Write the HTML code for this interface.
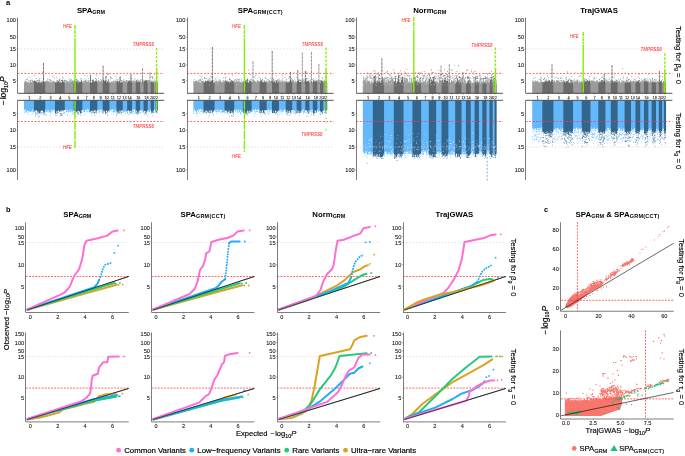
<!DOCTYPE html>
<html><head><meta charset="utf-8"><style>
html,body{margin:0;padding:0;background:#fff;}
svg{display:block;font-family:"Liberation Sans", sans-serif;will-change:transform;}
</style></head><body>
<svg width="685" height="456" viewBox="0 0 685 456">
<rect width="685" height="456" fill="#fff"/>
<text x="90.9" y="12.7" font-size="7.8" font-weight="bold" text-anchor="middle">SPA<tspan font-size="5.4" dy="1.1">GRM</tspan></text>
<line x1="17.6" y1="49" x2="164.2" y2="49" stroke="#c8c8c8" stroke-width="0.5" stroke-dasharray="1.6,1.6" />
<path fill="#9b9b9b" d="M24 83h10.35v10.3h-10.35zM24 81.68h0.5v1.37h-0.5zM24.5 82.16h0.5v0.89h-0.5zM25 80.99h0.5v2.06h-0.5zM25.5 82.46h0.5v0.59h-0.5zM26 81.21h0.5v1.84h-0.5zM26.5 81.58h0.5v1.47h-0.5zM27 82.53h0.5v0.52h-0.5zM27.5 81.27h0.5v1.78h-0.5zM28 82.64h0.5v0.41h-0.5zM28.5 81.43h0.5v1.62h-0.5zM29 82.47h0.5v0.58h-0.5zM29.5 82.38h0.5v0.67h-0.5zM30 81.45h0.5v1.6h-0.5zM30.5 80.68h0.5v2.37h-0.5zM31 82.26h0.5v0.79h-0.5zM31.5 81.94h0.5v1.11h-0.5zM32 81.03h0.5v2.02h-0.5zM32.5 80.48h0.5v2.57h-0.5zM33 81.13h0.5v1.92h-0.5zM33.5 81.51h0.5v1.54h-0.5zM33.27 80.82h0.8v0.8h-0.8zM32.16 80.24h0.8v0.8h-0.8zM25.37 80.67h0.8v0.8h-0.8zM26.93 77.53h0.8v0.8h-0.8zM25.72 79.18h0.8v0.8h-0.8zM30.07 79.99h0.8v0.8h-0.8zM29.2 80.79h0.8v0.8h-0.8zM24.57 80.46h0.8v0.8h-0.8zM30.46 79.8h0.8v0.8h-0.8zM26.98 79.16h0.8v0.8h-0.8zM28.31 80.21h0.8v0.8h-0.8zM31.55 78.52h0.8v0.8h-0.8zM26.32 79.21h0.8v0.8h-0.8zM28.99 76.76h0.8v0.8h-0.8zM30.93 80.24h0.8v0.8h-0.8zM33.31 80.67h0.8v0.8h-0.8zM44.9 83h10.45v10.3h-10.45zM44.9 81.61h0.5v1.44h-0.5zM45.4 81.37h0.5v1.68h-0.5zM45.9 81.12h0.5v1.93h-0.5zM46.4 80.55h0.5v2.5h-0.5zM46.9 81.45h0.5v1.6h-0.5zM47.4 80.53h0.5v2.52h-0.5zM47.9 81.28h0.5v1.77h-0.5zM48.4 81.22h0.5v1.83h-0.5zM48.9 81.24h0.5v1.81h-0.5zM49.4 82.76h0.5v0.29h-0.5zM49.9 81.41h0.5v1.64h-0.5zM50.4 82.06h0.5v0.99h-0.5zM50.9 82.91h0.5v0.14h-0.5zM51.4 80.73h0.5v2.32h-0.5zM51.9 82.09h0.5v0.96h-0.5zM52.4 81.34h0.5v1.71h-0.5zM52.9 80.86h0.5v2.19h-0.5zM53.4 81.17h0.5v1.88h-0.5zM53.9 81.67h0.5v1.38h-0.5zM54.4 81.25h0.5v1.8h-0.5zM54.9 81.17h0.1v1.88h-0.1zM52.43 80.7h0.8v0.8h-0.8zM50.28 80.35h0.8v0.8h-0.8zM47.56 77.96h0.8v0.8h-0.8zM49.77 79.27h0.8v0.8h-0.8zM52.2 76.05h0.8v0.8h-0.8zM49.16 79.02h0.8v0.8h-0.8zM49.75 79.48h0.8v0.8h-0.8zM51.55 79.72h0.8v0.8h-0.8zM50.02 79.62h0.8v0.8h-0.8zM53.94 78.52h0.8v0.8h-0.8zM53.31 75.22h0.8v0.8h-0.8zM47.39 79.28h0.8v0.8h-0.8zM53.96 77.25h0.8v0.8h-0.8zM46.22 80.66h0.8v0.8h-0.8zM49.14 80.77h0.8v0.8h-0.8zM47.21 80.77h0.8v0.8h-0.8zM64.5 83h9.35v10.3h-9.35zM64.5 81.31h0.5v1.74h-0.5zM65 82.92h0.5v0.13h-0.5zM65.5 80.73h0.5v2.32h-0.5zM66 80.82h0.5v2.23h-0.5zM66.5 81.28h0.5v1.77h-0.5zM67 81.21h0.5v1.84h-0.5zM67.5 80.98h0.5v2.07h-0.5zM68 82.49h0.5v0.56h-0.5zM68.5 80.84h0.5v2.21h-0.5zM69 81.86h0.5v1.19h-0.5zM69.5 82.45h0.5v0.6h-0.5zM70 81.83h0.5v1.22h-0.5zM70.5 80.85h0.5v2.2h-0.5zM71 81.99h0.5v1.06h-0.5zM71.5 80.83h0.5v2.22h-0.5zM72 80.44h0.5v2.61h-0.5zM72.5 81.3h0.5v1.75h-0.5zM73 81.54h0.5v1.51h-0.5zM68.57 78.62h0.8v0.8h-0.8zM71.02 79h0.8v0.8h-0.8zM69.96 80.76h0.8v0.8h-0.8zM65.75 80.33h0.8v0.8h-0.8zM70.82 80.19h0.8v0.8h-0.8zM69.33 80.89h0.8v0.8h-0.8zM65.02 80.29h0.8v0.8h-0.8zM70.21 78.56h0.8v0.8h-0.8zM70.24 80.23h0.8v0.8h-0.8zM68.89 79.67h0.8v0.8h-0.8zM68.46 80.67h0.8v0.8h-0.8zM72.1 80.48h0.8v0.8h-0.8zM72.81 75.41h0.8v0.8h-0.8zM64.65 79.69h0.8v0.8h-0.8zM82 83h8.35v10.3h-8.35zM82 81.53h0.5v1.52h-0.5zM82.5 81.94h0.5v1.11h-0.5zM83 81.08h0.5v1.97h-0.5zM83.5 82.83h0.5v0.22h-0.5zM84 81.73h0.5v1.32h-0.5zM84.5 81.37h0.5v1.68h-0.5zM85 80.46h0.5v2.59h-0.5zM85.5 81h0.5v2.05h-0.5zM86 80.59h0.5v2.46h-0.5zM86.5 81.34h0.5v1.71h-0.5zM87 81.91h0.5v1.14h-0.5zM87.5 81.88h0.5v1.17h-0.5zM88 80.46h0.5v2.59h-0.5zM88.5 80.89h0.5v2.16h-0.5zM89 81.72h0.5v1.33h-0.5zM89.5 82.74h0.5v0.31h-0.5zM85.74 78.68h0.8v0.8h-0.8zM85.15 80.33h0.8v0.8h-0.8zM87.01 75.74h0.8v0.8h-0.8zM83.7 80.85h0.8v0.8h-0.8zM84.54 79.83h0.8v0.8h-0.8zM87.12 80.48h0.8v0.8h-0.8zM87.98 78.23h0.8v0.8h-0.8zM85.79 80.46h0.8v0.8h-0.8zM89.27 80.17h0.8v0.8h-0.8zM88.15 80.4h0.8v0.8h-0.8zM83.66 78.06h0.8v0.8h-0.8zM84.21 74.85h0.8v0.8h-0.8zM97 83h5.95v10.3h-5.95zM97 81.27h0.5v1.78h-0.5zM97.5 81.92h0.5v1.13h-0.5zM98 80.71h0.5v2.34h-0.5zM98.5 80.99h0.5v2.06h-0.5zM99 80.41h0.5v2.64h-0.5zM99.5 82.34h0.5v0.71h-0.5zM100 81.34h0.5v1.71h-0.5zM100.5 80.69h0.5v2.36h-0.5zM101 80.66h0.5v2.39h-0.5zM101.5 80.54h0.5v2.51h-0.5zM102 82.62h0.5v0.43h-0.5zM102.5 81.75h0.1v1.3h-0.1zM97.61 80.5h0.8v0.8h-0.8zM101.96 79.17h0.8v0.8h-0.8zM101.74 79.99h0.8v0.8h-0.8zM101.42 79.73h0.8v0.8h-0.8zM98.33 77.91h0.8v0.8h-0.8zM101.82 80.7h0.8v0.8h-0.8zM100.04 78.99h0.8v0.8h-0.8zM98.11 80h0.8v0.8h-0.8zM109.2 83h7.45v10.3h-7.45zM109.2 82.24h0.5v0.81h-0.5zM109.7 81.43h0.5v1.62h-0.5zM110.2 82.38h0.5v0.67h-0.5zM110.7 81.41h0.5v1.64h-0.5zM111.2 81.26h0.5v1.79h-0.5zM111.7 82.62h0.5v0.43h-0.5zM112.2 81.02h0.5v2.03h-0.5zM112.7 82.42h0.5v0.63h-0.5zM113.2 80.84h0.5v2.21h-0.5zM113.7 80.76h0.5v2.29h-0.5zM114.2 81.26h0.5v1.79h-0.5zM114.7 82.55h0.5v0.5h-0.5zM115.2 81.28h0.5v1.77h-0.5zM115.7 81.55h0.5v1.5h-0.5zM116.2 80.48h0.1v2.57h-0.1zM110.1 77.03h0.8v0.8h-0.8zM115.77 78.29h0.8v0.8h-0.8zM114.58 80.49h0.8v0.8h-0.8zM115.68 79.57h0.8v0.8h-0.8zM115.51 75.97h0.8v0.8h-0.8zM110.29 77.81h0.8v0.8h-0.8zM115.34 80.78h0.8v0.8h-0.8zM111.52 78.1h0.8v0.8h-0.8zM110.25 76.38h0.8v0.8h-0.8zM111.01 77.54h0.8v0.8h-0.8zM110.15 79.52h0.8v0.8h-0.8zM122.5 83h4.95v10.3h-4.95zM122.5 81.65h0.5v1.4h-0.5zM123 80.81h0.5v2.24h-0.5zM123.5 80.91h0.5v2.14h-0.5zM124 80.65h0.5v2.4h-0.5zM124.5 80.88h0.5v2.17h-0.5zM125 81.83h0.5v1.22h-0.5zM125.5 81.18h0.5v1.87h-0.5zM126 81.42h0.5v1.63h-0.5zM126.5 80.75h0.5v2.3h-0.5zM127 81.24h0.1v1.81h-0.1zM123.59 78.87h0.8v0.8h-0.8zM126.46 80.43h0.8v0.8h-0.8zM126.11 80.89h0.8v0.8h-0.8zM123.57 80.38h0.8v0.8h-0.8zM125.55 75.13h0.8v0.8h-0.8zM125.56 80.13h0.8v0.8h-0.8zM126.11 80.12h0.8v0.8h-0.8zM131.7 83h4.4v10.3h-4.4zM131.7 81.3h0.5v1.75h-0.5zM132.2 80.73h0.5v2.32h-0.5zM132.7 82.06h0.5v0.99h-0.5zM133.2 81.3h0.5v1.75h-0.5zM133.7 81.62h0.5v1.43h-0.5zM134.2 80.67h0.5v2.38h-0.5zM134.7 81.84h0.5v1.21h-0.5zM135.2 80.49h0.5v2.56h-0.5zM135.7 81.78h0.05v1.27h-0.05zM132.46 78.52h0.8v0.8h-0.8zM133.47 80.69h0.8v0.8h-0.8zM133.96 80.75h0.8v0.8h-0.8zM134.5 78.53h0.8v0.8h-0.8zM134.49 78.94h0.8v0.8h-0.8zM132.96 79.89h0.8v0.8h-0.8zM139.8 83h3.95v10.3h-3.95zM139.8 81.14h0.5v1.91h-0.5zM140.3 80.81h0.5v2.24h-0.5zM140.8 81.45h0.5v1.6h-0.5zM141.3 81.93h0.5v1.12h-0.5zM141.8 80.86h0.5v2.19h-0.5zM142.3 80.59h0.5v2.46h-0.5zM142.8 80.77h0.5v2.28h-0.5zM143.3 80.9h0.1v2.15h-0.1zM142.44 78.64h0.8v0.8h-0.8zM141.79 79.71h0.8v0.8h-0.8zM140.77 78.94h0.8v0.8h-0.8zM140.1 79.83h0.8v0.8h-0.8zM142.23 78.42h0.8v0.8h-0.8zM147.5 83h3.45v10.3h-3.45zM147.5 80.67h0.5v2.38h-0.5zM148 81.6h0.5v1.45h-0.5zM148.5 80.64h0.5v2.41h-0.5zM149 81.82h0.5v1.23h-0.5zM149.5 81.55h0.5v1.5h-0.5zM150 81.86h0.5v1.19h-0.5zM150.5 81.44h0.1v1.61h-0.1zM147.98 80.91h0.8v0.8h-0.8zM149.38 80.26h0.8v0.8h-0.8zM148.14 80.2h0.8v0.8h-0.8zM148.75 79.8h0.8v0.8h-0.8zM153.6 83h2.45v10.3h-2.45zM153.6 82.87h0.5v0.18h-0.5zM154.1 80.66h0.5v2.39h-0.5zM154.6 81.35h0.5v1.7h-0.5zM155.1 81.16h0.5v1.89h-0.5zM155.6 80.96h0.1v2.09h-0.1zM154.94 79.98h0.8v0.8h-0.8zM154.27 74.45h0.8v0.8h-0.8zM153.72 78.89h0.8v0.8h-0.8z"/>
<path fill="#63b8fc" d="M24 100.6h10.35v8.4h-10.35zM24 108.95h0.5v0.55h-0.5zM24.5 108.95h0.5v1.76h-0.5zM25 108.95h0.5v0.14h-0.5zM25.5 108.95h0.5v2.41h-0.5zM26 108.95h0.5v2.75h-0.5zM26.5 108.95h0.5v2.06h-0.5zM27 108.95h0.5v3.15h-0.5zM27.5 108.95h0.5v1.13h-0.5zM28 108.95h0.5v2.5h-0.5zM28.5 108.95h0.5v2.14h-0.5zM29 108.95h0.5v2.09h-0.5zM29.5 108.95h0.5v1.64h-0.5zM30 108.95h0.5v3.02h-0.5zM30.5 108.95h0.5v3.4h-0.5zM31 108.95h0.5v1.71h-0.5zM31.5 108.95h0.5v2.39h-0.5zM32 108.95h0.5v0.22h-0.5zM32.5 108.95h0.5v2.53h-0.5zM33 108.95h0.5v2.33h-0.5zM33.5 108.95h0.5v3.58h-0.5zM31.73 111.36h0.6v0.6h-0.6zM27.63 112.64h0.6v0.6h-0.6zM24.21 111.83h0.6v0.6h-0.6zM25.58 111.01h0.6v0.6h-0.6zM24.55 113.24h0.6v0.6h-0.6zM25.22 111.27h0.6v0.6h-0.6zM27.67 114.22h0.6v0.6h-0.6zM24.76 111.79h0.6v0.6h-0.6zM29.16 114.38h0.6v0.6h-0.6zM31.7 114.12h0.6v0.6h-0.6zM26.62 111.69h0.6v0.6h-0.6zM27.37 114.39h0.6v0.6h-0.6zM33 111.07h0.6v0.6h-0.6zM25.66 111.24h0.6v0.6h-0.6zM26.19 111.91h0.6v0.6h-0.6zM29.54 111.31h0.6v0.6h-0.6zM24.04 111.7h0.6v0.6h-0.6zM27.47 112.19h0.6v0.6h-0.6zM32.96 112.75h0.6v0.6h-0.6zM28.85 112.4h0.6v0.6h-0.6zM30.36 110.89h0.6v0.6h-0.6zM32.46 113.32h0.6v0.6h-0.6zM44.9 100.6h10.45v8.4h-10.45zM44.9 108.95h0.5v3.23h-0.5zM45.4 108.95h0.5v0.56h-0.5zM45.9 108.95h0.5v2.58h-0.5zM46.4 108.95h0.5v2.38h-0.5zM46.9 108.95h0.5v0.51h-0.5zM47.4 108.95h0.5v3.18h-0.5zM47.9 108.95h0.5v3.48h-0.5zM48.4 108.95h0.5v0.79h-0.5zM48.9 108.95h0.5v3.43h-0.5zM49.4 108.95h0.5v1.43h-0.5zM49.9 108.95h0.5v1.75h-0.5zM50.4 108.95h0.5v3.56h-0.5zM50.9 108.95h0.5v3h-0.5zM51.4 108.95h0.5v0.58h-0.5zM51.9 108.95h0.5v1.55h-0.5zM52.4 108.95h0.5v1.86h-0.5zM52.9 108.95h0.5v1.22h-0.5zM53.4 108.95h0.5v0.7h-0.5zM53.9 108.95h0.5v1.15h-0.5zM54.4 108.95h0.5v2.6h-0.5zM54.9 108.95h0.1v0.07h-0.1zM50.16 111.77h0.6v0.6h-0.6zM45.07 111.47h0.6v0.6h-0.6zM50.83 112h0.6v0.6h-0.6zM52.39 116.74h0.6v0.6h-0.6zM45.9 111.31h0.6v0.6h-0.6zM45.28 113.32h0.6v0.6h-0.6zM47.47 111.03h0.6v0.6h-0.6zM48.91 114.84h0.6v0.6h-0.6zM52.68 111.3h0.6v0.6h-0.6zM46.32 114.99h0.6v0.6h-0.6zM50.32 112.81h0.6v0.6h-0.6zM45.75 110.9h0.6v0.6h-0.6zM51.44 111.72h0.6v0.6h-0.6zM45.59 115.44h0.6v0.6h-0.6zM50.93 113.5h0.6v0.6h-0.6zM45.7 114.03h0.6v0.6h-0.6zM45.53 114.11h0.6v0.6h-0.6zM49.21 111.49h0.6v0.6h-0.6zM50.15 115.15h0.6v0.6h-0.6zM47.44 111.03h0.6v0.6h-0.6zM49.91 111.25h0.6v0.6h-0.6zM64.5 100.6h9.35v8.4h-9.35zM64.5 108.95h0.5v1.62h-0.5zM65 108.95h0.5v0.97h-0.5zM65.5 108.95h0.5v0.76h-0.5zM66 108.95h0.5v3.4h-0.5zM66.5 108.95h0.5v0.76h-0.5zM67 108.95h0.5v2.09h-0.5zM67.5 108.95h0.5v0.51h-0.5zM68 108.95h0.5v1.89h-0.5zM68.5 108.95h0.5v3.43h-0.5zM69 108.95h0.5v0.48h-0.5zM69.5 108.95h0.5v2.95h-0.5zM70 108.95h0.5v1.83h-0.5zM70.5 108.95h0.5v3.19h-0.5zM71 108.95h0.5v2.53h-0.5zM71.5 108.95h0.5v0.83h-0.5zM72 108.95h0.5v3.23h-0.5zM72.5 108.95h0.5v1.75h-0.5zM73 108.95h0.5v0.09h-0.5zM64.53 111.93h0.6v0.6h-0.6zM68.29 111.4h0.6v0.6h-0.6zM65.68 111.5h0.6v0.6h-0.6zM67.16 113.86h0.6v0.6h-0.6zM64.51 113.12h0.6v0.6h-0.6zM71.55 111.01h0.6v0.6h-0.6zM72.28 112.88h0.6v0.6h-0.6zM72.07 111.37h0.6v0.6h-0.6zM67.63 111.63h0.6v0.6h-0.6zM72.89 112.28h0.6v0.6h-0.6zM67.53 111.73h0.6v0.6h-0.6zM66.81 110.88h0.6v0.6h-0.6zM65.35 113.8h0.6v0.6h-0.6zM66.9 115.37h0.6v0.6h-0.6zM66.59 111.31h0.6v0.6h-0.6zM68.79 111.15h0.6v0.6h-0.6zM67.64 116.01h0.6v0.6h-0.6zM71.93 113.59h0.6v0.6h-0.6zM69.8 114.88h0.6v0.6h-0.6zM82 100.6h8.35v8.4h-8.35zM82 108.95h0.5v1.78h-0.5zM82.5 108.95h0.5v0.67h-0.5zM83 108.95h0.5v0.8h-0.5zM83.5 108.95h0.5v1.5h-0.5zM84 108.95h0.5v2.4h-0.5zM84.5 108.95h0.5v3.42h-0.5zM85 108.95h0.5v0.53h-0.5zM85.5 108.95h0.5v1.42h-0.5zM86 108.95h0.5v0.77h-0.5zM86.5 108.95h0.5v3.51h-0.5zM87 108.95h0.5v0.51h-0.5zM87.5 108.95h0.5v0.19h-0.5zM88 108.95h0.5v0.22h-0.5zM88.5 108.95h0.5v1.42h-0.5zM89 108.95h0.5v3.23h-0.5zM89.5 108.95h0.5v3.18h-0.5zM88.89 111.47h0.6v0.6h-0.6zM83.37 115.38h0.6v0.6h-0.6zM87.52 110.85h0.6v0.6h-0.6zM86.92 111.59h0.6v0.6h-0.6zM84.77 111.47h0.6v0.6h-0.6zM83.25 110.8h0.6v0.6h-0.6zM84.07 111.52h0.6v0.6h-0.6zM89.07 111.02h0.6v0.6h-0.6zM89.14 111.19h0.6v0.6h-0.6zM84.64 113.67h0.6v0.6h-0.6zM88.08 111.74h0.6v0.6h-0.6zM82.36 111.87h0.6v0.6h-0.6zM84.76 115h0.6v0.6h-0.6zM83.43 111.55h0.6v0.6h-0.6zM88.64 110.85h0.6v0.6h-0.6zM85.04 113.58h0.6v0.6h-0.6zM97 100.6h5.95v8.4h-5.95zM97 108.95h0.5v0.51h-0.5zM97.5 108.95h0.5v0.73h-0.5zM98 108.95h0.5v0.92h-0.5zM98.5 108.95h0.5v2.16h-0.5zM99 108.95h0.5v2.35h-0.5zM99.5 108.95h0.5v0.73h-0.5zM100 108.95h0.5v0.04h-0.5zM100.5 108.95h0.5v1.18h-0.5zM101 108.95h0.5v2.44h-0.5zM101.5 108.95h0.5v0.67h-0.5zM102 108.95h0.5v1.12h-0.5zM102.5 108.95h0.1v0.73h-0.1zM100.98 112.12h0.6v0.6h-0.6zM97.32 110.98h0.6v0.6h-0.6zM98.98 112.13h0.6v0.6h-0.6zM100.2 110.96h0.6v0.6h-0.6zM97.82 112.78h0.6v0.6h-0.6zM99.05 111.36h0.6v0.6h-0.6zM98.54 115.9h0.6v0.6h-0.6zM98.56 112.19h0.6v0.6h-0.6zM98.79 111.7h0.6v0.6h-0.6zM98.82 111.17h0.6v0.6h-0.6zM100.64 111.18h0.6v0.6h-0.6zM109.2 100.6h7.45v8.4h-7.45zM109.2 108.95h0.5v3.31h-0.5zM109.7 108.95h0.5v0.75h-0.5zM110.2 108.95h0.5v0.95h-0.5zM110.7 108.95h0.5v1.82h-0.5zM111.2 108.95h0.5v1.15h-0.5zM111.7 108.95h0.5v0.13h-0.5zM112.2 108.95h0.5v0.66h-0.5zM112.7 108.95h0.5v0.58h-0.5zM113.2 108.95h0.5v3.37h-0.5zM113.7 108.95h0.5v2.45h-0.5zM114.2 108.95h0.5v3.22h-0.5zM114.7 108.95h0.5v0.61h-0.5zM115.2 108.95h0.5v2.83h-0.5zM115.7 108.95h0.5v0.41h-0.5zM116.2 108.95h0.1v1.91h-0.1zM113.34 111.54h0.6v0.6h-0.6zM114.87 112.15h0.6v0.6h-0.6zM112.97 114.37h0.6v0.6h-0.6zM113.29 111.64h0.6v0.6h-0.6zM114.38 111.31h0.6v0.6h-0.6zM115.64 112.24h0.6v0.6h-0.6zM111.54 113.21h0.6v0.6h-0.6zM112.07 111.12h0.6v0.6h-0.6zM114.03 110.88h0.6v0.6h-0.6zM114.53 111.29h0.6v0.6h-0.6zM113.01 112.62h0.6v0.6h-0.6zM111.23 110.8h0.6v0.6h-0.6zM109.42 111.07h0.6v0.6h-0.6zM122.5 100.6h4.95v8.4h-4.95zM122.5 108.95h0.5v0.86h-0.5zM123 108.95h0.5v3.27h-0.5zM123.5 108.95h0.5v2.27h-0.5zM124 108.95h0.5v2.49h-0.5zM124.5 108.95h0.5v2.39h-0.5zM125 108.95h0.5v3.52h-0.5zM125.5 108.95h0.5v1.69h-0.5zM126 108.95h0.5v3.02h-0.5zM126.5 108.95h0.5v2.51h-0.5zM127 108.95h0.1v3.09h-0.1zM124.25 112.95h0.6v0.6h-0.6zM124.78 111.41h0.6v0.6h-0.6zM123.35 112.42h0.6v0.6h-0.6zM122.81 114.83h0.6v0.6h-0.6zM123.08 110.85h0.6v0.6h-0.6zM122.93 115.21h0.6v0.6h-0.6zM123.88 111.05h0.6v0.6h-0.6zM122.61 110.87h0.6v0.6h-0.6zM125.27 112.47h0.6v0.6h-0.6zM125.29 113.02h0.6v0.6h-0.6zM131.7 100.6h4.4v8.4h-4.4zM131.7 108.95h0.5v1.42h-0.5zM132.2 108.95h0.5v3.21h-0.5zM132.7 108.95h0.5v0.31h-0.5zM133.2 108.95h0.5v3.2h-0.5zM133.7 108.95h0.5v0.09h-0.5zM134.2 108.95h0.5v0.74h-0.5zM134.7 108.95h0.5v0.95h-0.5zM135.2 108.95h0.5v3.24h-0.5zM135.7 108.95h0.05v1.8h-0.05zM133.01 114.39h0.6v0.6h-0.6zM132.51 111.83h0.6v0.6h-0.6zM133.53 113.14h0.6v0.6h-0.6zM134.3 112.53h0.6v0.6h-0.6zM132.9 111.46h0.6v0.6h-0.6zM132.24 113.89h0.6v0.6h-0.6zM133.98 113.06h0.6v0.6h-0.6zM132.28 111.76h0.6v0.6h-0.6zM139.8 100.6h3.95v8.4h-3.95zM139.8 108.95h0.5v2.27h-0.5zM140.3 108.95h0.5v0.9h-0.5zM140.8 108.95h0.5v1.52h-0.5zM141.3 108.95h0.5v1.64h-0.5zM141.8 108.95h0.5v2.24h-0.5zM142.3 108.95h0.5v1.47h-0.5zM142.8 108.95h0.5v2.43h-0.5zM143.3 108.95h0.1v3.35h-0.1zM140.35 112.57h0.6v0.6h-0.6zM142.13 111.62h0.6v0.6h-0.6zM141.27 116.92h0.6v0.6h-0.6zM139.91 112.11h0.6v0.6h-0.6zM140.28 113.34h0.6v0.6h-0.6zM142.62 112.02h0.6v0.6h-0.6zM140.1 112.22h0.6v0.6h-0.6zM147.5 100.6h3.45v8.4h-3.45zM147.5 108.95h0.5v2.29h-0.5zM148 108.95h0.5v2.37h-0.5zM148.5 108.95h0.5v1.3h-0.5zM149 108.95h0.5v3.34h-0.5zM149.5 108.95h0.5v3.08h-0.5zM150 108.95h0.5v0.21h-0.5zM150.5 108.95h0.1v2.98h-0.1zM149.76 113.35h0.6v0.6h-0.6zM147.85 113.77h0.6v0.6h-0.6zM149.08 110.83h0.6v0.6h-0.6zM147.53 115.85h0.6v0.6h-0.6zM149.14 111.28h0.6v0.6h-0.6zM147.75 111.06h0.6v0.6h-0.6zM153.6 100.6h2.45v8.4h-2.45zM153.6 108.95h0.5v2.29h-0.5zM154.1 108.95h0.5v0.1h-0.5zM154.6 108.95h0.5v2.19h-0.5zM155.1 108.95h0.5v2.46h-0.5zM155.6 108.95h0.1v3.35h-0.1zM154.37 111.9h0.6v0.6h-0.6zM154.95 110.86h0.6v0.6h-0.6zM154.68 112.44h0.6v0.6h-0.6z"/>
<path fill="#6b6b6b" d="M34 83h11.25v10.3h-11.25zM34 80.6h0.5v2.45h-0.5zM34.5 80.73h0.5v2.32h-0.5zM35 81.52h0.5v1.53h-0.5zM35.5 81.5h0.5v1.55h-0.5zM36 82.33h0.5v0.72h-0.5zM36.5 81.02h0.5v2.03h-0.5zM37 82.51h0.5v0.54h-0.5zM37.5 82.48h0.5v0.57h-0.5zM38 81.98h0.5v1.07h-0.5zM38.5 82.13h0.5v0.92h-0.5zM39 81.64h0.5v1.41h-0.5zM39.5 82.56h0.5v0.49h-0.5zM40 82.98h0.5v0.07h-0.5zM40.5 82.16h0.5v0.89h-0.5zM41 82.34h0.5v0.71h-0.5zM41.5 81.58h0.5v1.47h-0.5zM42 82.71h0.5v0.34h-0.5zM42.5 80.6h0.5v2.45h-0.5zM43 81.06h0.5v1.99h-0.5zM43.5 82.17h0.5v0.88h-0.5zM44 81.86h0.5v1.19h-0.5zM44.5 81.62h0.4v1.43h-0.4zM37.79 80.66h0.8v0.8h-0.8zM42.83 70.97h0.8v0.8h-0.8zM38.85 79.6h0.8v0.8h-0.8zM34.89 80.7h0.8v0.8h-0.8zM37.56 80.3h0.8v0.8h-0.8zM42.62 80.57h0.8v0.8h-0.8zM34.24 74.89h0.8v0.8h-0.8zM39.49 80.6h0.8v0.8h-0.8zM39.65 80.87h0.8v0.8h-0.8zM39.49 73.24h0.8v0.8h-0.8zM42.98 78.54h0.8v0.8h-0.8zM36.72 80.01h0.8v0.8h-0.8zM35.74 77.96h0.8v0.8h-0.8zM39.54 77.9h0.8v0.8h-0.8zM37.43 80.42h0.8v0.8h-0.8zM42.44 72.53h0.8v0.8h-0.8zM42.87 77.64h0.8v0.8h-0.8zM55 83h9.85v10.3h-9.85zM55 82.31h0.5v0.74h-0.5zM55.5 82.13h0.5v0.92h-0.5zM56 82.57h0.5v0.48h-0.5zM56.5 82h0.5v1.05h-0.5zM57 81.71h0.5v1.34h-0.5zM57.5 81.72h0.5v1.33h-0.5zM58 80.8h0.5v2.25h-0.5zM58.5 81.76h0.5v1.29h-0.5zM59 81.28h0.5v1.77h-0.5zM59.5 82.08h0.5v0.97h-0.5zM60 81.62h0.5v1.43h-0.5zM60.5 82.77h0.5v0.28h-0.5zM61 81.87h0.5v1.18h-0.5zM61.5 82.79h0.5v0.26h-0.5zM62 80.84h0.5v2.21h-0.5zM62.5 81.18h0.5v1.87h-0.5zM63 82.04h0.5v1.01h-0.5zM63.5 81.34h0.5v1.71h-0.5zM64 80.5h0.5v2.55h-0.5zM55.96 77.5h0.8v0.8h-0.8zM58.89 79.55h0.8v0.8h-0.8zM62.51 79.92h0.8v0.8h-0.8zM59.56 78.59h0.8v0.8h-0.8zM63.84 80.08h0.8v0.8h-0.8zM62.49 78.47h0.8v0.8h-0.8zM60.72 79.88h0.8v0.8h-0.8zM58.13 80.81h0.8v0.8h-0.8zM56.17 80.77h0.8v0.8h-0.8zM61.67 80.33h0.8v0.8h-0.8zM56.47 80.74h0.8v0.8h-0.8zM62.57 76.83h0.8v0.8h-0.8zM61.03 80.26h0.8v0.8h-0.8zM57.18 80.23h0.8v0.8h-0.8zM59.14 80.58h0.8v0.8h-0.8zM73.5 83h8.85v10.3h-8.85zM73.5 80.49h0.5v2.56h-0.5zM74 81.19h0.5v1.86h-0.5zM74.5 80.87h0.5v2.18h-0.5zM75 82.57h0.5v0.48h-0.5zM75.5 80.84h0.5v2.21h-0.5zM76 81.39h0.5v1.66h-0.5zM76.5 80.81h0.5v2.24h-0.5zM77 81h0.5v2.05h-0.5zM77.5 81.77h0.5v1.28h-0.5zM78 82.57h0.5v0.48h-0.5zM78.5 80.52h0.5v2.53h-0.5zM79 82.25h0.5v0.8h-0.5zM79.5 81.34h0.5v1.71h-0.5zM80 81.63h0.5v1.42h-0.5zM80.5 81.74h0.5v1.31h-0.5zM81 80.83h0.5v2.22h-0.5zM81.5 80.44h0.5v2.61h-0.5zM75.58 78.79h0.8v0.8h-0.8zM75.91 79.29h0.8v0.8h-0.8zM76.65 80.55h0.8v0.8h-0.8zM74.79 80.45h0.8v0.8h-0.8zM80.75 79.55h0.8v0.8h-0.8zM75.26 76.19h0.8v0.8h-0.8zM81.47 79.72h0.8v0.8h-0.8zM74.62 80.49h0.8v0.8h-0.8zM74.23 80.08h0.8v0.8h-0.8zM74.23 80.37h0.8v0.8h-0.8zM75.57 79.23h0.8v0.8h-0.8zM80.6 78.15h0.8v0.8h-0.8zM76.8 79.85h0.8v0.8h-0.8zM90 83h7.35v10.3h-7.35zM90 80.78h0.5v2.27h-0.5zM90.5 82.62h0.5v0.43h-0.5zM91 82.65h0.5v0.4h-0.5zM91.5 82.51h0.5v0.54h-0.5zM92 80.53h0.5v2.52h-0.5zM92.5 81.85h0.5v1.2h-0.5zM93 80.82h0.5v2.23h-0.5zM93.5 80.56h0.5v2.49h-0.5zM94 81.64h0.5v1.41h-0.5zM94.5 81.81h0.5v1.24h-0.5zM95 80.47h0.5v2.58h-0.5zM95.5 81.05h0.5v2h-0.5zM96 81.84h0.5v1.21h-0.5zM96.5 80.87h0.5v2.18h-0.5zM92.06 80.28h0.8v0.8h-0.8zM90.02 78.1h0.8v0.8h-0.8zM95.96 78.91h0.8v0.8h-0.8zM96.13 80.87h0.8v0.8h-0.8zM91.52 79.63h0.8v0.8h-0.8zM96.22 74.77h0.8v0.8h-0.8zM92.51 80.34h0.8v0.8h-0.8zM92.79 79.56h0.8v0.8h-0.8zM96.03 80.52h0.8v0.8h-0.8zM95.22 78.24h0.8v0.8h-0.8zM95.35 77.96h0.8v0.8h-0.8zM102.6 83h6.95v10.3h-6.95zM102.6 82.88h0.5v0.17h-0.5zM103.1 80.56h0.5v2.49h-0.5zM103.6 81.45h0.5v1.6h-0.5zM104.1 80.69h0.5v2.36h-0.5zM104.6 81.49h0.5v1.56h-0.5zM105.1 80.59h0.5v2.46h-0.5zM105.6 81.37h0.5v1.68h-0.5zM106.1 82.13h0.5v0.92h-0.5zM106.6 82.79h0.5v0.26h-0.5zM107.1 81.18h0.5v1.87h-0.5zM107.6 81.01h0.5v2.04h-0.5zM108.1 80.54h0.5v2.51h-0.5zM108.6 82.39h0.5v0.66h-0.5zM109.1 81.04h0.1v2.01h-0.1zM104.86 79.52h0.8v0.8h-0.8zM103.49 80.25h0.8v0.8h-0.8zM105.78 75.73h0.8v0.8h-0.8zM103.26 79.57h0.8v0.8h-0.8zM107.51 74.11h0.8v0.8h-0.8zM103.8 80.65h0.8v0.8h-0.8zM108.35 73.5h0.8v0.8h-0.8zM105.54 80.81h0.8v0.8h-0.8zM108.25 79.94h0.8v0.8h-0.8zM108.12 78.98h0.8v0.8h-0.8zM116.3 83h6.55v10.3h-6.55zM116.3 81.06h0.5v1.99h-0.5zM116.8 81.43h0.5v1.62h-0.5zM117.3 81.26h0.5v1.79h-0.5zM117.8 80.57h0.5v2.48h-0.5zM118.3 82.23h0.5v0.82h-0.5zM118.8 81.93h0.5v1.12h-0.5zM119.3 80.99h0.5v2.06h-0.5zM119.8 82.73h0.5v0.32h-0.5zM120.3 82.93h0.5v0.12h-0.5zM120.8 81.6h0.5v1.45h-0.5zM121.3 82.32h0.5v0.73h-0.5zM121.8 81.6h0.5v1.45h-0.5zM122.3 81.94h0.2v1.11h-0.2zM119.63 79.14h0.8v0.8h-0.8zM117.46 78.96h0.8v0.8h-0.8zM119.01 80.63h0.8v0.8h-0.8zM121.64 80.36h0.8v0.8h-0.8zM117.15 80.72h0.8v0.8h-0.8zM119.94 76.82h0.8v0.8h-0.8zM120.76 79.89h0.8v0.8h-0.8zM117.81 80.9h0.8v0.8h-0.8zM119.98 79.27h0.8v0.8h-0.8zM127.1 83h4.95v10.3h-4.95zM127.1 82.49h0.5v0.56h-0.5zM127.6 81.1h0.5v1.95h-0.5zM128.1 81.58h0.5v1.47h-0.5zM128.6 80.7h0.5v2.35h-0.5zM129.1 80.69h0.5v2.36h-0.5zM129.6 80.57h0.5v2.48h-0.5zM130.1 82.49h0.5v0.56h-0.5zM130.6 80.61h0.5v2.44h-0.5zM131.1 80.54h0.5v2.51h-0.5zM131.6 80.49h0.1v2.56h-0.1zM127.54 80.46h0.8v0.8h-0.8zM127.56 80.85h0.8v0.8h-0.8zM130.58 77.58h0.8v0.8h-0.8zM129.7 77.43h0.8v0.8h-0.8zM129.69 80.24h0.8v0.8h-0.8zM127.51 80.71h0.8v0.8h-0.8zM130.21 80.46h0.8v0.8h-0.8zM135.75 83h4.4v10.3h-4.4zM135.75 80.77h0.5v2.28h-0.5zM136.25 81.13h0.5v1.92h-0.5zM136.75 82.25h0.5v0.8h-0.5zM137.25 81.36h0.5v1.69h-0.5zM137.75 80.58h0.5v2.47h-0.5zM138.25 81.9h0.5v1.15h-0.5zM138.75 82.04h0.5v1.01h-0.5zM139.25 81.73h0.5v1.32h-0.5zM139.75 80.9h0.05v2.15h-0.05zM138.75 80.58h0.8v0.8h-0.8zM136.3 80.35h0.8v0.8h-0.8zM136.91 79.44h0.8v0.8h-0.8zM136.32 80.12h0.8v0.8h-0.8zM136.42 73.53h0.8v0.8h-0.8zM138.34 80.71h0.8v0.8h-0.8zM143.4 83h4.45v10.3h-4.45zM143.4 81.2h0.5v1.85h-0.5zM143.9 80.87h0.5v2.18h-0.5zM144.4 81.26h0.5v1.79h-0.5zM144.9 81.01h0.5v2.04h-0.5zM145.4 80.68h0.5v2.37h-0.5zM145.9 81.24h0.5v1.81h-0.5zM146.4 81.48h0.5v1.57h-0.5zM146.9 80.48h0.5v2.57h-0.5zM147.4 81.98h0.1v1.07h-0.1zM145.86 79.92h0.8v0.8h-0.8zM146.15 80.66h0.8v0.8h-0.8zM146.94 80.04h0.8v0.8h-0.8zM143.6 80.28h0.8v0.8h-0.8zM144.84 80.89h0.8v0.8h-0.8zM144.91 79.83h0.8v0.8h-0.8zM150.6 83h3.35v10.3h-3.35zM150.6 81.91h0.5v1.14h-0.5zM151.1 80.77h0.5v2.28h-0.5zM151.6 81.62h0.5v1.43h-0.5zM152.1 82.16h0.5v0.89h-0.5zM152.6 80.55h0.5v2.5h-0.5zM153.1 80.74h0.5v2.31h-0.5zM151.02 76.48h0.8v0.8h-0.8zM152.12 77.88h0.8v0.8h-0.8zM152.27 76.43h0.8v0.8h-0.8zM152.57 77.27h0.8v0.8h-0.8zM155.7 83h2.15v10.3h-2.15zM155.7 81.64h0.5v1.41h-0.5zM156.2 80.62h0.5v2.43h-0.5zM156.7 81.58h0.5v1.47h-0.5zM157.2 81.34h0.3v1.71h-0.3zM156.38 77.98h0.8v0.8h-0.8zM155.97 79.78h0.8v0.8h-0.8z"/>
<path fill="#33668f" d="M34 100.6h11.25v9.4h-11.25zM34 109.95h0.5v0.82h-0.5zM34.5 109.95h0.5v1.86h-0.5zM35 109.95h0.5v1.28h-0.5zM35.5 109.95h0.5v0.1h-0.5zM36 109.95h0.5v0.1h-0.5zM36.5 109.95h0.5v1.01h-0.5zM37 109.95h0.5v0.93h-0.5zM37.5 109.95h0.5v2.49h-0.5zM38 109.95h0.5v3.44h-0.5zM38.5 109.95h0.5v1.61h-0.5zM39 109.95h0.5v3.37h-0.5zM39.5 109.95h0.5v3.56h-0.5zM40 109.95h0.5v3.44h-0.5zM40.5 109.95h0.5v1.31h-0.5zM41 109.95h0.5v0.79h-0.5zM41.5 109.95h0.5v0.82h-0.5zM42 109.95h0.5v0.71h-0.5zM42.5 109.95h0.5v0.74h-0.5zM43 109.95h0.5v2.25h-0.5zM43.5 109.95h0.5v3.24h-0.5zM44 109.95h0.5v3.03h-0.5zM44.5 109.95h0.4v1.73h-0.4zM40.73 114.48h0.6v0.6h-0.6zM34.87 113.6h0.6v0.6h-0.6zM43.37 114.34h0.6v0.6h-0.6zM41.73 112.88h0.6v0.6h-0.6zM35.84 114.39h0.6v0.6h-0.6zM37.42 114.49h0.6v0.6h-0.6zM44.01 112.64h0.6v0.6h-0.6zM38.13 116.69h0.6v0.6h-0.6zM41.47 112.11h0.6v0.6h-0.6zM35.31 112.07h0.6v0.6h-0.6zM43.32 114.54h0.6v0.6h-0.6zM35.51 114.72h0.6v0.6h-0.6zM44.1 113.58h0.6v0.6h-0.6zM37.61 113.13h0.6v0.6h-0.6zM35.35 111.82h0.6v0.6h-0.6zM44 113.55h0.6v0.6h-0.6zM39.42 116.32h0.6v0.6h-0.6zM38.47 115.22h0.6v0.6h-0.6zM42.51 112.2h0.6v0.6h-0.6zM36.59 112.38h0.6v0.6h-0.6zM36.48 113.27h0.6v0.6h-0.6zM36.67 112.71h0.6v0.6h-0.6zM35.35 115.81h0.6v0.6h-0.6zM55 100.6h9.85v9.4h-9.85zM55 109.95h0.5v3.46h-0.5zM55.5 109.95h0.5v3.5h-0.5zM56 109.95h0.5v1.97h-0.5zM56.5 109.95h0.5v0.88h-0.5zM57 109.95h0.5v3.48h-0.5zM57.5 109.95h0.5v1.11h-0.5zM58 109.95h0.5v1.28h-0.5zM58.5 109.95h0.5v0h-0.5zM59 109.95h0.5v1.37h-0.5zM59.5 109.95h0.5v1.71h-0.5zM60 109.95h0.5v1.81h-0.5zM60.5 109.95h0.5v0.72h-0.5zM61 109.95h0.5v1.82h-0.5zM61.5 109.95h0.5v0.02h-0.5zM62 109.95h0.5v0.95h-0.5zM62.5 109.95h0.5v0.32h-0.5zM63 109.95h0.5v1.44h-0.5zM63.5 109.95h0.5v0.15h-0.5zM64 109.95h0.5v0.08h-0.5zM57.71 112.24h0.6v0.6h-0.6zM60.21 113.06h0.6v0.6h-0.6zM61.68 113.59h0.6v0.6h-0.6zM61.37 115.32h0.6v0.6h-0.6zM58.47 112.46h0.6v0.6h-0.6zM63.76 112.07h0.6v0.6h-0.6zM61.44 113.52h0.6v0.6h-0.6zM55.39 114.81h0.6v0.6h-0.6zM62.94 113.45h0.6v0.6h-0.6zM61.53 114.59h0.6v0.6h-0.6zM56.24 113.04h0.6v0.6h-0.6zM59.49 114.8h0.6v0.6h-0.6zM62.16 114.72h0.6v0.6h-0.6zM60.2 115.52h0.6v0.6h-0.6zM61.08 113.77h0.6v0.6h-0.6zM57.05 111.85h0.6v0.6h-0.6zM56.18 112.55h0.6v0.6h-0.6zM55.93 114.81h0.6v0.6h-0.6zM59.97 113.45h0.6v0.6h-0.6zM60.57 113.7h0.6v0.6h-0.6zM73.5 100.6h8.85v9.4h-8.85zM73.5 109.95h0.5v1.22h-0.5zM74 109.95h0.5v0.22h-0.5zM74.5 109.95h0.5v1h-0.5zM75 109.95h0.5v3.48h-0.5zM75.5 109.95h0.5v0.45h-0.5zM76 109.95h0.5v1.81h-0.5zM76.5 109.95h0.5v2.27h-0.5zM77 109.95h0.5v3.11h-0.5zM77.5 109.95h0.5v0.78h-0.5zM78 109.95h0.5v0.98h-0.5zM78.5 109.95h0.5v0.89h-0.5zM79 109.95h0.5v1.44h-0.5zM79.5 109.95h0.5v1.61h-0.5zM80 109.95h0.5v3.43h-0.5zM80.5 109.95h0.5v3.06h-0.5zM81 109.95h0.5v3.14h-0.5zM81.5 109.95h0.5v0.08h-0.5zM73.75 113.86h0.6v0.6h-0.6zM80.58 112.87h0.6v0.6h-0.6zM78.14 111.8h0.6v0.6h-0.6zM76.59 116.16h0.6v0.6h-0.6zM80.02 115.02h0.6v0.6h-0.6zM81.18 112.28h0.6v0.6h-0.6zM74.36 112.08h0.6v0.6h-0.6zM77.63 113.71h0.6v0.6h-0.6zM80.94 113.93h0.6v0.6h-0.6zM78.61 114.21h0.6v0.6h-0.6zM77.11 113.14h0.6v0.6h-0.6zM73.81 114.34h0.6v0.6h-0.6zM75.34 116.01h0.6v0.6h-0.6zM78.6 112.4h0.6v0.6h-0.6zM74.51 112.28h0.6v0.6h-0.6zM78.53 113.8h0.6v0.6h-0.6zM74.39 111.92h0.6v0.6h-0.6zM77.64 113.26h0.6v0.6h-0.6zM90 100.6h7.35v9.4h-7.35zM90 109.95h0.5v2.19h-0.5zM90.5 109.95h0.5v1.18h-0.5zM91 109.95h0.5v1.15h-0.5zM91.5 109.95h0.5v1.3h-0.5zM92 109.95h0.5v2.82h-0.5zM92.5 109.95h0.5v0.28h-0.5zM93 109.95h0.5v0.71h-0.5zM93.5 109.95h0.5v2.71h-0.5zM94 109.95h0.5v0.89h-0.5zM94.5 109.95h0.5v0.23h-0.5zM95 109.95h0.5v0.12h-0.5zM95.5 109.95h0.5v1.99h-0.5zM96 109.95h0.5v1.17h-0.5zM96.5 109.95h0.5v3.53h-0.5zM91.7 111.95h0.6v0.6h-0.6zM90.62 112.95h0.6v0.6h-0.6zM94.54 112.79h0.6v0.6h-0.6zM91.5 112.7h0.6v0.6h-0.6zM93.97 113.67h0.6v0.6h-0.6zM94.79 114.93h0.6v0.6h-0.6zM94.25 112.02h0.6v0.6h-0.6zM95.38 112.38h0.6v0.6h-0.6zM93.63 112.58h0.6v0.6h-0.6zM94.72 112.17h0.6v0.6h-0.6zM91.58 112.27h0.6v0.6h-0.6zM90.98 115.39h0.6v0.6h-0.6zM93.7 112.46h0.6v0.6h-0.6zM102.6 100.6h6.95v9.4h-6.95zM102.6 109.95h0.5v2.97h-0.5zM103.1 109.95h0.5v0.58h-0.5zM103.6 109.95h0.5v2.83h-0.5zM104.1 109.95h0.5v0.8h-0.5zM104.6 109.95h0.5v1.46h-0.5zM105.1 109.95h0.5v3.05h-0.5zM105.6 109.95h0.5v2.99h-0.5zM106.1 109.95h0.5v0.66h-0.5zM106.6 109.95h0.5v0.79h-0.5zM107.1 109.95h0.5v1.44h-0.5zM107.6 109.95h0.5v1.86h-0.5zM108.1 109.95h0.5v1.38h-0.5zM108.6 109.95h0.5v0.44h-0.5zM109.1 109.95h0.1v0.89h-0.1zM106.95 115.59h0.6v0.6h-0.6zM102.85 113.18h0.6v0.6h-0.6zM107.14 111.86h0.6v0.6h-0.6zM107.63 112.01h0.6v0.6h-0.6zM106.2 113.13h0.6v0.6h-0.6zM106.36 112.41h0.6v0.6h-0.6zM105.12 113.26h0.6v0.6h-0.6zM105.15 113.59h0.6v0.6h-0.6zM105.28 112.76h0.6v0.6h-0.6zM102.74 113.41h0.6v0.6h-0.6zM105.54 112.25h0.6v0.6h-0.6zM107.18 114.32h0.6v0.6h-0.6zM105.35 112.13h0.6v0.6h-0.6zM105.44 111.99h0.6v0.6h-0.6zM116.3 100.6h6.55v9.4h-6.55zM116.3 109.95h0.5v1.26h-0.5zM116.8 109.95h0.5v2.32h-0.5zM117.3 109.95h0.5v1.6h-0.5zM117.8 109.95h0.5v3.37h-0.5zM118.3 109.95h0.5v2.64h-0.5zM118.8 109.95h0.5v0.89h-0.5zM119.3 109.95h0.5v3.25h-0.5zM119.8 109.95h0.5v0.16h-0.5zM120.3 109.95h0.5v1.91h-0.5zM120.8 109.95h0.5v1.46h-0.5zM121.3 109.95h0.5v0.86h-0.5zM121.8 109.95h0.5v0.21h-0.5zM122.3 109.95h0.2v2.8h-0.2zM116.37 113.13h0.6v0.6h-0.6zM121.57 112.06h0.6v0.6h-0.6zM117.42 113.36h0.6v0.6h-0.6zM119.14 113.51h0.6v0.6h-0.6zM120.85 112.12h0.6v0.6h-0.6zM118.03 112.4h0.6v0.6h-0.6zM116.57 115.47h0.6v0.6h-0.6zM120.68 113.89h0.6v0.6h-0.6zM116.34 114.9h0.6v0.6h-0.6zM120.47 112.84h0.6v0.6h-0.6zM120.45 112.8h0.6v0.6h-0.6zM117.57 111.99h0.6v0.6h-0.6zM117.6 111.87h0.6v0.6h-0.6zM127.1 100.6h4.95v9.4h-4.95zM127.1 109.95h0.5v1.15h-0.5zM127.6 109.95h0.5v1.53h-0.5zM128.1 109.95h0.5v0.08h-0.5zM128.6 109.95h0.5v0.92h-0.5zM129.1 109.95h0.5v1.02h-0.5zM129.6 109.95h0.5v2.58h-0.5zM130.1 109.95h0.5v1.32h-0.5zM130.6 109.95h0.5v1.15h-0.5zM131.1 109.95h0.5v3.47h-0.5zM131.6 109.95h0.1v1.81h-0.1zM130.51 113.41h0.6v0.6h-0.6zM127.22 112.69h0.6v0.6h-0.6zM128.85 114.27h0.6v0.6h-0.6zM128.49 113.83h0.6v0.6h-0.6zM129.25 112.21h0.6v0.6h-0.6zM130.55 111.96h0.6v0.6h-0.6zM130.38 112.11h0.6v0.6h-0.6zM127.11 112.18h0.6v0.6h-0.6zM127.12 112.92h0.6v0.6h-0.6zM135.75 100.6h4.4v9.4h-4.4zM135.75 109.95h0.5v3.46h-0.5zM136.25 109.95h0.5v0.37h-0.5zM136.75 109.95h0.5v1.38h-0.5zM137.25 109.95h0.5v3.54h-0.5zM137.75 109.95h0.5v2.86h-0.5zM138.25 109.95h0.5v2.64h-0.5zM138.75 109.95h0.5v1.57h-0.5zM139.25 109.95h0.5v0.71h-0.5zM139.75 109.95h0.05v2.3h-0.05zM136.12 112.19h0.6v0.6h-0.6zM137.09 111.86h0.6v0.6h-0.6zM137.13 114.41h0.6v0.6h-0.6zM138.14 112.96h0.6v0.6h-0.6zM137.93 112.84h0.6v0.6h-0.6zM136.24 113.34h0.6v0.6h-0.6zM137.15 114.05h0.6v0.6h-0.6zM138.88 112.74h0.6v0.6h-0.6zM143.4 100.6h4.45v9.4h-4.45zM143.4 109.95h0.5v2.51h-0.5zM143.9 109.95h0.5v1.27h-0.5zM144.4 109.95h0.5v0.95h-0.5zM144.9 109.95h0.5v0.81h-0.5zM145.4 109.95h0.5v2.67h-0.5zM145.9 109.95h0.5v3.38h-0.5zM146.4 109.95h0.5v1.9h-0.5zM146.9 109.95h0.5v0.79h-0.5zM147.4 109.95h0.1v2.89h-0.1zM144.77 112.2h0.6v0.6h-0.6zM143.85 114.3h0.6v0.6h-0.6zM146.23 113.48h0.6v0.6h-0.6zM145.04 113.18h0.6v0.6h-0.6zM144.64 113.5h0.6v0.6h-0.6zM146.27 114.62h0.6v0.6h-0.6zM145.04 112.38h0.6v0.6h-0.6zM145.32 112.02h0.6v0.6h-0.6zM150.6 100.6h3.35v9.4h-3.35zM150.6 109.95h0.5v0.71h-0.5zM151.1 109.95h0.5v2.49h-0.5zM151.6 109.95h0.5v1.91h-0.5zM152.1 109.95h0.5v2.67h-0.5zM152.6 109.95h0.5v1.58h-0.5zM153.1 109.95h0.5v3.18h-0.5zM151.93 112.31h0.6v0.6h-0.6zM151.16 112.05h0.6v0.6h-0.6zM151.78 111.9h0.6v0.6h-0.6zM151.72 112.06h0.6v0.6h-0.6zM151.78 112.95h0.6v0.6h-0.6zM151.89 115.11h0.6v0.6h-0.6zM155.7 100.6h2.15v9.4h-2.15zM155.7 109.95h0.5v1.52h-0.5zM156.2 109.95h0.5v1.99h-0.5zM156.7 109.95h0.5v2.98h-0.5zM157.2 109.95h0.3v1.05h-0.3zM156.69 112.66h0.6v0.6h-0.6zM156.3 112.33h0.6v0.6h-0.6z"/>
<path fill="#ffffff" d="M27.97 84.14h0.5v0.5h-0.5zM42.51 84.07h0.5v0.5h-0.5zM51.33 84.23h0.5v0.5h-0.5zM59.01 82.38h0.5v0.5h-0.5zM71.47 84.89h0.5v0.5h-0.5zM77.69 82.78h0.5v0.5h-0.5z"/>
<line x1="17.6" y1="147" x2="164.2" y2="147" stroke="#d0d0d0" stroke-width="0.6" stroke-dasharray="1.6,1.6" />
<line x1="43.5" y1="63" x2="43.5" y2="84" stroke="#555555" stroke-width="0.8" stroke-dasharray="3,0.6" />
<line x1="103.1" y1="65.6" x2="103.1" y2="84" stroke="#555555" stroke-width="0.8" stroke-dasharray="3,0.6" />
<line x1="142.5" y1="68" x2="142.5" y2="84" stroke="#7a7a7a" stroke-width="0.8" stroke-dasharray="3,0.6" />
<line x1="150" y1="72.5" x2="150" y2="84" stroke="#7a7a7a" stroke-width="0.8" stroke-dasharray="3,0.6" />
<line x1="90.5" y1="75" x2="90.5" y2="84" stroke="#555555" stroke-width="0.8" stroke-dasharray="3,0.6" />
<line x1="106" y1="76" x2="106" y2="84" stroke="#555555" stroke-width="0.8" stroke-dasharray="3,0.6" />
<line x1="131" y1="74" x2="131" y2="84" stroke="#555555" stroke-width="0.8" stroke-dasharray="3,0.6" />
<line x1="120" y1="76.5" x2="120" y2="84" stroke="#555555" stroke-width="0.8" stroke-dasharray="3,0.6" />
<line x1="17.6" y1="73.4" x2="164.2" y2="73.4" stroke="#ff3b3b" stroke-width="0.8" stroke-dasharray="1.8,1.6" />
<line x1="17.6" y1="121.5" x2="164.2" y2="121.5" stroke="#ff3b3b" stroke-width="0.8" stroke-dasharray="1.8,1.6" />
<line x1="75" y1="25" x2="75" y2="29.5" stroke="#80f000" stroke-width="1.4" />
<line x1="75" y1="30.3" x2="75" y2="34" stroke="#80f000" stroke-width="1.4" />
<line x1="75" y1="34.8" x2="75" y2="37.5" stroke="#80f000" stroke-width="1.4" />
<line x1="75" y1="38.2" x2="75" y2="93.2" stroke="#80f000" stroke-width="1.4" />
<text x="67.5" y="28.4" font-size="4.5" font-style="italic" text-anchor="middle" fill="#ff3b3b" stroke="#ff3b3b" stroke-width="0.06">HFE</text>
<line x1="156.6" y1="48" x2="156.6" y2="93.2" stroke="#80f000" stroke-width="1.35" stroke-dasharray="2.5,1.5" />
<line x1="156.6" y1="70" x2="156.6" y2="93.2" stroke="#80f000" stroke-width="1.35" />
<text x="143.5" y="46.1" font-size="4.5" font-style="italic" text-anchor="middle" fill="#ff3b3b" stroke="#ff3b3b" stroke-width="0.06">TMPRSS6</text>
<line x1="75" y1="100.6" x2="75" y2="148" stroke="#80f000" stroke-width="1.4" stroke-dasharray="9,1" />
<text x="67.5" y="149" font-size="4.5" font-style="italic" text-anchor="middle" fill="#ff3b3b" stroke="#ff3b3b" stroke-width="0.06">HFE</text>
<line x1="156.6" y1="100.6" x2="156.6" y2="111" stroke="#80f000" stroke-width="1.1" />
<text x="143.5" y="127.5" font-size="4.5" font-style="italic" text-anchor="middle" fill="#ff3b3b" stroke="#ff3b3b" stroke-width="0.06">TMPRSS6</text>
<line x1="17.5" y1="17.5" x2="17.5" y2="93.3" stroke="#6e6e6e" stroke-width="0.9" />
<line x1="17.6" y1="93.3" x2="164.2" y2="93.3" stroke="#333333" stroke-width="0.85" />
<line x1="17.5" y1="100.3" x2="17.5" y2="180" stroke="#6e6e6e" stroke-width="0.9" />
<line x1="17.6" y1="100.3" x2="164.2" y2="100.3" stroke="#333333" stroke-width="0.85" />
<line x1="29.4" y1="93.3" x2="29.4" y2="94.6" stroke="#333333" stroke-width="0.4" />
<line x1="29.4" y1="99" x2="29.4" y2="100.3" stroke="#333333" stroke-width="0.4" />
<text x="29.4" y="98.6" font-size="3.9" text-anchor="middle" font-weight="normal" fill="#111"   stroke="#111" stroke-width="0.06">1</text>
<line x1="40.25" y1="93.3" x2="40.25" y2="94.6" stroke="#333333" stroke-width="0.4" />
<line x1="40.25" y1="99" x2="40.25" y2="100.3" stroke="#333333" stroke-width="0.4" />
<text x="40.25" y="98.6" font-size="3.9" text-anchor="middle" font-weight="normal" fill="#111"   stroke="#111" stroke-width="0.06">2</text>
<line x1="50.6" y1="93.3" x2="50.6" y2="94.6" stroke="#333333" stroke-width="0.4" />
<line x1="50.6" y1="99" x2="50.6" y2="100.3" stroke="#333333" stroke-width="0.4" />
<text x="50.6" y="98.6" font-size="3.9" text-anchor="middle" font-weight="normal" fill="#111"   stroke="#111" stroke-width="0.06">3</text>
<line x1="60.4" y1="93.3" x2="60.4" y2="94.6" stroke="#333333" stroke-width="0.4" />
<line x1="60.4" y1="99" x2="60.4" y2="100.3" stroke="#333333" stroke-width="0.4" />
<text x="60.4" y="98.6" font-size="3.9" text-anchor="middle" font-weight="normal" fill="#111"   stroke="#111" stroke-width="0.06">4</text>
<line x1="69.4" y1="93.3" x2="69.4" y2="94.6" stroke="#333333" stroke-width="0.4" />
<line x1="69.4" y1="99" x2="69.4" y2="100.3" stroke="#333333" stroke-width="0.4" />
<text x="69.4" y="98.6" font-size="3.9" text-anchor="middle" font-weight="normal" fill="#111"   stroke="#111" stroke-width="0.06">5</text>
<line x1="78.1" y1="93.3" x2="78.1" y2="94.6" stroke="#333333" stroke-width="0.4" />
<line x1="78.1" y1="99" x2="78.1" y2="100.3" stroke="#333333" stroke-width="0.4" />
<text x="78.1" y="98.6" font-size="3.9" text-anchor="middle" font-weight="normal" fill="#111"   stroke="#111" stroke-width="0.06">6</text>
<line x1="86.5" y1="93.3" x2="86.5" y2="94.6" stroke="#333333" stroke-width="0.4" />
<line x1="86.5" y1="99" x2="86.5" y2="100.3" stroke="#333333" stroke-width="0.4" />
<text x="86.5" y="98.6" font-size="3.9" text-anchor="middle" font-weight="normal" fill="#111"   stroke="#111" stroke-width="0.06">7</text>
<line x1="93.75" y1="93.3" x2="93.75" y2="94.6" stroke="#333333" stroke-width="0.4" />
<line x1="93.75" y1="99" x2="93.75" y2="100.3" stroke="#333333" stroke-width="0.4" />
<text x="93.75" y="98.6" font-size="3.9" text-anchor="middle" font-weight="normal" fill="#111"   stroke="#111" stroke-width="0.06">8</text>
<line x1="100.6" y1="93.3" x2="100.6" y2="94.6" stroke="#333333" stroke-width="0.4" />
<line x1="100.6" y1="99" x2="100.6" y2="100.3" stroke="#333333" stroke-width="0.4" />
<text x="100.6" y="98.6" font-size="3.9" text-anchor="middle" font-weight="normal" fill="#111"   stroke="#111" stroke-width="0.06">9</text>
<line x1="106.6" y1="93.3" x2="106.6" y2="94.6" stroke="#333333" stroke-width="0.4" />
<line x1="106.6" y1="99" x2="106.6" y2="100.3" stroke="#333333" stroke-width="0.4" />
<text x="106.6" y="98.6" font-size="3.9" text-anchor="middle" font-weight="normal" fill="#111"   stroke="#111" stroke-width="0.06">10</text>
<line x1="112.8" y1="93.3" x2="112.8" y2="94.6" stroke="#333333" stroke-width="0.4" />
<line x1="112.8" y1="99" x2="112.8" y2="100.3" stroke="#333333" stroke-width="0.4" />
<text x="112.8" y="98.6" font-size="3.9" text-anchor="middle" font-weight="normal" fill="#111"   stroke="#111" stroke-width="0.06">11</text>
<line x1="118.9" y1="93.3" x2="118.9" y2="94.6" stroke="#333333" stroke-width="0.4" />
<line x1="118.9" y1="99" x2="118.9" y2="100.3" stroke="#333333" stroke-width="0.4" />
<text x="118.9" y="98.6" font-size="3.9" text-anchor="middle" font-weight="normal" fill="#111"   stroke="#111" stroke-width="0.06">12</text>
<line x1="124.5" y1="93.3" x2="124.5" y2="94.6" stroke="#333333" stroke-width="0.4" />
<line x1="124.5" y1="99" x2="124.5" y2="100.3" stroke="#333333" stroke-width="0.4" />
<text x="124.5" y="98.6" font-size="3.9" text-anchor="middle" font-weight="normal" fill="#111"   stroke="#111" stroke-width="0.06">13</text>
<line x1="129.6" y1="93.3" x2="129.6" y2="94.6" stroke="#333333" stroke-width="0.4" />
<line x1="129.6" y1="99" x2="129.6" y2="100.3" stroke="#333333" stroke-width="0.4" />
<text x="129.6" y="98.6" font-size="3.9" text-anchor="middle" font-weight="normal" fill="#111"   stroke="#111" stroke-width="0.06">14</text>
<line x1="138.3" y1="93.3" x2="138.3" y2="94.6" stroke="#333333" stroke-width="0.4" />
<line x1="138.3" y1="99" x2="138.3" y2="100.3" stroke="#333333" stroke-width="0.4" />
<text x="138.3" y="98.6" font-size="3.9" text-anchor="middle" font-weight="normal" fill="#111"   stroke="#111" stroke-width="0.06">16</text>
<line x1="146.5" y1="93.3" x2="146.5" y2="94.6" stroke="#333333" stroke-width="0.4" />
<line x1="146.5" y1="99" x2="146.5" y2="100.3" stroke="#333333" stroke-width="0.4" />
<text x="146.5" y="98.6" font-size="3.9" text-anchor="middle" font-weight="normal" fill="#111"   stroke="#111" stroke-width="0.06">18</text>
<line x1="152.1" y1="93.3" x2="152.1" y2="94.6" stroke="#333333" stroke-width="0.4" />
<line x1="152.1" y1="99" x2="152.1" y2="100.3" stroke="#333333" stroke-width="0.4" />
<text x="152.1" y="98.6" font-size="3.9" text-anchor="middle" font-weight="normal" fill="#111"   stroke="#111" stroke-width="0.06">20</text>
<line x1="155.9" y1="93.3" x2="155.9" y2="94.6" stroke="#333333" stroke-width="0.4" />
<line x1="155.9" y1="99" x2="155.9" y2="100.3" stroke="#333333" stroke-width="0.4" />
<text x="155.9" y="98.6" font-size="3.9" text-anchor="middle" font-weight="normal" fill="#111"   stroke="#111" stroke-width="0.06">22</text>
<line x1="16.4" y1="20" x2="17.6" y2="20" stroke="#6e6e6e" stroke-width="0.5" />
<text x="15.9" y="22" font-size="5.6" text-anchor="end" font-weight="normal" fill="#222"   stroke="#222" stroke-width="0.1">100</text>
<line x1="16.4" y1="37" x2="17.6" y2="37" stroke="#6e6e6e" stroke-width="0.5" />
<text x="15.9" y="39" font-size="5.6" text-anchor="end" font-weight="normal" fill="#222"   stroke="#222" stroke-width="0.1">50</text>
<line x1="16.4" y1="49" x2="17.6" y2="49" stroke="#6e6e6e" stroke-width="0.5" />
<text x="15.9" y="51" font-size="5.6" text-anchor="end" font-weight="normal" fill="#222"   stroke="#222" stroke-width="0.1">15</text>
<line x1="16.4" y1="65" x2="17.6" y2="65" stroke="#6e6e6e" stroke-width="0.5" />
<text x="15.9" y="67" font-size="5.6" text-anchor="end" font-weight="normal" fill="#222"   stroke="#222" stroke-width="0.1">10</text>
<line x1="16.4" y1="80.6" x2="17.6" y2="80.6" stroke="#6e6e6e" stroke-width="0.5" />
<text x="15.9" y="82.6" font-size="5.6" text-anchor="end" font-weight="normal" fill="#222"   stroke="#222" stroke-width="0.1">5</text>
<line x1="16.4" y1="113.5" x2="17.6" y2="113.5" stroke="#6e6e6e" stroke-width="0.5" />
<text x="15.9" y="115.5" font-size="5.6" text-anchor="end" font-weight="normal" fill="#222"   stroke="#222" stroke-width="0.1">5</text>
<line x1="16.4" y1="130.4" x2="17.6" y2="130.4" stroke="#6e6e6e" stroke-width="0.5" />
<text x="15.9" y="132.4" font-size="5.6" text-anchor="end" font-weight="normal" fill="#222"   stroke="#222" stroke-width="0.1">10</text>
<line x1="16.4" y1="147" x2="17.6" y2="147" stroke="#6e6e6e" stroke-width="0.5" />
<text x="15.9" y="149" font-size="5.6" text-anchor="end" font-weight="normal" fill="#222"   stroke="#222" stroke-width="0.1">15</text>
<line x1="16.4" y1="169.75" x2="17.6" y2="169.75" stroke="#6e6e6e" stroke-width="0.5" />
<text x="15.9" y="171.75" font-size="5.6" text-anchor="end" font-weight="normal" fill="#222"   stroke="#222" stroke-width="0.1">100</text>
<text x="260.3" y="12.7" font-size="7.8" font-weight="bold" text-anchor="middle">SPA<tspan font-size="5.4" dy="1.1" letter-spacing="0.3">GRM(CCT)</tspan></text>
<line x1="187" y1="49" x2="333.6" y2="49" stroke="#c8c8c8" stroke-width="0.5" stroke-dasharray="1.6,1.6" />
<path fill="#9b9b9b" d="M193.4 83h10.35v10.3h-10.35zM193.4 80.98h0.5v2.07h-0.5zM193.9 80.74h0.5v2.31h-0.5zM194.4 81.66h0.5v1.39h-0.5zM194.9 81.69h0.5v1.36h-0.5zM195.4 81.74h0.5v1.31h-0.5zM195.9 81.11h0.5v1.94h-0.5zM196.4 81.02h0.5v2.03h-0.5zM196.9 80.75h0.5v2.3h-0.5zM197.4 82.62h0.5v0.43h-0.5zM197.9 80.86h0.5v2.19h-0.5zM198.4 80.58h0.5v2.47h-0.5zM198.9 81.19h0.5v1.86h-0.5zM199.4 82.57h0.5v0.48h-0.5zM199.9 81.74h0.5v1.31h-0.5zM200.4 82.88h0.5v0.17h-0.5zM200.9 82.04h0.5v1.01h-0.5zM201.4 80.52h0.5v2.53h-0.5zM201.9 81.07h0.5v1.98h-0.5zM202.4 80.98h0.5v2.07h-0.5zM202.9 80.74h0.5v2.31h-0.5zM202.04 79.03h0.8v0.8h-0.8zM199.26 78.95h0.8v0.8h-0.8zM200.02 79.11h0.8v0.8h-0.8zM199.87 80.44h0.8v0.8h-0.8zM199.74 79.7h0.8v0.8h-0.8zM200.65 80.71h0.8v0.8h-0.8zM195.12 80.84h0.8v0.8h-0.8zM200.76 76.01h0.8v0.8h-0.8zM199.63 80h0.8v0.8h-0.8zM201.21 77.83h0.8v0.8h-0.8zM198.74 80.32h0.8v0.8h-0.8zM196.27 79.82h0.8v0.8h-0.8zM196.43 79.79h0.8v0.8h-0.8zM199.5 75.49h0.8v0.8h-0.8zM193.92 79.24h0.8v0.8h-0.8zM193.77 80.67h0.8v0.8h-0.8zM214.3 83h10.45v10.3h-10.45zM214.3 80.66h0.5v2.39h-0.5zM214.8 82.58h0.5v0.47h-0.5zM215.3 80.75h0.5v2.3h-0.5zM215.8 80.88h0.5v2.17h-0.5zM216.3 81h0.5v2.05h-0.5zM216.8 80.42h0.5v2.63h-0.5zM217.3 82.54h0.5v0.51h-0.5zM217.8 82.18h0.5v0.87h-0.5zM218.3 80.8h0.5v2.25h-0.5zM218.8 80.5h0.5v2.55h-0.5zM219.3 80.94h0.5v2.11h-0.5zM219.8 81.74h0.5v1.31h-0.5zM220.3 81.1h0.5v1.95h-0.5zM220.8 80.8h0.5v2.25h-0.5zM221.3 82.33h0.5v0.72h-0.5zM221.8 81.68h0.5v1.37h-0.5zM222.3 81.85h0.5v1.2h-0.5zM222.8 82.26h0.5v0.79h-0.5zM223.3 81.32h0.5v1.73h-0.5zM223.8 82.11h0.5v0.94h-0.5zM224.3 81.9h0.1v1.15h-0.1zM215.67 78.66h0.8v0.8h-0.8zM214.42 78.39h0.8v0.8h-0.8zM216.17 80.85h0.8v0.8h-0.8zM223.21 80.42h0.8v0.8h-0.8zM223.27 76.89h0.8v0.8h-0.8zM222.83 80.62h0.8v0.8h-0.8zM218.59 80.72h0.8v0.8h-0.8zM223.22 77.23h0.8v0.8h-0.8zM220.33 79.72h0.8v0.8h-0.8zM217.56 77.46h0.8v0.8h-0.8zM218.88 78.94h0.8v0.8h-0.8zM215.67 80.42h0.8v0.8h-0.8zM214.84 78.42h0.8v0.8h-0.8zM219.61 80.61h0.8v0.8h-0.8zM222.66 80.3h0.8v0.8h-0.8zM218.25 80.58h0.8v0.8h-0.8zM233.9 83h9.35v10.3h-9.35zM233.9 81.24h0.5v1.81h-0.5zM234.4 81.42h0.5v1.63h-0.5zM234.9 80.48h0.5v2.57h-0.5zM235.4 81.77h0.5v1.28h-0.5zM235.9 81.72h0.5v1.33h-0.5zM236.4 81h0.5v2.05h-0.5zM236.9 82.27h0.5v0.78h-0.5zM237.4 81.1h0.5v1.95h-0.5zM237.9 80.47h0.5v2.58h-0.5zM238.4 81.26h0.5v1.79h-0.5zM238.9 81.82h0.5v1.23h-0.5zM239.4 81.35h0.5v1.7h-0.5zM239.9 81.22h0.5v1.83h-0.5zM240.4 82.17h0.5v0.88h-0.5zM240.9 82.26h0.5v0.79h-0.5zM241.4 82.23h0.5v0.82h-0.5zM241.9 81.75h0.5v1.3h-0.5zM242.4 81.48h0.5v1.57h-0.5zM236.35 80.36h0.8v0.8h-0.8zM234.65 79.34h0.8v0.8h-0.8zM241.04 79.04h0.8v0.8h-0.8zM238.75 78.82h0.8v0.8h-0.8zM235.61 78.44h0.8v0.8h-0.8zM237.82 79.33h0.8v0.8h-0.8zM239.11 79.65h0.8v0.8h-0.8zM236.54 80.37h0.8v0.8h-0.8zM235.78 79.48h0.8v0.8h-0.8zM237.16 79.16h0.8v0.8h-0.8zM234 80.05h0.8v0.8h-0.8zM241.23 80.37h0.8v0.8h-0.8zM238.63 79.57h0.8v0.8h-0.8zM236.32 72.15h0.8v0.8h-0.8zM251.4 83h8.35v10.3h-8.35zM251.4 80.87h0.5v2.18h-0.5zM251.9 81.61h0.5v1.44h-0.5zM252.4 82.1h0.5v0.95h-0.5zM252.9 81.82h0.5v1.23h-0.5zM253.4 82.35h0.5v0.7h-0.5zM253.9 80.55h0.5v2.5h-0.5zM254.4 81.12h0.5v1.93h-0.5zM254.9 81.62h0.5v1.43h-0.5zM255.4 81.39h0.5v1.66h-0.5zM255.9 81.53h0.5v1.52h-0.5zM256.4 82.55h0.5v0.5h-0.5zM256.9 80.57h0.5v2.48h-0.5zM257.4 81.12h0.5v1.93h-0.5zM257.9 80.46h0.5v2.59h-0.5zM258.4 81.41h0.5v1.64h-0.5zM258.9 81.05h0.5v2h-0.5zM253.27 80.83h0.8v0.8h-0.8zM258.38 77.06h0.8v0.8h-0.8zM253.76 76.34h0.8v0.8h-0.8zM257.52 80.2h0.8v0.8h-0.8zM255.92 74.48h0.8v0.8h-0.8zM255.12 74.94h0.8v0.8h-0.8zM253.22 79.93h0.8v0.8h-0.8zM256.79 80.42h0.8v0.8h-0.8zM253.72 76.76h0.8v0.8h-0.8zM255.03 77.77h0.8v0.8h-0.8zM253.23 80.54h0.8v0.8h-0.8zM254.09 80.51h0.8v0.8h-0.8zM266.4 83h5.95v10.3h-5.95zM266.4 80.82h0.5v2.23h-0.5zM266.9 80.68h0.5v2.37h-0.5zM267.4 81.79h0.5v1.26h-0.5zM267.9 82.39h0.5v0.66h-0.5zM268.4 80.48h0.5v2.57h-0.5zM268.9 81.45h0.5v1.6h-0.5zM269.4 80.51h0.5v2.54h-0.5zM269.9 80.92h0.5v2.13h-0.5zM270.4 80.83h0.5v2.22h-0.5zM270.9 80.68h0.5v2.37h-0.5zM271.4 81.03h0.5v2.02h-0.5zM271.9 81.38h0.1v1.67h-0.1zM266.68 78.52h0.8v0.8h-0.8zM268.58 79.49h0.8v0.8h-0.8zM271.13 80.65h0.8v0.8h-0.8zM270.29 80.83h0.8v0.8h-0.8zM269.98 77.64h0.8v0.8h-0.8zM267.73 79.34h0.8v0.8h-0.8zM271.34 78.89h0.8v0.8h-0.8zM269.17 80.35h0.8v0.8h-0.8zM278.6 83h7.45v10.3h-7.45zM278.6 81.78h0.5v1.27h-0.5zM279.1 80.97h0.5v2.08h-0.5zM279.6 81.25h0.5v1.8h-0.5zM280.1 81.45h0.5v1.6h-0.5zM280.6 81.64h0.5v1.41h-0.5zM281.1 81.41h0.5v1.64h-0.5zM281.6 80.96h0.5v2.09h-0.5zM282.1 80.68h0.5v2.37h-0.5zM282.6 80.55h0.5v2.5h-0.5zM283.1 82.12h0.5v0.93h-0.5zM283.6 81.75h0.5v1.3h-0.5zM284.1 81.4h0.5v1.65h-0.5zM284.6 81.16h0.5v1.89h-0.5zM285.1 81.62h0.5v1.43h-0.5zM285.6 82.02h0.1v1.03h-0.1zM279.16 80.14h0.8v0.8h-0.8zM281.64 73.82h0.8v0.8h-0.8zM284.6 76.91h0.8v0.8h-0.8zM285.03 74.39h0.8v0.8h-0.8zM282.69 77.59h0.8v0.8h-0.8zM279 78.66h0.8v0.8h-0.8zM282.62 80.22h0.8v0.8h-0.8zM282.37 74.81h0.8v0.8h-0.8zM281.77 78.84h0.8v0.8h-0.8zM280.58 80.08h0.8v0.8h-0.8zM284.44 80.86h0.8v0.8h-0.8zM291.9 83h4.95v10.3h-4.95zM291.9 80.65h0.5v2.4h-0.5zM292.4 81.51h0.5v1.54h-0.5zM292.9 80.6h0.5v2.45h-0.5zM293.4 81.07h0.5v1.98h-0.5zM293.9 82.45h0.5v0.6h-0.5zM294.4 81.66h0.5v1.39h-0.5zM294.9 81.96h0.5v1.09h-0.5zM295.4 80.57h0.5v2.48h-0.5zM295.9 81.11h0.5v1.94h-0.5zM296.4 82.6h0.1v0.45h-0.1zM292.6 80.02h0.8v0.8h-0.8zM293.82 79.2h0.8v0.8h-0.8zM293.49 80.05h0.8v0.8h-0.8zM291.92 79.19h0.8v0.8h-0.8zM293.27 80.88h0.8v0.8h-0.8zM293.78 72.32h0.8v0.8h-0.8zM292.09 80.6h0.8v0.8h-0.8zM301.1 83h4.4v10.3h-4.4zM301.1 80.71h0.5v2.34h-0.5zM301.6 80.6h0.5v2.45h-0.5zM302.1 81.64h0.5v1.41h-0.5zM302.6 82.21h0.5v0.84h-0.5zM303.1 82.05h0.5v1h-0.5zM303.6 81.21h0.5v1.84h-0.5zM304.1 80.6h0.5v2.45h-0.5zM304.6 81.01h0.5v2.04h-0.5zM305.1 80.52h0.05v2.53h-0.05zM301.85 80.13h0.8v0.8h-0.8zM303.76 78.83h0.8v0.8h-0.8zM302.54 78.65h0.8v0.8h-0.8zM302.3 80.8h0.8v0.8h-0.8zM302.57 80.83h0.8v0.8h-0.8zM303.32 80.11h0.8v0.8h-0.8zM309.2 83h3.95v10.3h-3.95zM309.2 82.32h0.5v0.73h-0.5zM309.7 80.84h0.5v2.21h-0.5zM310.2 82.49h0.5v0.56h-0.5zM310.7 81h0.5v2.05h-0.5zM311.2 81.5h0.5v1.55h-0.5zM311.7 80.62h0.5v2.43h-0.5zM312.2 82.52h0.5v0.53h-0.5zM312.7 81.16h0.1v1.89h-0.1zM310.47 75.89h0.8v0.8h-0.8zM312.13 78.95h0.8v0.8h-0.8zM309.89 80.34h0.8v0.8h-0.8zM310.01 79.78h0.8v0.8h-0.8zM309.92 80.47h0.8v0.8h-0.8zM316.9 83h3.45v10.3h-3.45zM316.9 81.61h0.5v1.44h-0.5zM317.4 81.29h0.5v1.76h-0.5zM317.9 80.53h0.5v2.52h-0.5zM318.4 81.62h0.5v1.43h-0.5zM318.9 81.97h0.5v1.08h-0.5zM319.4 80.45h0.5v2.6h-0.5zM319.9 80.59h0.1v2.46h-0.1zM318.8 80.28h0.8v0.8h-0.8zM317.36 80.31h0.8v0.8h-0.8zM317.08 80.83h0.8v0.8h-0.8zM318.22 79.87h0.8v0.8h-0.8zM323 83h2.45v10.3h-2.45zM323 81.23h0.5v1.82h-0.5zM323.5 81.06h0.5v1.99h-0.5zM324 80.94h0.5v2.11h-0.5zM324.5 81.68h0.5v1.37h-0.5zM325 81.03h0.1v2.02h-0.1zM323.87 80.41h0.8v0.8h-0.8zM323.98 80.3h0.8v0.8h-0.8zM324.45 79.64h0.8v0.8h-0.8z"/>
<path fill="#63b8fc" d="M193.4 100.6h10.35v8.4h-10.35zM193.4 108.95h0.5v3.31h-0.5zM193.9 108.95h0.5v1.61h-0.5zM194.4 108.95h0.5v0.05h-0.5zM194.9 108.95h0.5v1.39h-0.5zM195.4 108.95h0.5v2.13h-0.5zM195.9 108.95h0.5v3.38h-0.5zM196.4 108.95h0.5v3.53h-0.5zM196.9 108.95h0.5v1.71h-0.5zM197.4 108.95h0.5v1.48h-0.5zM197.9 108.95h0.5v0.37h-0.5zM198.4 108.95h0.5v2.32h-0.5zM198.9 108.95h0.5v0.76h-0.5zM199.4 108.95h0.5v0.55h-0.5zM199.9 108.95h0.5v0.06h-0.5zM200.4 108.95h0.5v0.02h-0.5zM200.9 108.95h0.5v2.46h-0.5zM201.4 108.95h0.5v0.44h-0.5zM201.9 108.95h0.5v3.48h-0.5zM202.4 108.95h0.5v0.32h-0.5zM202.9 108.95h0.5v3.13h-0.5zM194.61 110.83h0.6v0.6h-0.6zM200.16 111.26h0.6v0.6h-0.6zM200.3 111.15h0.6v0.6h-0.6zM193.87 113.28h0.6v0.6h-0.6zM200.11 114.02h0.6v0.6h-0.6zM200.26 110.95h0.6v0.6h-0.6zM199.31 112.86h0.6v0.6h-0.6zM197.73 115.29h0.6v0.6h-0.6zM195.79 116.36h0.6v0.6h-0.6zM200.14 110.82h0.6v0.6h-0.6zM193.54 112.55h0.6v0.6h-0.6zM201.08 110.94h0.6v0.6h-0.6zM196.32 112.98h0.6v0.6h-0.6zM194.96 114.09h0.6v0.6h-0.6zM197.97 110.9h0.6v0.6h-0.6zM196.86 112.23h0.6v0.6h-0.6zM197.52 112.68h0.6v0.6h-0.6zM194.76 113.46h0.6v0.6h-0.6zM196.81 112.53h0.6v0.6h-0.6zM199.32 111.7h0.6v0.6h-0.6zM197.03 113.37h0.6v0.6h-0.6zM202.28 113.36h0.6v0.6h-0.6zM214.3 100.6h10.45v8.4h-10.45zM214.3 108.95h0.5v1.2h-0.5zM214.8 108.95h0.5v0.6h-0.5zM215.3 108.95h0.5v1.77h-0.5zM215.8 108.95h0.5v1.15h-0.5zM216.3 108.95h0.5v3.25h-0.5zM216.8 108.95h0.5v0.41h-0.5zM217.3 108.95h0.5v3.52h-0.5zM217.8 108.95h0.5v0.2h-0.5zM218.3 108.95h0.5v3.22h-0.5zM218.8 108.95h0.5v2.41h-0.5zM219.3 108.95h0.5v0.76h-0.5zM219.8 108.95h0.5v1.72h-0.5zM220.3 108.95h0.5v1.03h-0.5zM220.8 108.95h0.5v0.93h-0.5zM221.3 108.95h0.5v0.73h-0.5zM221.8 108.95h0.5v1.31h-0.5zM222.3 108.95h0.5v3.57h-0.5zM222.8 108.95h0.5v3.59h-0.5zM223.3 108.95h0.5v3.33h-0.5zM223.8 108.95h0.5v0.35h-0.5zM224.3 108.95h0.1v1.04h-0.1zM222.81 110.9h0.6v0.6h-0.6zM221.2 111.38h0.6v0.6h-0.6zM223.6 110.83h0.6v0.6h-0.6zM221.97 111.49h0.6v0.6h-0.6zM215.63 110.8h0.6v0.6h-0.6zM222.21 112.05h0.6v0.6h-0.6zM216.07 111.75h0.6v0.6h-0.6zM222.96 111.21h0.6v0.6h-0.6zM219.73 111.05h0.6v0.6h-0.6zM216.01 113.25h0.6v0.6h-0.6zM221.06 111.17h0.6v0.6h-0.6zM215.05 110.95h0.6v0.6h-0.6zM220.08 111.94h0.6v0.6h-0.6zM216.9 111.18h0.6v0.6h-0.6zM220.12 112.85h0.6v0.6h-0.6zM222.01 112.26h0.6v0.6h-0.6zM216.22 110.91h0.6v0.6h-0.6zM221.26 111.67h0.6v0.6h-0.6zM221.16 110.89h0.6v0.6h-0.6zM222 111.48h0.6v0.6h-0.6zM222.3 114.13h0.6v0.6h-0.6zM218.98 110.83h0.6v0.6h-0.6zM233.9 100.6h9.35v8.4h-9.35zM233.9 108.95h0.5v0.57h-0.5zM234.4 108.95h0.5v0.24h-0.5zM234.9 108.95h0.5v3.14h-0.5zM235.4 108.95h0.5v1.58h-0.5zM235.9 108.95h0.5v0.22h-0.5zM236.4 108.95h0.5v1.4h-0.5zM236.9 108.95h0.5v1.58h-0.5zM237.4 108.95h0.5v2.65h-0.5zM237.9 108.95h0.5v0.39h-0.5zM238.4 108.95h0.5v0.81h-0.5zM238.9 108.95h0.5v3.45h-0.5zM239.4 108.95h0.5v2.66h-0.5zM239.9 108.95h0.5v0.56h-0.5zM240.4 108.95h0.5v1.21h-0.5zM240.9 108.95h0.5v1.27h-0.5zM241.4 108.95h0.5v2.43h-0.5zM241.9 108.95h0.5v2.22h-0.5zM242.4 108.95h0.5v3.06h-0.5zM240.8 112.02h0.6v0.6h-0.6zM240.11 113.07h0.6v0.6h-0.6zM240.28 111.87h0.6v0.6h-0.6zM240.49 112.85h0.6v0.6h-0.6zM241.58 111.03h0.6v0.6h-0.6zM241.21 110.81h0.6v0.6h-0.6zM240.33 112.27h0.6v0.6h-0.6zM238.08 116.28h0.6v0.6h-0.6zM238.7 111.7h0.6v0.6h-0.6zM240.48 114.24h0.6v0.6h-0.6zM239 111.6h0.6v0.6h-0.6zM237.7 111.82h0.6v0.6h-0.6zM239.97 111.38h0.6v0.6h-0.6zM237.18 112.15h0.6v0.6h-0.6zM237.13 111.45h0.6v0.6h-0.6zM240.51 113.96h0.6v0.6h-0.6zM238.1 111.78h0.6v0.6h-0.6zM235.45 111.4h0.6v0.6h-0.6zM235.12 112.23h0.6v0.6h-0.6zM251.4 100.6h8.35v8.4h-8.35zM251.4 108.95h0.5v3.5h-0.5zM251.9 108.95h0.5v1.05h-0.5zM252.4 108.95h0.5v2.02h-0.5zM252.9 108.95h0.5v0.41h-0.5zM253.4 108.95h0.5v1.92h-0.5zM253.9 108.95h0.5v1.39h-0.5zM254.4 108.95h0.5v1.45h-0.5zM254.9 108.95h0.5v0.24h-0.5zM255.4 108.95h0.5v0.44h-0.5zM255.9 108.95h0.5v2.97h-0.5zM256.4 108.95h0.5v1.26h-0.5zM256.9 108.95h0.5v0.88h-0.5zM257.4 108.95h0.5v0.69h-0.5zM257.9 108.95h0.5v1.02h-0.5zM258.4 108.95h0.5v0.85h-0.5zM258.9 108.95h0.5v0.13h-0.5zM256.32 111.5h0.6v0.6h-0.6zM252.55 112.84h0.6v0.6h-0.6zM252.09 111.32h0.6v0.6h-0.6zM257.58 111.03h0.6v0.6h-0.6zM254.68 113.82h0.6v0.6h-0.6zM257.36 111.09h0.6v0.6h-0.6zM254.01 112.94h0.6v0.6h-0.6zM254.19 116.1h0.6v0.6h-0.6zM252.94 115.82h0.6v0.6h-0.6zM255.14 111.23h0.6v0.6h-0.6zM254.75 111.03h0.6v0.6h-0.6zM256.63 111.3h0.6v0.6h-0.6zM258.06 112.28h0.6v0.6h-0.6zM254.12 111.27h0.6v0.6h-0.6zM255.9 111.2h0.6v0.6h-0.6zM257.86 111.02h0.6v0.6h-0.6zM255.2 112.1h0.6v0.6h-0.6zM266.4 100.6h5.95v8.4h-5.95zM266.4 108.95h0.5v0.21h-0.5zM266.9 108.95h0.5v1.29h-0.5zM267.4 108.95h0.5v1.48h-0.5zM267.9 108.95h0.5v0.73h-0.5zM268.4 108.95h0.5v1.12h-0.5zM268.9 108.95h0.5v0.49h-0.5zM269.4 108.95h0.5v2.55h-0.5zM269.9 108.95h0.5v2.41h-0.5zM270.4 108.95h0.5v0.86h-0.5zM270.9 108.95h0.5v0.87h-0.5zM271.4 108.95h0.5v1.86h-0.5zM271.9 108.95h0.1v1.6h-0.1zM271.08 111.52h0.6v0.6h-0.6zM267.9 114.4h0.6v0.6h-0.6zM267.11 112.18h0.6v0.6h-0.6zM268.07 113.62h0.6v0.6h-0.6zM269.14 113.18h0.6v0.6h-0.6zM267.25 112.63h0.6v0.6h-0.6zM269.39 111.83h0.6v0.6h-0.6zM270.23 113.76h0.6v0.6h-0.6zM266.97 111.37h0.6v0.6h-0.6zM268.2 111.19h0.6v0.6h-0.6zM266.7 111.35h0.6v0.6h-0.6zM267.39 112.82h0.6v0.6h-0.6zM278.6 100.6h7.45v8.4h-7.45zM278.6 108.95h0.5v0.68h-0.5zM279.1 108.95h0.5v2.44h-0.5zM279.6 108.95h0.5v1.61h-0.5zM280.1 108.95h0.5v0.31h-0.5zM280.6 108.95h0.5v2.38h-0.5zM281.1 108.95h0.5v1.34h-0.5zM281.6 108.95h0.5v2.09h-0.5zM282.1 108.95h0.5v1.5h-0.5zM282.6 108.95h0.5v1.91h-0.5zM283.1 108.95h0.5v2.03h-0.5zM283.6 108.95h0.5v1.43h-0.5zM284.1 108.95h0.5v0.41h-0.5zM284.6 108.95h0.5v0.65h-0.5zM285.1 108.95h0.5v3.2h-0.5zM285.6 108.95h0.1v1.97h-0.1zM279.33 114.1h0.6v0.6h-0.6zM280.25 110.97h0.6v0.6h-0.6zM282.05 111.28h0.6v0.6h-0.6zM281.78 112.15h0.6v0.6h-0.6zM280.07 112.22h0.6v0.6h-0.6zM279.33 112h0.6v0.6h-0.6zM282.42 110.94h0.6v0.6h-0.6zM281.25 110.93h0.6v0.6h-0.6zM281.46 114.12h0.6v0.6h-0.6zM282.18 112.89h0.6v0.6h-0.6zM283.52 111h0.6v0.6h-0.6zM285.04 112.93h0.6v0.6h-0.6zM279.26 113.76h0.6v0.6h-0.6zM281.15 111.11h0.6v0.6h-0.6zM284.84 112.18h0.6v0.6h-0.6zM291.9 100.6h4.95v8.4h-4.95zM291.9 108.95h0.5v2.42h-0.5zM292.4 108.95h0.5v0.98h-0.5zM292.9 108.95h0.5v0.98h-0.5zM293.4 108.95h0.5v1.8h-0.5zM293.9 108.95h0.5v0.94h-0.5zM294.4 108.95h0.5v2.05h-0.5zM294.9 108.95h0.5v1.9h-0.5zM295.4 108.95h0.5v3.45h-0.5zM295.9 108.95h0.5v3.57h-0.5zM296.4 108.95h0.1v0.12h-0.1zM294.14 113.26h0.6v0.6h-0.6zM295.39 113.28h0.6v0.6h-0.6zM294.43 112.48h0.6v0.6h-0.6zM293.35 111.35h0.6v0.6h-0.6zM295.08 114.24h0.6v0.6h-0.6zM295.65 112.71h0.6v0.6h-0.6zM293.12 113.2h0.6v0.6h-0.6zM294.86 111.99h0.6v0.6h-0.6zM294.44 111.52h0.6v0.6h-0.6zM294.1 111.67h0.6v0.6h-0.6zM301.1 100.6h4.4v8.4h-4.4zM301.1 108.95h0.5v1.78h-0.5zM301.6 108.95h0.5v2.15h-0.5zM302.1 108.95h0.5v0.93h-0.5zM302.6 108.95h0.5v1.67h-0.5zM303.1 108.95h0.5v0.05h-0.5zM303.6 108.95h0.5v3.33h-0.5zM304.1 108.95h0.5v2.03h-0.5zM304.6 108.95h0.5v3.56h-0.5zM305.1 108.95h0.05v0.2h-0.05zM303.22 112.95h0.6v0.6h-0.6zM302.24 110.96h0.6v0.6h-0.6zM301.64 111.06h0.6v0.6h-0.6zM303.75 110.96h0.6v0.6h-0.6zM303.91 111.72h0.6v0.6h-0.6zM302.96 112.28h0.6v0.6h-0.6zM303.01 112.59h0.6v0.6h-0.6zM303.18 111.47h0.6v0.6h-0.6zM309.2 100.6h3.95v8.4h-3.95zM309.2 108.95h0.5v2.73h-0.5zM309.7 108.95h0.5v2.31h-0.5zM310.2 108.95h0.5v1.07h-0.5zM310.7 108.95h0.5v3.58h-0.5zM311.2 108.95h0.5v0.78h-0.5zM311.7 108.95h0.5v2.05h-0.5zM312.2 108.95h0.5v0.56h-0.5zM312.7 108.95h0.1v3.11h-0.1zM311.81 111.32h0.6v0.6h-0.6zM311.45 113.68h0.6v0.6h-0.6zM310.05 111.47h0.6v0.6h-0.6zM310.66 114.49h0.6v0.6h-0.6zM309.68 112.71h0.6v0.6h-0.6zM310.99 111.81h0.6v0.6h-0.6zM310.94 114.37h0.6v0.6h-0.6zM316.9 100.6h3.45v8.4h-3.45zM316.9 108.95h0.5v2h-0.5zM317.4 108.95h0.5v1.31h-0.5zM317.9 108.95h0.5v0.04h-0.5zM318.4 108.95h0.5v2.48h-0.5zM318.9 108.95h0.5v2.35h-0.5zM319.4 108.95h0.5v1.96h-0.5zM319.9 108.95h0.1v1.98h-0.1zM319.09 112.91h0.6v0.6h-0.6zM317.9 111.44h0.6v0.6h-0.6zM317.95 116.82h0.6v0.6h-0.6zM317.87 111.61h0.6v0.6h-0.6zM317.92 111.06h0.6v0.6h-0.6zM323 100.6h2.45v8.4h-2.45zM323 108.95h0.5v2.6h-0.5zM323.5 108.95h0.5v1.88h-0.5zM324 108.95h0.5v1.72h-0.5zM324.5 108.95h0.5v0.8h-0.5zM325 108.95h0.1v0.51h-0.1zM324.39 112.05h0.6v0.6h-0.6zM323.79 112.05h0.6v0.6h-0.6zM324.22 111.25h0.6v0.6h-0.6zM323.26 113.68h0.6v0.6h-0.6z"/>
<path fill="#6b6b6b" d="M203.4 83h11.25v10.3h-11.25zM203.4 81.15h0.5v1.9h-0.5zM203.9 81.76h0.5v1.29h-0.5zM204.4 82.52h0.5v0.53h-0.5zM204.9 80.44h0.5v2.61h-0.5zM205.4 80.9h0.5v2.15h-0.5zM205.9 80.68h0.5v2.37h-0.5zM206.4 81.66h0.5v1.39h-0.5zM206.9 81.08h0.5v1.97h-0.5zM207.4 80.44h0.5v2.61h-0.5zM207.9 80.67h0.5v2.38h-0.5zM208.4 81.08h0.5v1.97h-0.5zM208.9 81.72h0.5v1.33h-0.5zM209.4 81.44h0.5v1.61h-0.5zM209.9 80.58h0.5v2.47h-0.5zM210.4 81.55h0.5v1.5h-0.5zM210.9 80.93h0.5v2.12h-0.5zM211.4 81.08h0.5v1.97h-0.5zM211.9 80.57h0.5v2.48h-0.5zM212.4 80.71h0.5v2.34h-0.5zM212.9 81.78h0.5v1.27h-0.5zM213.4 82.94h0.5v0.11h-0.5zM213.9 81.83h0.4v1.22h-0.4zM207.79 79.15h0.8v0.8h-0.8zM211.89 76.55h0.8v0.8h-0.8zM203.84 77.34h0.8v0.8h-0.8zM211.84 76.88h0.8v0.8h-0.8zM209.35 80.28h0.8v0.8h-0.8zM212.25 77.63h0.8v0.8h-0.8zM210.52 76.02h0.8v0.8h-0.8zM207.01 80.74h0.8v0.8h-0.8zM209.16 77.73h0.8v0.8h-0.8zM205.48 78.15h0.8v0.8h-0.8zM213.09 80.39h0.8v0.8h-0.8zM209.71 78.66h0.8v0.8h-0.8zM208.24 80.46h0.8v0.8h-0.8zM206.05 78.14h0.8v0.8h-0.8zM211.63 79.69h0.8v0.8h-0.8zM204.31 77.63h0.8v0.8h-0.8zM211.43 80.39h0.8v0.8h-0.8zM224.4 83h9.85v10.3h-9.85zM224.4 80.54h0.5v2.51h-0.5zM224.9 81.33h0.5v1.72h-0.5zM225.4 80.61h0.5v2.44h-0.5zM225.9 81.82h0.5v1.23h-0.5zM226.4 82.05h0.5v1h-0.5zM226.9 80.67h0.5v2.38h-0.5zM227.4 81.57h0.5v1.48h-0.5zM227.9 82.12h0.5v0.93h-0.5zM228.4 81.57h0.5v1.48h-0.5zM228.9 81.1h0.5v1.95h-0.5zM229.4 82.9h0.5v0.15h-0.5zM229.9 81.24h0.5v1.81h-0.5zM230.4 81.4h0.5v1.65h-0.5zM230.9 81.25h0.5v1.8h-0.5zM231.4 82.27h0.5v0.78h-0.5zM231.9 80.87h0.5v2.18h-0.5zM232.4 80.7h0.5v2.35h-0.5zM232.9 80.62h0.5v2.43h-0.5zM233.4 81.69h0.5v1.36h-0.5zM230.8 79.96h0.8v0.8h-0.8zM231.16 80.79h0.8v0.8h-0.8zM232.26 74.76h0.8v0.8h-0.8zM228.85 79.48h0.8v0.8h-0.8zM229.17 79.38h0.8v0.8h-0.8zM224.59 74.07h0.8v0.8h-0.8zM226.41 80.52h0.8v0.8h-0.8zM225.32 80.34h0.8v0.8h-0.8zM231.75 80.86h0.8v0.8h-0.8zM225.27 78.52h0.8v0.8h-0.8zM226.16 80.88h0.8v0.8h-0.8zM229.79 79.2h0.8v0.8h-0.8zM229.11 78.49h0.8v0.8h-0.8zM225.33 76.85h0.8v0.8h-0.8zM230.85 80.83h0.8v0.8h-0.8zM242.9 83h8.85v10.3h-8.85zM242.9 81.12h0.5v1.93h-0.5zM243.4 82.4h0.5v0.65h-0.5zM243.9 80.53h0.5v2.52h-0.5zM244.4 81.68h0.5v1.37h-0.5zM244.9 80.65h0.5v2.4h-0.5zM245.4 80.66h0.5v2.39h-0.5zM245.9 80.46h0.5v2.59h-0.5zM246.4 82h0.5v1.05h-0.5zM246.9 81.44h0.5v1.61h-0.5zM247.4 80.54h0.5v2.51h-0.5zM247.9 82.83h0.5v0.22h-0.5zM248.4 82.58h0.5v0.47h-0.5zM248.9 81.15h0.5v1.9h-0.5zM249.4 81.29h0.5v1.76h-0.5zM249.9 80.53h0.5v2.52h-0.5zM250.4 80.77h0.5v2.28h-0.5zM250.9 81.21h0.5v1.84h-0.5zM250.89 79.46h0.8v0.8h-0.8zM247.04 78.61h0.8v0.8h-0.8zM246.02 80.03h0.8v0.8h-0.8zM247.66 80.06h0.8v0.8h-0.8zM250.48 78.66h0.8v0.8h-0.8zM247.1 80.71h0.8v0.8h-0.8zM245.9 79.9h0.8v0.8h-0.8zM247.39 79.21h0.8v0.8h-0.8zM249.94 74.25h0.8v0.8h-0.8zM246.79 79.76h0.8v0.8h-0.8zM247.9 69.81h0.8v0.8h-0.8zM245.65 79.41h0.8v0.8h-0.8zM249.43 80.55h0.8v0.8h-0.8zM259.4 83h7.35v10.3h-7.35zM259.4 81.81h0.5v1.24h-0.5zM259.9 80.77h0.5v2.28h-0.5zM260.4 81.53h0.5v1.52h-0.5zM260.9 80.98h0.5v2.07h-0.5zM261.4 81.15h0.5v1.9h-0.5zM261.9 81.71h0.5v1.34h-0.5zM262.4 81.52h0.5v1.53h-0.5zM262.9 82.4h0.5v0.65h-0.5zM263.4 82.08h0.5v0.97h-0.5zM263.9 80.64h0.5v2.41h-0.5zM264.4 81.69h0.5v1.36h-0.5zM264.9 80.97h0.5v2.08h-0.5zM265.4 82.31h0.5v0.74h-0.5zM265.9 81.16h0.5v1.89h-0.5zM261.75 79.53h0.8v0.8h-0.8zM261.33 80.78h0.8v0.8h-0.8zM261.42 80.41h0.8v0.8h-0.8zM260.22 78.4h0.8v0.8h-0.8zM261.24 79.89h0.8v0.8h-0.8zM265.31 77.94h0.8v0.8h-0.8zM265.14 76.97h0.8v0.8h-0.8zM260.26 80.27h0.8v0.8h-0.8zM259.59 78.64h0.8v0.8h-0.8zM263.71 80.05h0.8v0.8h-0.8zM262.08 78.77h0.8v0.8h-0.8zM272 83h6.95v10.3h-6.95zM272 81.39h0.5v1.66h-0.5zM272.5 82.3h0.5v0.75h-0.5zM273 81.68h0.5v1.37h-0.5zM273.5 81.35h0.5v1.7h-0.5zM274 81.58h0.5v1.47h-0.5zM274.5 82.11h0.5v0.94h-0.5zM275 82.46h0.5v0.59h-0.5zM275.5 82.83h0.5v0.22h-0.5zM276 80.41h0.5v2.64h-0.5zM276.5 80.81h0.5v2.24h-0.5zM277 82.41h0.5v0.64h-0.5zM277.5 80.87h0.5v2.18h-0.5zM278 80.43h0.5v2.62h-0.5zM278.5 81.16h0.1v1.89h-0.1zM272.66 79.58h0.8v0.8h-0.8zM274.65 80.5h0.8v0.8h-0.8zM275.31 80.9h0.8v0.8h-0.8zM277.61 78.85h0.8v0.8h-0.8zM275.83 75.45h0.8v0.8h-0.8zM275.98 80.34h0.8v0.8h-0.8zM273.5 80.62h0.8v0.8h-0.8zM272.17 77.94h0.8v0.8h-0.8zM277.12 80.22h0.8v0.8h-0.8zM273.13 78.89h0.8v0.8h-0.8zM285.7 83h6.55v10.3h-6.55zM285.7 80.77h0.5v2.28h-0.5zM286.2 82.21h0.5v0.84h-0.5zM286.7 80.77h0.5v2.28h-0.5zM287.2 82.53h0.5v0.52h-0.5zM287.7 81.9h0.5v1.15h-0.5zM288.2 81.56h0.5v1.49h-0.5zM288.7 82.79h0.5v0.26h-0.5zM289.2 81.1h0.5v1.95h-0.5zM289.7 81.97h0.5v1.08h-0.5zM290.2 81.74h0.5v1.31h-0.5zM290.7 80.89h0.5v2.16h-0.5zM291.2 81.44h0.5v1.61h-0.5zM291.7 80.58h0.2v2.47h-0.2zM289.24 76.81h0.8v0.8h-0.8zM288.91 75.93h0.8v0.8h-0.8zM290.66 80.55h0.8v0.8h-0.8zM289.95 80.08h0.8v0.8h-0.8zM290.05 78.64h0.8v0.8h-0.8zM290.41 80.66h0.8v0.8h-0.8zM287.83 78.25h0.8v0.8h-0.8zM291.1 78.36h0.8v0.8h-0.8zM285.95 79.07h0.8v0.8h-0.8zM296.5 83h4.95v10.3h-4.95zM296.5 82.52h0.5v0.53h-0.5zM297 81.65h0.5v1.4h-0.5zM297.5 81.68h0.5v1.37h-0.5zM298 80.42h0.5v2.63h-0.5zM298.5 81.32h0.5v1.73h-0.5zM299 81.57h0.5v1.48h-0.5zM299.5 81.89h0.5v1.16h-0.5zM300 81.91h0.5v1.14h-0.5zM300.5 81.62h0.5v1.43h-0.5zM301 82.22h0.1v0.83h-0.1zM296.53 76.82h0.8v0.8h-0.8zM298.36 79.74h0.8v0.8h-0.8zM298.83 80.2h0.8v0.8h-0.8zM297.19 80.78h0.8v0.8h-0.8zM297.74 80.18h0.8v0.8h-0.8zM299.48 79.32h0.8v0.8h-0.8zM300.34 80.09h0.8v0.8h-0.8zM305.15 83h4.4v10.3h-4.4zM305.15 80.83h0.5v2.22h-0.5zM305.65 81.85h0.5v1.2h-0.5zM306.15 80.88h0.5v2.17h-0.5zM306.65 80.79h0.5v2.26h-0.5zM307.15 80.77h0.5v2.28h-0.5zM307.65 81.71h0.5v1.34h-0.5zM308.15 80.77h0.5v2.28h-0.5zM308.65 80.44h0.5v2.61h-0.5zM309.15 81.38h0.05v1.67h-0.05zM306.14 79.44h0.8v0.8h-0.8zM308.49 80.64h0.8v0.8h-0.8zM305.18 79.63h0.8v0.8h-0.8zM307.48 77.94h0.8v0.8h-0.8zM306.44 71.8h0.8v0.8h-0.8zM305.96 78.09h0.8v0.8h-0.8zM312.8 83h4.45v10.3h-4.45zM312.8 81.98h0.5v1.07h-0.5zM313.3 80.59h0.5v2.46h-0.5zM313.8 81.59h0.5v1.46h-0.5zM314.3 80.76h0.5v2.29h-0.5zM314.8 80.62h0.5v2.43h-0.5zM315.3 82.06h0.5v0.99h-0.5zM315.8 80.62h0.5v2.43h-0.5zM316.3 80.41h0.5v2.64h-0.5zM316.8 81.74h0.1v1.31h-0.1zM312.89 80.68h0.8v0.8h-0.8zM316.31 80.9h0.8v0.8h-0.8zM316.08 80.59h0.8v0.8h-0.8zM315.45 80.71h0.8v0.8h-0.8zM313.41 78.62h0.8v0.8h-0.8zM313.12 80.09h0.8v0.8h-0.8zM320 83h3.35v10.3h-3.35zM320 80.4h0.5v2.65h-0.5zM320.5 82.89h0.5v0.16h-0.5zM321 81.07h0.5v1.98h-0.5zM321.5 80.52h0.5v2.53h-0.5zM322 81.86h0.5v1.19h-0.5zM322.5 81.07h0.5v1.98h-0.5zM320.94 80.37h0.8v0.8h-0.8zM320.5 80.67h0.8v0.8h-0.8zM322.11 77.86h0.8v0.8h-0.8zM322.27 80.82h0.8v0.8h-0.8zM325.1 83h2.15v10.3h-2.15zM325.1 81.37h0.5v1.68h-0.5zM325.6 81.01h0.5v2.04h-0.5zM326.1 80.68h0.5v2.37h-0.5zM326.6 80.57h0.3v2.48h-0.3zM326.23 80.83h0.8v0.8h-0.8zM325.6 77.35h0.8v0.8h-0.8z"/>
<path fill="#33668f" d="M203.4 100.6h11.25v9.4h-11.25zM203.4 109.95h0.5v3.19h-0.5zM203.9 109.95h0.5v1.88h-0.5zM204.4 109.95h0.5v1.72h-0.5zM204.9 109.95h0.5v2.12h-0.5zM205.4 109.95h0.5v0.68h-0.5zM205.9 109.95h0.5v0.69h-0.5zM206.4 109.95h0.5v0.65h-0.5zM206.9 109.95h0.5v2.52h-0.5zM207.4 109.95h0.5v1.31h-0.5zM207.9 109.95h0.5v2.03h-0.5zM208.4 109.95h0.5v1.45h-0.5zM208.9 109.95h0.5v1.86h-0.5zM209.4 109.95h0.5v0.54h-0.5zM209.9 109.95h0.5v0.16h-0.5zM210.4 109.95h0.5v3.59h-0.5zM210.9 109.95h0.5v1.35h-0.5zM211.4 109.95h0.5v0.38h-0.5zM211.9 109.95h0.5v2.28h-0.5zM212.4 109.95h0.5v2.83h-0.5zM212.9 109.95h0.5v0.56h-0.5zM213.4 109.95h0.5v2.15h-0.5zM213.9 109.95h0.4v1.24h-0.4zM208.75 111.83h0.6v0.6h-0.6zM212.32 112.91h0.6v0.6h-0.6zM209.24 112.31h0.6v0.6h-0.6zM211.43 112.73h0.6v0.6h-0.6zM213.15 114.23h0.6v0.6h-0.6zM206.02 111.86h0.6v0.6h-0.6zM205.47 112.13h0.6v0.6h-0.6zM204.26 111.89h0.6v0.6h-0.6zM209.14 115.21h0.6v0.6h-0.6zM208.12 116.7h0.6v0.6h-0.6zM212.77 111.91h0.6v0.6h-0.6zM209.56 112.64h0.6v0.6h-0.6zM206.05 113.19h0.6v0.6h-0.6zM210.3 112.63h0.6v0.6h-0.6zM208.02 112.09h0.6v0.6h-0.6zM205.68 111.87h0.6v0.6h-0.6zM206.04 112.52h0.6v0.6h-0.6zM212.7 115.72h0.6v0.6h-0.6zM224.4 100.6h9.85v9.4h-9.85zM224.4 109.95h0.5v1.8h-0.5zM224.9 109.95h0.5v1.01h-0.5zM225.4 109.95h0.5v0.44h-0.5zM225.9 109.95h0.5v1.46h-0.5zM226.4 109.95h0.5v0.49h-0.5zM226.9 109.95h0.5v2.13h-0.5zM227.4 109.95h0.5v3.1h-0.5zM227.9 109.95h0.5v0.53h-0.5zM228.4 109.95h0.5v2.06h-0.5zM228.9 109.95h0.5v2.69h-0.5zM229.4 109.95h0.5v0.59h-0.5zM229.9 109.95h0.5v2.97h-0.5zM230.4 109.95h0.5v3.38h-0.5zM230.9 109.95h0.5v1.4h-0.5zM231.4 109.95h0.5v1.51h-0.5zM231.9 109.95h0.5v3.02h-0.5zM232.4 109.95h0.5v1.89h-0.5zM232.9 109.95h0.5v1.42h-0.5zM233.4 109.95h0.5v3.39h-0.5zM231.31 112.49h0.6v0.6h-0.6zM226.54 112.48h0.6v0.6h-0.6zM231.56 115.87h0.6v0.6h-0.6zM231.65 114.94h0.6v0.6h-0.6zM224.88 113.01h0.6v0.6h-0.6zM232.92 116.34h0.6v0.6h-0.6zM226.62 112.71h0.6v0.6h-0.6zM230.03 112.56h0.6v0.6h-0.6zM229.12 111.92h0.6v0.6h-0.6zM228.25 112.97h0.6v0.6h-0.6zM224.59 112.05h0.6v0.6h-0.6zM233.03 114.3h0.6v0.6h-0.6zM232.74 113.47h0.6v0.6h-0.6zM231.6 115.4h0.6v0.6h-0.6zM232.27 111.86h0.6v0.6h-0.6zM230.11 112.31h0.6v0.6h-0.6zM230.44 112.33h0.6v0.6h-0.6zM229.23 116.1h0.6v0.6h-0.6zM229.93 112.28h0.6v0.6h-0.6zM242.9 100.6h8.85v9.4h-8.85zM242.9 109.95h0.5v2.97h-0.5zM243.4 109.95h0.5v1.85h-0.5zM243.9 109.95h0.5v0.4h-0.5zM244.4 109.95h0.5v3.22h-0.5zM244.9 109.95h0.5v2.48h-0.5zM245.4 109.95h0.5v2.95h-0.5zM245.9 109.95h0.5v3.56h-0.5zM246.4 109.95h0.5v3.2h-0.5zM246.9 109.95h0.5v1.52h-0.5zM247.4 109.95h0.5v0.56h-0.5zM247.9 109.95h0.5v1.04h-0.5zM248.4 109.95h0.5v1.84h-0.5zM248.9 109.95h0.5v1.82h-0.5zM249.4 109.95h0.5v0.68h-0.5zM249.9 109.95h0.5v0.66h-0.5zM250.4 109.95h0.5v2.27h-0.5zM250.9 109.95h0.5v2.17h-0.5zM247.93 111.87h0.6v0.6h-0.6zM246.15 114.38h0.6v0.6h-0.6zM245.32 113.76h0.6v0.6h-0.6zM242.93 112.41h0.6v0.6h-0.6zM249.55 113.27h0.6v0.6h-0.6zM248.18 112.16h0.6v0.6h-0.6zM246.83 113.14h0.6v0.6h-0.6zM245 113.53h0.6v0.6h-0.6zM247.44 112.68h0.6v0.6h-0.6zM243.86 112.08h0.6v0.6h-0.6zM248.9 111.99h0.6v0.6h-0.6zM243.69 112.11h0.6v0.6h-0.6zM247.03 114.69h0.6v0.6h-0.6zM247.74 114.54h0.6v0.6h-0.6zM243.39 111.82h0.6v0.6h-0.6zM248.99 112.45h0.6v0.6h-0.6zM259.4 100.6h7.35v9.4h-7.35zM259.4 109.95h0.5v2.52h-0.5zM259.9 109.95h0.5v0.89h-0.5zM260.4 109.95h0.5v3.05h-0.5zM260.9 109.95h0.5v1.27h-0.5zM261.4 109.95h0.5v2.26h-0.5zM261.9 109.95h0.5v0.65h-0.5zM262.4 109.95h0.5v0.41h-0.5zM262.9 109.95h0.5v3.29h-0.5zM263.4 109.95h0.5v2.64h-0.5zM263.9 109.95h0.5v2.57h-0.5zM264.4 109.95h0.5v0.15h-0.5zM264.9 109.95h0.5v0.14h-0.5zM265.4 109.95h0.5v0.58h-0.5zM265.9 109.95h0.5v0.71h-0.5zM261.34 112.6h0.6v0.6h-0.6zM259.65 112.42h0.6v0.6h-0.6zM263.49 112.13h0.6v0.6h-0.6zM264.77 113.21h0.6v0.6h-0.6zM263.99 112.29h0.6v0.6h-0.6zM262.18 113.72h0.6v0.6h-0.6zM261.63 111.8h0.6v0.6h-0.6zM264.74 114.3h0.6v0.6h-0.6zM261.23 111.87h0.6v0.6h-0.6zM264.87 113.36h0.6v0.6h-0.6zM259.7 112.27h0.6v0.6h-0.6zM260.11 114.41h0.6v0.6h-0.6zM260.74 115.9h0.6v0.6h-0.6zM264.2 111.95h0.6v0.6h-0.6zM263.85 112.63h0.6v0.6h-0.6zM272 100.6h6.95v9.4h-6.95zM272 109.95h0.5v3.04h-0.5zM272.5 109.95h0.5v3.34h-0.5zM273 109.95h0.5v0.61h-0.5zM273.5 109.95h0.5v2.82h-0.5zM274 109.95h0.5v2.99h-0.5zM274.5 109.95h0.5v2.67h-0.5zM275 109.95h0.5v1.18h-0.5zM275.5 109.95h0.5v0.66h-0.5zM276 109.95h0.5v2.97h-0.5zM276.5 109.95h0.5v1.15h-0.5zM277 109.95h0.5v1.33h-0.5zM277.5 109.95h0.5v1.98h-0.5zM278 109.95h0.5v1.33h-0.5zM278.5 109.95h0.1v2.99h-0.1zM273.44 111.87h0.6v0.6h-0.6zM275.4 113.45h0.6v0.6h-0.6zM276.92 113.84h0.6v0.6h-0.6zM277.43 116.63h0.6v0.6h-0.6zM274.97 112.95h0.6v0.6h-0.6zM272.94 112.39h0.6v0.6h-0.6zM275.49 111.94h0.6v0.6h-0.6zM276.13 112.1h0.6v0.6h-0.6zM272.54 111.87h0.6v0.6h-0.6zM274.64 112.15h0.6v0.6h-0.6zM276.34 111.8h0.6v0.6h-0.6zM277.04 115.02h0.6v0.6h-0.6zM276.72 112.72h0.6v0.6h-0.6zM285.7 100.6h6.55v9.4h-6.55zM285.7 109.95h0.5v0.36h-0.5zM286.2 109.95h0.5v1.98h-0.5zM286.7 109.95h0.5v2.89h-0.5zM287.2 109.95h0.5v0.41h-0.5zM287.7 109.95h0.5v3.33h-0.5zM288.2 109.95h0.5v2.43h-0.5zM288.7 109.95h0.5v0.92h-0.5zM289.2 109.95h0.5v0.7h-0.5zM289.7 109.95h0.5v1.61h-0.5zM290.2 109.95h0.5v3.02h-0.5zM290.7 109.95h0.5v2.09h-0.5zM291.2 109.95h0.5v0.41h-0.5zM291.7 109.95h0.2v0.08h-0.2zM286.32 114.49h0.6v0.6h-0.6zM286.74 113.15h0.6v0.6h-0.6zM287.32 113.74h0.6v0.6h-0.6zM287.83 112.06h0.6v0.6h-0.6zM290.6 113.09h0.6v0.6h-0.6zM289.56 114.55h0.6v0.6h-0.6zM291.01 111.82h0.6v0.6h-0.6zM287.62 112.07h0.6v0.6h-0.6zM288.51 115.24h0.6v0.6h-0.6zM290.18 111.86h0.6v0.6h-0.6zM286.72 114.64h0.6v0.6h-0.6zM289.51 112.63h0.6v0.6h-0.6zM288.36 112.09h0.6v0.6h-0.6zM296.5 100.6h4.95v9.4h-4.95zM296.5 109.95h0.5v3.32h-0.5zM297 109.95h0.5v2.1h-0.5zM297.5 109.95h0.5v0.29h-0.5zM298 109.95h0.5v0.64h-0.5zM298.5 109.95h0.5v2.09h-0.5zM299 109.95h0.5v3.55h-0.5zM299.5 109.95h0.5v1.29h-0.5zM300 109.95h0.5v2.79h-0.5zM300.5 109.95h0.5v1.54h-0.5zM301 109.95h0.1v3.13h-0.1zM296.77 112.9h0.6v0.6h-0.6zM300.1 112.34h0.6v0.6h-0.6zM297.53 111.84h0.6v0.6h-0.6zM297.16 112.32h0.6v0.6h-0.6zM299.32 112.21h0.6v0.6h-0.6zM298.1 112.17h0.6v0.6h-0.6zM298.91 115.13h0.6v0.6h-0.6zM299.09 112.17h0.6v0.6h-0.6zM298.9 111.94h0.6v0.6h-0.6zM305.15 100.6h4.4v9.4h-4.4zM305.15 109.95h0.5v0.32h-0.5zM305.65 109.95h0.5v0.1h-0.5zM306.15 109.95h0.5v0.48h-0.5zM306.65 109.95h0.5v0.22h-0.5zM307.15 109.95h0.5v1.81h-0.5zM307.65 109.95h0.5v2h-0.5zM308.15 109.95h0.5v0.65h-0.5zM308.65 109.95h0.5v3.38h-0.5zM309.15 109.95h0.05v1.32h-0.05zM305.67 112.13h0.6v0.6h-0.6zM307.7 116.04h0.6v0.6h-0.6zM305.71 111.85h0.6v0.6h-0.6zM307.83 112.26h0.6v0.6h-0.6zM308.54 112.95h0.6v0.6h-0.6zM307.34 112.5h0.6v0.6h-0.6zM307.91 112.83h0.6v0.6h-0.6zM306.27 115.7h0.6v0.6h-0.6zM312.8 100.6h4.45v9.4h-4.45zM312.8 109.95h0.5v3.31h-0.5zM313.3 109.95h0.5v2.58h-0.5zM313.8 109.95h0.5v3.18h-0.5zM314.3 109.95h0.5v3.53h-0.5zM314.8 109.95h0.5v0.12h-0.5zM315.3 109.95h0.5v0.84h-0.5zM315.8 109.95h0.5v2.85h-0.5zM316.3 109.95h0.5v2.48h-0.5zM316.8 109.95h0.1v0.14h-0.1zM314.57 112.24h0.6v0.6h-0.6zM314.31 111.98h0.6v0.6h-0.6zM313.91 115.31h0.6v0.6h-0.6zM313.22 112.91h0.6v0.6h-0.6zM313.28 112.73h0.6v0.6h-0.6zM313.43 113.73h0.6v0.6h-0.6zM313.32 114.03h0.6v0.6h-0.6zM314.55 112h0.6v0.6h-0.6zM320 100.6h3.35v9.4h-3.35zM320 109.95h0.5v2.5h-0.5zM320.5 109.95h0.5v1.17h-0.5zM321 109.95h0.5v2.33h-0.5zM321.5 109.95h0.5v1.98h-0.5zM322 109.95h0.5v1.14h-0.5zM322.5 109.95h0.5v3.5h-0.5zM320 114.09h0.6v0.6h-0.6zM322.05 112.99h0.6v0.6h-0.6zM320.56 113.45h0.6v0.6h-0.6zM321.78 112.59h0.6v0.6h-0.6zM321.71 112.63h0.6v0.6h-0.6zM325.1 100.6h2.15v9.4h-2.15zM325.1 109.95h0.5v2.94h-0.5zM325.6 109.95h0.5v0.44h-0.5zM326.1 109.95h0.5v0.55h-0.5zM326.6 109.95h0.3v0.91h-0.3zM325.22 112.54h0.6v0.6h-0.6zM326.06 113.03h0.6v0.6h-0.6zM325.64 111.95h0.6v0.6h-0.6z"/>
<path fill="#ffffff" d="M201.1 83.49h0.5v0.5h-0.5zM209.43 84.63h0.5v0.5h-0.5zM216.9 84.43h0.5v0.5h-0.5zM225.51 83.2h0.5v0.5h-0.5zM236.41 84.19h0.5v0.5h-0.5zM245.44 84.92h0.5v0.5h-0.5z"/>
<line x1="187" y1="147" x2="333.6" y2="147" stroke="#d0d0d0" stroke-width="0.6" stroke-dasharray="1.6,1.6" />
<line x1="212.4" y1="47" x2="212.4" y2="84" stroke="#555555" stroke-width="0.8" stroke-dasharray="3,0.6" />
<line x1="253" y1="61" x2="253" y2="84" stroke="#7a7a7a" stroke-width="0.8" stroke-dasharray="3,0.6" />
<line x1="272.2" y1="51" x2="272.2" y2="84" stroke="#555555" stroke-width="0.8" stroke-dasharray="3,0.6" />
<line x1="297.8" y1="70" x2="297.8" y2="84" stroke="#555555" stroke-width="0.8" stroke-dasharray="3,0.6" />
<line x1="302.3" y1="52.5" x2="302.3" y2="84" stroke="#7a7a7a" stroke-width="0.8" stroke-dasharray="3,0.6" />
<line x1="311.4" y1="52" x2="311.4" y2="84" stroke="#7a7a7a" stroke-width="0.8" stroke-dasharray="3,0.6" />
<line x1="318.9" y1="64" x2="318.9" y2="84" stroke="#7a7a7a" stroke-width="0.8" stroke-dasharray="3,0.6" />
<line x1="305.4" y1="71" x2="305.4" y2="84" stroke="#555555" stroke-width="0.8" stroke-dasharray="3,0.6" />
<line x1="290.4" y1="72" x2="290.4" y2="84" stroke="#555555" stroke-width="0.8" stroke-dasharray="3,0.6" />
<line x1="187" y1="73.4" x2="333.6" y2="73.4" stroke="#ff3b3b" stroke-width="0.8" stroke-dasharray="1.8,1.6" />
<line x1="187" y1="121.5" x2="333.6" y2="121.5" stroke="#ff3b3b" stroke-width="0.8" stroke-dasharray="1.8,1.6" />
<line x1="244.4" y1="25" x2="244.4" y2="29.5" stroke="#80f000" stroke-width="1.4" />
<line x1="244.4" y1="30.3" x2="244.4" y2="34" stroke="#80f000" stroke-width="1.4" />
<line x1="244.4" y1="34.8" x2="244.4" y2="37.5" stroke="#80f000" stroke-width="1.4" />
<line x1="244.4" y1="38.2" x2="244.4" y2="93.2" stroke="#80f000" stroke-width="1.4" />
<text x="236.4" y="28.1" font-size="4.5" font-style="italic" text-anchor="middle" fill="#ff3b3b" stroke="#ff3b3b" stroke-width="0.06">HFE</text>
<line x1="326" y1="47.4" x2="326" y2="93.2" stroke="#80f000" stroke-width="1.35" stroke-dasharray="2.5,1.5" />
<line x1="326" y1="70" x2="326" y2="93.2" stroke="#80f000" stroke-width="1.35" />
<text x="312.4" y="46.1" font-size="4.5" font-style="italic" text-anchor="middle" fill="#ff3b3b" stroke="#ff3b3b" stroke-width="0.06">TMPRSS6</text>
<line x1="244.4" y1="100.6" x2="244.4" y2="152" stroke="#80f000" stroke-width="1.4" stroke-dasharray="9,1" />
<text x="236.4" y="157.5" font-size="4.5" font-style="italic" text-anchor="middle" fill="#ff3b3b" stroke="#ff3b3b" stroke-width="0.06">HFE</text>
<line x1="326" y1="100.6" x2="326" y2="113" stroke="#80f000" stroke-width="1.1" />
<line x1="326" y1="117.5" x2="326" y2="119" stroke="#80f000" stroke-width="1.1" />
<line x1="326" y1="121" x2="326" y2="122.5" stroke="#80f000" stroke-width="1.1" />
<line x1="326" y1="129" x2="326" y2="130.5" stroke="#80f000" stroke-width="1.1" />
<text x="312" y="135.5" font-size="4.5" font-style="italic" text-anchor="middle" fill="#ff3b3b" stroke="#ff3b3b" stroke-width="0.06">TMPRSS6</text>
<line x1="187.5" y1="17.5" x2="187.5" y2="93.3" stroke="#6e6e6e" stroke-width="0.9" />
<line x1="187" y1="93.3" x2="333.6" y2="93.3" stroke="#333333" stroke-width="0.85" />
<line x1="187.5" y1="100.3" x2="187.5" y2="180" stroke="#6e6e6e" stroke-width="0.9" />
<line x1="187" y1="100.3" x2="333.6" y2="100.3" stroke="#333333" stroke-width="0.85" />
<line x1="198.8" y1="93.3" x2="198.8" y2="94.6" stroke="#333333" stroke-width="0.4" />
<line x1="198.8" y1="99" x2="198.8" y2="100.3" stroke="#333333" stroke-width="0.4" />
<text x="198.8" y="98.6" font-size="3.9" text-anchor="middle" font-weight="normal" fill="#111"   stroke="#111" stroke-width="0.06">1</text>
<line x1="209.65" y1="93.3" x2="209.65" y2="94.6" stroke="#333333" stroke-width="0.4" />
<line x1="209.65" y1="99" x2="209.65" y2="100.3" stroke="#333333" stroke-width="0.4" />
<text x="209.65" y="98.6" font-size="3.9" text-anchor="middle" font-weight="normal" fill="#111"   stroke="#111" stroke-width="0.06">2</text>
<line x1="220" y1="93.3" x2="220" y2="94.6" stroke="#333333" stroke-width="0.4" />
<line x1="220" y1="99" x2="220" y2="100.3" stroke="#333333" stroke-width="0.4" />
<text x="220" y="98.6" font-size="3.9" text-anchor="middle" font-weight="normal" fill="#111"   stroke="#111" stroke-width="0.06">3</text>
<line x1="229.8" y1="93.3" x2="229.8" y2="94.6" stroke="#333333" stroke-width="0.4" />
<line x1="229.8" y1="99" x2="229.8" y2="100.3" stroke="#333333" stroke-width="0.4" />
<text x="229.8" y="98.6" font-size="3.9" text-anchor="middle" font-weight="normal" fill="#111"   stroke="#111" stroke-width="0.06">4</text>
<line x1="238.8" y1="93.3" x2="238.8" y2="94.6" stroke="#333333" stroke-width="0.4" />
<line x1="238.8" y1="99" x2="238.8" y2="100.3" stroke="#333333" stroke-width="0.4" />
<text x="238.8" y="98.6" font-size="3.9" text-anchor="middle" font-weight="normal" fill="#111"   stroke="#111" stroke-width="0.06">5</text>
<line x1="247.5" y1="93.3" x2="247.5" y2="94.6" stroke="#333333" stroke-width="0.4" />
<line x1="247.5" y1="99" x2="247.5" y2="100.3" stroke="#333333" stroke-width="0.4" />
<text x="247.5" y="98.6" font-size="3.9" text-anchor="middle" font-weight="normal" fill="#111"   stroke="#111" stroke-width="0.06">6</text>
<line x1="255.9" y1="93.3" x2="255.9" y2="94.6" stroke="#333333" stroke-width="0.4" />
<line x1="255.9" y1="99" x2="255.9" y2="100.3" stroke="#333333" stroke-width="0.4" />
<text x="255.9" y="98.6" font-size="3.9" text-anchor="middle" font-weight="normal" fill="#111"   stroke="#111" stroke-width="0.06">7</text>
<line x1="263.15" y1="93.3" x2="263.15" y2="94.6" stroke="#333333" stroke-width="0.4" />
<line x1="263.15" y1="99" x2="263.15" y2="100.3" stroke="#333333" stroke-width="0.4" />
<text x="263.15" y="98.6" font-size="3.9" text-anchor="middle" font-weight="normal" fill="#111"   stroke="#111" stroke-width="0.06">8</text>
<line x1="270" y1="93.3" x2="270" y2="94.6" stroke="#333333" stroke-width="0.4" />
<line x1="270" y1="99" x2="270" y2="100.3" stroke="#333333" stroke-width="0.4" />
<text x="270" y="98.6" font-size="3.9" text-anchor="middle" font-weight="normal" fill="#111"   stroke="#111" stroke-width="0.06">9</text>
<line x1="276" y1="93.3" x2="276" y2="94.6" stroke="#333333" stroke-width="0.4" />
<line x1="276" y1="99" x2="276" y2="100.3" stroke="#333333" stroke-width="0.4" />
<text x="276" y="98.6" font-size="3.9" text-anchor="middle" font-weight="normal" fill="#111"   stroke="#111" stroke-width="0.06">10</text>
<line x1="282.2" y1="93.3" x2="282.2" y2="94.6" stroke="#333333" stroke-width="0.4" />
<line x1="282.2" y1="99" x2="282.2" y2="100.3" stroke="#333333" stroke-width="0.4" />
<text x="282.2" y="98.6" font-size="3.9" text-anchor="middle" font-weight="normal" fill="#111"   stroke="#111" stroke-width="0.06">11</text>
<line x1="288.3" y1="93.3" x2="288.3" y2="94.6" stroke="#333333" stroke-width="0.4" />
<line x1="288.3" y1="99" x2="288.3" y2="100.3" stroke="#333333" stroke-width="0.4" />
<text x="288.3" y="98.6" font-size="3.9" text-anchor="middle" font-weight="normal" fill="#111"   stroke="#111" stroke-width="0.06">12</text>
<line x1="293.9" y1="93.3" x2="293.9" y2="94.6" stroke="#333333" stroke-width="0.4" />
<line x1="293.9" y1="99" x2="293.9" y2="100.3" stroke="#333333" stroke-width="0.4" />
<text x="293.9" y="98.6" font-size="3.9" text-anchor="middle" font-weight="normal" fill="#111"   stroke="#111" stroke-width="0.06">13</text>
<line x1="299" y1="93.3" x2="299" y2="94.6" stroke="#333333" stroke-width="0.4" />
<line x1="299" y1="99" x2="299" y2="100.3" stroke="#333333" stroke-width="0.4" />
<text x="299" y="98.6" font-size="3.9" text-anchor="middle" font-weight="normal" fill="#111"   stroke="#111" stroke-width="0.06">14</text>
<line x1="307.7" y1="93.3" x2="307.7" y2="94.6" stroke="#333333" stroke-width="0.4" />
<line x1="307.7" y1="99" x2="307.7" y2="100.3" stroke="#333333" stroke-width="0.4" />
<text x="307.7" y="98.6" font-size="3.9" text-anchor="middle" font-weight="normal" fill="#111"   stroke="#111" stroke-width="0.06">16</text>
<line x1="315.9" y1="93.3" x2="315.9" y2="94.6" stroke="#333333" stroke-width="0.4" />
<line x1="315.9" y1="99" x2="315.9" y2="100.3" stroke="#333333" stroke-width="0.4" />
<text x="315.9" y="98.6" font-size="3.9" text-anchor="middle" font-weight="normal" fill="#111"   stroke="#111" stroke-width="0.06">18</text>
<line x1="321.5" y1="93.3" x2="321.5" y2="94.6" stroke="#333333" stroke-width="0.4" />
<line x1="321.5" y1="99" x2="321.5" y2="100.3" stroke="#333333" stroke-width="0.4" />
<text x="321.5" y="98.6" font-size="3.9" text-anchor="middle" font-weight="normal" fill="#111"   stroke="#111" stroke-width="0.06">20</text>
<line x1="325.3" y1="93.3" x2="325.3" y2="94.6" stroke="#333333" stroke-width="0.4" />
<line x1="325.3" y1="99" x2="325.3" y2="100.3" stroke="#333333" stroke-width="0.4" />
<text x="325.3" y="98.6" font-size="3.9" text-anchor="middle" font-weight="normal" fill="#111"   stroke="#111" stroke-width="0.06">22</text>
<line x1="185.8" y1="20" x2="187" y2="20" stroke="#6e6e6e" stroke-width="0.5" />
<text x="185.3" y="22" font-size="5.6" text-anchor="end" font-weight="normal" fill="#222"   stroke="#222" stroke-width="0.1">100</text>
<line x1="185.8" y1="37" x2="187" y2="37" stroke="#6e6e6e" stroke-width="0.5" />
<text x="185.3" y="39" font-size="5.6" text-anchor="end" font-weight="normal" fill="#222"   stroke="#222" stroke-width="0.1">50</text>
<line x1="185.8" y1="49" x2="187" y2="49" stroke="#6e6e6e" stroke-width="0.5" />
<text x="185.3" y="51" font-size="5.6" text-anchor="end" font-weight="normal" fill="#222"   stroke="#222" stroke-width="0.1">15</text>
<line x1="185.8" y1="65" x2="187" y2="65" stroke="#6e6e6e" stroke-width="0.5" />
<text x="185.3" y="67" font-size="5.6" text-anchor="end" font-weight="normal" fill="#222"   stroke="#222" stroke-width="0.1">10</text>
<line x1="185.8" y1="80.6" x2="187" y2="80.6" stroke="#6e6e6e" stroke-width="0.5" />
<text x="185.3" y="82.6" font-size="5.6" text-anchor="end" font-weight="normal" fill="#222"   stroke="#222" stroke-width="0.1">5</text>
<line x1="185.8" y1="113.5" x2="187" y2="113.5" stroke="#6e6e6e" stroke-width="0.5" />
<text x="185.3" y="115.5" font-size="5.6" text-anchor="end" font-weight="normal" fill="#222"   stroke="#222" stroke-width="0.1">5</text>
<line x1="185.8" y1="130.4" x2="187" y2="130.4" stroke="#6e6e6e" stroke-width="0.5" />
<text x="185.3" y="132.4" font-size="5.6" text-anchor="end" font-weight="normal" fill="#222"   stroke="#222" stroke-width="0.1">10</text>
<line x1="185.8" y1="147" x2="187" y2="147" stroke="#6e6e6e" stroke-width="0.5" />
<text x="185.3" y="149" font-size="5.6" text-anchor="end" font-weight="normal" fill="#222"   stroke="#222" stroke-width="0.1">15</text>
<line x1="185.8" y1="169.75" x2="187" y2="169.75" stroke="#6e6e6e" stroke-width="0.5" />
<text x="185.3" y="171.75" font-size="5.6" text-anchor="end" font-weight="normal" fill="#222"   stroke="#222" stroke-width="0.1">100</text>
<text x="429.7" y="12.7" font-size="7.8" font-weight="bold" text-anchor="middle">Norm<tspan font-size="5.4" dy="1.1">GRM</tspan></text>
<line x1="356.4" y1="49" x2="503" y2="49" stroke="#c8c8c8" stroke-width="0.5" stroke-dasharray="1.6,1.6" />
<path fill="#9b9b9b" d="M362.8 83.5h10.35v9.8h-10.35zM362.8 80.64h0.5v2.91h-0.5zM363.3 77.51h0.5v6.04h-0.5zM363.8 79.02h0.5v4.53h-0.5zM364.3 80.34h0.5v3.21h-0.5zM364.8 80.17h0.5v3.38h-0.5zM365.3 78.49h0.5v5.06h-0.5zM365.8 78.69h0.5v4.86h-0.5zM366.3 82.19h0.5v1.36h-0.5zM366.8 79.09h0.5v4.46h-0.5zM367.3 80.81h0.5v2.74h-0.5zM367.8 79.94h0.5v3.61h-0.5zM368.3 81.6h0.5v1.95h-0.5zM368.8 80.79h0.5v2.76h-0.5zM369.3 80.97h0.5v2.58h-0.5zM369.8 80.73h0.5v2.82h-0.5zM370.3 83.26h0.5v0.29h-0.5zM370.8 81.84h0.5v1.71h-0.5zM371.3 79.67h0.5v3.88h-0.5zM371.8 82.89h0.5v0.66h-0.5zM372.3 81.99h0.5v1.56h-0.5zM369.62 77.78h0.8v0.8h-0.8zM365.88 77.91h0.8v0.8h-0.8zM370.72 78.43h0.8v0.8h-0.8zM368.84 73.11h0.8v0.8h-0.8zM364.72 77.13h0.8v0.8h-0.8zM370.33 75.95h0.8v0.8h-0.8zM366.33 78.57h0.8v0.8h-0.8zM367 77.39h0.8v0.8h-0.8zM369.57 77.7h0.8v0.8h-0.8zM366.68 75.72h0.8v0.8h-0.8zM370.5 77.46h0.8v0.8h-0.8zM366.46 76.23h0.8v0.8h-0.8zM371.59 78.09h0.8v0.8h-0.8zM372.03 75.14h0.8v0.8h-0.8zM366.34 75.57h0.8v0.8h-0.8zM365.93 78.49h0.8v0.8h-0.8zM369.98 77.34h0.8v0.8h-0.8zM367.8 76.74h0.8v0.8h-0.8zM371.36 74.66h0.8v0.8h-0.8zM363.04 76.13h0.8v0.8h-0.8zM367.19 76.93h0.8v0.8h-0.8zM370.78 77.17h0.8v0.8h-0.8zM367.3 72.38h0.8v0.8h-0.8zM366.98 76.77h0.8v0.8h-0.8zM367.66 73.73h0.8v0.8h-0.8zM369.17 74.85h0.8v0.8h-0.8zM366.62 78.58h0.8v0.8h-0.8zM369.26 76.39h0.8v0.8h-0.8zM370.11 74.5h0.8v0.8h-0.8zM363.92 77.99h0.8v0.8h-0.8zM383.7 83.5h10.45v9.8h-10.45zM383.7 82.28h0.5v1.27h-0.5zM384.2 77.73h0.5v5.82h-0.5zM384.7 78.03h0.5v5.52h-0.5zM385.2 82.22h0.5v1.33h-0.5zM385.7 79.58h0.5v3.97h-0.5zM386.2 79.64h0.5v3.91h-0.5zM386.7 82.98h0.5v0.57h-0.5zM387.2 80.66h0.5v2.89h-0.5zM387.7 78.75h0.5v4.8h-0.5zM388.2 79.29h0.5v4.26h-0.5zM388.7 81.33h0.5v2.22h-0.5zM389.2 78.67h0.5v4.88h-0.5zM389.7 81.26h0.5v2.29h-0.5zM390.2 79.81h0.5v3.74h-0.5zM390.7 80.5h0.5v3.05h-0.5zM391.2 77.61h0.5v5.94h-0.5zM391.7 79.26h0.5v4.29h-0.5zM392.2 78.46h0.5v5.09h-0.5zM392.7 79.11h0.5v4.44h-0.5zM393.2 80.73h0.5v2.82h-0.5zM393.7 77.68h0.1v5.87h-0.1zM390.51 75.35h0.8v0.8h-0.8zM386.36 78.2h0.8v0.8h-0.8zM389.22 73.71h0.8v0.8h-0.8zM391.32 77.48h0.8v0.8h-0.8zM385.04 76.63h0.8v0.8h-0.8zM392.12 78.19h0.8v0.8h-0.8zM390.79 78.17h0.8v0.8h-0.8zM386.69 78.54h0.8v0.8h-0.8zM386.56 77.32h0.8v0.8h-0.8zM392.98 69.35h0.8v0.8h-0.8zM385.5 77.64h0.8v0.8h-0.8zM392.76 78.07h0.8v0.8h-0.8zM386.78 77.05h0.8v0.8h-0.8zM384.74 77.84h0.8v0.8h-0.8zM387.48 77.31h0.8v0.8h-0.8zM392.95 77.81h0.8v0.8h-0.8zM385.66 71.86h0.8v0.8h-0.8zM388.02 73.52h0.8v0.8h-0.8zM389.82 74.39h0.8v0.8h-0.8zM386.72 78.23h0.8v0.8h-0.8zM390.97 76.88h0.8v0.8h-0.8zM389.06 75.53h0.8v0.8h-0.8zM390.93 77.78h0.8v0.8h-0.8zM387.18 71.57h0.8v0.8h-0.8zM388.78 77.73h0.8v0.8h-0.8zM389.75 77.84h0.8v0.8h-0.8zM391.11 78.58h0.8v0.8h-0.8zM391.64 76.31h0.8v0.8h-0.8zM387.1 70.67h0.8v0.8h-0.8zM386.25 77.9h0.8v0.8h-0.8zM403.3 83.5h9.35v9.8h-9.35zM403.3 82.11h0.5v1.44h-0.5zM403.8 79.88h0.5v3.67h-0.5zM404.3 79.25h0.5v4.3h-0.5zM404.8 79.84h0.5v3.71h-0.5zM405.3 77.8h0.5v5.75h-0.5zM405.8 80.57h0.5v2.98h-0.5zM406.3 77.92h0.5v5.63h-0.5zM406.8 79.04h0.5v4.51h-0.5zM407.3 77.66h0.5v5.89h-0.5zM407.8 82.63h0.5v0.92h-0.5zM408.3 81.76h0.5v1.79h-0.5zM408.8 81.29h0.5v2.26h-0.5zM409.3 77.95h0.5v5.6h-0.5zM409.8 83.31h0.5v0.24h-0.5zM410.3 81.46h0.5v2.09h-0.5zM410.8 78.91h0.5v4.64h-0.5zM411.3 77.55h0.5v6h-0.5zM411.8 82h0.5v1.55h-0.5zM407.02 75.38h0.8v0.8h-0.8zM409.17 74.78h0.8v0.8h-0.8zM409.7 77.88h0.8v0.8h-0.8zM405.49 78.62h0.8v0.8h-0.8zM409.17 78.03h0.8v0.8h-0.8zM405.51 69.18h0.8v0.8h-0.8zM408.77 76.14h0.8v0.8h-0.8zM408.88 76.1h0.8v0.8h-0.8zM409.21 77.66h0.8v0.8h-0.8zM403.84 78.5h0.8v0.8h-0.8zM403.42 77.42h0.8v0.8h-0.8zM404.51 78.36h0.8v0.8h-0.8zM407.5 68.72h0.8v0.8h-0.8zM409.14 77.79h0.8v0.8h-0.8zM409.84 78.14h0.8v0.8h-0.8zM404.15 77.67h0.8v0.8h-0.8zM406.78 75.36h0.8v0.8h-0.8zM407.08 74.98h0.8v0.8h-0.8zM404.11 71.01h0.8v0.8h-0.8zM406.21 73.6h0.8v0.8h-0.8zM403.56 73.66h0.8v0.8h-0.8zM405.22 73.18h0.8v0.8h-0.8zM410.12 75.53h0.8v0.8h-0.8zM405.66 78.67h0.8v0.8h-0.8zM404.91 71.98h0.8v0.8h-0.8zM404.64 75.62h0.8v0.8h-0.8zM408.29 75.61h0.8v0.8h-0.8zM420.8 83.5h8.35v9.8h-8.35zM420.8 79.7h0.5v3.85h-0.5zM421.3 82.27h0.5v1.28h-0.5zM421.8 81.89h0.5v1.66h-0.5zM422.3 79.61h0.5v3.94h-0.5zM422.8 82.49h0.5v1.06h-0.5zM423.3 79.33h0.5v4.22h-0.5zM423.8 81.58h0.5v1.97h-0.5zM424.3 81.47h0.5v2.08h-0.5zM424.8 80.48h0.5v3.07h-0.5zM425.3 79.87h0.5v3.68h-0.5zM425.8 78.86h0.5v4.69h-0.5zM426.3 83.13h0.5v0.42h-0.5zM426.8 78.86h0.5v4.69h-0.5zM427.3 81.71h0.5v1.84h-0.5zM427.8 81.27h0.5v2.28h-0.5zM428.3 79.3h0.5v4.25h-0.5zM425.98 75.97h0.8v0.8h-0.8zM427.56 78.05h0.8v0.8h-0.8zM423.13 75.6h0.8v0.8h-0.8zM422.76 78.21h0.8v0.8h-0.8zM422.5 74.48h0.8v0.8h-0.8zM427 75.1h0.8v0.8h-0.8zM427.99 74.18h0.8v0.8h-0.8zM423.12 77.62h0.8v0.8h-0.8zM426.21 78.54h0.8v0.8h-0.8zM425.37 78.43h0.8v0.8h-0.8zM421.17 76.64h0.8v0.8h-0.8zM421.93 71.03h0.8v0.8h-0.8zM427.38 76.93h0.8v0.8h-0.8zM422.28 78.34h0.8v0.8h-0.8zM424.6 76.6h0.8v0.8h-0.8zM423.52 75.1h0.8v0.8h-0.8zM424.77 74.43h0.8v0.8h-0.8zM421.6 78.49h0.8v0.8h-0.8zM423.7 76.81h0.8v0.8h-0.8zM422.69 75.55h0.8v0.8h-0.8zM422.46 77.61h0.8v0.8h-0.8zM424.38 75.14h0.8v0.8h-0.8zM426.58 77.37h0.8v0.8h-0.8zM424.15 71.2h0.8v0.8h-0.8zM435.8 83.5h5.95v9.8h-5.95zM435.8 80.21h0.5v3.34h-0.5zM436.3 81.86h0.5v1.69h-0.5zM436.8 79.56h0.5v3.99h-0.5zM437.3 82.22h0.5v1.33h-0.5zM437.8 82.05h0.5v1.5h-0.5zM438.3 82.76h0.5v0.79h-0.5zM438.8 78.98h0.5v4.57h-0.5zM439.3 77.66h0.5v5.89h-0.5zM439.8 80.6h0.5v2.95h-0.5zM440.3 80.89h0.5v2.66h-0.5zM440.8 80.47h0.5v3.08h-0.5zM441.3 80.9h0.1v2.65h-0.1zM439.32 77.28h0.8v0.8h-0.8zM436.58 72.99h0.8v0.8h-0.8zM438.72 78.68h0.8v0.8h-0.8zM440.13 74.98h0.8v0.8h-0.8zM437.61 75.86h0.8v0.8h-0.8zM440.49 77.23h0.8v0.8h-0.8zM438.01 77.69h0.8v0.8h-0.8zM438.63 75.59h0.8v0.8h-0.8zM439.55 70.18h0.8v0.8h-0.8zM436.54 77.4h0.8v0.8h-0.8zM440.14 74.23h0.8v0.8h-0.8zM438.81 75.47h0.8v0.8h-0.8zM437.53 70.42h0.8v0.8h-0.8zM438.6 77.23h0.8v0.8h-0.8zM436.73 78.35h0.8v0.8h-0.8zM440.38 74.09h0.8v0.8h-0.8zM448 83.5h7.45v9.8h-7.45zM448 82.11h0.5v1.44h-0.5zM448.5 79.07h0.5v4.48h-0.5zM449 79.76h0.5v3.79h-0.5zM449.5 80.59h0.5v2.96h-0.5zM450 82.06h0.5v1.49h-0.5zM450.5 82.28h0.5v1.27h-0.5zM451 80.22h0.5v3.33h-0.5zM451.5 80.09h0.5v3.46h-0.5zM452 81.41h0.5v2.14h-0.5zM452.5 80.81h0.5v2.74h-0.5zM453 79.76h0.5v3.79h-0.5zM453.5 78.67h0.5v4.88h-0.5zM454 79.57h0.5v3.98h-0.5zM454.5 82.1h0.5v1.45h-0.5zM455 78.05h0.1v5.5h-0.1zM450.43 69.52h0.8v0.8h-0.8zM454.48 78.27h0.8v0.8h-0.8zM451.84 68.97h0.8v0.8h-0.8zM450.54 76.43h0.8v0.8h-0.8zM450.07 78.62h0.8v0.8h-0.8zM449.35 78.32h0.8v0.8h-0.8zM449.88 75.86h0.8v0.8h-0.8zM451.72 70.24h0.8v0.8h-0.8zM452.52 77.41h0.8v0.8h-0.8zM454.27 75.83h0.8v0.8h-0.8zM451.59 73.03h0.8v0.8h-0.8zM452.42 77.42h0.8v0.8h-0.8zM451.99 77.68h0.8v0.8h-0.8zM454.4 77.9h0.8v0.8h-0.8zM454.42 78.51h0.8v0.8h-0.8zM448.06 76.4h0.8v0.8h-0.8zM449.36 76.68h0.8v0.8h-0.8zM448.78 73.52h0.8v0.8h-0.8zM452.42 75.41h0.8v0.8h-0.8zM454.12 64.86h0.8v0.8h-0.8zM452.48 75.13h0.8v0.8h-0.8zM461.3 83.5h4.95v9.8h-4.95zM461.3 77.66h0.5v5.89h-0.5zM461.8 78.46h0.5v5.09h-0.5zM462.3 81.65h0.5v1.9h-0.5zM462.8 80.99h0.5v2.56h-0.5zM463.3 82.48h0.5v1.07h-0.5zM463.8 78.5h0.5v5.05h-0.5zM464.3 78.8h0.5v4.75h-0.5zM464.8 80.12h0.5v3.43h-0.5zM465.3 80.8h0.5v2.75h-0.5zM465.8 81.4h0.1v2.15h-0.1zM463.3 75.14h0.8v0.8h-0.8zM464.97 73.3h0.8v0.8h-0.8zM464.86 77.05h0.8v0.8h-0.8zM463.03 77.62h0.8v0.8h-0.8zM465.29 78.12h0.8v0.8h-0.8zM461.95 77.76h0.8v0.8h-0.8zM465.08 73.23h0.8v0.8h-0.8zM462.66 73.25h0.8v0.8h-0.8zM464.95 77.11h0.8v0.8h-0.8zM462.09 74.47h0.8v0.8h-0.8zM462.84 78.34h0.8v0.8h-0.8zM465 77.05h0.8v0.8h-0.8zM462.93 76.12h0.8v0.8h-0.8zM470.5 83.5h4.4v9.8h-4.4zM470.5 80.98h0.5v2.57h-0.5zM471 83.18h0.5v0.37h-0.5zM471.5 80.99h0.5v2.56h-0.5zM472 82.82h0.5v0.73h-0.5zM472.5 82.77h0.5v0.78h-0.5zM473 79.38h0.5v4.17h-0.5zM473.5 82.39h0.5v1.16h-0.5zM474 82.12h0.5v1.43h-0.5zM474.5 81.26h0.05v2.29h-0.05zM471.49 71.48h0.8v0.8h-0.8zM473.71 72.87h0.8v0.8h-0.8zM474.01 77.04h0.8v0.8h-0.8zM473.33 77.76h0.8v0.8h-0.8zM473.79 73.94h0.8v0.8h-0.8zM473.1 77.96h0.8v0.8h-0.8zM470.82 71.3h0.8v0.8h-0.8zM472.46 75.99h0.8v0.8h-0.8zM473.56 78.26h0.8v0.8h-0.8zM472.98 76.92h0.8v0.8h-0.8zM473.29 76.96h0.8v0.8h-0.8zM471.2 69.75h0.8v0.8h-0.8zM478.6 83.5h3.95v9.8h-3.95zM478.6 82.71h0.5v0.84h-0.5zM479.1 80.8h0.5v2.75h-0.5zM479.6 78.08h0.5v5.47h-0.5zM480.1 77.6h0.5v5.95h-0.5zM480.6 83.31h0.5v0.24h-0.5zM481.1 79.37h0.5v4.18h-0.5zM481.6 79.34h0.5v4.21h-0.5zM482.1 78.27h0.1v5.28h-0.1zM480.06 78.3h0.8v0.8h-0.8zM479.53 75.14h0.8v0.8h-0.8zM480.86 78.05h0.8v0.8h-0.8zM480.59 75.64h0.8v0.8h-0.8zM480.64 78.64h0.8v0.8h-0.8zM479.97 77.58h0.8v0.8h-0.8zM480.45 77.53h0.8v0.8h-0.8zM479 75.53h0.8v0.8h-0.8zM479.49 74.23h0.8v0.8h-0.8zM479.55 76.44h0.8v0.8h-0.8zM486.3 83.5h3.45v9.8h-3.45zM486.3 77.54h0.5v6.01h-0.5zM486.8 80.25h0.5v3.3h-0.5zM487.3 78.29h0.5v5.26h-0.5zM487.8 81.58h0.5v1.97h-0.5zM488.3 78.77h0.5v4.78h-0.5zM488.8 78.91h0.5v4.64h-0.5zM489.3 77.8h0.1v5.75h-0.1zM488.47 72.66h0.8v0.8h-0.8zM487 74.28h0.8v0.8h-0.8zM487.54 77.63h0.8v0.8h-0.8zM487.26 74.12h0.8v0.8h-0.8zM488.49 73.38h0.8v0.8h-0.8zM488.04 78.17h0.8v0.8h-0.8zM486.7 76.3h0.8v0.8h-0.8zM486.85 77.53h0.8v0.8h-0.8zM486.57 78.22h0.8v0.8h-0.8zM492.4 83.5h2.45v9.8h-2.45zM492.4 80.49h0.5v3.06h-0.5zM492.9 78.3h0.5v5.25h-0.5zM493.4 79h0.5v4.55h-0.5zM493.9 77.66h0.5v5.89h-0.5zM494.4 78.3h0.1v5.25h-0.1zM493.34 76.22h0.8v0.8h-0.8zM492.42 77.32h0.8v0.8h-0.8zM492.82 75.93h0.8v0.8h-0.8zM492.5 76.47h0.8v0.8h-0.8zM493 76.77h0.8v0.8h-0.8zM493.05 78.39h0.8v0.8h-0.8z"/>
<path fill="#63b8fc" d="M362.8 100.6h10.35v50.4h-10.35zM362.8 150.95h0.5v1.25h-0.5zM363.3 150.95h0.5v1.02h-0.5zM363.8 150.95h0.5v3.44h-0.5zM364.3 150.95h0.5v2.22h-0.5zM364.8 150.95h0.5v2.04h-0.5zM365.3 150.95h0.5v1.68h-0.5zM365.8 150.95h0.5v0.2h-0.5zM366.3 150.95h0.5v1.22h-0.5zM366.8 150.95h0.5v3.47h-0.5zM367.3 150.95h0.5v3.21h-0.5zM367.8 150.95h0.5v3.43h-0.5zM368.3 150.95h0.5v1.03h-0.5zM368.8 150.95h0.5v0.81h-0.5zM369.3 150.95h0.5v0.21h-0.5zM369.8 150.95h0.5v2.15h-0.5zM370.3 150.95h0.5v1.5h-0.5zM370.8 150.95h0.5v1.86h-0.5zM371.3 150.95h0.5v1.96h-0.5zM371.8 150.95h0.5v2.34h-0.5zM372.3 150.95h0.5v1.46h-0.5zM370.33 153.37h0.6v0.6h-0.6zM371.44 154.35h0.6v0.6h-0.6zM363.28 153.63h0.6v0.6h-0.6zM367.81 153.88h0.6v0.6h-0.6zM368.11 153.65h0.6v0.6h-0.6zM365.37 155.65h0.6v0.6h-0.6zM365.54 155.07h0.6v0.6h-0.6zM370.34 154.49h0.6v0.6h-0.6zM367.07 157.55h0.6v0.6h-0.6zM366.98 156.51h0.6v0.6h-0.6zM363.34 153.95h0.6v0.6h-0.6zM368.81 153.08h0.6v0.6h-0.6zM370.91 153.12h0.6v0.6h-0.6zM368.41 153.33h0.6v0.6h-0.6zM371.47 154.37h0.6v0.6h-0.6zM370.33 154.15h0.6v0.6h-0.6zM369.13 154.87h0.6v0.6h-0.6zM365.57 153.4h0.6v0.6h-0.6zM370.68 153.26h0.6v0.6h-0.6zM371.43 153.39h0.6v0.6h-0.6zM363.75 153.17h0.6v0.6h-0.6zM370.17 158.02h0.6v0.6h-0.6zM383.7 100.6h10.45v50.4h-10.45zM383.7 150.95h0.5v2.68h-0.5zM384.2 150.95h0.5v3.61h-0.5zM384.7 150.95h0.5v0.53h-0.5zM385.2 150.95h0.5v1.35h-0.5zM385.7 150.95h0.5v0.26h-0.5zM386.2 150.95h0.5v1.65h-0.5zM386.7 150.95h0.5v2.01h-0.5zM387.2 150.95h0.5v3.41h-0.5zM387.7 150.95h0.5v2.67h-0.5zM388.2 150.95h0.5v2.31h-0.5zM388.7 150.95h0.5v1.61h-0.5zM389.2 150.95h0.5v2.29h-0.5zM389.7 150.95h0.5v1.1h-0.5zM390.2 150.95h0.5v3.38h-0.5zM390.7 150.95h0.5v3.15h-0.5zM391.2 150.95h0.5v3.35h-0.5zM391.7 150.95h0.5v0.6h-0.5zM392.2 150.95h0.5v2.69h-0.5zM392.7 150.95h0.5v3.02h-0.5zM393.2 150.95h0.5v2h-0.5zM393.7 150.95h0.1v3.59h-0.1zM392.24 155.26h0.6v0.6h-0.6zM391.5 154.74h0.6v0.6h-0.6zM392.05 153.23h0.6v0.6h-0.6zM390.39 155.03h0.6v0.6h-0.6zM389.52 153.54h0.6v0.6h-0.6zM384.34 154.54h0.6v0.6h-0.6zM391.53 153.53h0.6v0.6h-0.6zM385.72 153.42h0.6v0.6h-0.6zM384.59 154.88h0.6v0.6h-0.6zM392.96 155.7h0.6v0.6h-0.6zM387.12 155h0.6v0.6h-0.6zM384.39 156.04h0.6v0.6h-0.6zM386.79 153.01h0.6v0.6h-0.6zM389.68 153.25h0.6v0.6h-0.6zM386.31 153.1h0.6v0.6h-0.6zM387.93 154.35h0.6v0.6h-0.6zM391.37 153.07h0.6v0.6h-0.6zM391.56 153.2h0.6v0.6h-0.6zM385.83 154.65h0.6v0.6h-0.6zM386.93 153.67h0.6v0.6h-0.6zM389.1 153.41h0.6v0.6h-0.6zM391.24 153.39h0.6v0.6h-0.6zM403.3 100.6h9.35v50.4h-9.35zM403.3 150.95h0.5v0.45h-0.5zM403.8 150.95h0.5v0.99h-0.5zM404.3 150.95h0.5v3.18h-0.5zM404.8 150.95h0.5v1.14h-0.5zM405.3 150.95h0.5v1.52h-0.5zM405.8 150.95h0.5v3.06h-0.5zM406.3 150.95h0.5v0.9h-0.5zM406.8 150.95h0.5v0.78h-0.5zM407.3 150.95h0.5v0.88h-0.5zM407.8 150.95h0.5v1.54h-0.5zM408.3 150.95h0.5v1.46h-0.5zM408.8 150.95h0.5v2.57h-0.5zM409.3 150.95h0.5v1.89h-0.5zM409.8 150.95h0.5v3.48h-0.5zM410.3 150.95h0.5v0.2h-0.5zM410.8 150.95h0.5v2.65h-0.5zM411.3 150.95h0.5v3.35h-0.5zM411.8 150.95h0.5v0.94h-0.5zM403.55 153.96h0.6v0.6h-0.6zM404.27 154.03h0.6v0.6h-0.6zM409.28 153.16h0.6v0.6h-0.6zM404.29 154.09h0.6v0.6h-0.6zM404.76 153.44h0.6v0.6h-0.6zM407 153.21h0.6v0.6h-0.6zM403.87 153.75h0.6v0.6h-0.6zM407.24 157.6h0.6v0.6h-0.6zM407.96 153.12h0.6v0.6h-0.6zM405.17 155.27h0.6v0.6h-0.6zM408.03 156.4h0.6v0.6h-0.6zM411.38 156.25h0.6v0.6h-0.6zM404.22 157.79h0.6v0.6h-0.6zM407.71 153.46h0.6v0.6h-0.6zM404.73 156.33h0.6v0.6h-0.6zM405.08 153.14h0.6v0.6h-0.6zM405.53 157.3h0.6v0.6h-0.6zM407.17 155.19h0.6v0.6h-0.6zM403.93 154.01h0.6v0.6h-0.6zM420.8 100.6h8.35v50.4h-8.35zM420.8 150.95h0.5v1.58h-0.5zM421.3 150.95h0.5v0.38h-0.5zM421.8 150.95h0.5v3.85h-0.5zM422.3 150.95h0.5v0.2h-0.5zM422.8 150.95h0.5v1.15h-0.5zM423.3 150.95h0.5v3.07h-0.5zM423.8 150.95h0.5v0.54h-0.5zM424.3 150.95h0.5v0.43h-0.5zM424.8 150.95h0.5v0.28h-0.5zM425.3 150.95h0.5v0.66h-0.5zM425.8 150.95h0.5v2.13h-0.5zM426.3 150.95h0.5v3.33h-0.5zM426.8 150.95h0.5v0.68h-0.5zM427.3 150.95h0.5v0.69h-0.5zM427.8 150.95h0.5v3.06h-0.5zM428.3 150.95h0.5v1.7h-0.5zM423.3 153.22h0.6v0.6h-0.6zM421.67 153.5h0.6v0.6h-0.6zM426.28 156.71h0.6v0.6h-0.6zM427.49 154.07h0.6v0.6h-0.6zM427.88 154.54h0.6v0.6h-0.6zM422.94 154.04h0.6v0.6h-0.6zM426.1 155.21h0.6v0.6h-0.6zM421.76 153.36h0.6v0.6h-0.6zM427.89 153.19h0.6v0.6h-0.6zM426.82 153.69h0.6v0.6h-0.6zM422.63 153.49h0.6v0.6h-0.6zM421.9 156.21h0.6v0.6h-0.6zM423.18 153.32h0.6v0.6h-0.6zM426.31 153.7h0.6v0.6h-0.6zM422.19 153.9h0.6v0.6h-0.6zM435.8 100.6h5.95v50.4h-5.95zM435.8 150.95h0.5v1.55h-0.5zM436.3 150.95h0.5v2.44h-0.5zM436.8 150.95h0.5v3.14h-0.5zM437.3 150.95h0.5v1.04h-0.5zM437.8 150.95h0.5v1.48h-0.5zM438.3 150.95h0.5v1.55h-0.5zM438.8 150.95h0.5v1.45h-0.5zM439.3 150.95h0.5v3.65h-0.5zM439.8 150.95h0.5v2.16h-0.5zM440.3 150.95h0.5v1.1h-0.5zM440.8 150.95h0.5v1.33h-0.5zM441.3 150.95h0.1v3.29h-0.1zM436.6 154.95h0.6v0.6h-0.6zM435.91 153.36h0.6v0.6h-0.6zM436.1 155.73h0.6v0.6h-0.6zM436.53 153.43h0.6v0.6h-0.6zM436.09 153.51h0.6v0.6h-0.6zM439.47 155.12h0.6v0.6h-0.6zM440.35 157.89h0.6v0.6h-0.6zM438.55 157.25h0.6v0.6h-0.6zM436.25 157.32h0.6v0.6h-0.6zM437.97 153.36h0.6v0.6h-0.6zM439.54 156.26h0.6v0.6h-0.6zM437.73 153.16h0.6v0.6h-0.6zM448 100.6h7.45v50.4h-7.45zM448 150.95h0.5v3.73h-0.5zM448.5 150.95h0.5v1.07h-0.5zM449 150.95h0.5v3.52h-0.5zM449.5 150.95h0.5v2.06h-0.5zM450 150.95h0.5v1.29h-0.5zM450.5 150.95h0.5v3.87h-0.5zM451 150.95h0.5v1.62h-0.5zM451.5 150.95h0.5v2.79h-0.5zM452 150.95h0.5v0.27h-0.5zM452.5 150.95h0.5v3.32h-0.5zM453 150.95h0.5v3.92h-0.5zM453.5 150.95h0.5v0.44h-0.5zM454 150.95h0.5v2.98h-0.5zM454.5 150.95h0.5v1.08h-0.5zM455 150.95h0.1v0.59h-0.1zM450.37 154.81h0.6v0.6h-0.6zM454.46 154.63h0.6v0.6h-0.6zM452.25 153.29h0.6v0.6h-0.6zM452.72 154.34h0.6v0.6h-0.6zM450.33 156.84h0.6v0.6h-0.6zM449.66 153.25h0.6v0.6h-0.6zM449.03 153.27h0.6v0.6h-0.6zM451.83 155.69h0.6v0.6h-0.6zM449.04 154.16h0.6v0.6h-0.6zM451.73 154.37h0.6v0.6h-0.6zM450.68 154.31h0.6v0.6h-0.6zM448.1 153.1h0.6v0.6h-0.6zM450.75 153.45h0.6v0.6h-0.6zM452.92 153.46h0.6v0.6h-0.6zM461.3 100.6h4.95v50.4h-4.95zM461.3 150.95h0.5v0.75h-0.5zM461.8 150.95h0.5v0.08h-0.5zM462.3 150.95h0.5v2.7h-0.5zM462.8 150.95h0.5v2.44h-0.5zM463.3 150.95h0.5v1.18h-0.5zM463.8 150.95h0.5v0.8h-0.5zM464.3 150.95h0.5v3.42h-0.5zM464.8 150.95h0.5v3.64h-0.5zM465.3 150.95h0.5v0.93h-0.5zM465.8 150.95h0.1v2.34h-0.1zM463.6 153.65h0.6v0.6h-0.6zM461.45 153.66h0.6v0.6h-0.6zM463.88 154.54h0.6v0.6h-0.6zM463.34 153.22h0.6v0.6h-0.6zM462.15 153.62h0.6v0.6h-0.6zM462.97 153.75h0.6v0.6h-0.6zM464.91 153.21h0.6v0.6h-0.6zM465.25 153.46h0.6v0.6h-0.6zM464.73 153.47h0.6v0.6h-0.6zM463.65 153.79h0.6v0.6h-0.6zM470.5 100.6h4.4v50.4h-4.4zM470.5 150.95h0.5v3.82h-0.5zM471 150.95h0.5v1.47h-0.5zM471.5 150.95h0.5v2.04h-0.5zM472 150.95h0.5v2.01h-0.5zM472.5 150.95h0.5v0.11h-0.5zM473 150.95h0.5v3.01h-0.5zM473.5 150.95h0.5v2.98h-0.5zM474 150.95h0.5v3.5h-0.5zM474.5 150.95h0.05v1.43h-0.05zM471.22 153.71h0.6v0.6h-0.6zM473.03 154.79h0.6v0.6h-0.6zM471.9 154.24h0.6v0.6h-0.6zM471.03 157.18h0.6v0.6h-0.6zM472.13 154.18h0.6v0.6h-0.6zM473.22 153.37h0.6v0.6h-0.6zM472.99 153.73h0.6v0.6h-0.6zM473.3 153.17h0.6v0.6h-0.6zM478.6 100.6h3.95v50.4h-3.95zM478.6 150.95h0.5v0.72h-0.5zM479.1 150.95h0.5v1.58h-0.5zM479.6 150.95h0.5v2.01h-0.5zM480.1 150.95h0.5v1.66h-0.5zM480.6 150.95h0.5v0.49h-0.5zM481.1 150.95h0.5v2.09h-0.5zM481.6 150.95h0.5v1.2h-0.5zM482.1 150.95h0.1v3.87h-0.1zM479.75 153.95h0.6v0.6h-0.6zM479.57 154.73h0.6v0.6h-0.6zM481.1 153.83h0.6v0.6h-0.6zM480.87 153.54h0.6v0.6h-0.6zM478.93 153.07h0.6v0.6h-0.6zM479.95 156.45h0.6v0.6h-0.6zM486.3 100.6h3.45v50.4h-3.45zM486.3 150.95h0.5v1.07h-0.5zM486.8 150.95h0.5v1.58h-0.5zM487.3 150.95h0.5v0.05h-0.5zM487.8 150.95h0.5v1.74h-0.5zM488.3 150.95h0.5v1.52h-0.5zM488.8 150.95h0.5v0.05h-0.5zM489.3 150.95h0.1v3.45h-0.1zM487.24 153h0.6v0.6h-0.6zM488.7 153.43h0.6v0.6h-0.6zM486.93 153.04h0.6v0.6h-0.6zM486.55 155.06h0.6v0.6h-0.6zM487.76 154.17h0.6v0.6h-0.6zM486.92 153.56h0.6v0.6h-0.6zM492.4 100.6h2.45v50.4h-2.45zM492.4 150.95h0.5v2.4h-0.5zM492.9 150.95h0.5v3.48h-0.5zM493.4 150.95h0.5v3.95h-0.5zM493.9 150.95h0.5v3.03h-0.5zM494.4 150.95h0.1v0.18h-0.1zM493.72 154.82h0.6v0.6h-0.6zM492.81 157.21h0.6v0.6h-0.6zM493.64 156.76h0.6v0.6h-0.6zM492.77 154.43h0.6v0.6h-0.6z"/>
<path fill="#6b6b6b" d="M372.8 83.5h11.25v9.8h-11.25zM372.8 77.86h0.5v5.69h-0.5zM373.3 83.11h0.5v0.44h-0.5zM373.8 79.52h0.5v4.03h-0.5zM374.3 77.66h0.5v5.89h-0.5zM374.8 80.94h0.5v2.61h-0.5zM375.3 77.77h0.5v5.78h-0.5zM375.8 79.21h0.5v4.34h-0.5zM376.3 82.95h0.5v0.6h-0.5zM376.8 81.01h0.5v2.54h-0.5zM377.3 80.33h0.5v3.22h-0.5zM377.8 81.54h0.5v2.01h-0.5zM378.3 78.77h0.5v4.78h-0.5zM378.8 81.99h0.5v1.56h-0.5zM379.3 78.54h0.5v5.01h-0.5zM379.8 81.22h0.5v2.33h-0.5zM380.3 82.79h0.5v0.76h-0.5zM380.8 79.73h0.5v3.82h-0.5zM381.3 82.58h0.5v0.97h-0.5zM381.8 79.77h0.5v3.78h-0.5zM382.3 78.54h0.5v5.01h-0.5zM382.8 79.54h0.5v4.01h-0.5zM383.3 80.27h0.4v3.28h-0.4zM373.15 76.64h0.8v0.8h-0.8zM373.81 75.73h0.8v0.8h-0.8zM374.17 76.24h0.8v0.8h-0.8zM376.47 77.36h0.8v0.8h-0.8zM379.7 78.19h0.8v0.8h-0.8zM374.56 70.59h0.8v0.8h-0.8zM376.25 73.42h0.8v0.8h-0.8zM381.88 76.83h0.8v0.8h-0.8zM374.35 78.42h0.8v0.8h-0.8zM381.94 78.34h0.8v0.8h-0.8zM377.96 76.51h0.8v0.8h-0.8zM374.02 76.9h0.8v0.8h-0.8zM374.51 76.51h0.8v0.8h-0.8zM378.07 77.39h0.8v0.8h-0.8zM374.86 77.22h0.8v0.8h-0.8zM374.92 78.31h0.8v0.8h-0.8zM375.29 72.84h0.8v0.8h-0.8zM378.02 72.38h0.8v0.8h-0.8zM372.96 70.5h0.8v0.8h-0.8zM377.88 74.23h0.8v0.8h-0.8zM378.73 75.36h0.8v0.8h-0.8zM375.18 74.74h0.8v0.8h-0.8zM374.4 77.82h0.8v0.8h-0.8zM373.12 77.27h0.8v0.8h-0.8zM378.19 77.71h0.8v0.8h-0.8zM382.06 78.45h0.8v0.8h-0.8zM378.82 77.94h0.8v0.8h-0.8zM378.99 74.32h0.8v0.8h-0.8zM380.19 78.52h0.8v0.8h-0.8zM375.36 76.09h0.8v0.8h-0.8zM383.02 78.58h0.8v0.8h-0.8zM379.23 75.34h0.8v0.8h-0.8zM393.8 83.5h9.85v9.8h-9.85zM393.8 80.88h0.5v2.67h-0.5zM394.3 82.09h0.5v1.46h-0.5zM394.8 79.34h0.5v4.21h-0.5zM395.3 77.54h0.5v6.01h-0.5zM395.8 81.17h0.5v2.38h-0.5zM396.3 83h0.5v0.55h-0.5zM396.8 82.01h0.5v1.54h-0.5zM397.3 80.88h0.5v2.67h-0.5zM397.8 77.99h0.5v5.56h-0.5zM398.3 78.46h0.5v5.09h-0.5zM398.8 80.3h0.5v3.25h-0.5zM399.3 82.53h0.5v1.02h-0.5zM399.8 82.5h0.5v1.05h-0.5zM400.3 82.16h0.5v1.39h-0.5zM400.8 78.59h0.5v4.96h-0.5zM401.3 80.21h0.5v3.34h-0.5zM401.8 77.55h0.5v6h-0.5zM402.3 77.93h0.5v5.62h-0.5zM402.8 78.51h0.5v5.04h-0.5zM398.09 73.77h0.8v0.8h-0.8zM394.95 78.37h0.8v0.8h-0.8zM398.87 76.67h0.8v0.8h-0.8zM395.68 77.87h0.8v0.8h-0.8zM393.99 71.86h0.8v0.8h-0.8zM400.19 70.4h0.8v0.8h-0.8zM402.62 77.06h0.8v0.8h-0.8zM400.39 77.31h0.8v0.8h-0.8zM401.11 73.44h0.8v0.8h-0.8zM395 78.66h0.8v0.8h-0.8zM395.73 76.18h0.8v0.8h-0.8zM397.21 78.67h0.8v0.8h-0.8zM401.27 74.29h0.8v0.8h-0.8zM397.97 78.57h0.8v0.8h-0.8zM401.8 76.52h0.8v0.8h-0.8zM394.44 77.58h0.8v0.8h-0.8zM399.42 72.51h0.8v0.8h-0.8zM398.16 75.79h0.8v0.8h-0.8zM395.65 77.9h0.8v0.8h-0.8zM401.95 77.32h0.8v0.8h-0.8zM394.74 76.14h0.8v0.8h-0.8zM394.94 78.06h0.8v0.8h-0.8zM397.91 76.18h0.8v0.8h-0.8zM399.53 75.19h0.8v0.8h-0.8zM397.76 78.5h0.8v0.8h-0.8zM400.32 78.54h0.8v0.8h-0.8zM398.04 77.24h0.8v0.8h-0.8zM399.86 75.13h0.8v0.8h-0.8zM412.3 83.5h8.85v9.8h-8.85zM412.3 81.74h0.5v1.81h-0.5zM412.8 78.31h0.5v5.24h-0.5zM413.3 81.83h0.5v1.72h-0.5zM413.8 77.5h0.5v6.05h-0.5zM414.3 80.3h0.5v3.25h-0.5zM414.8 81.67h0.5v1.88h-0.5zM415.3 77.69h0.5v5.86h-0.5zM415.8 81.08h0.5v2.47h-0.5zM416.3 80.58h0.5v2.97h-0.5zM416.8 80.95h0.5v2.6h-0.5zM417.3 79.15h0.5v4.4h-0.5zM417.8 83.21h0.5v0.34h-0.5zM418.3 80.77h0.5v2.78h-0.5zM418.8 82.1h0.5v1.45h-0.5zM419.3 78.34h0.5v5.21h-0.5zM419.8 83.49h0.5v0.06h-0.5zM420.3 79.47h0.5v4.08h-0.5zM414.36 76.97h0.8v0.8h-0.8zM416.79 75.15h0.8v0.8h-0.8zM413.4 77.91h0.8v0.8h-0.8zM413.26 69.49h0.8v0.8h-0.8zM413.49 78.28h0.8v0.8h-0.8zM416.48 76.21h0.8v0.8h-0.8zM419.39 78.53h0.8v0.8h-0.8zM414.17 78.18h0.8v0.8h-0.8zM416.98 76.98h0.8v0.8h-0.8zM415.57 72.44h0.8v0.8h-0.8zM417.59 73.08h0.8v0.8h-0.8zM419.96 77.8h0.8v0.8h-0.8zM419.84 77.2h0.8v0.8h-0.8zM412.71 71.66h0.8v0.8h-0.8zM413.13 78.65h0.8v0.8h-0.8zM414.62 77.73h0.8v0.8h-0.8zM420.04 72.86h0.8v0.8h-0.8zM415.66 76.55h0.8v0.8h-0.8zM419.09 74h0.8v0.8h-0.8zM417.53 76.65h0.8v0.8h-0.8zM413.23 77.9h0.8v0.8h-0.8zM417.56 76.18h0.8v0.8h-0.8zM418.71 72.16h0.8v0.8h-0.8zM420 78.09h0.8v0.8h-0.8zM412.91 72.19h0.8v0.8h-0.8zM428.8 83.5h7.35v9.8h-7.35zM428.8 78.76h0.5v4.79h-0.5zM429.3 79.11h0.5v4.44h-0.5zM429.8 79.24h0.5v4.31h-0.5zM430.3 82.97h0.5v0.58h-0.5zM430.8 78.13h0.5v5.42h-0.5zM431.3 79.79h0.5v3.76h-0.5zM431.8 80.3h0.5v3.25h-0.5zM432.3 80.97h0.5v2.58h-0.5zM432.8 78.57h0.5v4.98h-0.5zM433.3 78.57h0.5v4.98h-0.5zM433.8 78.13h0.5v5.42h-0.5zM434.3 81.75h0.5v1.8h-0.5zM434.8 80.97h0.5v2.58h-0.5zM435.3 81.52h0.5v2.03h-0.5zM429.45 77.57h0.8v0.8h-0.8zM428.97 74.15h0.8v0.8h-0.8zM430.28 78.49h0.8v0.8h-0.8zM429.24 74.84h0.8v0.8h-0.8zM430.09 76.93h0.8v0.8h-0.8zM431.41 74.07h0.8v0.8h-0.8zM435 77.64h0.8v0.8h-0.8zM432.91 72.27h0.8v0.8h-0.8zM431.86 72.13h0.8v0.8h-0.8zM433.57 77.63h0.8v0.8h-0.8zM434.48 76.27h0.8v0.8h-0.8zM429.49 76.17h0.8v0.8h-0.8zM434.19 76.61h0.8v0.8h-0.8zM431.95 77.16h0.8v0.8h-0.8zM434.52 75.57h0.8v0.8h-0.8zM430.15 77.41h0.8v0.8h-0.8zM431.16 69.6h0.8v0.8h-0.8zM433.32 78.32h0.8v0.8h-0.8zM434.74 78.6h0.8v0.8h-0.8zM432.64 77.08h0.8v0.8h-0.8zM433.46 77.1h0.8v0.8h-0.8zM441.4 83.5h6.95v9.8h-6.95zM441.4 82.88h0.5v0.67h-0.5zM441.9 79.89h0.5v3.66h-0.5zM442.4 79.09h0.5v4.46h-0.5zM442.9 83.1h0.5v0.45h-0.5zM443.4 80.39h0.5v3.16h-0.5zM443.9 78.53h0.5v5.02h-0.5zM444.4 79.64h0.5v3.91h-0.5zM444.9 80.32h0.5v3.23h-0.5zM445.4 78.08h0.5v5.47h-0.5zM445.9 79.51h0.5v4.04h-0.5zM446.4 80.99h0.5v2.56h-0.5zM446.9 80.64h0.5v2.91h-0.5zM447.4 77.77h0.5v5.78h-0.5zM447.9 78.18h0.1v5.37h-0.1zM446.98 76.35h0.8v0.8h-0.8zM442.27 78.15h0.8v0.8h-0.8zM443.74 75.35h0.8v0.8h-0.8zM441.43 74.07h0.8v0.8h-0.8zM446.19 76.63h0.8v0.8h-0.8zM441.43 74.13h0.8v0.8h-0.8zM443.93 75.54h0.8v0.8h-0.8zM444.88 74.98h0.8v0.8h-0.8zM443.89 69.51h0.8v0.8h-0.8zM447.23 71.15h0.8v0.8h-0.8zM445.15 77.61h0.8v0.8h-0.8zM443.7 77.8h0.8v0.8h-0.8zM446.91 74.21h0.8v0.8h-0.8zM446.21 73.78h0.8v0.8h-0.8zM447.44 75.37h0.8v0.8h-0.8zM443.34 74.65h0.8v0.8h-0.8zM443 76h0.8v0.8h-0.8zM442.37 73.13h0.8v0.8h-0.8zM444.38 77.78h0.8v0.8h-0.8zM455.1 83.5h6.55v9.8h-6.55zM455.1 82.88h0.5v0.67h-0.5zM455.6 80.02h0.5v3.53h-0.5zM456.1 81h0.5v2.55h-0.5zM456.6 82.53h0.5v1.02h-0.5zM457.1 78.77h0.5v4.78h-0.5zM457.6 78.9h0.5v4.65h-0.5zM458.1 80h0.5v3.55h-0.5zM458.6 82.06h0.5v1.49h-0.5zM459.1 79.15h0.5v4.4h-0.5zM459.6 80.43h0.5v3.12h-0.5zM460.1 79.19h0.5v4.36h-0.5zM460.6 82.61h0.5v0.94h-0.5zM461.1 77.97h0.2v5.58h-0.2zM455.12 77.98h0.8v0.8h-0.8zM457.37 78.07h0.8v0.8h-0.8zM455.6 75.38h0.8v0.8h-0.8zM460.76 77.53h0.8v0.8h-0.8zM456.62 75.53h0.8v0.8h-0.8zM456.37 77.24h0.8v0.8h-0.8zM459.02 77.09h0.8v0.8h-0.8zM455.99 78.49h0.8v0.8h-0.8zM458.2 65.36h0.8v0.8h-0.8zM460.34 78.4h0.8v0.8h-0.8zM457.96 76.78h0.8v0.8h-0.8zM456.21 75.53h0.8v0.8h-0.8zM457.92 73.97h0.8v0.8h-0.8zM456.76 70.94h0.8v0.8h-0.8zM459.74 76.87h0.8v0.8h-0.8zM455.91 76.81h0.8v0.8h-0.8zM455.82 75.39h0.8v0.8h-0.8zM459.08 76.23h0.8v0.8h-0.8zM465.9 83.5h4.95v9.8h-4.95zM465.9 83.46h0.5v0.09h-0.5zM466.4 82.6h0.5v0.95h-0.5zM466.9 82.62h0.5v0.93h-0.5zM467.4 80.8h0.5v2.75h-0.5zM467.9 80.43h0.5v3.12h-0.5zM468.4 80.01h0.5v3.54h-0.5zM468.9 81.28h0.5v2.27h-0.5zM469.4 78.98h0.5v4.57h-0.5zM469.9 79.97h0.5v3.58h-0.5zM470.4 77.59h0.1v5.96h-0.1zM466.59 76.66h0.8v0.8h-0.8zM467.92 77.37h0.8v0.8h-0.8zM469.43 78.03h0.8v0.8h-0.8zM469.5 77.43h0.8v0.8h-0.8zM467.28 75.97h0.8v0.8h-0.8zM468.21 77.75h0.8v0.8h-0.8zM466.25 69.83h0.8v0.8h-0.8zM467.41 78.35h0.8v0.8h-0.8zM468.59 76.53h0.8v0.8h-0.8zM467.24 77.56h0.8v0.8h-0.8zM469.36 77.52h0.8v0.8h-0.8zM467.61 69.72h0.8v0.8h-0.8zM467.38 77.23h0.8v0.8h-0.8zM474.55 83.5h4.4v9.8h-4.4zM474.55 79.13h0.5v4.42h-0.5zM475.05 77.73h0.5v5.82h-0.5zM475.55 81.92h0.5v1.63h-0.5zM476.05 82.54h0.5v1.01h-0.5zM476.55 80.55h0.5v3h-0.5zM477.05 80h0.5v3.55h-0.5zM477.55 82.19h0.5v1.36h-0.5zM478.05 81.71h0.5v1.84h-0.5zM478.55 78.15h0.05v5.4h-0.05zM475.93 78.24h0.8v0.8h-0.8zM475.2 76.24h0.8v0.8h-0.8zM475.22 76.86h0.8v0.8h-0.8zM476.46 77.05h0.8v0.8h-0.8zM476.34 73.52h0.8v0.8h-0.8zM474.61 71.1h0.8v0.8h-0.8zM475.26 78.59h0.8v0.8h-0.8zM477.27 76.29h0.8v0.8h-0.8zM476.46 78h0.8v0.8h-0.8zM477.32 77.65h0.8v0.8h-0.8zM477.13 77.96h0.8v0.8h-0.8zM476.58 75.71h0.8v0.8h-0.8zM482.2 83.5h4.45v9.8h-4.45zM482.2 82.48h0.5v1.07h-0.5zM482.7 81.2h0.5v2.35h-0.5zM483.2 78.91h0.5v4.64h-0.5zM483.7 83.24h0.5v0.31h-0.5zM484.2 80.76h0.5v2.79h-0.5zM484.7 82.35h0.5v1.2h-0.5zM485.2 80.2h0.5v3.35h-0.5zM485.7 83.28h0.5v0.27h-0.5zM486.2 82.18h0.1v1.37h-0.1zM483 78.46h0.8v0.8h-0.8zM482.53 78.08h0.8v0.8h-0.8zM484.06 78.28h0.8v0.8h-0.8zM485.16 77.16h0.8v0.8h-0.8zM483.11 77.91h0.8v0.8h-0.8zM485.22 78.56h0.8v0.8h-0.8zM484.87 78.41h0.8v0.8h-0.8zM485.6 77.2h0.8v0.8h-0.8zM484.35 73.01h0.8v0.8h-0.8zM482.56 78.51h0.8v0.8h-0.8zM484.7 76.17h0.8v0.8h-0.8zM484.8 77.77h0.8v0.8h-0.8zM489.4 83.5h3.35v9.8h-3.35zM489.4 81.9h0.5v1.65h-0.5zM489.9 78.95h0.5v4.6h-0.5zM490.4 79.66h0.5v3.89h-0.5zM490.9 78.59h0.5v4.96h-0.5zM491.4 79.36h0.5v4.19h-0.5zM491.9 79.52h0.5v4.03h-0.5zM491.7 73.92h0.8v0.8h-0.8zM490.82 77.57h0.8v0.8h-0.8zM491.72 77.37h0.8v0.8h-0.8zM489.66 77.54h0.8v0.8h-0.8zM491.17 71.05h0.8v0.8h-0.8zM491.01 75.6h0.8v0.8h-0.8zM491.74 74.4h0.8v0.8h-0.8zM490.51 76.93h0.8v0.8h-0.8zM491.3 77.61h0.8v0.8h-0.8zM494.5 83.5h2.15v9.8h-2.15zM494.5 77.54h0.5v6.01h-0.5zM495 83.15h0.5v0.4h-0.5zM495.5 80.28h0.5v3.27h-0.5zM496 79.77h0.3v3.78h-0.3zM495.44 68.8h0.8v0.8h-0.8zM495.31 76.84h0.8v0.8h-0.8zM495.32 76.52h0.8v0.8h-0.8zM495.42 70.31h0.8v0.8h-0.8zM494.52 77.6h0.8v0.8h-0.8z"/>
<path fill="#33668f" d="M372.8 100.6h11.25v52.9h-11.25zM372.8 153.45h0.5v3.01h-0.5zM373.3 153.45h0.5v2.55h-0.5zM373.8 153.45h0.5v0.8h-0.5zM374.3 153.45h0.5v2.5h-0.5zM374.8 153.45h0.5v3.38h-0.5zM375.3 153.45h0.5v3.15h-0.5zM375.8 153.45h0.5v0.37h-0.5zM376.3 153.45h0.5v2.87h-0.5zM376.8 153.45h0.5v1.4h-0.5zM377.3 153.45h0.5v0.65h-0.5zM377.8 153.45h0.5v3.86h-0.5zM378.3 153.45h0.5v2.69h-0.5zM378.8 153.45h0.5v2.98h-0.5zM379.3 153.45h0.5v0.54h-0.5zM379.8 153.45h0.5v3.31h-0.5zM380.3 153.45h0.5v3.75h-0.5zM380.8 153.45h0.5v3.62h-0.5zM381.3 153.45h0.5v2.98h-0.5zM381.8 153.45h0.5v3.33h-0.5zM382.3 153.45h0.5v3.21h-0.5zM382.8 153.45h0.5v2.36h-0.5zM383.3 153.45h0.4v1.74h-0.4zM381.3 158.06h0.6v0.6h-0.6zM381.77 156.09h0.6v0.6h-0.6zM382.7 156.76h0.6v0.6h-0.6zM382.54 155.71h0.6v0.6h-0.6zM382.78 158.08h0.6v0.6h-0.6zM375.19 155.87h0.6v0.6h-0.6zM377.52 155.95h0.6v0.6h-0.6zM379.86 157.57h0.6v0.6h-0.6zM376.84 158.05h0.6v0.6h-0.6zM380.97 157.41h0.6v0.6h-0.6zM382.5 158.41h0.6v0.6h-0.6zM376.98 155.65h0.6v0.6h-0.6zM376.3 157.01h0.6v0.6h-0.6zM381.41 158.12h0.6v0.6h-0.6zM372.85 156.62h0.6v0.6h-0.6zM372.97 155.7h0.6v0.6h-0.6zM381.17 156.4h0.6v0.6h-0.6zM379.03 156.52h0.6v0.6h-0.6zM376.25 155.9h0.6v0.6h-0.6zM393.8 100.6h9.85v52.9h-9.85zM393.8 153.45h0.5v0.96h-0.5zM394.3 153.45h0.5v3.72h-0.5zM394.8 153.45h0.5v0.88h-0.5zM395.3 153.45h0.5v2.69h-0.5zM395.8 153.45h0.5v3.72h-0.5zM396.3 153.45h0.5v2.55h-0.5zM396.8 153.45h0.5v3.68h-0.5zM397.3 153.45h0.5v1.05h-0.5zM397.8 153.45h0.5v0.61h-0.5zM398.3 153.45h0.5v0.07h-0.5zM398.8 153.45h0.5v3.03h-0.5zM399.3 153.45h0.5v0.42h-0.5zM399.8 153.45h0.5v3.89h-0.5zM400.3 153.45h0.5v2.84h-0.5zM400.8 153.45h0.5v0.75h-0.5zM401.3 153.45h0.5v3.23h-0.5zM401.8 153.45h0.5v0.65h-0.5zM402.3 153.45h0.5v2.05h-0.5zM402.8 153.45h0.5v0.42h-0.5zM401.96 155.5h0.6v0.6h-0.6zM401.38 156.85h0.6v0.6h-0.6zM401.11 156.66h0.6v0.6h-0.6zM399.32 157h0.6v0.6h-0.6zM400.92 155.63h0.6v0.6h-0.6zM394.28 156.81h0.6v0.6h-0.6zM396.39 156.34h0.6v0.6h-0.6zM393.87 157.78h0.6v0.6h-0.6zM394.01 158.45h0.6v0.6h-0.6zM401.02 156.52h0.6v0.6h-0.6zM394.89 157.25h0.6v0.6h-0.6zM395.64 156.43h0.6v0.6h-0.6zM398.66 156.22h0.6v0.6h-0.6zM394.64 157.68h0.6v0.6h-0.6zM394.7 156.26h0.6v0.6h-0.6zM396.49 157.9h0.6v0.6h-0.6zM395.12 157.05h0.6v0.6h-0.6zM412.3 100.6h8.85v52.9h-8.85zM412.3 153.45h0.5v3.83h-0.5zM412.8 153.45h0.5v3.14h-0.5zM413.3 153.45h0.5v0.93h-0.5zM413.8 153.45h0.5v1.72h-0.5zM414.3 153.45h0.5v3.83h-0.5zM414.8 153.45h0.5v0.83h-0.5zM415.3 153.45h0.5v1.64h-0.5zM415.8 153.45h0.5v3.85h-0.5zM416.3 153.45h0.5v3.6h-0.5zM416.8 153.45h0.5v0.93h-0.5zM417.3 153.45h0.5v2.94h-0.5zM417.8 153.45h0.5v1.44h-0.5zM418.3 153.45h0.5v2.65h-0.5zM418.8 153.45h0.5v3.07h-0.5zM419.3 153.45h0.5v0.51h-0.5zM419.8 153.45h0.5v0.89h-0.5zM420.3 153.45h0.5v0.86h-0.5zM414.4 155.56h0.6v0.6h-0.6zM413.37 156.37h0.6v0.6h-0.6zM415.62 155.63h0.6v0.6h-0.6zM416.86 156.23h0.6v0.6h-0.6zM417.87 156.46h0.6v0.6h-0.6zM413.69 156.6h0.6v0.6h-0.6zM412.44 157.38h0.6v0.6h-0.6zM413.57 156.27h0.6v0.6h-0.6zM419.9 157.93h0.6v0.6h-0.6zM418.9 157.21h0.6v0.6h-0.6zM417.31 157.53h0.6v0.6h-0.6zM419.93 155.86h0.6v0.6h-0.6zM418.35 156.1h0.6v0.6h-0.6zM414.32 158.37h0.6v0.6h-0.6zM419.21 156.98h0.6v0.6h-0.6zM413.87 155.53h0.6v0.6h-0.6zM428.8 100.6h7.35v52.9h-7.35zM428.8 153.45h0.5v1.21h-0.5zM429.3 153.45h0.5v1.32h-0.5zM429.8 153.45h0.5v2.93h-0.5zM430.3 153.45h0.5v0.75h-0.5zM430.8 153.45h0.5v2.19h-0.5zM431.3 153.45h0.5v2h-0.5zM431.8 153.45h0.5v2.67h-0.5zM432.3 153.45h0.5v0.57h-0.5zM432.8 153.45h0.5v3.83h-0.5zM433.3 153.45h0.5v4h-0.5zM433.8 153.45h0.5v2.24h-0.5zM434.3 153.45h0.5v3.18h-0.5zM434.8 153.45h0.5v0.73h-0.5zM435.3 153.45h0.5v3.64h-0.5zM432.33 157.88h0.6v0.6h-0.6zM434.36 156.25h0.6v0.6h-0.6zM434.71 155.89h0.6v0.6h-0.6zM428.95 156.66h0.6v0.6h-0.6zM434.91 156.69h0.6v0.6h-0.6zM434.77 156.87h0.6v0.6h-0.6zM429.72 157.16h0.6v0.6h-0.6zM433.94 156.42h0.6v0.6h-0.6zM432.65 156h0.6v0.6h-0.6zM430.57 156.41h0.6v0.6h-0.6zM432.08 156.55h0.6v0.6h-0.6zM429.39 155.51h0.6v0.6h-0.6zM430.98 157.6h0.6v0.6h-0.6zM433.59 155.95h0.6v0.6h-0.6zM441.4 100.6h6.95v52.9h-6.95zM441.4 153.45h0.5v1.11h-0.5zM441.9 153.45h0.5v0.45h-0.5zM442.4 153.45h0.5v3.49h-0.5zM442.9 153.45h0.5v1.77h-0.5zM443.4 153.45h0.5v2.91h-0.5zM443.9 153.45h0.5v1.03h-0.5zM444.4 153.45h0.5v2.92h-0.5zM444.9 153.45h0.5v2.59h-0.5zM445.4 153.45h0.5v0.39h-0.5zM445.9 153.45h0.5v1.98h-0.5zM446.4 153.45h0.5v2.89h-0.5zM446.9 153.45h0.5v0.86h-0.5zM447.4 153.45h0.5v2.62h-0.5zM447.9 153.45h0.1v1.11h-0.1zM443.96 156.91h0.6v0.6h-0.6zM446.25 157.87h0.6v0.6h-0.6zM444.24 155.71h0.6v0.6h-0.6zM445.89 155.76h0.6v0.6h-0.6zM445.48 155.59h0.6v0.6h-0.6zM447.33 156.8h0.6v0.6h-0.6zM445.84 155.73h0.6v0.6h-0.6zM445.22 156.29h0.6v0.6h-0.6zM442.89 158.31h0.6v0.6h-0.6zM441.6 156.58h0.6v0.6h-0.6zM455.1 100.6h6.55v52.9h-6.55zM455.1 153.45h0.5v3.91h-0.5zM455.6 153.45h0.5v1.75h-0.5zM456.1 153.45h0.5v0.01h-0.5zM456.6 153.45h0.5v0.37h-0.5zM457.1 153.45h0.5v2.9h-0.5zM457.6 153.45h0.5v3.46h-0.5zM458.1 153.45h0.5v2.55h-0.5zM458.6 153.45h0.5v0.62h-0.5zM459.1 153.45h0.5v3.49h-0.5zM459.6 153.45h0.5v2.87h-0.5zM460.1 153.45h0.5v0.46h-0.5zM460.6 153.45h0.5v1.52h-0.5zM461.1 153.45h0.2v2.69h-0.2zM455.12 155.57h0.6v0.6h-0.6zM460.68 156.14h0.6v0.6h-0.6zM460.19 158.07h0.6v0.6h-0.6zM459.94 156.98h0.6v0.6h-0.6zM460.53 157.22h0.6v0.6h-0.6zM460.41 156.89h0.6v0.6h-0.6zM456.2 156.72h0.6v0.6h-0.6zM457.8 156.19h0.6v0.6h-0.6zM457.19 156.69h0.6v0.6h-0.6zM458.39 155.92h0.6v0.6h-0.6zM456.65 156.66h0.6v0.6h-0.6zM457.92 156.4h0.6v0.6h-0.6zM465.9 100.6h4.95v52.9h-4.95zM465.9 153.45h0.5v2.93h-0.5zM466.4 153.45h0.5v0.12h-0.5zM466.9 153.45h0.5v0.88h-0.5zM467.4 153.45h0.5v3.84h-0.5zM467.9 153.45h0.5v2.73h-0.5zM468.4 153.45h0.5v2.7h-0.5zM468.9 153.45h0.5v1.99h-0.5zM469.4 153.45h0.5v1.89h-0.5zM469.9 153.45h0.5v0.79h-0.5zM470.4 153.45h0.1v0.69h-0.1zM468.48 157.47h0.6v0.6h-0.6zM466.93 157.22h0.6v0.6h-0.6zM466.44 157.08h0.6v0.6h-0.6zM466.59 156.69h0.6v0.6h-0.6zM467.16 156.83h0.6v0.6h-0.6zM466.44 156.6h0.6v0.6h-0.6zM468.37 155.74h0.6v0.6h-0.6zM467.13 157.39h0.6v0.6h-0.6zM468.08 157.1h0.6v0.6h-0.6zM469.02 156.91h0.6v0.6h-0.6zM474.55 100.6h4.4v52.9h-4.4zM474.55 153.45h0.5v0.4h-0.5zM475.05 153.45h0.5v3.36h-0.5zM475.55 153.45h0.5v3.48h-0.5zM476.05 153.45h0.5v0.2h-0.5zM476.55 153.45h0.5v0.99h-0.5zM477.05 153.45h0.5v0.34h-0.5zM477.55 153.45h0.5v1.01h-0.5zM478.05 153.45h0.5v0.35h-0.5zM478.55 153.45h0.05v1.96h-0.05zM475.41 156.09h0.6v0.6h-0.6zM476.14 156.27h0.6v0.6h-0.6zM477.27 157.64h0.6v0.6h-0.6zM474.94 155.92h0.6v0.6h-0.6zM474.58 156.17h0.6v0.6h-0.6zM474.92 157.49h0.6v0.6h-0.6zM475.27 155.56h0.6v0.6h-0.6zM482.2 100.6h4.45v52.9h-4.45zM482.2 153.45h0.5v0.34h-0.5zM482.7 153.45h0.5v3.2h-0.5zM483.2 153.45h0.5v1.98h-0.5zM483.7 153.45h0.5v0.92h-0.5zM484.2 153.45h0.5v0.46h-0.5zM484.7 153.45h0.5v2.04h-0.5zM485.2 153.45h0.5v2.02h-0.5zM485.7 153.45h0.5v2.88h-0.5zM486.2 153.45h0.1v1.5h-0.1zM485.5 156h0.6v0.6h-0.6zM485.05 157.08h0.6v0.6h-0.6zM484.47 158.27h0.6v0.6h-0.6zM484.15 155.64h0.6v0.6h-0.6zM485.22 155.82h0.6v0.6h-0.6zM489.4 100.6h3.35v52.9h-3.35zM489.4 153.45h0.5v0.51h-0.5zM489.9 153.45h0.5v0.54h-0.5zM490.4 153.45h0.5v1.97h-0.5zM490.9 153.45h0.5v1.34h-0.5zM491.4 153.45h0.5v3.8h-0.5zM491.9 153.45h0.5v3.99h-0.5zM490.47 158.13h0.6v0.6h-0.6zM490.92 155.82h0.6v0.6h-0.6zM491.73 155.82h0.6v0.6h-0.6zM489.58 156.5h0.6v0.6h-0.6zM489.44 156.59h0.6v0.6h-0.6zM494.5 100.6h2.15v52.9h-2.15zM494.5 153.45h0.5v2.59h-0.5zM495 153.45h0.5v3.2h-0.5zM495.5 153.45h0.5v0.95h-0.5zM496 153.45h0.3v1.52h-0.3zM494.77 157.53h0.6v0.6h-0.6zM495.13 157.05h0.6v0.6h-0.6zM494.89 156.97h0.6v0.6h-0.6z"/>
<path fill="#ffffff" d="M363.53 84.48h0.5v0.5h-0.5zM363.77 80.39h0.5v0.5h-0.5zM369.96 83.06h0.5v0.5h-0.5zM363.32 83.71h0.5v0.5h-0.5zM369.56 82.6h0.5v0.5h-0.5zM363.32 83.77h0.5v0.5h-0.5zM366.77 83.17h0.5v0.5h-0.5zM372.28 84.47h0.5v0.5h-0.5zM371.08 80.71h0.5v0.5h-0.5zM365.98 82.8h0.5v0.5h-0.5zM362.86 85.44h0.5v0.5h-0.5zM365.41 81.37h0.5v0.5h-0.5zM366.74 148.23h0.6v0.6h-0.6zM365.25 151.04h0.6v0.6h-0.6zM369.32 139.87h0.6v0.6h-0.6zM363.34 148.68h0.6v0.6h-0.6zM363.2 150.29h0.6v0.6h-0.6zM365.59 141.65h0.6v0.6h-0.6zM368.33 143.29h0.6v0.6h-0.6zM368.13 139.85h0.6v0.6h-0.6zM371.46 143.39h0.6v0.6h-0.6zM370.79 139.79h0.6v0.6h-0.6zM370.39 151.8h0.6v0.6h-0.6zM366.52 135.63h0.6v0.6h-0.6zM366.41 148.01h0.6v0.6h-0.6zM364.92 146.77h0.6v0.6h-0.6zM363.69 145.63h0.6v0.6h-0.6zM369.72 145.11h0.6v0.6h-0.6zM369.25 138.76h0.6v0.6h-0.6zM370.67 138.99h0.6v0.6h-0.6zM371.57 151.96h0.6v0.6h-0.6zM371.72 146.51h0.6v0.6h-0.6zM365.56 143.8h0.6v0.6h-0.6zM369.93 146.09h0.6v0.6h-0.6zM371.63 138.1h0.6v0.6h-0.6zM367.41 150.59h0.6v0.6h-0.6zM368.48 146.71h0.6v0.6h-0.6zM363.64 139.48h0.6v0.6h-0.6zM365.38 150.9h0.6v0.6h-0.6zM370.83 141.53h0.6v0.6h-0.6zM381.27 81.82h0.5v0.5h-0.5zM381.23 82.49h0.5v0.5h-0.5zM382.38 79.96h0.5v0.5h-0.5zM382.58 82.21h0.5v0.5h-0.5zM377.03 80.39h0.5v0.5h-0.5zM375.35 84.01h0.5v0.5h-0.5zM379.86 80.75h0.5v0.5h-0.5zM376.38 80.69h0.5v0.5h-0.5zM374.86 81.13h0.5v0.5h-0.5zM376.24 85.37h0.5v0.5h-0.5zM383.17 84.33h0.5v0.5h-0.5zM377.79 82.69h0.5v0.5h-0.5zM380.9 84.99h0.5v0.5h-0.5zM379.24 142.81h0.6v0.6h-0.6zM375.62 148.75h0.6v0.6h-0.6zM379.67 149.97h0.6v0.6h-0.6zM379.15 150.91h0.6v0.6h-0.6zM374.49 146.52h0.6v0.6h-0.6zM374.62 151.44h0.6v0.6h-0.6zM381.22 142.02h0.6v0.6h-0.6zM382.1 148.33h0.6v0.6h-0.6zM382.23 146.12h0.6v0.6h-0.6zM379.91 146.93h0.6v0.6h-0.6zM380.6 135.75h0.6v0.6h-0.6zM384.37 82.97h0.5v0.5h-0.5zM390.94 83.7h0.5v0.5h-0.5zM387.66 84.42h0.5v0.5h-0.5zM384.77 81.62h0.5v0.5h-0.5zM389.89 85.32h0.5v0.5h-0.5zM389.79 83.78h0.5v0.5h-0.5zM391.14 82.11h0.5v0.5h-0.5zM392.73 84.06h0.5v0.5h-0.5zM386.98 82.1h0.5v0.5h-0.5zM391.44 81.86h0.5v0.5h-0.5zM385.48 84.78h0.5v0.5h-0.5zM388.81 82.82h0.5v0.5h-0.5zM391.76 149.99h0.6v0.6h-0.6zM388.86 135.49h0.6v0.6h-0.6zM391.17 135.37h0.6v0.6h-0.6zM388.54 145.02h0.6v0.6h-0.6zM384.31 147.87h0.6v0.6h-0.6zM390.66 147.3h0.6v0.6h-0.6zM387.54 146.31h0.6v0.6h-0.6zM389.35 141.51h0.6v0.6h-0.6zM392.03 151.96h0.6v0.6h-0.6zM391.42 151.61h0.6v0.6h-0.6zM386.86 151.86h0.6v0.6h-0.6zM384.39 145.83h0.6v0.6h-0.6zM384.98 145.48h0.6v0.6h-0.6zM390.25 148.83h0.6v0.6h-0.6zM388.06 143.69h0.6v0.6h-0.6zM385.52 144.69h0.6v0.6h-0.6zM386.41 140.81h0.6v0.6h-0.6zM390.77 146.37h0.6v0.6h-0.6zM387.91 140.89h0.6v0.6h-0.6zM390.46 140.87h0.6v0.6h-0.6zM386.25 146.97h0.6v0.6h-0.6zM390.43 151.73h0.6v0.6h-0.6zM390.88 151.48h0.6v0.6h-0.6zM392.53 149h0.6v0.6h-0.6zM390.61 137.01h0.6v0.6h-0.6zM385.67 134.28h0.6v0.6h-0.6zM391.99 148.99h0.6v0.6h-0.6zM389.75 142.27h0.6v0.6h-0.6zM395.96 83.54h0.5v0.5h-0.5zM400.03 82.54h0.5v0.5h-0.5zM395.08 84.99h0.5v0.5h-0.5zM399.19 80.25h0.5v0.5h-0.5zM395.95 85.43h0.5v0.5h-0.5zM395.86 82.1h0.5v0.5h-0.5zM400.89 84.51h0.5v0.5h-0.5zM399.51 84.05h0.5v0.5h-0.5zM394.14 80.43h0.5v0.5h-0.5zM402.59 84.4h0.5v0.5h-0.5zM394.14 80.17h0.5v0.5h-0.5zM402.61 149.54h0.6v0.6h-0.6zM399.19 146.42h0.6v0.6h-0.6zM397.68 150.74h0.6v0.6h-0.6zM396.07 142.96h0.6v0.6h-0.6zM396.72 138.16h0.6v0.6h-0.6zM400.57 142.47h0.6v0.6h-0.6zM397.51 134.89h0.6v0.6h-0.6zM401.78 151.19h0.6v0.6h-0.6zM400.95 146.59h0.6v0.6h-0.6zM404.84 80.7h0.5v0.5h-0.5zM404.13 85.4h0.5v0.5h-0.5zM406.56 83.55h0.5v0.5h-0.5zM408.14 81.15h0.5v0.5h-0.5zM403.85 79.98h0.5v0.5h-0.5zM410.55 80.63h0.5v0.5h-0.5zM411.49 81.94h0.5v0.5h-0.5zM409.44 80.67h0.5v0.5h-0.5zM410 81.31h0.5v0.5h-0.5zM406.41 82.83h0.5v0.5h-0.5zM406 141.06h0.6v0.6h-0.6zM408.93 144.02h0.6v0.6h-0.6zM404.32 151.84h0.6v0.6h-0.6zM407.39 140.48h0.6v0.6h-0.6zM403.39 148.16h0.6v0.6h-0.6zM407.67 135.13h0.6v0.6h-0.6zM407.3 149.21h0.6v0.6h-0.6zM407.87 141.68h0.6v0.6h-0.6zM407.54 147.56h0.6v0.6h-0.6zM408.83 139.62h0.6v0.6h-0.6zM410.13 151.45h0.6v0.6h-0.6zM409.59 150.52h0.6v0.6h-0.6zM406.43 151h0.6v0.6h-0.6zM404.84 141.53h0.6v0.6h-0.6zM408.38 150.99h0.6v0.6h-0.6zM404 141.32h0.6v0.6h-0.6zM403.61 145.25h0.6v0.6h-0.6zM404.49 140.75h0.6v0.6h-0.6zM409.67 147.27h0.6v0.6h-0.6zM411.29 144.68h0.6v0.6h-0.6zM409.07 134.25h0.6v0.6h-0.6zM411.36 141.66h0.6v0.6h-0.6zM407.35 146.31h0.6v0.6h-0.6zM411.36 146.03h0.6v0.6h-0.6zM411.73 147.76h0.6v0.6h-0.6zM416.86 80.92h0.5v0.5h-0.5zM417.84 81.33h0.5v0.5h-0.5zM414.19 81.95h0.5v0.5h-0.5zM416.49 83.69h0.5v0.5h-0.5zM412.89 84.05h0.5v0.5h-0.5zM417.29 82.54h0.5v0.5h-0.5zM417.68 84.38h0.5v0.5h-0.5zM412.38 82.56h0.5v0.5h-0.5zM417.72 83.87h0.5v0.5h-0.5zM417.48 80.91h0.5v0.5h-0.5zM416.58 149.04h0.6v0.6h-0.6zM412.86 133.38h0.6v0.6h-0.6zM417.87 133.25h0.6v0.6h-0.6zM420.06 139.71h0.6v0.6h-0.6zM416.48 143.32h0.6v0.6h-0.6zM416.13 142.17h0.6v0.6h-0.6zM412.97 140.06h0.6v0.6h-0.6zM417.29 148.69h0.6v0.6h-0.6zM418.63 149.07h0.6v0.6h-0.6zM416.78 136.53h0.6v0.6h-0.6zM413.05 147.31h0.6v0.6h-0.6zM427.8 83.36h0.5v0.5h-0.5zM421.59 82.45h0.5v0.5h-0.5zM425.58 81.46h0.5v0.5h-0.5zM421.08 85.39h0.5v0.5h-0.5zM427.62 80.62h0.5v0.5h-0.5zM424.29 83.37h0.5v0.5h-0.5zM423.05 80.28h0.5v0.5h-0.5zM426.43 84.22h0.5v0.5h-0.5zM424.08 80.38h0.5v0.5h-0.5zM426.96 150.58h0.6v0.6h-0.6zM425.11 134.04h0.6v0.6h-0.6zM426.53 147.58h0.6v0.6h-0.6zM427.55 151.51h0.6v0.6h-0.6zM423.25 150.42h0.6v0.6h-0.6zM426.94 142.31h0.6v0.6h-0.6zM423.54 144.24h0.6v0.6h-0.6zM423.45 144.3h0.6v0.6h-0.6zM421.63 141.53h0.6v0.6h-0.6zM427.62 144.82h0.6v0.6h-0.6zM425.57 150.84h0.6v0.6h-0.6zM426.47 141.89h0.6v0.6h-0.6zM427.7 149.94h0.6v0.6h-0.6zM428.23 149.07h0.6v0.6h-0.6zM426.46 150.03h0.6v0.6h-0.6zM422.7 148.2h0.6v0.6h-0.6zM423.66 150.33h0.6v0.6h-0.6zM421.8 146.69h0.6v0.6h-0.6zM423.32 150.12h0.6v0.6h-0.6zM423.39 150.37h0.6v0.6h-0.6zM427.16 150.75h0.6v0.6h-0.6zM421.84 151.37h0.6v0.6h-0.6zM429.4 82.83h0.5v0.5h-0.5zM434.13 84.32h0.5v0.5h-0.5zM431.12 81.15h0.5v0.5h-0.5zM433.64 84.39h0.5v0.5h-0.5zM430.22 84.85h0.5v0.5h-0.5zM435.25 82.33h0.5v0.5h-0.5zM431.27 83.88h0.5v0.5h-0.5zM434.84 81.03h0.5v0.5h-0.5zM430.46 146.38h0.6v0.6h-0.6zM432.72 151.02h0.6v0.6h-0.6zM433.43 148.86h0.6v0.6h-0.6zM434.25 151.24h0.6v0.6h-0.6zM434.94 145.31h0.6v0.6h-0.6zM430.39 140.92h0.6v0.6h-0.6zM431.47 147.73h0.6v0.6h-0.6zM429.85 141.35h0.6v0.6h-0.6zM429.99 145.85h0.6v0.6h-0.6zM435.94 81.71h0.5v0.5h-0.5zM438.25 82.68h0.5v0.5h-0.5zM437.65 84.91h0.5v0.5h-0.5zM437.58 82.88h0.5v0.5h-0.5zM440.54 83.48h0.5v0.5h-0.5zM438.23 81.76h0.5v0.5h-0.5zM440.25 149.36h0.6v0.6h-0.6zM438.84 151.77h0.6v0.6h-0.6zM435.99 136.73h0.6v0.6h-0.6zM436.43 134.95h0.6v0.6h-0.6zM439.41 147.88h0.6v0.6h-0.6zM436.37 140.05h0.6v0.6h-0.6zM436.72 147.61h0.6v0.6h-0.6zM439.23 151.69h0.6v0.6h-0.6zM437.64 151.79h0.6v0.6h-0.6zM438.02 144.5h0.6v0.6h-0.6zM437.09 141.65h0.6v0.6h-0.6zM440.77 151.95h0.6v0.6h-0.6zM439.4 140.37h0.6v0.6h-0.6zM436.72 139.8h0.6v0.6h-0.6zM437.59 149.17h0.6v0.6h-0.6zM447.03 80.36h0.5v0.5h-0.5zM447.07 84.14h0.5v0.5h-0.5zM442.31 84.16h0.5v0.5h-0.5zM444.9 84.98h0.5v0.5h-0.5zM444.98 82.29h0.5v0.5h-0.5zM447.09 80.39h0.5v0.5h-0.5zM446.14 80.48h0.5v0.5h-0.5zM441.61 145.63h0.6v0.6h-0.6zM445.78 149.08h0.6v0.6h-0.6zM447.09 140.61h0.6v0.6h-0.6zM446.37 138.93h0.6v0.6h-0.6zM444.45 143.6h0.6v0.6h-0.6zM442.93 151.11h0.6v0.6h-0.6zM446.61 145.32h0.6v0.6h-0.6zM445.94 141.63h0.6v0.6h-0.6zM448.01 80.18h0.5v0.5h-0.5zM450.82 85.33h0.5v0.5h-0.5zM450.07 83.08h0.5v0.5h-0.5zM448.06 82.23h0.5v0.5h-0.5zM453.96 83.2h0.5v0.5h-0.5zM453.44 79.97h0.5v0.5h-0.5zM449.34 80.9h0.5v0.5h-0.5zM453.49 80.47h0.5v0.5h-0.5zM453.44 141.83h0.6v0.6h-0.6zM448.61 145.82h0.6v0.6h-0.6zM450.56 143.58h0.6v0.6h-0.6zM453.05 141.43h0.6v0.6h-0.6zM452.42 150.27h0.6v0.6h-0.6zM450.99 146.19h0.6v0.6h-0.6zM454.1 147.54h0.6v0.6h-0.6zM449.19 137.27h0.6v0.6h-0.6zM448.54 143.52h0.6v0.6h-0.6zM448.59 148.11h0.6v0.6h-0.6zM450.8 143.11h0.6v0.6h-0.6zM451.38 151.36h0.6v0.6h-0.6zM449.61 139.87h0.6v0.6h-0.6zM450.02 143.39h0.6v0.6h-0.6zM454.01 148.81h0.6v0.6h-0.6zM450.83 140.15h0.6v0.6h-0.6zM448.3 139h0.6v0.6h-0.6zM453.59 148.1h0.6v0.6h-0.6zM449.03 147.81h0.6v0.6h-0.6zM460.66 80.15h0.5v0.5h-0.5zM459.18 84.38h0.5v0.5h-0.5zM455.74 81.7h0.5v0.5h-0.5zM455.41 83.16h0.5v0.5h-0.5zM459.22 81.85h0.5v0.5h-0.5zM459.06 81.95h0.5v0.5h-0.5zM459.16 81.45h0.5v0.5h-0.5zM459.55 146.39h0.6v0.6h-0.6zM460.38 146.29h0.6v0.6h-0.6zM456.31 145.45h0.6v0.6h-0.6zM459.28 141.11h0.6v0.6h-0.6zM458.72 148.66h0.6v0.6h-0.6zM455.45 144.01h0.6v0.6h-0.6zM462.35 80.01h0.5v0.5h-0.5zM462.9 82.02h0.5v0.5h-0.5zM461.35 81.98h0.5v0.5h-0.5zM464.42 81.76h0.5v0.5h-0.5zM464.09 83.4h0.5v0.5h-0.5zM461.46 149.85h0.6v0.6h-0.6zM464.62 142.38h0.6v0.6h-0.6zM464.48 145.84h0.6v0.6h-0.6zM465.35 136.66h0.6v0.6h-0.6zM462.86 141.55h0.6v0.6h-0.6zM463.86 149.64h0.6v0.6h-0.6zM464.75 146.81h0.6v0.6h-0.6zM462.89 149.88h0.6v0.6h-0.6zM461.73 142.2h0.6v0.6h-0.6zM464.39 145.27h0.6v0.6h-0.6zM465.37 138.03h0.6v0.6h-0.6zM463.19 141.22h0.6v0.6h-0.6zM466.56 83.61h0.5v0.5h-0.5zM468.63 82.4h0.5v0.5h-0.5zM467.56 81.2h0.5v0.5h-0.5zM469.14 82.46h0.5v0.5h-0.5zM469.31 82h0.5v0.5h-0.5zM468.22 149.36h0.6v0.6h-0.6zM465.96 150.87h0.6v0.6h-0.6zM471.5 84.07h0.5v0.5h-0.5zM473.45 81.29h0.5v0.5h-0.5zM472.97 82.12h0.5v0.5h-0.5zM471.3 81.12h0.5v0.5h-0.5zM471.48 147.95h0.6v0.6h-0.6zM472.21 144.28h0.6v0.6h-0.6zM472.55 141.33h0.6v0.6h-0.6zM472.05 132.87h0.6v0.6h-0.6zM473.34 142.08h0.6v0.6h-0.6zM473.45 146.86h0.6v0.6h-0.6zM472.64 147.82h0.6v0.6h-0.6zM470.95 149.63h0.6v0.6h-0.6zM471.54 150.58h0.6v0.6h-0.6zM473.29 148.47h0.6v0.6h-0.6zM473.39 145.22h0.6v0.6h-0.6zM475.87 82.59h0.5v0.5h-0.5zM474.78 83.5h0.5v0.5h-0.5zM477 80.76h0.5v0.5h-0.5zM476.5 84.01h0.5v0.5h-0.5zM475.94 143.18h0.6v0.6h-0.6zM477.92 146.31h0.6v0.6h-0.6zM476.24 140.44h0.6v0.6h-0.6zM481.11 80.55h0.5v0.5h-0.5zM480.87 80.28h0.5v0.5h-0.5zM481.5 80.04h0.5v0.5h-0.5zM480.84 81.96h0.5v0.5h-0.5zM479.23 145.27h0.6v0.6h-0.6zM480.96 142.51h0.6v0.6h-0.6zM479.07 146.41h0.6v0.6h-0.6zM479.92 151.38h0.6v0.6h-0.6zM481.38 141.76h0.6v0.6h-0.6zM480.34 144.9h0.6v0.6h-0.6zM478.7 145.33h0.6v0.6h-0.6zM481.44 143.01h0.6v0.6h-0.6zM480.42 148.86h0.6v0.6h-0.6zM478.8 151.23h0.6v0.6h-0.6zM483.99 80.95h0.5v0.5h-0.5zM483.77 81.48h0.5v0.5h-0.5zM484.31 81.57h0.5v0.5h-0.5zM483.19 83.5h0.5v0.5h-0.5zM483.13 147.7h0.6v0.6h-0.6zM483.87 148.89h0.6v0.6h-0.6zM484.58 138.46h0.6v0.6h-0.6zM484.54 148.58h0.6v0.6h-0.6zM482.89 151.6h0.6v0.6h-0.6zM484.87 148.13h0.6v0.6h-0.6zM484.25 146.36h0.6v0.6h-0.6zM488.16 81.15h0.5v0.5h-0.5zM488.5 81.74h0.5v0.5h-0.5zM488.51 81.59h0.5v0.5h-0.5zM488.82 144.2h0.6v0.6h-0.6zM488.87 150.83h0.6v0.6h-0.6zM486.62 150.42h0.6v0.6h-0.6zM486.35 148.86h0.6v0.6h-0.6zM488.4 148.68h0.6v0.6h-0.6zM487.73 150.03h0.6v0.6h-0.6zM486.7 146.69h0.6v0.6h-0.6zM486.99 144.64h0.6v0.6h-0.6zM489.67 83.37h0.5v0.5h-0.5zM491.42 81.29h0.5v0.5h-0.5zM491.11 84.9h0.5v0.5h-0.5zM490.87 141.75h0.6v0.6h-0.6zM491.89 141h0.6v0.6h-0.6zM489.43 138.12h0.6v0.6h-0.6zM493.57 84.38h0.5v0.5h-0.5zM493.36 80.55h0.5v0.5h-0.5zM493.01 142.88h0.6v0.6h-0.6zM493.62 147.7h0.6v0.6h-0.6zM492.93 146.74h0.6v0.6h-0.6zM493.89 147.06h0.6v0.6h-0.6zM493.86 147.05h0.6v0.6h-0.6zM495.64 80.23h0.5v0.5h-0.5zM495.53 80.07h0.5v0.5h-0.5zM494.82 146.37h0.6v0.6h-0.6zM494.95 149.93h0.6v0.6h-0.6z"/>
<path fill="#7fb3e0" d="M379.9 136.08h0.6v0.6h-0.6zM374.71 142.42h0.6v0.6h-0.6zM376.57 141.47h0.6v0.6h-0.6zM378 151.55h0.6v0.6h-0.6zM383.08 140.71h0.6v0.6h-0.6zM373.85 146.87h0.6v0.6h-0.6zM378.14 144.27h0.6v0.6h-0.6zM379.29 145.33h0.6v0.6h-0.6zM376.56 148.26h0.6v0.6h-0.6zM376.71 146.45h0.6v0.6h-0.6zM382.95 136.77h0.6v0.6h-0.6zM380.61 150.88h0.6v0.6h-0.6zM394.47 138.74h0.6v0.6h-0.6zM397.47 147.63h0.6v0.6h-0.6zM402.05 149.12h0.6v0.6h-0.6zM402.02 150.3h0.6v0.6h-0.6zM394.08 148.5h0.6v0.6h-0.6zM402.28 145.29h0.6v0.6h-0.6zM402.63 148.17h0.6v0.6h-0.6zM400.66 150.3h0.6v0.6h-0.6zM400.73 149.61h0.6v0.6h-0.6zM401.23 143.2h0.6v0.6h-0.6zM397.1 146.66h0.6v0.6h-0.6zM414.42 148.87h0.6v0.6h-0.6zM412.45 138.76h0.6v0.6h-0.6zM416.23 140.68h0.6v0.6h-0.6zM417.84 144.41h0.6v0.6h-0.6zM414.14 149.86h0.6v0.6h-0.6zM417.96 149.93h0.6v0.6h-0.6zM414.15 138.11h0.6v0.6h-0.6zM432.61 148.98h0.6v0.6h-0.6zM429.25 149.85h0.6v0.6h-0.6zM429.72 145.56h0.6v0.6h-0.6zM435.28 143.59h0.6v0.6h-0.6zM430.06 143.24h0.6v0.6h-0.6zM435.12 145.95h0.6v0.6h-0.6zM441.93 150.45h0.6v0.6h-0.6zM447.07 145.77h0.6v0.6h-0.6zM446.93 147.66h0.6v0.6h-0.6zM446.1 147.88h0.6v0.6h-0.6zM446.97 149.95h0.6v0.6h-0.6zM446.42 151.62h0.6v0.6h-0.6zM458.89 140.61h0.6v0.6h-0.6zM456.67 149.55h0.6v0.6h-0.6zM456.76 144.68h0.6v0.6h-0.6zM459.77 145.89h0.6v0.6h-0.6zM456.85 143.99h0.6v0.6h-0.6zM459.57 148.18h0.6v0.6h-0.6zM460.58 146.49h0.6v0.6h-0.6zM466.81 145.3h0.6v0.6h-0.6zM467.74 151.7h0.6v0.6h-0.6zM468.58 138.53h0.6v0.6h-0.6zM466.04 151.33h0.6v0.6h-0.6zM468.89 142.35h0.6v0.6h-0.6zM466.63 150.2h0.6v0.6h-0.6zM469.3 148.59h0.6v0.6h-0.6zM469.44 141.01h0.6v0.6h-0.6zM477.24 144.83h0.6v0.6h-0.6zM476.1 149.53h0.6v0.6h-0.6zM477.71 144.77h0.6v0.6h-0.6zM476.54 145.58h0.6v0.6h-0.6zM475.42 146.93h0.6v0.6h-0.6zM483.73 144.24h0.6v0.6h-0.6zM485.62 151.65h0.6v0.6h-0.6zM490.43 150.44h0.6v0.6h-0.6zM490.63 144.57h0.6v0.6h-0.6zM490.66 143.37h0.6v0.6h-0.6zM495.74 149.65h0.6v0.6h-0.6z"/>
<line x1="356.4" y1="147" x2="503" y2="147" stroke="#d0d0d0" stroke-width="0.6" stroke-dasharray="1.6,1.6" />
<line x1="487.2" y1="157" x2="487.2" y2="181" stroke="#63b8fc" stroke-width="0.9" stroke-dasharray="2.2,1.4" />
<line x1="381.9" y1="58.4" x2="381.9" y2="84" stroke="#555555" stroke-width="0.8" stroke-dasharray="3,0.6" />
<line x1="441" y1="65.6" x2="441" y2="84" stroke="#7a7a7a" stroke-width="0.8" stroke-dasharray="3,0.6" />
<line x1="449.3" y1="64.2" x2="449.3" y2="84" stroke="#7a7a7a" stroke-width="0.8" stroke-dasharray="3,0.6" />
<line x1="398.8" y1="75" x2="398.8" y2="84" stroke="#555555" stroke-width="0.8" stroke-dasharray="3,0.6" />
<line x1="462.8" y1="72" x2="462.8" y2="84" stroke="#7a7a7a" stroke-width="0.8" stroke-dasharray="3,0.6" />
<line x1="356.4" y1="73.4" x2="503" y2="73.4" stroke="#ff3b3b" stroke-width="0.8" stroke-dasharray="1.8,1.6" />
<line x1="356.4" y1="121.5" x2="503" y2="121.5" stroke="#ff3b3b" stroke-width="0.8" stroke-dasharray="1.8,1.6" />
<line x1="413.8" y1="16.9" x2="413.8" y2="21.4" stroke="#80f000" stroke-width="1.4" />
<line x1="413.8" y1="22.2" x2="413.8" y2="25.9" stroke="#80f000" stroke-width="1.4" />
<line x1="413.8" y1="26.7" x2="413.8" y2="29.4" stroke="#80f000" stroke-width="1.4" />
<line x1="413.8" y1="30.1" x2="413.8" y2="93.2" stroke="#80f000" stroke-width="1.4" />
<text x="406.1" y="21.9" font-size="4.5" font-style="italic" text-anchor="middle" fill="#ff3b3b" stroke="#ff3b3b" stroke-width="0.06">HFE</text>
<line x1="495.4" y1="47.4" x2="495.4" y2="93.2" stroke="#80f000" stroke-width="1.35" stroke-dasharray="2.5,1.5" />
<line x1="495.4" y1="70" x2="495.4" y2="93.2" stroke="#80f000" stroke-width="1.35" />
<text x="481.8" y="47.1" font-size="4.5" font-style="italic" text-anchor="middle" fill="#ff3b3b" stroke="#ff3b3b" stroke-width="0.06">TMPRSS6</text>
<line x1="356.5" y1="17.5" x2="356.5" y2="93.3" stroke="#6e6e6e" stroke-width="0.9" />
<line x1="356.4" y1="93.3" x2="503" y2="93.3" stroke="#333333" stroke-width="0.85" />
<line x1="356.5" y1="100.3" x2="356.5" y2="180" stroke="#6e6e6e" stroke-width="0.9" />
<line x1="356.4" y1="100.3" x2="503" y2="100.3" stroke="#333333" stroke-width="0.85" />
<line x1="368.2" y1="93.3" x2="368.2" y2="94.6" stroke="#333333" stroke-width="0.4" />
<line x1="368.2" y1="99" x2="368.2" y2="100.3" stroke="#333333" stroke-width="0.4" />
<text x="368.2" y="98.6" font-size="3.9" text-anchor="middle" font-weight="normal" fill="#111"   stroke="#111" stroke-width="0.06">1</text>
<line x1="379.05" y1="93.3" x2="379.05" y2="94.6" stroke="#333333" stroke-width="0.4" />
<line x1="379.05" y1="99" x2="379.05" y2="100.3" stroke="#333333" stroke-width="0.4" />
<text x="379.05" y="98.6" font-size="3.9" text-anchor="middle" font-weight="normal" fill="#111"   stroke="#111" stroke-width="0.06">2</text>
<line x1="389.4" y1="93.3" x2="389.4" y2="94.6" stroke="#333333" stroke-width="0.4" />
<line x1="389.4" y1="99" x2="389.4" y2="100.3" stroke="#333333" stroke-width="0.4" />
<text x="389.4" y="98.6" font-size="3.9" text-anchor="middle" font-weight="normal" fill="#111"   stroke="#111" stroke-width="0.06">3</text>
<line x1="399.2" y1="93.3" x2="399.2" y2="94.6" stroke="#333333" stroke-width="0.4" />
<line x1="399.2" y1="99" x2="399.2" y2="100.3" stroke="#333333" stroke-width="0.4" />
<text x="399.2" y="98.6" font-size="3.9" text-anchor="middle" font-weight="normal" fill="#111"   stroke="#111" stroke-width="0.06">4</text>
<line x1="408.2" y1="93.3" x2="408.2" y2="94.6" stroke="#333333" stroke-width="0.4" />
<line x1="408.2" y1="99" x2="408.2" y2="100.3" stroke="#333333" stroke-width="0.4" />
<text x="408.2" y="98.6" font-size="3.9" text-anchor="middle" font-weight="normal" fill="#111"   stroke="#111" stroke-width="0.06">5</text>
<line x1="416.9" y1="93.3" x2="416.9" y2="94.6" stroke="#333333" stroke-width="0.4" />
<line x1="416.9" y1="99" x2="416.9" y2="100.3" stroke="#333333" stroke-width="0.4" />
<text x="416.9" y="98.6" font-size="3.9" text-anchor="middle" font-weight="normal" fill="#111"   stroke="#111" stroke-width="0.06">6</text>
<line x1="425.3" y1="93.3" x2="425.3" y2="94.6" stroke="#333333" stroke-width="0.4" />
<line x1="425.3" y1="99" x2="425.3" y2="100.3" stroke="#333333" stroke-width="0.4" />
<text x="425.3" y="98.6" font-size="3.9" text-anchor="middle" font-weight="normal" fill="#111"   stroke="#111" stroke-width="0.06">7</text>
<line x1="432.55" y1="93.3" x2="432.55" y2="94.6" stroke="#333333" stroke-width="0.4" />
<line x1="432.55" y1="99" x2="432.55" y2="100.3" stroke="#333333" stroke-width="0.4" />
<text x="432.55" y="98.6" font-size="3.9" text-anchor="middle" font-weight="normal" fill="#111"   stroke="#111" stroke-width="0.06">8</text>
<line x1="439.4" y1="93.3" x2="439.4" y2="94.6" stroke="#333333" stroke-width="0.4" />
<line x1="439.4" y1="99" x2="439.4" y2="100.3" stroke="#333333" stroke-width="0.4" />
<text x="439.4" y="98.6" font-size="3.9" text-anchor="middle" font-weight="normal" fill="#111"   stroke="#111" stroke-width="0.06">9</text>
<line x1="445.4" y1="93.3" x2="445.4" y2="94.6" stroke="#333333" stroke-width="0.4" />
<line x1="445.4" y1="99" x2="445.4" y2="100.3" stroke="#333333" stroke-width="0.4" />
<text x="445.4" y="98.6" font-size="3.9" text-anchor="middle" font-weight="normal" fill="#111"   stroke="#111" stroke-width="0.06">10</text>
<line x1="451.6" y1="93.3" x2="451.6" y2="94.6" stroke="#333333" stroke-width="0.4" />
<line x1="451.6" y1="99" x2="451.6" y2="100.3" stroke="#333333" stroke-width="0.4" />
<text x="451.6" y="98.6" font-size="3.9" text-anchor="middle" font-weight="normal" fill="#111"   stroke="#111" stroke-width="0.06">11</text>
<line x1="457.7" y1="93.3" x2="457.7" y2="94.6" stroke="#333333" stroke-width="0.4" />
<line x1="457.7" y1="99" x2="457.7" y2="100.3" stroke="#333333" stroke-width="0.4" />
<text x="457.7" y="98.6" font-size="3.9" text-anchor="middle" font-weight="normal" fill="#111"   stroke="#111" stroke-width="0.06">12</text>
<line x1="463.3" y1="93.3" x2="463.3" y2="94.6" stroke="#333333" stroke-width="0.4" />
<line x1="463.3" y1="99" x2="463.3" y2="100.3" stroke="#333333" stroke-width="0.4" />
<text x="463.3" y="98.6" font-size="3.9" text-anchor="middle" font-weight="normal" fill="#111"   stroke="#111" stroke-width="0.06">13</text>
<line x1="468.4" y1="93.3" x2="468.4" y2="94.6" stroke="#333333" stroke-width="0.4" />
<line x1="468.4" y1="99" x2="468.4" y2="100.3" stroke="#333333" stroke-width="0.4" />
<text x="468.4" y="98.6" font-size="3.9" text-anchor="middle" font-weight="normal" fill="#111"   stroke="#111" stroke-width="0.06">14</text>
<line x1="477.1" y1="93.3" x2="477.1" y2="94.6" stroke="#333333" stroke-width="0.4" />
<line x1="477.1" y1="99" x2="477.1" y2="100.3" stroke="#333333" stroke-width="0.4" />
<text x="477.1" y="98.6" font-size="3.9" text-anchor="middle" font-weight="normal" fill="#111"   stroke="#111" stroke-width="0.06">16</text>
<line x1="485.3" y1="93.3" x2="485.3" y2="94.6" stroke="#333333" stroke-width="0.4" />
<line x1="485.3" y1="99" x2="485.3" y2="100.3" stroke="#333333" stroke-width="0.4" />
<text x="485.3" y="98.6" font-size="3.9" text-anchor="middle" font-weight="normal" fill="#111"   stroke="#111" stroke-width="0.06">18</text>
<line x1="490.9" y1="93.3" x2="490.9" y2="94.6" stroke="#333333" stroke-width="0.4" />
<line x1="490.9" y1="99" x2="490.9" y2="100.3" stroke="#333333" stroke-width="0.4" />
<text x="490.9" y="98.6" font-size="3.9" text-anchor="middle" font-weight="normal" fill="#111"   stroke="#111" stroke-width="0.06">20</text>
<line x1="494.7" y1="93.3" x2="494.7" y2="94.6" stroke="#333333" stroke-width="0.4" />
<line x1="494.7" y1="99" x2="494.7" y2="100.3" stroke="#333333" stroke-width="0.4" />
<text x="494.7" y="98.6" font-size="3.9" text-anchor="middle" font-weight="normal" fill="#111"   stroke="#111" stroke-width="0.06">22</text>
<line x1="355.2" y1="20" x2="356.4" y2="20" stroke="#6e6e6e" stroke-width="0.5" />
<text x="354.7" y="22" font-size="5.6" text-anchor="end" font-weight="normal" fill="#222"   stroke="#222" stroke-width="0.1">100</text>
<line x1="355.2" y1="37" x2="356.4" y2="37" stroke="#6e6e6e" stroke-width="0.5" />
<text x="354.7" y="39" font-size="5.6" text-anchor="end" font-weight="normal" fill="#222"   stroke="#222" stroke-width="0.1">50</text>
<line x1="355.2" y1="49" x2="356.4" y2="49" stroke="#6e6e6e" stroke-width="0.5" />
<text x="354.7" y="51" font-size="5.6" text-anchor="end" font-weight="normal" fill="#222"   stroke="#222" stroke-width="0.1">15</text>
<line x1="355.2" y1="65" x2="356.4" y2="65" stroke="#6e6e6e" stroke-width="0.5" />
<text x="354.7" y="67" font-size="5.6" text-anchor="end" font-weight="normal" fill="#222"   stroke="#222" stroke-width="0.1">10</text>
<line x1="355.2" y1="80.6" x2="356.4" y2="80.6" stroke="#6e6e6e" stroke-width="0.5" />
<text x="354.7" y="82.6" font-size="5.6" text-anchor="end" font-weight="normal" fill="#222"   stroke="#222" stroke-width="0.1">5</text>
<line x1="355.2" y1="113.5" x2="356.4" y2="113.5" stroke="#6e6e6e" stroke-width="0.5" />
<text x="354.7" y="115.5" font-size="5.6" text-anchor="end" font-weight="normal" fill="#222"   stroke="#222" stroke-width="0.1">5</text>
<line x1="355.2" y1="130.4" x2="356.4" y2="130.4" stroke="#6e6e6e" stroke-width="0.5" />
<text x="354.7" y="132.4" font-size="5.6" text-anchor="end" font-weight="normal" fill="#222"   stroke="#222" stroke-width="0.1">10</text>
<line x1="355.2" y1="147" x2="356.4" y2="147" stroke="#6e6e6e" stroke-width="0.5" />
<text x="354.7" y="149" font-size="5.6" text-anchor="end" font-weight="normal" fill="#222"   stroke="#222" stroke-width="0.1">15</text>
<line x1="355.2" y1="169.75" x2="356.4" y2="169.75" stroke="#6e6e6e" stroke-width="0.5" />
<text x="354.7" y="171.75" font-size="5.6" text-anchor="end" font-weight="normal" fill="#222"   stroke="#222" stroke-width="0.1">100</text>
<text x="599.1" y="12.7" font-size="7.8" text-anchor="middle" font-weight="bold" fill="#000"  >TrajGWAS</text>
<line x1="525.8" y1="49" x2="672.4" y2="49" stroke="#c8c8c8" stroke-width="0.5" stroke-dasharray="1.6,1.6" />
<path fill="#63b8fc" d="M366.8 162.7h1v1h-1zM532.2 100.6h10.35v26.9h-10.35zM532.2 127.45h0.5v2.02h-0.5zM532.7 127.45h0.5v0.37h-0.5zM533.2 127.45h0.5v2.34h-0.5zM533.7 127.45h0.5v2.3h-0.5zM534.2 127.45h0.5v0.92h-0.5zM534.7 127.45h0.5v0.29h-0.5zM535.2 127.45h0.5v0.85h-0.5zM535.7 127.45h0.5v2.31h-0.5zM536.2 127.45h0.5v1.4h-0.5zM536.7 127.45h0.5v2.45h-0.5zM537.2 127.45h0.5v0.48h-0.5zM537.7 127.45h0.5v0.32h-0.5zM538.2 127.45h0.5v1.05h-0.5zM538.7 127.45h0.5v2.64h-0.5zM539.2 127.45h0.5v0.49h-0.5zM539.7 127.45h0.5v0.22h-0.5zM540.2 127.45h0.5v2.26h-0.5zM540.7 127.45h0.5v0.27h-0.5zM541.2 127.45h0.5v2h-0.5zM541.7 127.45h0.5v0.25h-0.5zM534.52 132.78h0.65v0.65h-0.65zM540.41 129.51h0.65v0.65h-0.65zM536.43 127.51h0.65v0.65h-0.65zM535.4 128.2h0.65v0.65h-0.65zM539.61 133.62h0.65v0.65h-0.65zM539.57 130.89h0.65v0.65h-0.65zM538.77 127.69h0.65v0.65h-0.65zM535.82 128.53h0.65v0.65h-0.65zM534.85 134.06h0.65v0.65h-0.65zM534.21 128.77h0.65v0.65h-0.65zM534.85 136.46h0.65v0.65h-0.65zM538.2 130.27h0.65v0.65h-0.65zM535.77 137.69h0.65v0.65h-0.65zM541.03 129.93h0.65v0.65h-0.65zM537.53 136.43h0.65v0.65h-0.65zM534.61 128.3h0.65v0.65h-0.65zM533.17 130.52h0.65v0.65h-0.65zM539.42 127.79h0.65v0.65h-0.65zM536.26 139.28h0.65v0.65h-0.65zM536.72 129.25h0.65v0.65h-0.65zM540.09 137.05h0.65v0.65h-0.65zM535.74 127.68h0.65v0.65h-0.65zM538.18 134.08h0.65v0.65h-0.65zM540.88 132.73h0.65v0.65h-0.65zM535.09 130.68h0.65v0.65h-0.65zM534.91 129.89h0.65v0.65h-0.65zM536.6 137.49h0.65v0.65h-0.65zM540.72 137.8h0.65v0.65h-0.65zM536.69 138.66h0.65v0.65h-0.65zM533.51 137.68h0.65v0.65h-0.65zM538.22 136.63h0.65v0.65h-0.65zM536.09 139.28h0.65v0.65h-0.65zM532.44 136.13h0.65v0.65h-0.65zM539.9 129.18h0.65v0.65h-0.65zM539.99 128.05h0.65v0.65h-0.65zM539.27 130.13h0.65v0.65h-0.65zM536.06 127.96h0.65v0.65h-0.65zM539.72 133.91h0.65v0.65h-0.65zM533.04 138.98h0.65v0.65h-0.65zM534.28 129.19h0.65v0.65h-0.65zM536.1 131.49h0.65v0.65h-0.65zM540.57 138.22h0.65v0.65h-0.65zM538.15 129.1h0.65v0.65h-0.65zM533.21 127.56h0.65v0.65h-0.65zM537.08 131.58h0.65v0.65h-0.65zM536.4 139.08h0.65v0.65h-0.65zM536.09 128.98h0.65v0.65h-0.65zM536.13 127.85h0.65v0.65h-0.65zM541.03 131.69h0.65v0.65h-0.65zM537.3 129.68h0.65v0.65h-0.65zM534.55 128.69h0.65v0.65h-0.65zM536.84 129.89h0.65v0.65h-0.65zM541.41 131.3h0.65v0.65h-0.65zM534.15 127.53h0.65v0.65h-0.65zM533.7 128.94h0.65v0.65h-0.65zM539.56 136.99h0.65v0.65h-0.65zM534.42 134.81h0.65v0.65h-0.65zM536.35 130.97h0.65v0.65h-0.65zM537.21 127.52h0.65v0.65h-0.65zM532.82 132.85h0.65v0.65h-0.65zM538.68 129.24h0.65v0.65h-0.65zM540.84 135.57h0.65v0.65h-0.65zM535.04 127.55h0.65v0.65h-0.65zM537.4 132.64h0.65v0.65h-0.65zM534.31 127.52h0.65v0.65h-0.65zM536.78 127.51h0.65v0.65h-0.65zM539.13 132.2h0.65v0.65h-0.65zM534.82 129.88h0.65v0.65h-0.65zM534.39 127.91h0.65v0.65h-0.65zM533.91 135.48h0.65v0.65h-0.65zM536.46 133.64h0.65v0.65h-0.65zM535.47 135.31h0.65v0.65h-0.65zM537.8 132.63h0.65v0.65h-0.65zM535.89 131.29h0.65v0.65h-0.65zM533.99 138.88h0.65v0.65h-0.65zM538.52 130.9h0.65v0.65h-0.65zM538.2 127.62h0.65v0.65h-0.65zM535.34 128.14h0.65v0.65h-0.65zM540.13 127.5h0.65v0.65h-0.65zM536.38 136.55h0.65v0.65h-0.65zM539.56 133.7h0.65v0.65h-0.65zM535.03 128.15h0.65v0.65h-0.65zM538.82 128.57h0.65v0.65h-0.65zM539 128.97h0.65v0.65h-0.65zM539.35 131.44h0.65v0.65h-0.65zM539.87 139.16h0.65v0.65h-0.65zM535.76 139.18h0.65v0.65h-0.65zM532.29 136.74h0.65v0.65h-0.65zM532.48 131.07h0.65v0.65h-0.65zM535.85 134.61h0.65v0.65h-0.65zM535.16 138.75h0.6v0.6h-0.6zM539.57 140.8h0.6v0.6h-0.6zM539.3 140.44h0.6v0.6h-0.6zM532.54 142.13h0.6v0.6h-0.6zM534.25 140.33h0.6v0.6h-0.6zM532.21 139.05h0.6v0.6h-0.6zM538.46 142.09h0.6v0.6h-0.6zM538.18 140.16h0.6v0.6h-0.6zM539.09 141.51h0.6v0.6h-0.6zM534.14 140.71h0.6v0.6h-0.6zM553.1 100.6h10.45v26.9h-10.45zM553.1 127.45h0.5v2.43h-0.5zM553.6 127.45h0.5v1.59h-0.5zM554.1 127.45h0.5v1.66h-0.5zM554.6 127.45h0.5v1.62h-0.5zM555.1 127.45h0.5v1.23h-0.5zM555.6 127.45h0.5v1.67h-0.5zM556.1 127.45h0.5v0.27h-0.5zM556.6 127.45h0.5v2.76h-0.5zM557.1 127.45h0.5v0.31h-0.5zM557.6 127.45h0.5v0.42h-0.5zM558.1 127.45h0.5v2.02h-0.5zM558.6 127.45h0.5v1.92h-0.5zM559.1 127.45h0.5v2.42h-0.5zM559.6 127.45h0.5v2.08h-0.5zM560.1 127.45h0.5v2.79h-0.5zM560.6 127.45h0.5v0.16h-0.5zM561.1 127.45h0.5v0.03h-0.5zM561.6 127.45h0.5v0.71h-0.5zM562.1 127.45h0.5v2.34h-0.5zM562.6 127.45h0.5v0.46h-0.5zM563.1 127.45h0.1v1.59h-0.1zM560.42 127.79h0.65v0.65h-0.65zM558.11 137.24h0.65v0.65h-0.65zM560.2 129.4h0.65v0.65h-0.65zM557.65 128.43h0.65v0.65h-0.65zM562.23 134.85h0.65v0.65h-0.65zM559.56 128.61h0.65v0.65h-0.65zM560.05 130.34h0.65v0.65h-0.65zM560.68 129.09h0.65v0.65h-0.65zM561.47 133.12h0.65v0.65h-0.65zM557.38 131.3h0.65v0.65h-0.65zM560.75 130.86h0.65v0.65h-0.65zM562.22 127.5h0.65v0.65h-0.65zM561.62 133.62h0.65v0.65h-0.65zM557.75 136.17h0.65v0.65h-0.65zM554.51 128.87h0.65v0.65h-0.65zM559.88 135.64h0.65v0.65h-0.65zM556.64 139.36h0.65v0.65h-0.65zM559.26 127.52h0.65v0.65h-0.65zM554.27 127.57h0.65v0.65h-0.65zM558.51 128.74h0.65v0.65h-0.65zM555.58 129.9h0.65v0.65h-0.65zM553.84 137.41h0.65v0.65h-0.65zM561.06 131.25h0.65v0.65h-0.65zM557.32 128.64h0.65v0.65h-0.65zM558.83 128.94h0.65v0.65h-0.65zM562.37 138.47h0.65v0.65h-0.65zM560 135.69h0.65v0.65h-0.65zM553.82 127.68h0.65v0.65h-0.65zM556.38 127.69h0.65v0.65h-0.65zM557.11 139.17h0.65v0.65h-0.65zM561.03 138.53h0.65v0.65h-0.65zM555.21 128.09h0.65v0.65h-0.65zM553.32 128.4h0.65v0.65h-0.65zM553.64 130.85h0.65v0.65h-0.65zM555.96 132.95h0.65v0.65h-0.65zM558.43 131.78h0.65v0.65h-0.65zM555.95 133.98h0.65v0.65h-0.65zM559.65 133.62h0.65v0.65h-0.65zM557.58 130.08h0.65v0.65h-0.65zM555.82 127.52h0.65v0.65h-0.65zM557.53 132.06h0.65v0.65h-0.65zM554.87 136.38h0.65v0.65h-0.65zM561.45 136.24h0.65v0.65h-0.65zM560.85 130.36h0.65v0.65h-0.65zM554.77 128.38h0.65v0.65h-0.65zM560.11 139.13h0.65v0.65h-0.65zM554.16 127.5h0.65v0.65h-0.65zM556.46 128.96h0.65v0.65h-0.65zM558.78 127.65h0.65v0.65h-0.65zM561.12 128.87h0.65v0.65h-0.65zM561.73 128.8h0.65v0.65h-0.65zM556 127.87h0.65v0.65h-0.65zM562.27 131.67h0.65v0.65h-0.65zM560.94 127.55h0.65v0.65h-0.65zM558.26 133.95h0.65v0.65h-0.65zM562.45 138.03h0.65v0.65h-0.65zM554.09 129.17h0.65v0.65h-0.65zM562.59 130.93h0.65v0.65h-0.65zM562.19 128.27h0.65v0.65h-0.65zM553.34 138.24h0.65v0.65h-0.65zM555.61 131.27h0.65v0.65h-0.65zM556.53 131.5h0.65v0.65h-0.65zM561.97 138.26h0.65v0.65h-0.65zM561.43 128.29h0.65v0.65h-0.65zM560.9 127.5h0.65v0.65h-0.65zM557.06 138.2h0.65v0.65h-0.65zM555.52 129.12h0.65v0.65h-0.65zM558.63 128.17h0.65v0.65h-0.65zM559.83 132.61h0.65v0.65h-0.65zM554 137.66h0.65v0.65h-0.65zM553.78 133.32h0.65v0.65h-0.65zM556.41 127.75h0.65v0.65h-0.65zM553.84 139.45h0.65v0.65h-0.65zM560.7 130.03h0.65v0.65h-0.65zM560.65 138.79h0.65v0.65h-0.65zM561.9 130.9h0.65v0.65h-0.65zM555.71 130.73h0.65v0.65h-0.65zM562.42 133.9h0.65v0.65h-0.65zM559.46 136.03h0.65v0.65h-0.65zM556.98 131.25h0.65v0.65h-0.65zM561.16 127.98h0.65v0.65h-0.65zM561.26 127.51h0.65v0.65h-0.65zM558.2 131.47h0.65v0.65h-0.65zM554.49 137.7h0.65v0.65h-0.65zM557.27 127.91h0.65v0.65h-0.65zM557.01 131.7h0.65v0.65h-0.65zM557.18 127.5h0.65v0.65h-0.65zM553.98 133.6h0.65v0.65h-0.65zM554.35 128.28h0.65v0.65h-0.65zM560.77 136.41h0.65v0.65h-0.65zM561.48 138.55h0.6v0.6h-0.6zM553.15 142.03h0.6v0.6h-0.6zM558.79 139.69h0.6v0.6h-0.6zM553.28 140.09h0.6v0.6h-0.6zM555.35 141.03h0.6v0.6h-0.6zM562.42 138.76h0.6v0.6h-0.6zM553.81 141.67h0.6v0.6h-0.6zM554.12 138.84h0.6v0.6h-0.6zM557.27 143.42h0.6v0.6h-0.6zM556.18 139.4h0.6v0.6h-0.6zM572.7 100.6h9.35v26.9h-9.35zM572.7 127.45h0.5v0.28h-0.5zM573.2 127.45h0.5v2.25h-0.5zM573.7 127.45h0.5v1.27h-0.5zM574.2 127.45h0.5v2.78h-0.5zM574.7 127.45h0.5v0.67h-0.5zM575.2 127.45h0.5v2.63h-0.5zM575.7 127.45h0.5v0.68h-0.5zM576.2 127.45h0.5v0.14h-0.5zM576.7 127.45h0.5v0.26h-0.5zM577.2 127.45h0.5v0.23h-0.5zM577.7 127.45h0.5v1.17h-0.5zM578.2 127.45h0.5v2.92h-0.5zM578.7 127.45h0.5v1.06h-0.5zM579.2 127.45h0.5v2.15h-0.5zM579.7 127.45h0.5v0.1h-0.5zM580.2 127.45h0.5v1.55h-0.5zM580.7 127.45h0.5v1.62h-0.5zM581.2 127.45h0.5v0.29h-0.5zM577.57 129.89h0.65v0.65h-0.65zM575.45 135.78h0.65v0.65h-0.65zM578.51 127.67h0.65v0.65h-0.65zM573.59 127.53h0.65v0.65h-0.65zM574.91 132.36h0.65v0.65h-0.65zM580.83 138.76h0.65v0.65h-0.65zM579.96 127.69h0.65v0.65h-0.65zM579.35 134.47h0.65v0.65h-0.65zM576.67 139.4h0.65v0.65h-0.65zM577.73 127.67h0.65v0.65h-0.65zM574.51 127.7h0.65v0.65h-0.65zM577.83 132.17h0.65v0.65h-0.65zM579.91 127.5h0.65v0.65h-0.65zM572.78 138.85h0.65v0.65h-0.65zM574.9 128.34h0.65v0.65h-0.65zM579.98 127.65h0.65v0.65h-0.65zM579.36 137.15h0.65v0.65h-0.65zM577.42 131.94h0.65v0.65h-0.65zM572.75 131.92h0.65v0.65h-0.65zM577.86 134.63h0.65v0.65h-0.65zM577.04 127.66h0.65v0.65h-0.65zM574.57 132.62h0.65v0.65h-0.65zM573.37 127.64h0.65v0.65h-0.65zM574.81 135.11h0.65v0.65h-0.65zM577.29 129.03h0.65v0.65h-0.65zM580.8 131.55h0.65v0.65h-0.65zM574.7 131.34h0.65v0.65h-0.65zM579.89 129.13h0.65v0.65h-0.65zM576.35 131.5h0.65v0.65h-0.65zM580.99 132.39h0.65v0.65h-0.65zM574.22 131.57h0.65v0.65h-0.65zM575.4 130.19h0.65v0.65h-0.65zM578.69 127.5h0.65v0.65h-0.65zM576.96 128.68h0.65v0.65h-0.65zM577.73 135.58h0.65v0.65h-0.65zM576.63 132.26h0.65v0.65h-0.65zM575.13 128.29h0.65v0.65h-0.65zM576.98 130.9h0.65v0.65h-0.65zM574.58 134.52h0.65v0.65h-0.65zM576.9 129.02h0.65v0.65h-0.65zM574.83 135.9h0.65v0.65h-0.65zM580.28 138.06h0.65v0.65h-0.65zM574.78 127.56h0.65v0.65h-0.65zM578.01 127.51h0.65v0.65h-0.65zM579.89 133.03h0.65v0.65h-0.65zM575.53 129.84h0.65v0.65h-0.65zM578.44 127.81h0.65v0.65h-0.65zM575.77 134.93h0.65v0.65h-0.65zM578.42 131.61h0.65v0.65h-0.65zM573.57 128.07h0.65v0.65h-0.65zM574.85 127.51h0.65v0.65h-0.65zM578.08 131.44h0.65v0.65h-0.65zM580.46 131.19h0.65v0.65h-0.65zM580.41 130.14h0.65v0.65h-0.65zM577.05 128.45h0.65v0.65h-0.65zM576.6 138.03h0.65v0.65h-0.65zM576.8 127.5h0.65v0.65h-0.65zM575.67 127.97h0.65v0.65h-0.65zM577.94 130.61h0.65v0.65h-0.65zM576.7 137.81h0.65v0.65h-0.65zM579.1 127.59h0.65v0.65h-0.65zM572.96 133.39h0.65v0.65h-0.65zM577.71 132.61h0.65v0.65h-0.65zM576.9 127.52h0.65v0.65h-0.65zM576.49 135.88h0.65v0.65h-0.65zM577.76 127.52h0.65v0.65h-0.65zM573.75 137.32h0.65v0.65h-0.65zM577.28 127.82h0.65v0.65h-0.65zM578.64 137.76h0.65v0.65h-0.65zM579.97 132.5h0.65v0.65h-0.65zM579.48 127.59h0.65v0.65h-0.65zM576.59 135.38h0.65v0.65h-0.65zM575.57 127.75h0.65v0.65h-0.65zM579.97 133.46h0.65v0.65h-0.65zM572.76 127.55h0.65v0.65h-0.65zM577.38 138.42h0.65v0.65h-0.65zM577.89 136.71h0.65v0.65h-0.65zM573.58 131.48h0.65v0.65h-0.65zM574.23 128.82h0.65v0.65h-0.65zM573.95 130.08h0.65v0.65h-0.65zM573.09 132.67h0.65v0.65h-0.65zM578.13 142.93h0.6v0.6h-0.6zM579.15 137.95h0.6v0.6h-0.6zM580 140.76h0.6v0.6h-0.6zM580.56 140.45h0.6v0.6h-0.6zM573.38 141.72h0.6v0.6h-0.6zM574.16 143.4h0.6v0.6h-0.6zM577.23 142.91h0.6v0.6h-0.6zM576.84 139.46h0.6v0.6h-0.6zM578.26 141.76h0.6v0.6h-0.6zM590.2 100.6h8.35v26.9h-8.35zM590.2 127.45h0.5v1.48h-0.5zM590.7 127.45h0.5v0.04h-0.5zM591.2 127.45h0.5v2.89h-0.5zM591.7 127.45h0.5v0.86h-0.5zM592.2 127.45h0.5v1.64h-0.5zM592.7 127.45h0.5v2.88h-0.5zM593.2 127.45h0.5v0.62h-0.5zM593.7 127.45h0.5v0.19h-0.5zM594.2 127.45h0.5v0.62h-0.5zM594.7 127.45h0.5v0.46h-0.5zM595.2 127.45h0.5v2.55h-0.5zM595.7 127.45h0.5v1.55h-0.5zM596.2 127.45h0.5v0.13h-0.5zM596.7 127.45h0.5v0.81h-0.5zM597.2 127.45h0.5v1.53h-0.5zM597.7 127.45h0.5v0.52h-0.5zM592.47 137.32h0.65v0.65h-0.65zM593.49 128.15h0.65v0.65h-0.65zM594.62 127.65h0.65v0.65h-0.65zM594.05 132.54h0.65v0.65h-0.65zM590.86 131.11h0.65v0.65h-0.65zM592.49 134.16h0.65v0.65h-0.65zM594.76 137.43h0.65v0.65h-0.65zM594.69 127.9h0.65v0.65h-0.65zM591.57 133.44h0.65v0.65h-0.65zM596.2 127.55h0.65v0.65h-0.65zM593.29 128.46h0.65v0.65h-0.65zM593.66 136.63h0.65v0.65h-0.65zM594.34 134.15h0.65v0.65h-0.65zM595.86 128.43h0.65v0.65h-0.65zM594.78 129.19h0.65v0.65h-0.65zM593.71 130.88h0.65v0.65h-0.65zM595.14 127.84h0.65v0.65h-0.65zM596.4 127.81h0.65v0.65h-0.65zM592.52 136.15h0.65v0.65h-0.65zM597.49 129.11h0.65v0.65h-0.65zM597.25 127.52h0.65v0.65h-0.65zM597.27 127.98h0.65v0.65h-0.65zM590.46 134.47h0.65v0.65h-0.65zM591.39 134.29h0.65v0.65h-0.65zM590.25 127.68h0.65v0.65h-0.65zM592.85 127.59h0.65v0.65h-0.65zM593.69 128.94h0.65v0.65h-0.65zM595.67 130.42h0.65v0.65h-0.65zM597.34 136.04h0.65v0.65h-0.65zM591.47 137.6h0.65v0.65h-0.65zM596.82 131.33h0.65v0.65h-0.65zM594.1 127.85h0.65v0.65h-0.65zM592.58 128.08h0.65v0.65h-0.65zM591.65 132.03h0.65v0.65h-0.65zM592.6 134.57h0.65v0.65h-0.65zM594.44 135.71h0.65v0.65h-0.65zM590.85 136.11h0.65v0.65h-0.65zM593.96 132.3h0.65v0.65h-0.65zM591.96 133.31h0.65v0.65h-0.65zM593.2 133.75h0.65v0.65h-0.65zM594.52 127.74h0.65v0.65h-0.65zM592.43 134.29h0.65v0.65h-0.65zM590.32 132.29h0.65v0.65h-0.65zM594.24 133.63h0.65v0.65h-0.65zM592.63 130.23h0.65v0.65h-0.65zM593.73 134.24h0.65v0.65h-0.65zM590.74 130.62h0.65v0.65h-0.65zM592.12 131.67h0.65v0.65h-0.65zM592.12 128.01h0.65v0.65h-0.65zM591.91 137.11h0.65v0.65h-0.65zM592.89 136.8h0.65v0.65h-0.65zM595.64 128.37h0.65v0.65h-0.65zM594.3 127.5h0.65v0.65h-0.65zM597.1 132.28h0.65v0.65h-0.65zM591.03 130.73h0.65v0.65h-0.65zM593.86 132.9h0.65v0.65h-0.65zM592.34 137.43h0.65v0.65h-0.65zM594.81 127.56h0.65v0.65h-0.65zM596.26 136.89h0.65v0.65h-0.65zM592.45 133.57h0.65v0.65h-0.65zM596.57 136.83h0.65v0.65h-0.65zM590.72 135.9h0.65v0.65h-0.65zM592.04 135.22h0.65v0.65h-0.65zM595.28 130.1h0.65v0.65h-0.65zM596.87 135.24h0.65v0.65h-0.65zM597.56 138.53h0.65v0.65h-0.65zM594.44 133.98h0.65v0.65h-0.65zM595.16 129.42h0.65v0.65h-0.65zM593.89 130.59h0.65v0.65h-0.65zM591.8 128.32h0.65v0.65h-0.65zM596.45 136.09h0.65v0.65h-0.65zM595.36 133.19h0.65v0.65h-0.65zM593.97 140.94h0.6v0.6h-0.6zM595.13 137.54h0.6v0.6h-0.6zM593.48 143.32h0.6v0.6h-0.6zM591.72 140.3h0.6v0.6h-0.6zM590.77 139.03h0.6v0.6h-0.6zM596.3 137.7h0.6v0.6h-0.6zM596.11 142.29h0.6v0.6h-0.6zM596.62 139.04h0.6v0.6h-0.6zM605.2 100.6h5.95v26.9h-5.95zM605.2 127.45h0.5v2.39h-0.5zM605.7 127.45h0.5v0.35h-0.5zM606.2 127.45h0.5v2.68h-0.5zM606.7 127.45h0.5v2.82h-0.5zM607.2 127.45h0.5v1.03h-0.5zM607.7 127.45h0.5v0.63h-0.5zM608.2 127.45h0.5v0.44h-0.5zM608.7 127.45h0.5v0.66h-0.5zM609.2 127.45h0.5v1.26h-0.5zM609.7 127.45h0.5v2.12h-0.5zM610.2 127.45h0.5v2.81h-0.5zM610.7 127.45h0.1v1.68h-0.1zM609.97 129.69h0.65v0.65h-0.65zM608.49 127.5h0.65v0.65h-0.65zM607.29 127.51h0.65v0.65h-0.65zM605.86 135.35h0.65v0.65h-0.65zM605.77 128.58h0.65v0.65h-0.65zM607.83 130.81h0.65v0.65h-0.65zM605.35 127.65h0.65v0.65h-0.65zM608.58 129.47h0.65v0.65h-0.65zM605.66 130.25h0.65v0.65h-0.65zM607.06 139.49h0.65v0.65h-0.65zM605.44 127.89h0.65v0.65h-0.65zM605.57 131.15h0.65v0.65h-0.65zM610 134.76h0.65v0.65h-0.65zM605.76 130.99h0.65v0.65h-0.65zM606.99 138.96h0.65v0.65h-0.65zM608.74 131.88h0.65v0.65h-0.65zM606.48 129.79h0.65v0.65h-0.65zM607.83 129.22h0.65v0.65h-0.65zM608.02 127.6h0.65v0.65h-0.65zM607.3 139.19h0.65v0.65h-0.65zM607.2 130.57h0.65v0.65h-0.65zM608.97 135.42h0.65v0.65h-0.65zM608.88 129.24h0.65v0.65h-0.65zM608.76 127.98h0.65v0.65h-0.65zM608.29 127.5h0.65v0.65h-0.65zM606.16 127.87h0.65v0.65h-0.65zM606.96 134.04h0.65v0.65h-0.65zM605.3 136.72h0.65v0.65h-0.65zM605.66 138.34h0.65v0.65h-0.65zM609.95 132.03h0.65v0.65h-0.65zM609.4 138.12h0.65v0.65h-0.65zM607.44 136.29h0.65v0.65h-0.65zM605.37 134.82h0.65v0.65h-0.65zM608.44 134.74h0.65v0.65h-0.65zM605.95 127.58h0.65v0.65h-0.65zM607.82 131.91h0.65v0.65h-0.65zM608.64 127.88h0.65v0.65h-0.65zM608.04 138.76h0.65v0.65h-0.65zM606.47 135.56h0.65v0.65h-0.65zM610 132.93h0.65v0.65h-0.65zM607.4 129.6h0.65v0.65h-0.65zM607.54 127.69h0.65v0.65h-0.65zM605.57 128.44h0.65v0.65h-0.65zM606.07 137.21h0.65v0.65h-0.65zM607.01 136.7h0.65v0.65h-0.65zM608.02 137.18h0.65v0.65h-0.65zM609.68 133.57h0.65v0.65h-0.65zM607.44 128.21h0.65v0.65h-0.65zM608.02 128.67h0.65v0.65h-0.65zM609.34 127.52h0.65v0.65h-0.65zM608.38 139.53h0.6v0.6h-0.6zM607.3 140.75h0.6v0.6h-0.6zM610.11 143.46h0.6v0.6h-0.6zM606.99 143.24h0.6v0.6h-0.6zM609.98 140.66h0.6v0.6h-0.6zM617.4 100.6h7.45v26.9h-7.45zM617.4 127.45h0.5v0.99h-0.5zM617.9 127.45h0.5v2.44h-0.5zM618.4 127.45h0.5v2.91h-0.5zM618.9 127.45h0.5v1.1h-0.5zM619.4 127.45h0.5v0.66h-0.5zM619.9 127.45h0.5v2.99h-0.5zM620.4 127.45h0.5v1.28h-0.5zM620.9 127.45h0.5v1.33h-0.5zM621.4 127.45h0.5v0.93h-0.5zM621.9 127.45h0.5v2.17h-0.5zM622.4 127.45h0.5v2.95h-0.5zM622.9 127.45h0.5v1.41h-0.5zM623.4 127.45h0.5v2.57h-0.5zM623.9 127.45h0.5v1.2h-0.5zM624.4 127.45h0.1v1.27h-0.1zM622.61 138.81h0.65v0.65h-0.65zM622.31 133.46h0.65v0.65h-0.65zM622.78 137.64h0.65v0.65h-0.65zM623.6 130.89h0.65v0.65h-0.65zM619.92 127.5h0.65v0.65h-0.65zM620.82 129.01h0.65v0.65h-0.65zM617.4 139.34h0.65v0.65h-0.65zM619.4 137.92h0.65v0.65h-0.65zM617.5 129.05h0.65v0.65h-0.65zM622.49 132.94h0.65v0.65h-0.65zM621.77 130.36h0.65v0.65h-0.65zM617.99 135.79h0.65v0.65h-0.65zM622.35 130.24h0.65v0.65h-0.65zM621.05 135.25h0.65v0.65h-0.65zM620.61 130.21h0.65v0.65h-0.65zM620.55 134h0.65v0.65h-0.65zM622.18 128.85h0.65v0.65h-0.65zM622.45 129.19h0.65v0.65h-0.65zM621.78 129.21h0.65v0.65h-0.65zM623.24 138.11h0.65v0.65h-0.65zM622.45 129.24h0.65v0.65h-0.65zM619.68 129.75h0.65v0.65h-0.65zM621.33 127.51h0.65v0.65h-0.65zM620.94 137.84h0.65v0.65h-0.65zM617.82 137.03h0.65v0.65h-0.65zM621.12 139.44h0.65v0.65h-0.65zM622.1 133.7h0.65v0.65h-0.65zM622.29 129.63h0.65v0.65h-0.65zM618.17 136.27h0.65v0.65h-0.65zM623.1 133.74h0.65v0.65h-0.65zM618.81 130.49h0.65v0.65h-0.65zM620.74 129.09h0.65v0.65h-0.65zM620.58 130.01h0.65v0.65h-0.65zM623.77 132.22h0.65v0.65h-0.65zM623.75 137.4h0.65v0.65h-0.65zM618.55 134.64h0.65v0.65h-0.65zM619.88 131.78h0.65v0.65h-0.65zM621.06 134.07h0.65v0.65h-0.65zM619.35 133.01h0.65v0.65h-0.65zM619.8 134.85h0.65v0.65h-0.65zM620.61 132.47h0.65v0.65h-0.65zM623.88 128.44h0.65v0.65h-0.65zM617.43 137.13h0.65v0.65h-0.65zM620.81 132.51h0.65v0.65h-0.65zM622.8 137.01h0.65v0.65h-0.65zM619.91 139.2h0.65v0.65h-0.65zM619.94 133.84h0.65v0.65h-0.65zM622.81 129.08h0.65v0.65h-0.65zM620.13 129.11h0.65v0.65h-0.65zM619.62 129.54h0.65v0.65h-0.65zM622.91 127.54h0.65v0.65h-0.65zM623.83 135h0.65v0.65h-0.65zM621.04 132.45h0.65v0.65h-0.65zM619.35 134.52h0.65v0.65h-0.65zM623.08 129.25h0.65v0.65h-0.65zM620.65 128.07h0.65v0.65h-0.65zM619.03 136.21h0.65v0.65h-0.65zM621.57 129.9h0.65v0.65h-0.65zM621.56 127.91h0.65v0.65h-0.65zM617.42 129.03h0.65v0.65h-0.65zM621.14 127.91h0.65v0.65h-0.65zM620.92 128.77h0.65v0.65h-0.65zM619.11 134.07h0.65v0.65h-0.65zM619.75 141.95h0.6v0.6h-0.6zM622.27 139.75h0.6v0.6h-0.6zM617.61 142.56h0.6v0.6h-0.6zM620.98 140.98h0.6v0.6h-0.6zM621.86 140.79h0.6v0.6h-0.6zM623.3 137.55h0.6v0.6h-0.6zM623.7 141.2h0.6v0.6h-0.6zM630.7 100.6h4.95v26.9h-4.95zM630.7 127.45h0.5v2.95h-0.5zM631.2 127.45h0.5v2.4h-0.5zM631.7 127.45h0.5v1.42h-0.5zM632.2 127.45h0.5v2.47h-0.5zM632.7 127.45h0.5v2.82h-0.5zM633.2 127.45h0.5v2.09h-0.5zM633.7 127.45h0.5v0.25h-0.5zM634.2 127.45h0.5v1.12h-0.5zM634.7 127.45h0.5v2.11h-0.5zM635.2 127.45h0.1v1.1h-0.1zM631.37 130h0.65v0.65h-0.65zM631.26 130.2h0.65v0.65h-0.65zM631.1 133.84h0.65v0.65h-0.65zM631.55 138.01h0.65v0.65h-0.65zM631.13 132.28h0.65v0.65h-0.65zM633.27 127.97h0.65v0.65h-0.65zM633.21 131.12h0.65v0.65h-0.65zM633.16 127.91h0.65v0.65h-0.65zM632.61 135.89h0.65v0.65h-0.65zM633.17 128.21h0.65v0.65h-0.65zM632.04 136.78h0.65v0.65h-0.65zM630.91 130.24h0.65v0.65h-0.65zM632.75 129.72h0.65v0.65h-0.65zM630.71 127.64h0.65v0.65h-0.65zM634.07 129.99h0.65v0.65h-0.65zM631.87 129.95h0.65v0.65h-0.65zM630.91 127.58h0.65v0.65h-0.65zM634.02 134.43h0.65v0.65h-0.65zM631.49 128.71h0.65v0.65h-0.65zM631.01 128.71h0.65v0.65h-0.65zM632.78 134.3h0.65v0.65h-0.65zM632.72 136.12h0.65v0.65h-0.65zM634.69 131.36h0.65v0.65h-0.65zM630.87 127.72h0.65v0.65h-0.65zM633.39 127.7h0.65v0.65h-0.65zM634.3 127.54h0.65v0.65h-0.65zM630.92 139.4h0.65v0.65h-0.65zM632.33 131.2h0.65v0.65h-0.65zM633.08 127.67h0.65v0.65h-0.65zM632.04 129.13h0.65v0.65h-0.65zM633.65 134.84h0.65v0.65h-0.65zM633.48 127.89h0.65v0.65h-0.65zM632.55 137.56h0.65v0.65h-0.65zM631.4 128.96h0.65v0.65h-0.65zM633.16 139.39h0.65v0.65h-0.65zM630.8 133.23h0.65v0.65h-0.65zM632.55 130.86h0.65v0.65h-0.65zM634.06 127.61h0.65v0.65h-0.65zM633.09 128.71h0.65v0.65h-0.65zM633.72 133.63h0.65v0.65h-0.65zM632.36 127.78h0.65v0.65h-0.65zM633.76 141.7h0.6v0.6h-0.6zM632.95 141.97h0.6v0.6h-0.6zM634.5 138.97h0.6v0.6h-0.6zM633.46 142.34h0.6v0.6h-0.6zM639.9 100.6h4.4v26.9h-4.4zM639.9 127.45h0.5v2.79h-0.5zM640.4 127.45h0.5v2.08h-0.5zM640.9 127.45h0.5v2.47h-0.5zM641.4 127.45h0.5v1.7h-0.5zM641.9 127.45h0.5v1.86h-0.5zM642.4 127.45h0.5v0.42h-0.5zM642.9 127.45h0.5v2.5h-0.5zM643.4 127.45h0.5v1.92h-0.5zM643.9 127.45h0.05v1.95h-0.05zM640.95 134.49h0.65v0.65h-0.65zM641.72 128.73h0.65v0.65h-0.65zM643.32 134.66h0.65v0.65h-0.65zM642.24 135.96h0.65v0.65h-0.65zM642.3 129.28h0.65v0.65h-0.65zM643.2 137.35h0.65v0.65h-0.65zM642.22 129.77h0.65v0.65h-0.65zM641.63 127.53h0.65v0.65h-0.65zM642.97 135.78h0.65v0.65h-0.65zM641.95 130.11h0.65v0.65h-0.65zM642.67 127.51h0.65v0.65h-0.65zM641.28 128.25h0.65v0.65h-0.65zM642 129h0.65v0.65h-0.65zM641.99 137.16h0.65v0.65h-0.65zM641.32 127.66h0.65v0.65h-0.65zM639.95 135.87h0.65v0.65h-0.65zM641.52 129.84h0.65v0.65h-0.65zM640 127.63h0.65v0.65h-0.65zM639.9 137.13h0.65v0.65h-0.65zM640.06 128.74h0.65v0.65h-0.65zM641.53 131.44h0.65v0.65h-0.65zM640.67 132.5h0.65v0.65h-0.65zM642.11 139.14h0.65v0.65h-0.65zM640.22 128.55h0.65v0.65h-0.65zM640.25 128.51h0.65v0.65h-0.65zM640.64 127.51h0.65v0.65h-0.65zM642.68 128.41h0.65v0.65h-0.65zM642.47 135.45h0.65v0.65h-0.65zM642.65 127.51h0.65v0.65h-0.65zM641.92 136.19h0.65v0.65h-0.65zM642.08 131.88h0.65v0.65h-0.65zM641.37 135.62h0.65v0.65h-0.65zM641.74 128.99h0.65v0.65h-0.65zM641.61 130.17h0.65v0.65h-0.65zM640.55 132.93h0.65v0.65h-0.65zM642.78 132.63h0.65v0.65h-0.65zM639.94 139.93h0.6v0.6h-0.6zM642.54 138.29h0.6v0.6h-0.6zM641.64 141.6h0.6v0.6h-0.6zM641.74 139.48h0.6v0.6h-0.6zM648 100.6h3.95v26.9h-3.95zM648 127.45h0.5v1.64h-0.5zM648.5 127.45h0.5v2.77h-0.5zM649 127.45h0.5v2.01h-0.5zM649.5 127.45h0.5v0.64h-0.5zM650 127.45h0.5v2.2h-0.5zM650.5 127.45h0.5v1.84h-0.5zM651 127.45h0.5v1.14h-0.5zM651.5 127.45h0.1v2.08h-0.1zM650.28 133.05h0.65v0.65h-0.65zM648.65 138.69h0.65v0.65h-0.65zM650.73 129.76h0.65v0.65h-0.65zM650.78 139.34h0.65v0.65h-0.65zM649.03 127.94h0.65v0.65h-0.65zM648.73 130.38h0.65v0.65h-0.65zM648.43 128.18h0.65v0.65h-0.65zM650.2 127.5h0.65v0.65h-0.65zM649.84 129.5h0.65v0.65h-0.65zM650.13 128.3h0.65v0.65h-0.65zM649.44 128.04h0.65v0.65h-0.65zM648.05 136.46h0.65v0.65h-0.65zM649.1 128.55h0.65v0.65h-0.65zM650.8 129.14h0.65v0.65h-0.65zM649.62 127.74h0.65v0.65h-0.65zM649.24 136.69h0.65v0.65h-0.65zM650.47 135.53h0.65v0.65h-0.65zM650.74 128.14h0.65v0.65h-0.65zM648.16 127.7h0.65v0.65h-0.65zM649.95 131.07h0.65v0.65h-0.65zM649.11 133.59h0.65v0.65h-0.65zM648.66 131.94h0.65v0.65h-0.65zM649.25 127.73h0.65v0.65h-0.65zM650.33 127.91h0.65v0.65h-0.65zM650.4 134.45h0.65v0.65h-0.65zM649.31 129.97h0.65v0.65h-0.65zM648.62 127.73h0.65v0.65h-0.65zM650.09 129.15h0.65v0.65h-0.65zM649.69 129.13h0.65v0.65h-0.65zM648.8 127.82h0.65v0.65h-0.65zM650.29 129.75h0.65v0.65h-0.65zM648.46 136.65h0.65v0.65h-0.65zM648.46 138.88h0.6v0.6h-0.6zM648.47 140.86h0.6v0.6h-0.6zM650.33 137.69h0.6v0.6h-0.6zM655.7 100.6h3.45v26.9h-3.45zM655.7 127.45h0.5v1.86h-0.5zM656.2 127.45h0.5v1.62h-0.5zM656.7 127.45h0.5v0.65h-0.5zM657.2 127.45h0.5v2.52h-0.5zM657.7 127.45h0.5v2.92h-0.5zM658.2 127.45h0.5v2.44h-0.5zM658.7 127.45h0.1v2.8h-0.1zM658.13 129.12h0.65v0.65h-0.65zM657.06 129.55h0.65v0.65h-0.65zM657.67 127.84h0.65v0.65h-0.65zM656.27 129.94h0.65v0.65h-0.65zM657.06 139.28h0.65v0.65h-0.65zM656.54 127.5h0.65v0.65h-0.65zM656.67 136.73h0.65v0.65h-0.65zM655.94 130.73h0.65v0.65h-0.65zM657.2 135.95h0.65v0.65h-0.65zM656.52 131.93h0.65v0.65h-0.65zM658.08 138.85h0.65v0.65h-0.65zM657.11 128.87h0.65v0.65h-0.65zM657.33 133.9h0.65v0.65h-0.65zM657.4 132.97h0.65v0.65h-0.65zM656.66 133.65h0.65v0.65h-0.65zM656.58 128.15h0.65v0.65h-0.65zM655.95 131.17h0.65v0.65h-0.65zM656.13 128.46h0.65v0.65h-0.65zM656.44 129.16h0.65v0.65h-0.65zM656.74 138.9h0.65v0.65h-0.65zM657.02 131.12h0.65v0.65h-0.65zM656.7 131.1h0.65v0.65h-0.65zM657.74 130.78h0.65v0.65h-0.65zM656.98 128.98h0.65v0.65h-0.65zM656.16 128.04h0.65v0.65h-0.65zM655.92 128.47h0.65v0.65h-0.65zM655.8 129.57h0.65v0.65h-0.65zM657.13 138.19h0.6v0.6h-0.6zM657.59 140.21h0.6v0.6h-0.6zM657.26 140.08h0.6v0.6h-0.6zM661.8 100.6h2.45v26.9h-2.45zM661.8 127.45h0.5v2.4h-0.5zM662.3 127.45h0.5v2.84h-0.5zM662.8 127.45h0.5v1.15h-0.5zM663.3 127.45h0.5v1.52h-0.5zM663.8 127.45h0.1v0.96h-0.1zM662.33 138.41h0.65v0.65h-0.65zM663.25 139.36h0.65v0.65h-0.65zM663.16 130.37h0.65v0.65h-0.65zM662.79 137.39h0.65v0.65h-0.65zM662.45 137.63h0.65v0.65h-0.65zM663 128.47h0.65v0.65h-0.65zM662.34 133.22h0.65v0.65h-0.65zM662.05 128.29h0.65v0.65h-0.65zM662.09 127.64h0.65v0.65h-0.65zM663.16 139.44h0.65v0.65h-0.65zM663.03 130.55h0.65v0.65h-0.65zM662.92 133.16h0.65v0.65h-0.65zM662.46 130.75h0.65v0.65h-0.65zM661.99 128.2h0.65v0.65h-0.65zM662.32 129.03h0.65v0.65h-0.65zM662.79 128.2h0.65v0.65h-0.65zM662.16 136.68h0.65v0.65h-0.65zM662.97 137.93h0.65v0.65h-0.65zM662.97 138.67h0.6v0.6h-0.6zM662.53 142.5h0.6v0.6h-0.6z"/>
<path fill="#33668f" d="M396.6 160.2h0.9v0.9h-0.9zM542.2 100.6h11.25v30.4h-11.25zM542.2 130.95h0.5v0.6h-0.5zM542.7 130.95h0.5v1.64h-0.5zM543.2 130.95h0.5v2.82h-0.5zM543.7 130.95h0.5v0.35h-0.5zM544.2 130.95h0.5v2.55h-0.5zM544.7 130.95h0.5v2.32h-0.5zM545.2 130.95h0.5v2.25h-0.5zM545.7 130.95h0.5v1.8h-0.5zM546.2 130.95h0.5v0.3h-0.5zM546.7 130.95h0.5v2.88h-0.5zM547.2 130.95h0.5v0.31h-0.5zM547.7 130.95h0.5v2.35h-0.5zM548.2 130.95h0.5v2.17h-0.5zM548.7 130.95h0.5v0.95h-0.5zM549.2 130.95h0.5v2.05h-0.5zM549.7 130.95h0.5v1.23h-0.5zM550.2 130.95h0.5v2.25h-0.5zM550.7 130.95h0.5v0.13h-0.5zM551.2 130.95h0.5v2.8h-0.5zM551.7 130.95h0.5v1.15h-0.5zM552.2 130.95h0.5v2.41h-0.5zM552.7 130.95h0.4v1.41h-0.4zM550.57 132.09h0.65v0.65h-0.65zM547.81 131.01h0.65v0.65h-0.65zM547.24 131.08h0.65v0.65h-0.65zM551.05 136.5h0.65v0.65h-0.65zM546.58 142.39h0.65v0.65h-0.65zM551.95 141.98h0.65v0.65h-0.65zM543.05 136.95h0.65v0.65h-0.65zM549.69 135.41h0.65v0.65h-0.65zM542.36 141.24h0.65v0.65h-0.65zM546.72 135.25h0.65v0.65h-0.65zM550.59 131.91h0.65v0.65h-0.65zM542.5 141.23h0.65v0.65h-0.65zM544.99 131.02h0.65v0.65h-0.65zM543.61 142.88h0.65v0.65h-0.65zM549.82 131.53h0.65v0.65h-0.65zM543.71 140.67h0.65v0.65h-0.65zM549.05 135.08h0.65v0.65h-0.65zM543.55 133.05h0.65v0.65h-0.65zM551.95 131h0.65v0.65h-0.65zM546.52 131.04h0.65v0.65h-0.65zM552.48 131.13h0.65v0.65h-0.65zM552.02 139.49h0.65v0.65h-0.65zM549.74 131.02h0.65v0.65h-0.65zM549.36 133.92h0.65v0.65h-0.65zM547.26 131.25h0.65v0.65h-0.65zM547.48 138.72h0.65v0.65h-0.65zM543.55 140.21h0.65v0.65h-0.65zM546.53 131.85h0.65v0.65h-0.65zM544.66 133.54h0.65v0.65h-0.65zM548.87 134.9h0.65v0.65h-0.65zM551.37 134.14h0.65v0.65h-0.65zM547.48 142.74h0.65v0.65h-0.65zM544.42 131h0.65v0.65h-0.65zM545.58 132.18h0.65v0.65h-0.65zM543.48 133.1h0.65v0.65h-0.65zM542.56 141.18h0.65v0.65h-0.65zM547.19 140.27h0.65v0.65h-0.65zM549.38 137.39h0.65v0.65h-0.65zM550.01 132.09h0.65v0.65h-0.65zM549.71 131.51h0.65v0.65h-0.65zM547.91 135.25h0.65v0.65h-0.65zM550.19 131.34h0.65v0.65h-0.65zM545.74 139.15h0.65v0.65h-0.65zM550.49 142.48h0.65v0.65h-0.65zM543.42 131.53h0.65v0.65h-0.65zM543.3 137.29h0.65v0.65h-0.65zM549.88 136.04h0.65v0.65h-0.65zM550.23 134.19h0.65v0.65h-0.65zM547.99 141.18h0.65v0.65h-0.65zM548.88 136.16h0.65v0.65h-0.65zM548.26 133.93h0.65v0.65h-0.65zM550 134.93h0.65v0.65h-0.65zM543.53 133.18h0.65v0.65h-0.65zM546.54 133.24h0.65v0.65h-0.65zM547.98 132.57h0.65v0.65h-0.65zM546.23 133.19h0.65v0.65h-0.65zM546.03 142.33h0.65v0.65h-0.65zM543.13 131h0.65v0.65h-0.65zM549.63 132.87h0.65v0.65h-0.65zM546.82 135.2h0.65v0.65h-0.65zM545.98 131.69h0.65v0.65h-0.65zM542.36 140.16h0.65v0.65h-0.65zM551.87 131.98h0.65v0.65h-0.65zM546.99 132.26h0.65v0.65h-0.65zM542.8 140.56h0.65v0.65h-0.65zM550.82 131.7h0.65v0.65h-0.65zM544.82 136.85h0.65v0.65h-0.65zM550.41 133.65h0.65v0.65h-0.65zM546.19 131.65h0.65v0.65h-0.65zM550.42 139.95h0.65v0.65h-0.65zM551.04 131.16h0.65v0.65h-0.65zM548.32 142.65h0.65v0.65h-0.65zM549.57 133.53h0.65v0.65h-0.65zM543.69 131.04h0.65v0.65h-0.65zM549.74 131.06h0.65v0.65h-0.65zM550.53 136.32h0.65v0.65h-0.65zM547.08 140.54h0.65v0.65h-0.65zM551.81 135.56h0.65v0.65h-0.65zM543.23 135.16h0.65v0.65h-0.65zM546.54 131.75h0.65v0.65h-0.65zM551.77 137.4h0.65v0.65h-0.65zM543.45 131.63h0.65v0.65h-0.65zM545.73 134.94h0.65v0.65h-0.65zM545.54 133.32h0.65v0.65h-0.65zM550.58 131.4h0.65v0.65h-0.65zM549.62 132.31h0.65v0.65h-0.65zM551.93 141.87h0.65v0.65h-0.65zM545.57 135.41h0.65v0.65h-0.65zM543.34 133.02h0.65v0.65h-0.65zM548.62 135.89h0.65v0.65h-0.65zM545.73 131.01h0.65v0.65h-0.65zM543.48 134.77h0.65v0.65h-0.65zM543.96 132.12h0.65v0.65h-0.65zM548.57 140.74h0.65v0.65h-0.65zM547.51 131.78h0.65v0.65h-0.65zM548.23 131.91h0.65v0.65h-0.65zM550.26 131.29h0.65v0.65h-0.65zM544.9 133.31h0.65v0.65h-0.65zM551.55 131.33h0.65v0.65h-0.65zM544.18 131.21h0.65v0.65h-0.65zM544.4 132.32h0.65v0.65h-0.65zM546.27 137.92h0.65v0.65h-0.65zM546.36 133.71h0.65v0.65h-0.65zM546.28 138.19h0.65v0.65h-0.65zM551.5 133.17h0.65v0.65h-0.65zM551.69 131.75h0.65v0.65h-0.65zM552.27 134.31h0.65v0.65h-0.65zM549.22 132.74h0.65v0.65h-0.65zM545 131.22h0.65v0.65h-0.65zM551.32 132.55h0.65v0.65h-0.65zM549.4 133.55h0.65v0.65h-0.65zM547.62 131.51h0.65v0.65h-0.65zM544.02 132.36h0.65v0.65h-0.65zM549.22 134.54h0.65v0.65h-0.65zM542.22 137.06h0.65v0.65h-0.65zM546.66 131.06h0.65v0.65h-0.65zM544.88 131.54h0.65v0.65h-0.65zM550.68 134.63h0.65v0.65h-0.65zM545.57 131.74h0.65v0.65h-0.65zM545.2 131.94h0.65v0.65h-0.65zM545.77 138.5h0.65v0.65h-0.65zM550.32 136.85h0.65v0.65h-0.65zM551.31 136.13h0.65v0.65h-0.65zM543.37 131.02h0.65v0.65h-0.65zM543.89 131.8h0.65v0.65h-0.65zM547.64 139.11h0.65v0.65h-0.65zM548.23 133.22h0.65v0.65h-0.65zM544.69 142.57h0.65v0.65h-0.65zM549.96 132.4h0.65v0.65h-0.65zM542.67 142.57h0.65v0.65h-0.65zM544.84 146.09h0.6v0.6h-0.6zM543.41 144.92h0.6v0.6h-0.6zM545.87 146.33h0.6v0.6h-0.6zM545.26 141.6h0.6v0.6h-0.6zM544.25 145.83h0.6v0.6h-0.6zM552.28 144.86h0.6v0.6h-0.6zM549.22 142.69h0.6v0.6h-0.6zM545.01 141.52h0.6v0.6h-0.6zM552.34 141.26h0.6v0.6h-0.6zM548.51 143.1h0.6v0.6h-0.6zM563.2 100.6h9.85v30.4h-9.85zM563.2 130.95h0.5v1.89h-0.5zM563.7 130.95h0.5v0.94h-0.5zM564.2 130.95h0.5v0.8h-0.5zM564.7 130.95h0.5v2.76h-0.5zM565.2 130.95h0.5v1.6h-0.5zM565.7 130.95h0.5v0.06h-0.5zM566.2 130.95h0.5v1.02h-0.5zM566.7 130.95h0.5v1.05h-0.5zM567.2 130.95h0.5v0.2h-0.5zM567.7 130.95h0.5v2.93h-0.5zM568.2 130.95h0.5v2.71h-0.5zM568.7 130.95h0.5v2.44h-0.5zM569.2 130.95h0.5v0.01h-0.5zM569.7 130.95h0.5v1.25h-0.5zM570.2 130.95h0.5v0.33h-0.5zM570.7 130.95h0.5v2.18h-0.5zM571.2 130.95h0.5v2.43h-0.5zM571.7 130.95h0.5v2.37h-0.5zM572.2 130.95h0.5v2.38h-0.5zM564.28 131h0.65v0.65h-0.65zM564.03 139.52h0.65v0.65h-0.65zM570.58 134.2h0.65v0.65h-0.65zM565.29 139.81h0.65v0.65h-0.65zM564.27 132.27h0.65v0.65h-0.65zM563.22 142.59h0.65v0.65h-0.65zM566.89 138.14h0.65v0.65h-0.65zM570.33 135.05h0.65v0.65h-0.65zM571.98 138.2h0.65v0.65h-0.65zM571.45 142.14h0.65v0.65h-0.65zM563.93 137.76h0.65v0.65h-0.65zM565.21 132.26h0.65v0.65h-0.65zM566.24 142.73h0.65v0.65h-0.65zM563.74 133.27h0.65v0.65h-0.65zM564.34 142.94h0.65v0.65h-0.65zM567.62 136.91h0.65v0.65h-0.65zM567.83 138.06h0.65v0.65h-0.65zM566.2 133.05h0.65v0.65h-0.65zM569.83 136.92h0.65v0.65h-0.65zM571.1 132.15h0.65v0.65h-0.65zM570.75 137.52h0.65v0.65h-0.65zM568.3 133h0.65v0.65h-0.65zM568.25 131.07h0.65v0.65h-0.65zM564.06 132.16h0.65v0.65h-0.65zM564.3 131.03h0.65v0.65h-0.65zM569.58 137.42h0.65v0.65h-0.65zM568.68 131.51h0.65v0.65h-0.65zM569.63 139.18h0.65v0.65h-0.65zM568.71 131.62h0.65v0.65h-0.65zM568.23 132.87h0.65v0.65h-0.65zM565.59 131.26h0.65v0.65h-0.65zM570.9 135.8h0.65v0.65h-0.65zM571.5 131.36h0.65v0.65h-0.65zM565.55 134.11h0.65v0.65h-0.65zM563.73 132.1h0.65v0.65h-0.65zM568.01 133.79h0.65v0.65h-0.65zM571.3 135h0.65v0.65h-0.65zM568.87 135.11h0.65v0.65h-0.65zM570.19 132.61h0.65v0.65h-0.65zM563.21 142.54h0.65v0.65h-0.65zM570.25 131.19h0.65v0.65h-0.65zM564.2 131.59h0.65v0.65h-0.65zM569.06 131.21h0.65v0.65h-0.65zM563.38 133.93h0.65v0.65h-0.65zM563.25 131.8h0.65v0.65h-0.65zM566.6 131.51h0.65v0.65h-0.65zM563.22 131.81h0.65v0.65h-0.65zM565.37 132.26h0.65v0.65h-0.65zM566.89 132.55h0.65v0.65h-0.65zM566.08 131h0.65v0.65h-0.65zM570.65 137.54h0.65v0.65h-0.65zM567.59 131h0.65v0.65h-0.65zM565.28 140.73h0.65v0.65h-0.65zM567.27 131.51h0.65v0.65h-0.65zM570.5 140.54h0.65v0.65h-0.65zM564.29 134.01h0.65v0.65h-0.65zM568.2 131.17h0.65v0.65h-0.65zM566.04 135.59h0.65v0.65h-0.65zM569.19 135.74h0.65v0.65h-0.65zM568.72 132.71h0.65v0.65h-0.65zM563.81 131h0.65v0.65h-0.65zM570.65 139.98h0.65v0.65h-0.65zM571.26 131.07h0.65v0.65h-0.65zM570.05 131.35h0.65v0.65h-0.65zM566.28 131.48h0.65v0.65h-0.65zM570.85 139.05h0.65v0.65h-0.65zM570.61 132.75h0.65v0.65h-0.65zM571.53 131.81h0.65v0.65h-0.65zM568.31 136.44h0.65v0.65h-0.65zM565.28 132.75h0.65v0.65h-0.65zM564.09 138.62h0.65v0.65h-0.65zM564.84 131.22h0.65v0.65h-0.65zM565.67 135.92h0.65v0.65h-0.65zM568.87 134.3h0.65v0.65h-0.65zM570.8 137.79h0.65v0.65h-0.65zM565.07 134.43h0.65v0.65h-0.65zM564.71 131.7h0.65v0.65h-0.65zM564.51 131.07h0.65v0.65h-0.65zM566.32 140.43h0.65v0.65h-0.65zM569.04 131.09h0.65v0.65h-0.65zM565.15 135.2h0.65v0.65h-0.65zM567.91 131.01h0.65v0.65h-0.65zM564.04 134.84h0.65v0.65h-0.65zM568.55 131.08h0.65v0.65h-0.65zM570.08 131.69h0.65v0.65h-0.65zM568.44 134.37h0.65v0.65h-0.65zM566.23 141.75h0.65v0.65h-0.65zM566.72 133.15h0.65v0.65h-0.65zM568.01 139.46h0.65v0.65h-0.65zM571.99 138.11h0.65v0.65h-0.65zM567.99 137.17h0.65v0.65h-0.65zM568.88 142.04h0.65v0.65h-0.65zM571.84 137.93h0.65v0.65h-0.65zM565.13 134.88h0.65v0.65h-0.65zM567.11 131.64h0.65v0.65h-0.65zM570.15 131.59h0.65v0.65h-0.65zM569.52 133.87h0.65v0.65h-0.65zM567 136.99h0.65v0.65h-0.65zM569.65 142.75h0.65v0.65h-0.65zM572.09 138.68h0.65v0.65h-0.65zM565.55 136.37h0.65v0.65h-0.65zM567.61 141.61h0.65v0.65h-0.65zM567.18 132.53h0.65v0.65h-0.65zM563.43 133.65h0.65v0.65h-0.65zM567.94 132.14h0.65v0.65h-0.65zM564.14 133.81h0.65v0.65h-0.65zM563.83 131.35h0.65v0.65h-0.65zM567.15 132.45h0.65v0.65h-0.65zM567.65 134.37h0.65v0.65h-0.65zM566.66 131.21h0.65v0.65h-0.65zM563.36 134.76h0.65v0.65h-0.65zM571.83 131.95h0.65v0.65h-0.65zM566.33 132.22h0.65v0.65h-0.65zM569.81 133.92h0.65v0.65h-0.65zM570.28 141.03h0.6v0.6h-0.6zM564.38 142.24h0.6v0.6h-0.6zM566.48 143.4h0.6v0.6h-0.6zM566.63 146.79h0.6v0.6h-0.6zM567.11 144.45h0.6v0.6h-0.6zM571.77 144.85h0.6v0.6h-0.6zM568.49 145.97h0.6v0.6h-0.6zM566.18 141.22h0.6v0.6h-0.6zM571.72 144.21h0.6v0.6h-0.6zM581.7 100.6h8.85v30.4h-8.85zM581.7 130.95h0.5v2.29h-0.5zM582.2 130.95h0.5v1.09h-0.5zM582.7 130.95h0.5v0.83h-0.5zM583.2 130.95h0.5v2.79h-0.5zM583.7 130.95h0.5v0.16h-0.5zM584.2 130.95h0.5v2.54h-0.5zM584.7 130.95h0.5v2.57h-0.5zM585.2 130.95h0.5v0.21h-0.5zM585.7 130.95h0.5v2.85h-0.5zM586.2 130.95h0.5v1.94h-0.5zM586.7 130.95h0.5v1.17h-0.5zM587.2 130.95h0.5v1.28h-0.5zM587.7 130.95h0.5v1.83h-0.5zM588.2 130.95h0.5v1.58h-0.5zM588.7 130.95h0.5v2.6h-0.5zM589.2 130.95h0.5v2.69h-0.5zM589.7 130.95h0.5v0.98h-0.5zM581.77 138.28h0.65v0.65h-0.65zM586.82 136.15h0.65v0.65h-0.65zM582.29 131.07h0.65v0.65h-0.65zM588.8 132.59h0.65v0.65h-0.65zM585.43 142.37h0.65v0.65h-0.65zM583.24 135.84h0.65v0.65h-0.65zM582.19 134.78h0.65v0.65h-0.65zM587.54 131.3h0.65v0.65h-0.65zM587.7 142.26h0.65v0.65h-0.65zM588.23 138.5h0.65v0.65h-0.65zM589.18 137.16h0.65v0.65h-0.65zM586.03 139.16h0.65v0.65h-0.65zM588.07 135.75h0.65v0.65h-0.65zM586.98 131.38h0.65v0.65h-0.65zM584.37 132.27h0.65v0.65h-0.65zM588.48 138.33h0.65v0.65h-0.65zM584 142.85h0.65v0.65h-0.65zM582.17 131.05h0.65v0.65h-0.65zM584.29 131.07h0.65v0.65h-0.65zM589.2 132.54h0.65v0.65h-0.65zM584.77 139.77h0.65v0.65h-0.65zM585.91 135.77h0.65v0.65h-0.65zM585.18 133.54h0.65v0.65h-0.65zM589.26 131.92h0.65v0.65h-0.65zM585.85 133.75h0.65v0.65h-0.65zM582.81 131.26h0.65v0.65h-0.65zM585.7 138.65h0.65v0.65h-0.65zM585.11 131.04h0.65v0.65h-0.65zM589.09 131.23h0.65v0.65h-0.65zM588.69 131.02h0.65v0.65h-0.65zM586.83 131.26h0.65v0.65h-0.65zM583.76 133.13h0.65v0.65h-0.65zM587.67 133.27h0.65v0.65h-0.65zM585 132.94h0.65v0.65h-0.65zM585.81 131.95h0.65v0.65h-0.65zM589.23 131.43h0.65v0.65h-0.65zM582.75 134.61h0.65v0.65h-0.65zM584.48 137.24h0.65v0.65h-0.65zM582.01 136.49h0.65v0.65h-0.65zM584.58 141.32h0.65v0.65h-0.65zM584.07 133.25h0.65v0.65h-0.65zM584.21 134.41h0.65v0.65h-0.65zM583.92 136.38h0.65v0.65h-0.65zM584.95 137.02h0.65v0.65h-0.65zM584 133.5h0.65v0.65h-0.65zM586.1 137.2h0.65v0.65h-0.65zM586.85 133.21h0.65v0.65h-0.65zM582.38 131.15h0.65v0.65h-0.65zM582.86 131.41h0.65v0.65h-0.65zM583.15 136.26h0.65v0.65h-0.65zM584.39 140.89h0.65v0.65h-0.65zM583.55 131.72h0.65v0.65h-0.65zM583.15 131.25h0.65v0.65h-0.65zM587.09 135.01h0.65v0.65h-0.65zM583.69 138.88h0.65v0.65h-0.65zM587.04 133.21h0.65v0.65h-0.65zM586.5 136.17h0.65v0.65h-0.65zM585.18 131.1h0.65v0.65h-0.65zM584.58 141.74h0.65v0.65h-0.65zM584.65 135.9h0.65v0.65h-0.65zM582.4 138.19h0.65v0.65h-0.65zM588.53 132.67h0.65v0.65h-0.65zM584.64 134.16h0.65v0.65h-0.65zM583.69 131.53h0.65v0.65h-0.65zM582.72 136.66h0.65v0.65h-0.65zM585.72 141.97h0.65v0.65h-0.65zM589.3 140.17h0.65v0.65h-0.65zM589.16 139.43h0.65v0.65h-0.65zM581.89 131.2h0.65v0.65h-0.65zM589.41 140.16h0.65v0.65h-0.65zM586.56 135.61h0.65v0.65h-0.65zM585.15 133.17h0.65v0.65h-0.65zM582.85 134.6h0.65v0.65h-0.65zM583.87 131.18h0.65v0.65h-0.65zM588.58 134.96h0.65v0.65h-0.65zM588.62 132.04h0.65v0.65h-0.65zM586.26 131.92h0.65v0.65h-0.65zM588.26 131.52h0.65v0.65h-0.65zM586.82 134.7h0.65v0.65h-0.65zM584.27 131.08h0.65v0.65h-0.65zM585.54 134.28h0.65v0.65h-0.65zM588.16 131.5h0.65v0.65h-0.65zM583.16 132.12h0.65v0.65h-0.65zM588.04 131.65h0.65v0.65h-0.65zM586.71 131.01h0.65v0.65h-0.65zM582.35 137.02h0.65v0.65h-0.65zM585.63 131.15h0.65v0.65h-0.65zM585.44 141.61h0.65v0.65h-0.65zM584.79 134.72h0.65v0.65h-0.65zM585.02 134.06h0.65v0.65h-0.65zM582.04 140.35h0.65v0.65h-0.65zM586.28 132.45h0.65v0.65h-0.65zM583.95 131.42h0.65v0.65h-0.65zM589.08 139.49h0.65v0.65h-0.65zM584.69 135.37h0.65v0.65h-0.65zM586.06 131.48h0.65v0.65h-0.65zM581.96 137.49h0.65v0.65h-0.65zM582.99 134.83h0.65v0.65h-0.65zM581.84 131.01h0.65v0.65h-0.65zM583 136.13h0.65v0.65h-0.65zM586.54 142.79h0.65v0.65h-0.65zM586.91 134.27h0.65v0.65h-0.65zM581.8 146.75h0.6v0.6h-0.6zM585.56 146.15h0.6v0.6h-0.6zM582.03 146.01h0.6v0.6h-0.6zM585.46 142.3h0.6v0.6h-0.6zM584.91 141.45h0.6v0.6h-0.6zM586.29 142.31h0.6v0.6h-0.6zM587.24 142.04h0.6v0.6h-0.6zM587.15 144.71h0.6v0.6h-0.6zM598.2 100.6h7.35v30.4h-7.35zM598.2 130.95h0.5v1.37h-0.5zM598.7 130.95h0.5v1.61h-0.5zM599.2 130.95h0.5v1.76h-0.5zM599.7 130.95h0.5v2.67h-0.5zM600.2 130.95h0.5v0.85h-0.5zM600.7 130.95h0.5v0.82h-0.5zM601.2 130.95h0.5v0.55h-0.5zM601.7 130.95h0.5v0.34h-0.5zM602.2 130.95h0.5v2.55h-0.5zM602.7 130.95h0.5v2.76h-0.5zM603.2 130.95h0.5v0.38h-0.5zM603.7 130.95h0.5v1.08h-0.5zM604.2 130.95h0.5v2.71h-0.5zM604.7 130.95h0.5v2.59h-0.5zM604.46 142.82h0.65v0.65h-0.65zM600.14 131.05h0.65v0.65h-0.65zM599.8 134.03h0.65v0.65h-0.65zM598.3 131.77h0.65v0.65h-0.65zM601.23 136.58h0.65v0.65h-0.65zM599.19 131.18h0.65v0.65h-0.65zM600.31 131.1h0.65v0.65h-0.65zM598.98 131.13h0.65v0.65h-0.65zM603.32 140.28h0.65v0.65h-0.65zM598.47 138.77h0.65v0.65h-0.65zM603.6 136.08h0.65v0.65h-0.65zM600.12 139.07h0.65v0.65h-0.65zM598.72 131.03h0.65v0.65h-0.65zM604.31 131.59h0.65v0.65h-0.65zM604.06 137.82h0.65v0.65h-0.65zM598.5 131.11h0.65v0.65h-0.65zM602.34 131.26h0.65v0.65h-0.65zM602.46 136.43h0.65v0.65h-0.65zM599.68 133.73h0.65v0.65h-0.65zM599.56 140.11h0.65v0.65h-0.65zM602.24 136.73h0.65v0.65h-0.65zM602.18 131.04h0.65v0.65h-0.65zM603.87 138.29h0.65v0.65h-0.65zM601.5 135.18h0.65v0.65h-0.65zM601.35 137.85h0.65v0.65h-0.65zM601.61 131.93h0.65v0.65h-0.65zM601.5 131.55h0.65v0.65h-0.65zM598.23 134.25h0.65v0.65h-0.65zM603.77 137.21h0.65v0.65h-0.65zM599.54 134.1h0.65v0.65h-0.65zM601.93 135.03h0.65v0.65h-0.65zM601.14 134.11h0.65v0.65h-0.65zM602.61 140.32h0.65v0.65h-0.65zM601.5 138.38h0.65v0.65h-0.65zM602.55 131.17h0.65v0.65h-0.65zM599.86 132.18h0.65v0.65h-0.65zM600.47 133.89h0.65v0.65h-0.65zM600.08 142.95h0.65v0.65h-0.65zM602.9 132.65h0.65v0.65h-0.65zM602.68 141.26h0.65v0.65h-0.65zM599.22 135.75h0.65v0.65h-0.65zM604.34 132.69h0.65v0.65h-0.65zM603.82 138.75h0.65v0.65h-0.65zM600.25 131.25h0.65v0.65h-0.65zM603.36 133.07h0.65v0.65h-0.65zM600.44 133.58h0.65v0.65h-0.65zM602.86 140.59h0.65v0.65h-0.65zM604.07 138.05h0.65v0.65h-0.65zM599.33 132.64h0.65v0.65h-0.65zM598.24 131.48h0.65v0.65h-0.65zM600.38 131.38h0.65v0.65h-0.65zM601.25 131.21h0.65v0.65h-0.65zM602.38 133.03h0.65v0.65h-0.65zM599.78 136.65h0.65v0.65h-0.65zM600.3 131.01h0.65v0.65h-0.65zM603.57 137.82h0.65v0.65h-0.65zM603.82 132.04h0.65v0.65h-0.65zM599.89 136.82h0.65v0.65h-0.65zM599.14 142.21h0.65v0.65h-0.65zM602.38 134.61h0.65v0.65h-0.65zM598.53 131.96h0.65v0.65h-0.65zM600.91 142.54h0.65v0.65h-0.65zM599.13 135.2h0.65v0.65h-0.65zM598.7 142.32h0.65v0.65h-0.65zM602.98 138.92h0.65v0.65h-0.65zM603 131.39h0.65v0.65h-0.65zM599.74 131.02h0.65v0.65h-0.65zM601.73 131.08h0.65v0.65h-0.65zM599.41 131.36h0.65v0.65h-0.65zM604.09 138.48h0.65v0.65h-0.65zM600.03 142.31h0.65v0.65h-0.65zM599.22 131.24h0.65v0.65h-0.65zM600.64 138.79h0.65v0.65h-0.65zM598.83 138.47h0.65v0.65h-0.65zM601.68 138.65h0.65v0.65h-0.65zM600.35 131.02h0.65v0.65h-0.65zM598.83 137.28h0.65v0.65h-0.65zM601.44 138h0.65v0.65h-0.65zM599.47 131.94h0.65v0.65h-0.65zM599.55 139.69h0.65v0.65h-0.65zM602.7 131.29h0.65v0.65h-0.65zM602.84 131.02h0.65v0.65h-0.65zM601.19 131.79h0.65v0.65h-0.65zM603.09 137.2h0.65v0.65h-0.65zM602.58 142.18h0.6v0.6h-0.6zM598.47 144.84h0.6v0.6h-0.6zM602.65 141.06h0.6v0.6h-0.6zM603.57 146.38h0.6v0.6h-0.6zM600.51 144.11h0.6v0.6h-0.6zM602.37 146.55h0.6v0.6h-0.6zM602.36 144.09h0.6v0.6h-0.6zM610.8 100.6h6.95v30.4h-6.95zM610.8 130.95h0.5v1.43h-0.5zM611.3 130.95h0.5v2.99h-0.5zM611.8 130.95h0.5v0.42h-0.5zM612.3 130.95h0.5v0.8h-0.5zM612.8 130.95h0.5v2.37h-0.5zM613.3 130.95h0.5v1.01h-0.5zM613.8 130.95h0.5v2.79h-0.5zM614.3 130.95h0.5v0.06h-0.5zM614.8 130.95h0.5v0.71h-0.5zM615.3 130.95h0.5v0.93h-0.5zM615.8 130.95h0.5v2.54h-0.5zM616.3 130.95h0.5v0.31h-0.5zM616.8 130.95h0.5v2.02h-0.5zM617.3 130.95h0.1v2.66h-0.1zM616.65 138.8h0.65v0.65h-0.65zM611.1 133.8h0.65v0.65h-0.65zM612.11 131.18h0.65v0.65h-0.65zM612.26 137.48h0.65v0.65h-0.65zM614.25 131.2h0.65v0.65h-0.65zM612.51 131.05h0.65v0.65h-0.65zM616.36 137.82h0.65v0.65h-0.65zM613.63 142.09h0.65v0.65h-0.65zM616.67 131.51h0.65v0.65h-0.65zM612.33 131.44h0.65v0.65h-0.65zM614.57 135.25h0.65v0.65h-0.65zM613.91 138.19h0.65v0.65h-0.65zM613.98 132.19h0.65v0.65h-0.65zM614.81 141.81h0.65v0.65h-0.65zM611.1 133.84h0.65v0.65h-0.65zM611.64 137.7h0.65v0.65h-0.65zM613.39 139.44h0.65v0.65h-0.65zM614.82 142.04h0.65v0.65h-0.65zM614.28 135.26h0.65v0.65h-0.65zM616.65 138.74h0.65v0.65h-0.65zM612.83 131.13h0.65v0.65h-0.65zM616.33 131.05h0.65v0.65h-0.65zM616.34 141.45h0.65v0.65h-0.65zM614.77 141.8h0.65v0.65h-0.65zM614.44 137.68h0.65v0.65h-0.65zM614.38 131.59h0.65v0.65h-0.65zM611.27 137.63h0.65v0.65h-0.65zM613.51 131.19h0.65v0.65h-0.65zM614.15 131.84h0.65v0.65h-0.65zM612.37 140.21h0.65v0.65h-0.65zM614.51 137.72h0.65v0.65h-0.65zM615.7 133.29h0.65v0.65h-0.65zM613.51 133.24h0.65v0.65h-0.65zM612.94 138.27h0.65v0.65h-0.65zM616.11 132.07h0.65v0.65h-0.65zM615.07 131.56h0.65v0.65h-0.65zM610.85 136.63h0.65v0.65h-0.65zM615.46 132.31h0.65v0.65h-0.65zM616.77 137.2h0.65v0.65h-0.65zM612.73 137.93h0.65v0.65h-0.65zM615.86 131.24h0.65v0.65h-0.65zM616.27 133.26h0.65v0.65h-0.65zM612.45 132.71h0.65v0.65h-0.65zM613.97 134.34h0.65v0.65h-0.65zM612.57 131.04h0.65v0.65h-0.65zM614.59 137.18h0.65v0.65h-0.65zM614.97 132.89h0.65v0.65h-0.65zM615.95 131h0.65v0.65h-0.65zM611.58 131h0.65v0.65h-0.65zM614.13 134.28h0.65v0.65h-0.65zM612.17 134.31h0.65v0.65h-0.65zM610.82 131.02h0.65v0.65h-0.65zM616.57 140.41h0.65v0.65h-0.65zM611.22 136.16h0.65v0.65h-0.65zM613.85 134.48h0.65v0.65h-0.65zM615.84 135.93h0.65v0.65h-0.65zM616.45 136.58h0.65v0.65h-0.65zM616.29 131.16h0.65v0.65h-0.65zM615.73 132.23h0.65v0.65h-0.65zM616.32 138.52h0.65v0.65h-0.65zM616.6 137.85h0.65v0.65h-0.65zM613.15 134.29h0.65v0.65h-0.65zM615.5 131.04h0.65v0.65h-0.65zM614.04 134.87h0.65v0.65h-0.65zM615.11 132.4h0.65v0.65h-0.65zM614.44 137.5h0.65v0.65h-0.65zM613.09 136.58h0.65v0.65h-0.65zM616.22 132.64h0.65v0.65h-0.65zM613.96 133.81h0.65v0.65h-0.65zM615.83 131.87h0.65v0.65h-0.65zM612.52 132.85h0.65v0.65h-0.65zM614.71 131.29h0.65v0.65h-0.65zM616.67 134.04h0.65v0.65h-0.65zM615.18 133.04h0.65v0.65h-0.65zM610.96 132.78h0.65v0.65h-0.65zM614.23 131.1h0.65v0.65h-0.65zM616.68 135.14h0.65v0.65h-0.65zM613.55 131.01h0.65v0.65h-0.65zM612.28 132.37h0.65v0.65h-0.65zM614.7 142.04h0.6v0.6h-0.6zM613.71 142.62h0.6v0.6h-0.6zM614.19 145.13h0.6v0.6h-0.6zM613.91 145.5h0.6v0.6h-0.6zM614.54 141.5h0.6v0.6h-0.6zM614.74 143.9h0.6v0.6h-0.6zM624.5 100.6h6.55v30.4h-6.55zM624.5 130.95h0.5v0.56h-0.5zM625 130.95h0.5v1.43h-0.5zM625.5 130.95h0.5v0.85h-0.5zM626 130.95h0.5v1.73h-0.5zM626.5 130.95h0.5v2.32h-0.5zM627 130.95h0.5v0.35h-0.5zM627.5 130.95h0.5v1.46h-0.5zM628 130.95h0.5v0.56h-0.5zM628.5 130.95h0.5v1.94h-0.5zM629 130.95h0.5v2.03h-0.5zM629.5 130.95h0.5v0.66h-0.5zM630 130.95h0.5v0.69h-0.5zM630.5 130.95h0.2v0.91h-0.2zM626.34 140.56h0.65v0.65h-0.65zM629.39 138.52h0.65v0.65h-0.65zM626.71 133.51h0.65v0.65h-0.65zM625.63 133.54h0.65v0.65h-0.65zM629.82 131.1h0.65v0.65h-0.65zM626.71 131.46h0.65v0.65h-0.65zM629.23 132.09h0.65v0.65h-0.65zM627.23 131.03h0.65v0.65h-0.65zM628.37 134.17h0.65v0.65h-0.65zM628.99 137.25h0.65v0.65h-0.65zM628.67 131.83h0.65v0.65h-0.65zM625.91 135.29h0.65v0.65h-0.65zM624.78 141.53h0.65v0.65h-0.65zM628.54 133.92h0.65v0.65h-0.65zM626.52 131.07h0.65v0.65h-0.65zM627.6 138.17h0.65v0.65h-0.65zM625.16 131.12h0.65v0.65h-0.65zM628.34 133.65h0.65v0.65h-0.65zM628.93 133.03h0.65v0.65h-0.65zM630 140.14h0.65v0.65h-0.65zM626.3 134.45h0.65v0.65h-0.65zM627.79 133.43h0.65v0.65h-0.65zM629.08 136.97h0.65v0.65h-0.65zM629.08 131.77h0.65v0.65h-0.65zM627.33 134.54h0.65v0.65h-0.65zM627.77 131h0.65v0.65h-0.65zM629.05 133.41h0.65v0.65h-0.65zM625.39 139.77h0.65v0.65h-0.65zM627.62 137.58h0.65v0.65h-0.65zM628.64 135.65h0.65v0.65h-0.65zM629.62 131.04h0.65v0.65h-0.65zM626.37 131.32h0.65v0.65h-0.65zM628.06 131.58h0.65v0.65h-0.65zM624.66 131.22h0.65v0.65h-0.65zM625.48 134.5h0.65v0.65h-0.65zM627.05 133.59h0.65v0.65h-0.65zM624.57 134.35h0.65v0.65h-0.65zM625.92 131.1h0.65v0.65h-0.65zM624.82 131.27h0.65v0.65h-0.65zM626.74 131.33h0.65v0.65h-0.65zM627.1 131.32h0.65v0.65h-0.65zM628.62 140.21h0.65v0.65h-0.65zM626.31 131.06h0.65v0.65h-0.65zM629.91 131.08h0.65v0.65h-0.65zM628.14 137.87h0.65v0.65h-0.65zM627.2 140.53h0.65v0.65h-0.65zM625.32 137.23h0.65v0.65h-0.65zM629.58 140.66h0.65v0.65h-0.65zM629.25 133.29h0.65v0.65h-0.65zM627.37 139.64h0.65v0.65h-0.65zM626.63 131.78h0.65v0.65h-0.65zM624.68 131.5h0.65v0.65h-0.65zM625.29 141.36h0.65v0.65h-0.65zM626.23 132.49h0.65v0.65h-0.65zM629.96 136.73h0.65v0.65h-0.65zM626.93 131.13h0.65v0.65h-0.65zM626.55 132.02h0.65v0.65h-0.65zM629.81 133.12h0.65v0.65h-0.65zM629.95 131.88h0.65v0.65h-0.65zM624.77 140.7h0.65v0.65h-0.65zM624.92 138.45h0.65v0.65h-0.65zM627.83 131.97h0.65v0.65h-0.65zM629.17 133.21h0.65v0.65h-0.65zM630.01 134.74h0.65v0.65h-0.65zM629.79 141.39h0.65v0.65h-0.65zM626.61 136.74h0.65v0.65h-0.65zM628.58 136.15h0.65v0.65h-0.65zM624.63 136.68h0.65v0.65h-0.65zM628.77 131.45h0.65v0.65h-0.65zM625.03 131.05h0.65v0.65h-0.65zM627.55 131.14h0.65v0.65h-0.65zM629.25 133.07h0.65v0.65h-0.65zM630.07 137.47h0.65v0.65h-0.65zM626.9 131.4h0.65v0.65h-0.65zM626.89 144.64h0.6v0.6h-0.6zM629.32 146.35h0.6v0.6h-0.6zM626.32 141.14h0.6v0.6h-0.6zM628.22 145.12h0.6v0.6h-0.6zM628.13 145.82h0.6v0.6h-0.6zM629.05 144.75h0.6v0.6h-0.6zM635.3 100.6h4.95v30.4h-4.95zM635.3 130.95h0.5v0.83h-0.5zM635.8 130.95h0.5v0.98h-0.5zM636.3 130.95h0.5v1.57h-0.5zM636.8 130.95h0.5v2.54h-0.5zM637.3 130.95h0.5v0.3h-0.5zM637.8 130.95h0.5v2.67h-0.5zM638.3 130.95h0.5v2.01h-0.5zM638.8 130.95h0.5v1.78h-0.5zM639.3 130.95h0.5v1.22h-0.5zM639.8 130.95h0.1v1.14h-0.1zM636.92 137.15h0.65v0.65h-0.65zM637.07 137.11h0.65v0.65h-0.65zM638.8 131.09h0.65v0.65h-0.65zM635.38 141.63h0.65v0.65h-0.65zM636.07 138.95h0.65v0.65h-0.65zM636.92 131.61h0.65v0.65h-0.65zM635.35 133.2h0.65v0.65h-0.65zM637.7 131.04h0.65v0.65h-0.65zM635.35 131.99h0.65v0.65h-0.65zM638.82 137.75h0.65v0.65h-0.65zM636.33 132.95h0.65v0.65h-0.65zM636.97 137.03h0.65v0.65h-0.65zM636.44 132.51h0.65v0.65h-0.65zM637.31 131.67h0.65v0.65h-0.65zM637.02 137.71h0.65v0.65h-0.65zM637.32 131.04h0.65v0.65h-0.65zM636.7 134.9h0.65v0.65h-0.65zM636.23 132.8h0.65v0.65h-0.65zM637.54 132.59h0.65v0.65h-0.65zM636.03 140.19h0.65v0.65h-0.65zM635.56 140.86h0.65v0.65h-0.65zM635.68 134.68h0.65v0.65h-0.65zM637.48 133.01h0.65v0.65h-0.65zM637.8 140.36h0.65v0.65h-0.65zM636.58 131.04h0.65v0.65h-0.65zM636.1 140.26h0.65v0.65h-0.65zM637.7 137.82h0.65v0.65h-0.65zM636.86 132.26h0.65v0.65h-0.65zM638.06 134.87h0.65v0.65h-0.65zM638.95 131.31h0.65v0.65h-0.65zM636.67 136.73h0.65v0.65h-0.65zM638.93 133.61h0.65v0.65h-0.65zM638.45 131.14h0.65v0.65h-0.65zM637.86 132.3h0.65v0.65h-0.65zM638.07 132.06h0.65v0.65h-0.65zM636.05 131.87h0.65v0.65h-0.65zM638.19 137.09h0.65v0.65h-0.65zM638.95 133.05h0.65v0.65h-0.65zM635.56 138.85h0.65v0.65h-0.65zM636.33 137.19h0.65v0.65h-0.65zM637.26 133.37h0.65v0.65h-0.65zM635.42 131.62h0.65v0.65h-0.65zM638.29 133.54h0.65v0.65h-0.65zM638.83 138.81h0.65v0.65h-0.65zM637.44 142.6h0.65v0.65h-0.65zM635.31 132.93h0.65v0.65h-0.65zM637.43 131.03h0.65v0.65h-0.65zM638.78 131.27h0.65v0.65h-0.65zM637.62 131.88h0.65v0.65h-0.65zM636.83 133.6h0.65v0.65h-0.65zM636.46 131.35h0.65v0.65h-0.65zM637.97 135.71h0.65v0.65h-0.65zM635.62 142.36h0.65v0.65h-0.65zM635.73 131.6h0.65v0.65h-0.65zM636.43 132.59h0.65v0.65h-0.65zM637.26 146.42h0.6v0.6h-0.6zM635.7 144.45h0.6v0.6h-0.6zM637.8 142.55h0.6v0.6h-0.6zM636.72 143.67h0.6v0.6h-0.6zM643.95 100.6h4.4v30.4h-4.4zM643.95 130.95h0.5v2.15h-0.5zM644.45 130.95h0.5v1.64h-0.5zM644.95 130.95h0.5v2.8h-0.5zM645.45 130.95h0.5v2.45h-0.5zM645.95 130.95h0.5v1.97h-0.5zM646.45 130.95h0.5v2.48h-0.5zM646.95 130.95h0.5v1.52h-0.5zM647.45 130.95h0.5v0.87h-0.5zM647.95 130.95h0.05v0.18h-0.05zM646.38 136.32h0.65v0.65h-0.65zM646.13 134.14h0.65v0.65h-0.65zM645.52 141.14h0.65v0.65h-0.65zM645.25 131.23h0.65v0.65h-0.65zM647.23 137.96h0.65v0.65h-0.65zM647.04 142.66h0.65v0.65h-0.65zM645.46 131.29h0.65v0.65h-0.65zM645.65 133.88h0.65v0.65h-0.65zM645.29 138.42h0.65v0.65h-0.65zM644.81 142.3h0.65v0.65h-0.65zM644.68 131.97h0.65v0.65h-0.65zM646.81 131.66h0.65v0.65h-0.65zM646.45 131.9h0.65v0.65h-0.65zM645.36 133.65h0.65v0.65h-0.65zM644.8 139.13h0.65v0.65h-0.65zM647.2 141.26h0.65v0.65h-0.65zM644.5 131.01h0.65v0.65h-0.65zM645.47 137.58h0.65v0.65h-0.65zM645.84 142.08h0.65v0.65h-0.65zM647.36 136.59h0.65v0.65h-0.65zM644.85 132.94h0.65v0.65h-0.65zM644.17 132.86h0.65v0.65h-0.65zM646.54 132.2h0.65v0.65h-0.65zM644.59 134.48h0.65v0.65h-0.65zM647.04 136h0.65v0.65h-0.65zM644.33 133.24h0.65v0.65h-0.65zM644.74 138.91h0.65v0.65h-0.65zM645.39 133.36h0.65v0.65h-0.65zM646.98 132.06h0.65v0.65h-0.65zM645.5 142.53h0.65v0.65h-0.65zM645.01 134.49h0.65v0.65h-0.65zM646.19 132.35h0.65v0.65h-0.65zM646.12 133.13h0.65v0.65h-0.65zM646.82 134.72h0.65v0.65h-0.65zM646.46 134.94h0.65v0.65h-0.65zM646.36 132.83h0.65v0.65h-0.65zM644.46 132.59h0.65v0.65h-0.65zM645.07 131h0.65v0.65h-0.65zM646.6 134.3h0.65v0.65h-0.65zM645.61 136.96h0.65v0.65h-0.65zM644.18 131.19h0.65v0.65h-0.65zM646.42 131.02h0.65v0.65h-0.65zM646.95 134.1h0.65v0.65h-0.65zM647.29 139.86h0.65v0.65h-0.65zM645.36 132.42h0.65v0.65h-0.65zM645.45 138.1h0.65v0.65h-0.65zM645.54 137.22h0.65v0.65h-0.65zM647.37 137.73h0.65v0.65h-0.65zM645.72 145.45h0.6v0.6h-0.6zM645.65 144.49h0.6v0.6h-0.6zM645.4 146.61h0.6v0.6h-0.6zM647.36 144.41h0.6v0.6h-0.6zM651.6 100.6h4.45v30.4h-4.45zM651.6 130.95h0.5v2.17h-0.5zM652.1 130.95h0.5v2.75h-0.5zM652.6 130.95h0.5v1.06h-0.5zM653.1 130.95h0.5v1.76h-0.5zM653.6 130.95h0.5v0.66h-0.5zM654.1 130.95h0.5v1.4h-0.5zM654.6 130.95h0.5v1.74h-0.5zM655.1 130.95h0.5v0.92h-0.5zM655.6 130.95h0.1v1.81h-0.1zM653.5 131.02h0.65v0.65h-0.65zM652.02 133.06h0.65v0.65h-0.65zM652.12 134.58h0.65v0.65h-0.65zM653.68 135.69h0.65v0.65h-0.65zM654.7 135.44h0.65v0.65h-0.65zM654.3 131.16h0.65v0.65h-0.65zM654.66 141.37h0.65v0.65h-0.65zM653.67 139.22h0.65v0.65h-0.65zM653.53 133.27h0.65v0.65h-0.65zM652.16 133.77h0.65v0.65h-0.65zM654.1 138.57h0.65v0.65h-0.65zM654.73 134.22h0.65v0.65h-0.65zM654.91 132.66h0.65v0.65h-0.65zM651.67 133.18h0.65v0.65h-0.65zM653.49 138.17h0.65v0.65h-0.65zM652.42 131.01h0.65v0.65h-0.65zM654.13 131.44h0.65v0.65h-0.65zM654.58 134.84h0.65v0.65h-0.65zM652.08 134.26h0.65v0.65h-0.65zM654.3 131.6h0.65v0.65h-0.65zM654.95 131.04h0.65v0.65h-0.65zM652.12 135.24h0.65v0.65h-0.65zM653.97 135.35h0.65v0.65h-0.65zM654.83 131.49h0.65v0.65h-0.65zM651.76 134.47h0.65v0.65h-0.65zM652.83 132.88h0.65v0.65h-0.65zM652.98 140.34h0.65v0.65h-0.65zM652.6 136.75h0.65v0.65h-0.65zM653.59 131.97h0.65v0.65h-0.65zM654.79 131.78h0.65v0.65h-0.65zM652.65 131.45h0.65v0.65h-0.65zM654.05 136.77h0.65v0.65h-0.65zM652.88 131.17h0.65v0.65h-0.65zM653.68 132.37h0.65v0.65h-0.65zM653.53 136.16h0.65v0.65h-0.65zM651.6 131.03h0.65v0.65h-0.65zM654.47 140.04h0.65v0.65h-0.65zM651.91 131.6h0.65v0.65h-0.65zM653.09 139.32h0.65v0.65h-0.65zM652.68 141.98h0.65v0.65h-0.65zM651.92 140.84h0.65v0.65h-0.65zM651.8 135.35h0.65v0.65h-0.65zM655 137.25h0.65v0.65h-0.65zM654.8 132.48h0.65v0.65h-0.65zM654.94 140.8h0.65v0.65h-0.65zM652.56 138.14h0.65v0.65h-0.65zM654.81 131.55h0.65v0.65h-0.65zM652.97 138.12h0.65v0.65h-0.65zM653.61 141.11h0.65v0.65h-0.65zM653.12 143.69h0.6v0.6h-0.6zM652.19 142.65h0.6v0.6h-0.6zM654.66 142.57h0.6v0.6h-0.6zM654.74 145.82h0.6v0.6h-0.6zM658.8 100.6h3.35v30.4h-3.35zM658.8 130.95h0.5v0.3h-0.5zM659.3 130.95h0.5v0.8h-0.5zM659.8 130.95h0.5v2.67h-0.5zM660.3 130.95h0.5v1.76h-0.5zM660.8 130.95h0.5v1.2h-0.5zM661.3 130.95h0.5v0.22h-0.5zM658.93 131.57h0.65v0.65h-0.65zM660.28 131.04h0.65v0.65h-0.65zM660.01 139.03h0.65v0.65h-0.65zM658.81 131.99h0.65v0.65h-0.65zM659.79 135.46h0.65v0.65h-0.65zM660.57 136.53h0.65v0.65h-0.65zM659.84 132.37h0.65v0.65h-0.65zM660.3 133.54h0.65v0.65h-0.65zM661.03 134.36h0.65v0.65h-0.65zM660.21 136.32h0.65v0.65h-0.65zM659.96 133.91h0.65v0.65h-0.65zM660.39 135.32h0.65v0.65h-0.65zM661.2 132.12h0.65v0.65h-0.65zM659.99 142.4h0.65v0.65h-0.65zM660.75 134.68h0.65v0.65h-0.65zM659.53 131.38h0.65v0.65h-0.65zM659.8 133.18h0.65v0.65h-0.65zM659.84 131.79h0.65v0.65h-0.65zM659.95 134.95h0.65v0.65h-0.65zM659.04 136.21h0.65v0.65h-0.65zM660.5 131.46h0.65v0.65h-0.65zM659.4 131.02h0.65v0.65h-0.65zM659.93 136.47h0.65v0.65h-0.65zM659.79 135.16h0.65v0.65h-0.65zM660.25 131.02h0.65v0.65h-0.65zM658.93 134.09h0.65v0.65h-0.65zM661.02 136.98h0.65v0.65h-0.65zM659.87 131.81h0.65v0.65h-0.65zM659.12 136.01h0.65v0.65h-0.65zM660.64 132.85h0.65v0.65h-0.65zM659 131.92h0.65v0.65h-0.65zM660.5 138.13h0.65v0.65h-0.65zM659.76 140.45h0.65v0.65h-0.65zM659.74 131.01h0.65v0.65h-0.65zM659.29 140.51h0.65v0.65h-0.65zM660.49 131.09h0.65v0.65h-0.65zM659.49 143.37h0.6v0.6h-0.6zM659.96 141.15h0.6v0.6h-0.6zM661.01 144.19h0.6v0.6h-0.6zM663.9 100.6h2.15v30.4h-2.15zM663.9 130.95h0.5v2.31h-0.5zM664.4 130.95h0.5v2.48h-0.5zM664.9 130.95h0.5v2.07h-0.5zM665.4 130.95h0.3v2.42h-0.3zM665.06 131.02h0.65v0.65h-0.65zM665.03 133.45h0.65v0.65h-0.65zM664.83 137.52h0.65v0.65h-0.65zM664.02 135.13h0.65v0.65h-0.65zM664.01 137.43h0.65v0.65h-0.65zM664.31 132.7h0.65v0.65h-0.65zM664.23 138.87h0.65v0.65h-0.65zM664.67 132.07h0.65v0.65h-0.65zM664.79 131.41h0.65v0.65h-0.65zM664.86 135.38h0.65v0.65h-0.65zM664.82 135.56h0.65v0.65h-0.65zM665.08 136.8h0.65v0.65h-0.65zM664.46 135.18h0.65v0.65h-0.65zM664.58 131.98h0.65v0.65h-0.65zM664.27 138.66h0.65v0.65h-0.65zM664.88 142.18h0.65v0.65h-0.65zM664.72 134.06h0.65v0.65h-0.65zM664.37 136.97h0.65v0.65h-0.65zM664.68 141.68h0.65v0.65h-0.65zM664.8 132.77h0.65v0.65h-0.65zM664.23 131.02h0.65v0.65h-0.65zM664.84 143.57h0.6v0.6h-0.6z"/>
<path fill="#9b9b9b" d="M532.2 83h10.35v10.3h-10.35zM532.2 81.17h0.5v1.88h-0.5zM532.7 80.77h0.5v2.28h-0.5zM533.2 80.5h0.5v2.55h-0.5zM533.7 82.76h0.5v0.29h-0.5zM534.2 81.81h0.5v1.24h-0.5zM534.7 81.3h0.5v1.75h-0.5zM535.2 80.5h0.5v2.55h-0.5zM535.7 82.12h0.5v0.93h-0.5zM536.2 80.66h0.5v2.39h-0.5zM536.7 81.51h0.5v1.54h-0.5zM537.2 81.19h0.5v1.86h-0.5zM537.7 80.51h0.5v2.54h-0.5zM538.2 82.5h0.5v0.55h-0.5zM538.7 81.66h0.5v1.39h-0.5zM539.2 82.15h0.5v0.9h-0.5zM539.7 82.22h0.5v0.83h-0.5zM540.2 81.73h0.5v1.32h-0.5zM540.7 80.9h0.5v2.15h-0.5zM541.2 81.12h0.5v1.93h-0.5zM541.7 82.26h0.5v0.79h-0.5zM539.81 79.5h0.8v0.8h-0.8zM533.56 77.49h0.8v0.8h-0.8zM540 80.43h0.8v0.8h-0.8zM541.13 77.59h0.8v0.8h-0.8zM534.38 80.92h0.8v0.8h-0.8zM540.44 77.42h0.8v0.8h-0.8zM533.13 78.01h0.8v0.8h-0.8zM539.54 78.91h0.8v0.8h-0.8zM540.11 72.55h0.8v0.8h-0.8zM535.31 77.33h0.8v0.8h-0.8zM540.95 80.17h0.8v0.8h-0.8zM538.69 78.61h0.8v0.8h-0.8zM540.26 79.25h0.8v0.8h-0.8zM534.82 80.34h0.8v0.8h-0.8zM537.36 80.63h0.8v0.8h-0.8zM540.37 76.52h0.8v0.8h-0.8zM553.1 83h10.45v10.3h-10.45zM553.1 81.18h0.5v1.87h-0.5zM553.6 81.18h0.5v1.87h-0.5zM554.1 81.49h0.5v1.56h-0.5zM554.6 80.73h0.5v2.32h-0.5zM555.1 82.4h0.5v0.65h-0.5zM555.6 81.66h0.5v1.39h-0.5zM556.1 80.51h0.5v2.54h-0.5zM556.6 80.62h0.5v2.43h-0.5zM557.1 80.53h0.5v2.52h-0.5zM557.6 80.79h0.5v2.26h-0.5zM558.1 81.21h0.5v1.84h-0.5zM558.6 80.75h0.5v2.3h-0.5zM559.1 81.14h0.5v1.91h-0.5zM559.6 82.28h0.5v0.77h-0.5zM560.1 81.85h0.5v1.2h-0.5zM560.6 82.36h0.5v0.69h-0.5zM561.1 80.6h0.5v2.45h-0.5zM561.6 81.68h0.5v1.37h-0.5zM562.1 81.48h0.5v1.57h-0.5zM562.6 81.21h0.5v1.84h-0.5zM563.1 82.34h0.1v0.71h-0.1zM559.88 77.74h0.8v0.8h-0.8zM560.74 76.66h0.8v0.8h-0.8zM556.15 80.61h0.8v0.8h-0.8zM560.41 78.56h0.8v0.8h-0.8zM556.67 80.08h0.8v0.8h-0.8zM554.58 77.35h0.8v0.8h-0.8zM557.52 77.58h0.8v0.8h-0.8zM556.36 80.15h0.8v0.8h-0.8zM558.03 78.18h0.8v0.8h-0.8zM561.57 80.05h0.8v0.8h-0.8zM559.76 79.89h0.8v0.8h-0.8zM561.37 78.07h0.8v0.8h-0.8zM558.43 80.02h0.8v0.8h-0.8zM555.73 76.6h0.8v0.8h-0.8zM560.79 80.19h0.8v0.8h-0.8zM553.91 80.49h0.8v0.8h-0.8zM572.7 83h9.35v10.3h-9.35zM572.7 81.33h0.5v1.72h-0.5zM573.2 81.35h0.5v1.7h-0.5zM573.7 82.32h0.5v0.73h-0.5zM574.2 81.83h0.5v1.22h-0.5zM574.7 80.52h0.5v2.53h-0.5zM575.2 80.86h0.5v2.19h-0.5zM575.7 81.27h0.5v1.78h-0.5zM576.2 81.07h0.5v1.98h-0.5zM576.7 80.62h0.5v2.43h-0.5zM577.2 80.47h0.5v2.58h-0.5zM577.7 81.1h0.5v1.95h-0.5zM578.2 82.57h0.5v0.48h-0.5zM578.7 80.61h0.5v2.44h-0.5zM579.2 82.12h0.5v0.93h-0.5zM579.7 81.9h0.5v1.15h-0.5zM580.2 82.21h0.5v0.84h-0.5zM580.7 81.26h0.5v1.79h-0.5zM581.2 81.12h0.5v1.93h-0.5zM576.61 79.65h0.8v0.8h-0.8zM573.9 78.39h0.8v0.8h-0.8zM577.27 80.18h0.8v0.8h-0.8zM579.79 75.33h0.8v0.8h-0.8zM580.54 72.53h0.8v0.8h-0.8zM573.29 79.94h0.8v0.8h-0.8zM576.52 80.33h0.8v0.8h-0.8zM579.02 76.21h0.8v0.8h-0.8zM573.88 79.51h0.8v0.8h-0.8zM580.92 76.53h0.8v0.8h-0.8zM576.53 80.7h0.8v0.8h-0.8zM576.58 79.46h0.8v0.8h-0.8zM579.38 80.51h0.8v0.8h-0.8zM575.08 72.56h0.8v0.8h-0.8zM590.2 83h8.35v10.3h-8.35zM590.2 80.94h0.5v2.11h-0.5zM590.7 81.48h0.5v1.57h-0.5zM591.2 81.09h0.5v1.96h-0.5zM591.7 81.18h0.5v1.87h-0.5zM592.2 80.48h0.5v2.57h-0.5zM592.7 81.27h0.5v1.78h-0.5zM593.2 81.2h0.5v1.85h-0.5zM593.7 81.36h0.5v1.69h-0.5zM594.2 81.47h0.5v1.58h-0.5zM594.7 80.92h0.5v2.13h-0.5zM595.2 82.3h0.5v0.75h-0.5zM595.7 80.91h0.5v2.14h-0.5zM596.2 80.51h0.5v2.54h-0.5zM596.7 80.79h0.5v2.26h-0.5zM597.2 81.2h0.5v1.85h-0.5zM597.7 81.61h0.5v1.44h-0.5zM590.93 80.73h0.8v0.8h-0.8zM594.24 76.68h0.8v0.8h-0.8zM596.7 80.51h0.8v0.8h-0.8zM595.82 77.63h0.8v0.8h-0.8zM593.8 77.01h0.8v0.8h-0.8zM591.6 80.1h0.8v0.8h-0.8zM594.06 78.33h0.8v0.8h-0.8zM593.57 80.2h0.8v0.8h-0.8zM596.7 79.93h0.8v0.8h-0.8zM593.35 80.41h0.8v0.8h-0.8zM593.82 78.47h0.8v0.8h-0.8zM592.91 78.75h0.8v0.8h-0.8zM605.2 83h5.95v10.3h-5.95zM605.2 80.8h0.5v2.25h-0.5zM605.7 81.14h0.5v1.91h-0.5zM606.2 80.81h0.5v2.24h-0.5zM606.7 82.22h0.5v0.83h-0.5zM607.2 80.41h0.5v2.64h-0.5zM607.7 81.12h0.5v1.93h-0.5zM608.2 81.09h0.5v1.96h-0.5zM608.7 82.04h0.5v1.01h-0.5zM609.2 82.38h0.5v0.67h-0.5zM609.7 80.89h0.5v2.16h-0.5zM610.2 80.85h0.5v2.2h-0.5zM610.7 80.96h0.1v2.09h-0.1zM606.5 79.59h0.8v0.8h-0.8zM609.12 78.87h0.8v0.8h-0.8zM609.84 80.73h0.8v0.8h-0.8zM609.15 80.89h0.8v0.8h-0.8zM608.39 79.39h0.8v0.8h-0.8zM605.58 79.83h0.8v0.8h-0.8zM608.61 76.88h0.8v0.8h-0.8zM605.59 79.49h0.8v0.8h-0.8zM617.4 83h7.45v10.3h-7.45zM617.4 82.1h0.5v0.95h-0.5zM617.9 81.4h0.5v1.65h-0.5zM618.4 81.78h0.5v1.27h-0.5zM618.9 80.95h0.5v2.1h-0.5zM619.4 80.58h0.5v2.47h-0.5zM619.9 82.47h0.5v0.58h-0.5zM620.4 82.71h0.5v0.34h-0.5zM620.9 82.3h0.5v0.75h-0.5zM621.4 81.71h0.5v1.34h-0.5zM621.9 82.22h0.5v0.83h-0.5zM622.4 81.43h0.5v1.62h-0.5zM622.9 81.58h0.5v1.47h-0.5zM623.4 80.85h0.5v2.2h-0.5zM623.9 80.45h0.5v2.6h-0.5zM624.4 80.44h0.1v2.61h-0.1zM620.18 78.86h0.8v0.8h-0.8zM618.27 79.03h0.8v0.8h-0.8zM623.23 76.59h0.8v0.8h-0.8zM618.32 80.56h0.8v0.8h-0.8zM623.35 78.53h0.8v0.8h-0.8zM622.43 80.78h0.8v0.8h-0.8zM621.48 80.87h0.8v0.8h-0.8zM622.26 77.75h0.8v0.8h-0.8zM619.53 80.91h0.8v0.8h-0.8zM622.24 68.1h0.8v0.8h-0.8zM621.5 80.01h0.8v0.8h-0.8zM630.7 83h4.95v10.3h-4.95zM630.7 82.28h0.5v0.77h-0.5zM631.2 81h0.5v2.05h-0.5zM631.7 81.62h0.5v1.43h-0.5zM632.2 81.53h0.5v1.52h-0.5zM632.7 80.69h0.5v2.36h-0.5zM633.2 80.66h0.5v2.39h-0.5zM633.7 80.82h0.5v2.23h-0.5zM634.2 81.4h0.5v1.65h-0.5zM634.7 81.21h0.5v1.84h-0.5zM635.2 80.42h0.1v2.63h-0.1zM634.5 79.05h0.8v0.8h-0.8zM631.02 76.28h0.8v0.8h-0.8zM630.89 80.67h0.8v0.8h-0.8zM633.4 80.48h0.8v0.8h-0.8zM633.79 78.6h0.8v0.8h-0.8zM631.38 76.14h0.8v0.8h-0.8zM634.79 78.78h0.8v0.8h-0.8zM639.9 83h4.4v10.3h-4.4zM639.9 81.18h0.5v1.87h-0.5zM640.4 81.52h0.5v1.53h-0.5zM640.9 81.63h0.5v1.42h-0.5zM641.4 80.52h0.5v2.53h-0.5zM641.9 80.91h0.5v2.14h-0.5zM642.4 80.4h0.5v2.65h-0.5zM642.9 81.65h0.5v1.4h-0.5zM643.4 81.35h0.5v1.7h-0.5zM643.9 81.58h0.05v1.47h-0.05zM642.98 80h0.8v0.8h-0.8zM642.31 80.53h0.8v0.8h-0.8zM641.83 80.29h0.8v0.8h-0.8zM643.14 80.01h0.8v0.8h-0.8zM643.28 79.25h0.8v0.8h-0.8zM641.11 79.32h0.8v0.8h-0.8zM648 83h3.95v10.3h-3.95zM648 81.17h0.5v1.88h-0.5zM648.5 80.83h0.5v2.22h-0.5zM649 82.08h0.5v0.97h-0.5zM649.5 82.47h0.5v0.58h-0.5zM650 81.92h0.5v1.13h-0.5zM650.5 81.02h0.5v2.03h-0.5zM651 81.49h0.5v1.56h-0.5zM651.5 80.79h0.1v2.26h-0.1zM650.25 80h0.8v0.8h-0.8zM649.83 80.6h0.8v0.8h-0.8zM649.89 78.84h0.8v0.8h-0.8zM648.73 78.72h0.8v0.8h-0.8zM648.43 73.78h0.8v0.8h-0.8zM655.7 83h3.45v10.3h-3.45zM655.7 82.06h0.5v0.99h-0.5zM656.2 81.83h0.5v1.22h-0.5zM656.7 82.03h0.5v1.02h-0.5zM657.2 81.14h0.5v1.91h-0.5zM657.7 81.7h0.5v1.35h-0.5zM658.2 81.96h0.5v1.09h-0.5zM658.7 80.6h0.1v2.45h-0.1zM656.66 80.91h0.8v0.8h-0.8zM655.72 79.32h0.8v0.8h-0.8zM655.78 79.29h0.8v0.8h-0.8zM655.77 79.65h0.8v0.8h-0.8zM661.8 83h2.45v10.3h-2.45zM661.8 81.96h0.5v1.09h-0.5zM662.3 82.48h0.5v0.57h-0.5zM662.8 80.62h0.5v2.43h-0.5zM663.3 80.96h0.5v2.09h-0.5zM663.8 81.74h0.1v1.31h-0.1zM662.55 76.8h0.8v0.8h-0.8zM662.03 78.94h0.8v0.8h-0.8zM662.17 76.22h0.8v0.8h-0.8z"/>
<path fill="#6b6b6b" d="M542.2 83h11.25v10.3h-11.25zM542.2 82.28h0.5v0.77h-0.5zM542.7 81.57h0.5v1.48h-0.5zM543.2 82.27h0.5v0.78h-0.5zM543.7 82.07h0.5v0.98h-0.5zM544.2 81.87h0.5v1.18h-0.5zM544.7 81.13h0.5v1.92h-0.5zM545.2 81.4h0.5v1.65h-0.5zM545.7 81.72h0.5v1.33h-0.5zM546.2 81.23h0.5v1.82h-0.5zM546.7 80.77h0.5v2.28h-0.5zM547.2 80.86h0.5v2.19h-0.5zM547.7 81.63h0.5v1.42h-0.5zM548.2 80.53h0.5v2.52h-0.5zM548.7 80.74h0.5v2.31h-0.5zM549.2 81.16h0.5v1.89h-0.5zM549.7 81.34h0.5v1.71h-0.5zM550.2 81.66h0.5v1.39h-0.5zM550.7 82.22h0.5v0.83h-0.5zM551.2 80.58h0.5v2.47h-0.5zM551.7 81.07h0.5v1.98h-0.5zM552.2 82.35h0.5v0.7h-0.5zM552.7 80.52h0.4v2.53h-0.4zM551.43 80.85h0.8v0.8h-0.8zM549.49 80.38h0.8v0.8h-0.8zM547.77 77.33h0.8v0.8h-0.8zM545.85 79.54h0.8v0.8h-0.8zM549.12 80.49h0.8v0.8h-0.8zM548.72 79.81h0.8v0.8h-0.8zM552.42 80.5h0.8v0.8h-0.8zM549.59 80.84h0.8v0.8h-0.8zM545.05 80.67h0.8v0.8h-0.8zM543.75 79.42h0.8v0.8h-0.8zM544.01 77.75h0.8v0.8h-0.8zM543.2 78.97h0.8v0.8h-0.8zM551.15 80.65h0.8v0.8h-0.8zM544.46 78.02h0.8v0.8h-0.8zM547.09 75.54h0.8v0.8h-0.8zM545.71 79.91h0.8v0.8h-0.8zM552.16 80.08h0.8v0.8h-0.8zM563.2 83h9.85v10.3h-9.85zM563.2 80.61h0.5v2.44h-0.5zM563.7 82h0.5v1.05h-0.5zM564.2 81.63h0.5v1.42h-0.5zM564.7 80.42h0.5v2.63h-0.5zM565.2 82.49h0.5v0.56h-0.5zM565.7 81.72h0.5v1.33h-0.5zM566.2 81.33h0.5v1.72h-0.5zM566.7 80.82h0.5v2.23h-0.5zM567.2 81.03h0.5v2.02h-0.5zM567.7 80.51h0.5v2.54h-0.5zM568.2 80.96h0.5v2.09h-0.5zM568.7 82.95h0.5v0.1h-0.5zM569.2 82.47h0.5v0.58h-0.5zM569.7 82.64h0.5v0.41h-0.5zM570.2 81.43h0.5v1.62h-0.5zM570.7 82.7h0.5v0.35h-0.5zM571.2 81.23h0.5v1.82h-0.5zM571.7 81.02h0.5v2.03h-0.5zM572.2 82h0.5v1.05h-0.5zM570.91 79.85h0.8v0.8h-0.8zM571.84 80.03h0.8v0.8h-0.8zM568.78 79.36h0.8v0.8h-0.8zM565.57 77.89h0.8v0.8h-0.8zM563.24 80.35h0.8v0.8h-0.8zM566.09 76.64h0.8v0.8h-0.8zM567.71 80.85h0.8v0.8h-0.8zM565.89 79.04h0.8v0.8h-0.8zM570.48 80.69h0.8v0.8h-0.8zM570.21 79.93h0.8v0.8h-0.8zM567.92 79.83h0.8v0.8h-0.8zM567.15 71.6h0.8v0.8h-0.8zM571.47 75.92h0.8v0.8h-0.8zM569.82 78.51h0.8v0.8h-0.8zM564.47 80.85h0.8v0.8h-0.8zM581.7 83h8.85v10.3h-8.85zM581.7 81.61h0.5v1.44h-0.5zM582.2 82.63h0.5v0.42h-0.5zM582.7 80.41h0.5v2.64h-0.5zM583.2 80.55h0.5v2.5h-0.5zM583.7 80.99h0.5v2.06h-0.5zM584.2 82.14h0.5v0.91h-0.5zM584.7 80.63h0.5v2.42h-0.5zM585.2 81.78h0.5v1.27h-0.5zM585.7 80.72h0.5v2.33h-0.5zM586.2 80.99h0.5v2.06h-0.5zM586.7 81.08h0.5v1.97h-0.5zM587.2 80.83h0.5v2.22h-0.5zM587.7 81.82h0.5v1.23h-0.5zM588.2 80.67h0.5v2.38h-0.5zM588.7 81.2h0.5v1.85h-0.5zM589.2 80.8h0.5v2.25h-0.5zM589.7 80.66h0.5v2.39h-0.5zM583.74 79.86h0.8v0.8h-0.8zM584.59 80.76h0.8v0.8h-0.8zM588.7 78.61h0.8v0.8h-0.8zM585.62 79.34h0.8v0.8h-0.8zM588.74 80.78h0.8v0.8h-0.8zM584.56 78.6h0.8v0.8h-0.8zM585.98 79.54h0.8v0.8h-0.8zM583.77 80.42h0.8v0.8h-0.8zM587.06 80.09h0.8v0.8h-0.8zM589.2 76.28h0.8v0.8h-0.8zM589.46 80.27h0.8v0.8h-0.8zM585.82 80.7h0.8v0.8h-0.8zM584.57 80.77h0.8v0.8h-0.8zM598.2 83h7.35v10.3h-7.35zM598.2 82.6h0.5v0.45h-0.5zM598.7 81.39h0.5v1.66h-0.5zM599.2 82.22h0.5v0.83h-0.5zM599.7 80.58h0.5v2.47h-0.5zM600.2 82.24h0.5v0.81h-0.5zM600.7 80.81h0.5v2.24h-0.5zM601.2 80.73h0.5v2.32h-0.5zM601.7 81.7h0.5v1.35h-0.5zM602.2 81.2h0.5v1.85h-0.5zM602.7 80.41h0.5v2.64h-0.5zM603.2 81.05h0.5v2h-0.5zM603.7 81.53h0.5v1.52h-0.5zM604.2 80.44h0.5v2.61h-0.5zM604.7 81.84h0.5v1.21h-0.5zM604.41 80.18h0.8v0.8h-0.8zM600.94 80.16h0.8v0.8h-0.8zM602.44 76.64h0.8v0.8h-0.8zM602.68 80.52h0.8v0.8h-0.8zM604.64 78.35h0.8v0.8h-0.8zM601.49 77.13h0.8v0.8h-0.8zM598.9 79.1h0.8v0.8h-0.8zM603.31 77.92h0.8v0.8h-0.8zM602.57 80.79h0.8v0.8h-0.8zM601.31 80.29h0.8v0.8h-0.8zM602.15 79.91h0.8v0.8h-0.8zM610.8 83h6.95v10.3h-6.95zM610.8 80.52h0.5v2.53h-0.5zM611.3 82.8h0.5v0.25h-0.5zM611.8 80.87h0.5v2.18h-0.5zM612.3 81.12h0.5v1.93h-0.5zM612.8 81.31h0.5v1.74h-0.5zM613.3 81.45h0.5v1.6h-0.5zM613.8 82.83h0.5v0.22h-0.5zM614.3 81.61h0.5v1.44h-0.5zM614.8 81.24h0.5v1.81h-0.5zM615.3 81.65h0.5v1.4h-0.5zM615.8 80.41h0.5v2.64h-0.5zM616.3 81.64h0.5v1.41h-0.5zM616.8 80.65h0.5v2.4h-0.5zM617.3 80.71h0.1v2.34h-0.1zM615.65 79.57h0.8v0.8h-0.8zM613.85 77.21h0.8v0.8h-0.8zM611.52 80.41h0.8v0.8h-0.8zM610.88 79.57h0.8v0.8h-0.8zM613.57 74.69h0.8v0.8h-0.8zM616.48 79.88h0.8v0.8h-0.8zM613.83 80.7h0.8v0.8h-0.8zM615.39 79.46h0.8v0.8h-0.8zM611.82 76.73h0.8v0.8h-0.8zM611.06 80.49h0.8v0.8h-0.8zM624.5 83h6.55v10.3h-6.55zM624.5 82.22h0.5v0.83h-0.5zM625 82.58h0.5v0.47h-0.5zM625.5 80.96h0.5v2.09h-0.5zM626 82.49h0.5v0.56h-0.5zM626.5 80.52h0.5v2.53h-0.5zM627 80.92h0.5v2.13h-0.5zM627.5 82.13h0.5v0.92h-0.5zM628 81.48h0.5v1.57h-0.5zM628.5 82.54h0.5v0.51h-0.5zM629 82.4h0.5v0.65h-0.5zM629.5 81.61h0.5v1.44h-0.5zM630 80.6h0.5v2.45h-0.5zM630.5 80.54h0.2v2.51h-0.2zM628.79 78.89h0.8v0.8h-0.8zM627.83 79.49h0.8v0.8h-0.8zM628.24 79.55h0.8v0.8h-0.8zM626.77 77.29h0.8v0.8h-0.8zM626.22 79.88h0.8v0.8h-0.8zM628.37 74.27h0.8v0.8h-0.8zM626.46 79.78h0.8v0.8h-0.8zM626.79 80.45h0.8v0.8h-0.8zM626.52 77.8h0.8v0.8h-0.8zM635.3 83h4.95v10.3h-4.95zM635.3 81.76h0.5v1.29h-0.5zM635.8 82.58h0.5v0.47h-0.5zM636.3 81.14h0.5v1.91h-0.5zM636.8 81.05h0.5v2h-0.5zM637.3 81.51h0.5v1.54h-0.5zM637.8 80.73h0.5v2.32h-0.5zM638.3 81.19h0.5v1.86h-0.5zM638.8 80.93h0.5v2.12h-0.5zM639.3 82.41h0.5v0.64h-0.5zM639.8 81.66h0.1v1.39h-0.1zM635.39 80.57h0.8v0.8h-0.8zM638.78 80.63h0.8v0.8h-0.8zM637.74 79.97h0.8v0.8h-0.8zM638.06 76.82h0.8v0.8h-0.8zM638.7 74.22h0.8v0.8h-0.8zM639.26 79.9h0.8v0.8h-0.8zM639.35 78.04h0.8v0.8h-0.8zM643.95 83h4.4v10.3h-4.4zM643.95 80.48h0.5v2.57h-0.5zM644.45 81.42h0.5v1.63h-0.5zM644.95 81.35h0.5v1.7h-0.5zM645.45 80.87h0.5v2.18h-0.5zM645.95 82.16h0.5v0.89h-0.5zM646.45 80.57h0.5v2.48h-0.5zM646.95 81.66h0.5v1.39h-0.5zM647.45 80.58h0.5v2.47h-0.5zM647.95 82.18h0.05v0.87h-0.05zM644.39 79.13h0.8v0.8h-0.8zM644.8 79.76h0.8v0.8h-0.8zM644.66 78.34h0.8v0.8h-0.8zM646.57 78.6h0.8v0.8h-0.8zM644.43 80.82h0.8v0.8h-0.8zM646.02 80.75h0.8v0.8h-0.8zM651.6 83h4.45v10.3h-4.45zM651.6 80.67h0.5v2.38h-0.5zM652.1 81.71h0.5v1.34h-0.5zM652.6 81.88h0.5v1.17h-0.5zM653.1 82.75h0.5v0.3h-0.5zM653.6 81.22h0.5v1.83h-0.5zM654.1 81.18h0.5v1.87h-0.5zM654.6 81.98h0.5v1.07h-0.5zM655.1 81.84h0.5v1.21h-0.5zM655.6 81.02h0.1v2.03h-0.1zM652.22 77.84h0.8v0.8h-0.8zM654.74 79.83h0.8v0.8h-0.8zM652.07 79.23h0.8v0.8h-0.8zM652.66 80.7h0.8v0.8h-0.8zM654.15 79.28h0.8v0.8h-0.8zM652.58 80.35h0.8v0.8h-0.8zM658.8 83h3.35v10.3h-3.35zM658.8 80.51h0.5v2.54h-0.5zM659.3 82.56h0.5v0.49h-0.5zM659.8 81.48h0.5v1.57h-0.5zM660.3 81.43h0.5v1.62h-0.5zM660.8 80.94h0.5v2.11h-0.5zM661.3 80.76h0.5v2.29h-0.5zM661.24 80.15h0.8v0.8h-0.8zM659.01 80.43h0.8v0.8h-0.8zM658.81 80.29h0.8v0.8h-0.8zM660.35 76.43h0.8v0.8h-0.8zM663.9 83h2.15v10.3h-2.15zM663.9 81.4h0.5v1.65h-0.5zM664.4 81.14h0.5v1.91h-0.5zM664.9 81.23h0.5v1.82h-0.5zM665.4 81.63h0.3v1.42h-0.3zM664.01 78.21h0.8v0.8h-0.8zM664.9 79.78h0.8v0.8h-0.8z"/>
<path fill="#ffffff" d="M534.5 83.92h0.5v0.5h-0.5zM537.88 131.87h0.55v0.55h-0.55zM534.08 129.36h0.55v0.55h-0.55zM535.46 128.08h0.55v0.55h-0.55zM535.51 131.88h0.55v0.55h-0.55zM537.69 128.54h0.55v0.55h-0.55zM539.15 128.2h0.55v0.55h-0.55zM539.34 128.39h0.55v0.55h-0.55zM533.12 129.01h0.55v0.55h-0.55zM537.09 129.12h0.55v0.55h-0.55zM540.6 133.13h0.55v0.55h-0.55zM534.89 132h0.55v0.55h-0.55zM538.81 130.87h0.55v0.55h-0.55zM534.62 133.2h0.55v0.55h-0.55zM541.29 127.58h0.55v0.55h-0.55zM535.34 129.43h0.55v0.55h-0.55zM534.09 130.08h0.55v0.55h-0.55zM540.73 127.64h0.55v0.55h-0.55zM540.14 129.35h0.55v0.55h-0.55zM532.33 132.9h0.55v0.55h-0.55zM534.79 128.77h0.55v0.55h-0.55zM552.25 84.61h0.5v0.5h-0.5zM544.14 133.62h0.55v0.55h-0.55zM551.88 132.49h0.55v0.55h-0.55zM543.91 134.78h0.55v0.55h-0.55zM549.03 134.06h0.55v0.55h-0.55zM544.07 136.25h0.55v0.55h-0.55zM543.35 132.04h0.55v0.55h-0.55zM544.71 134.08h0.55v0.55h-0.55zM547.15 134.32h0.55v0.55h-0.55zM549.76 136.36h0.55v0.55h-0.55zM547.07 131.25h0.55v0.55h-0.55zM550.84 131.11h0.55v0.55h-0.55zM545.51 131.86h0.55v0.55h-0.55zM548.46 135.69h0.55v0.55h-0.55zM543.54 132.77h0.55v0.55h-0.55zM551.05 135.13h0.55v0.55h-0.55zM543.33 135.12h0.55v0.55h-0.55zM550.46 133.45h0.55v0.55h-0.55zM543.82 134.95h0.55v0.55h-0.55zM545.52 131.8h0.55v0.55h-0.55zM543.91 133.41h0.55v0.55h-0.55zM543.52 133.31h0.55v0.55h-0.55zM562.36 81.58h0.5v0.5h-0.5zM557.66 128.47h0.55v0.55h-0.55zM556.96 131.7h0.55v0.55h-0.55zM556.21 132.28h0.55v0.55h-0.55zM554.87 128.11h0.55v0.55h-0.55zM559.12 130.22h0.55v0.55h-0.55zM561.91 128.13h0.55v0.55h-0.55zM560.26 131.52h0.55v0.55h-0.55zM556.66 128.27h0.55v0.55h-0.55zM558.97 132.05h0.55v0.55h-0.55zM557.64 130.34h0.55v0.55h-0.55zM559.68 131.16h0.55v0.55h-0.55zM557.16 128.62h0.55v0.55h-0.55zM557.55 130.8h0.55v0.55h-0.55zM561.71 133.47h0.55v0.55h-0.55zM558.45 129.47h0.55v0.55h-0.55zM555.24 131.28h0.55v0.55h-0.55zM560.19 128.99h0.55v0.55h-0.55zM559.73 133.5h0.55v0.55h-0.55zM556.86 133.13h0.55v0.55h-0.55zM557.29 131.41h0.55v0.55h-0.55zM570.68 83.84h0.5v0.5h-0.5zM568.44 131.4h0.55v0.55h-0.55zM569.91 133.24h0.55v0.55h-0.55zM568.99 132.7h0.55v0.55h-0.55zM571.46 133.21h0.55v0.55h-0.55zM565.68 136.36h0.55v0.55h-0.55zM565.2 132.63h0.55v0.55h-0.55zM567.58 136.89h0.55v0.55h-0.55zM564.24 132.26h0.55v0.55h-0.55zM570.36 131.45h0.55v0.55h-0.55zM566.93 135.7h0.55v0.55h-0.55zM569.61 135.76h0.55v0.55h-0.55zM564.26 136.34h0.55v0.55h-0.55zM566.41 135.89h0.55v0.55h-0.55zM567.45 136.35h0.55v0.55h-0.55zM567.5 132.55h0.55v0.55h-0.55zM564.56 133.98h0.55v0.55h-0.55zM563.65 131.98h0.55v0.55h-0.55zM571.07 134.44h0.55v0.55h-0.55zM570.97 131.91h0.55v0.55h-0.55zM572.8 83.62h0.5v0.5h-0.5zM576.61 129.15h0.55v0.55h-0.55zM576.27 131.79h0.55v0.55h-0.55zM574.64 128.45h0.55v0.55h-0.55zM576.81 131.45h0.55v0.55h-0.55zM573.27 129.13h0.55v0.55h-0.55zM580.96 129.1h0.55v0.55h-0.55zM579.26 129.33h0.55v0.55h-0.55zM573.43 130.42h0.55v0.55h-0.55zM580.09 132.16h0.55v0.55h-0.55zM573.11 131.72h0.55v0.55h-0.55zM577.98 130.39h0.55v0.55h-0.55zM578.35 130.63h0.55v0.55h-0.55zM574.26 131.67h0.55v0.55h-0.55zM573.8 129.36h0.55v0.55h-0.55zM579.94 130.91h0.55v0.55h-0.55zM577.04 131.76h0.55v0.55h-0.55zM576.89 129.8h0.55v0.55h-0.55zM577.39 127.63h0.55v0.55h-0.55zM585.71 84.85h0.5v0.5h-0.5zM587.39 136.7h0.55v0.55h-0.55zM584.06 135.1h0.55v0.55h-0.55zM584.88 136.36h0.55v0.55h-0.55zM588.3 135.58h0.55v0.55h-0.55zM586.5 132.57h0.55v0.55h-0.55zM588.96 136.81h0.55v0.55h-0.55zM589.3 133.03h0.55v0.55h-0.55zM588.28 135.07h0.55v0.55h-0.55zM588.42 135.81h0.55v0.55h-0.55zM585.34 133.37h0.55v0.55h-0.55zM588.06 134.93h0.55v0.55h-0.55zM586.02 136.24h0.55v0.55h-0.55zM581.95 131.08h0.55v0.55h-0.55zM585.42 131.58h0.55v0.55h-0.55zM588.44 131.53h0.55v0.55h-0.55zM588.76 132.35h0.55v0.55h-0.55zM582.77 135.52h0.55v0.55h-0.55zM597.19 129.73h0.55v0.55h-0.55zM593.58 133.2h0.55v0.55h-0.55zM594.28 131.59h0.55v0.55h-0.55zM591.03 127.53h0.55v0.55h-0.55zM592.18 128.13h0.55v0.55h-0.55zM596.38 129h0.55v0.55h-0.55zM597.38 131.57h0.55v0.55h-0.55zM591.64 131.76h0.55v0.55h-0.55zM592.58 130.66h0.55v0.55h-0.55zM590.77 132.5h0.55v0.55h-0.55zM596.1 130.99h0.55v0.55h-0.55zM595.38 129.54h0.55v0.55h-0.55zM591.16 129.45h0.55v0.55h-0.55zM595.75 130.88h0.55v0.55h-0.55zM591.21 128.94h0.55v0.55h-0.55zM593.76 127.59h0.55v0.55h-0.55zM603.2 133.94h0.55v0.55h-0.55zM598.41 134.28h0.55v0.55h-0.55zM600.89 133.01h0.55v0.55h-0.55zM600.76 132.33h0.55v0.55h-0.55zM600.23 135.48h0.55v0.55h-0.55zM603.96 133.74h0.55v0.55h-0.55zM603.7 131.75h0.55v0.55h-0.55zM601.55 135.47h0.55v0.55h-0.55zM603.28 133.32h0.55v0.55h-0.55zM599.29 136.76h0.55v0.55h-0.55zM602.16 134.92h0.55v0.55h-0.55zM600.45 131.68h0.55v0.55h-0.55zM601.91 133.43h0.55v0.55h-0.55zM603.99 134.98h0.55v0.55h-0.55zM608.07 128.69h0.55v0.55h-0.55zM609.23 130.41h0.55v0.55h-0.55zM609.09 133.03h0.55v0.55h-0.55zM608.38 131.67h0.55v0.55h-0.55zM608 128.29h0.55v0.55h-0.55zM607.54 127.87h0.55v0.55h-0.55zM606.12 133.38h0.55v0.55h-0.55zM607.14 128.31h0.55v0.55h-0.55zM607.42 127.86h0.55v0.55h-0.55zM608.3 128.87h0.55v0.55h-0.55zM606.31 131.32h0.55v0.55h-0.55zM615.43 136.62h0.55v0.55h-0.55zM612.94 136.1h0.55v0.55h-0.55zM612.2 134.9h0.55v0.55h-0.55zM610.83 135.95h0.55v0.55h-0.55zM613.52 133.73h0.55v0.55h-0.55zM613.84 133.23h0.55v0.55h-0.55zM612.2 135.15h0.55v0.55h-0.55zM614.63 131.33h0.55v0.55h-0.55zM612.45 136.59h0.55v0.55h-0.55zM612.53 132.76h0.55v0.55h-0.55zM614.33 133.24h0.55v0.55h-0.55zM616.58 136.9h0.55v0.55h-0.55zM611.59 132.35h0.55v0.55h-0.55zM620.09 132.94h0.55v0.55h-0.55zM623.31 131.08h0.55v0.55h-0.55zM617.46 131.24h0.55v0.55h-0.55zM620.12 130.94h0.55v0.55h-0.55zM622.88 128.29h0.55v0.55h-0.55zM622.97 129.36h0.55v0.55h-0.55zM619.06 127.72h0.55v0.55h-0.55zM618.1 129.11h0.55v0.55h-0.55zM620.89 133.14h0.55v0.55h-0.55zM618.53 129.23h0.55v0.55h-0.55zM619.86 131.34h0.55v0.55h-0.55zM619.74 131.52h0.55v0.55h-0.55zM618.39 127.76h0.55v0.55h-0.55zM621.23 131.84h0.55v0.55h-0.55zM629.18 131.75h0.55v0.55h-0.55zM629.89 135h0.55v0.55h-0.55zM625.04 132.01h0.55v0.55h-0.55zM628.16 132.84h0.55v0.55h-0.55zM629.84 132.67h0.55v0.55h-0.55zM627.27 134.02h0.55v0.55h-0.55zM629.86 132.82h0.55v0.55h-0.55zM629.59 135.34h0.55v0.55h-0.55zM627.74 136.68h0.55v0.55h-0.55zM629.54 135.5h0.55v0.55h-0.55zM627.61 131.26h0.55v0.55h-0.55zM625.76 134.9h0.55v0.55h-0.55zM631.79 132.92h0.55v0.55h-0.55zM631.99 133.24h0.55v0.55h-0.55zM633.09 133.34h0.55v0.55h-0.55zM634.33 132.19h0.55v0.55h-0.55zM632.22 130.25h0.55v0.55h-0.55zM633.11 132.33h0.55v0.55h-0.55zM632.41 132.89h0.55v0.55h-0.55zM631.59 130.62h0.55v0.55h-0.55zM631.29 128.52h0.55v0.55h-0.55zM638.94 135.66h0.55v0.55h-0.55zM637.27 131.41h0.55v0.55h-0.55zM636.77 135.9h0.55v0.55h-0.55zM637.08 133.34h0.55v0.55h-0.55zM637.92 131.24h0.55v0.55h-0.55zM637.96 135.11h0.55v0.55h-0.55zM635.76 133.5h0.55v0.55h-0.55zM638.81 132.57h0.55v0.55h-0.55zM637.47 133.07h0.55v0.55h-0.55zM639.96 131.72h0.55v0.55h-0.55zM640.49 131.11h0.55v0.55h-0.55zM641.76 131.84h0.55v0.55h-0.55zM640.3 133.34h0.55v0.55h-0.55zM642.56 132.74h0.55v0.55h-0.55zM640.56 131.82h0.55v0.55h-0.55zM641.24 131.7h0.55v0.55h-0.55zM642.38 129.95h0.55v0.55h-0.55zM645.93 131.62h0.55v0.55h-0.55zM645.96 136.58h0.55v0.55h-0.55zM644.81 135.65h0.55v0.55h-0.55zM644.85 135.28h0.55v0.55h-0.55zM644.95 134.57h0.55v0.55h-0.55zM646.7 131.19h0.55v0.55h-0.55zM646.93 134.14h0.55v0.55h-0.55zM644.82 132.84h0.55v0.55h-0.55zM650.87 131.71h0.55v0.55h-0.55zM650.58 130.03h0.55v0.55h-0.55zM649.35 128.06h0.55v0.55h-0.55zM648.81 132.73h0.55v0.55h-0.55zM648.88 132.91h0.55v0.55h-0.55zM650.58 133.02h0.55v0.55h-0.55zM648.44 130.04h0.55v0.55h-0.55zM653.65 132.81h0.55v0.55h-0.55zM651.61 131.71h0.55v0.55h-0.55zM654.58 136.75h0.55v0.55h-0.55zM655.06 132.68h0.55v0.55h-0.55zM654.97 133.64h0.55v0.55h-0.55zM652.92 136.45h0.55v0.55h-0.55zM654.55 135.07h0.55v0.55h-0.55zM652.63 131.64h0.55v0.55h-0.55zM657.77 131.58h0.55v0.55h-0.55zM656.01 130.79h0.55v0.55h-0.55zM656.39 131.98h0.55v0.55h-0.55zM656.66 128.84h0.55v0.55h-0.55zM655.79 133.42h0.55v0.55h-0.55zM656.01 129.01h0.55v0.55h-0.55zM659.46 131.19h0.55v0.55h-0.55zM660.23 136.6h0.55v0.55h-0.55zM660.6 136.15h0.55v0.55h-0.55zM660.98 134.99h0.55v0.55h-0.55zM658.94 132.87h0.55v0.55h-0.55zM660.25 133.5h0.55v0.55h-0.55zM663.09 128.87h0.55v0.55h-0.55zM662.57 131.03h0.55v0.55h-0.55zM661.82 128.96h0.55v0.55h-0.55zM662.99 131.5h0.55v0.55h-0.55zM664.41 131.32h0.55v0.55h-0.55zM664.54 136.39h0.55v0.55h-0.55zM664.26 135.46h0.55v0.55h-0.55z"/>
<line x1="525.8" y1="147" x2="672.4" y2="147" stroke="#d0d0d0" stroke-width="0.6" stroke-dasharray="1.6,1.6" />
<line x1="552" y1="64.4" x2="552" y2="84" stroke="#555555" stroke-width="0.8" stroke-dasharray="3,0.6" />
<line x1="612" y1="65" x2="612" y2="84" stroke="#555555" stroke-width="0.8" stroke-dasharray="3,0.6" />
<line x1="659.4" y1="71" x2="659.4" y2="84" stroke="#555555" stroke-width="0.8" stroke-dasharray="3,0.6" />
<line x1="604.2" y1="74" x2="604.2" y2="84" stroke="#555555" stroke-width="0.8" stroke-dasharray="3,0.6" />
<line x1="525.8" y1="73.4" x2="672.4" y2="73.4" stroke="#ff3b3b" stroke-width="0.8" stroke-dasharray="1.8,1.6" />
<line x1="525.8" y1="121.5" x2="672.4" y2="121.5" stroke="#ff3b3b" stroke-width="0.8" stroke-dasharray="1.8,1.6" />
<line x1="583.2" y1="31.9" x2="583.2" y2="36.4" stroke="#80f000" stroke-width="1.4" />
<line x1="583.2" y1="37.2" x2="583.2" y2="40.9" stroke="#80f000" stroke-width="1.4" />
<line x1="583.2" y1="41.7" x2="583.2" y2="44.4" stroke="#80f000" stroke-width="1.4" />
<line x1="583.2" y1="45.1" x2="583.2" y2="93.2" stroke="#80f000" stroke-width="1.4" />
<text x="574.2" y="38.1" font-size="4.5" font-style="italic" text-anchor="middle" fill="#ff3b3b" stroke="#ff3b3b" stroke-width="0.06">HFE</text>
<line x1="664.8" y1="53.3" x2="664.8" y2="93.2" stroke="#80f000" stroke-width="1.35" stroke-dasharray="2.5,1.5" />
<line x1="664.8" y1="70" x2="664.8" y2="93.2" stroke="#80f000" stroke-width="1.35" />
<text x="651.2" y="51.1" font-size="4.5" font-style="italic" text-anchor="middle" fill="#ff3b3b" stroke="#ff3b3b" stroke-width="0.06">TMPRSS6</text>
<line x1="525.5" y1="17.5" x2="525.5" y2="93.3" stroke="#6e6e6e" stroke-width="0.9" />
<line x1="525.8" y1="93.3" x2="672.4" y2="93.3" stroke="#333333" stroke-width="0.85" />
<line x1="525.5" y1="100.3" x2="525.5" y2="180" stroke="#6e6e6e" stroke-width="0.9" />
<line x1="525.8" y1="100.3" x2="672.4" y2="100.3" stroke="#333333" stroke-width="0.85" />
<line x1="537.6" y1="93.3" x2="537.6" y2="94.6" stroke="#333333" stroke-width="0.4" />
<line x1="537.6" y1="99" x2="537.6" y2="100.3" stroke="#333333" stroke-width="0.4" />
<text x="537.6" y="98.6" font-size="3.9" text-anchor="middle" font-weight="normal" fill="#111"   stroke="#111" stroke-width="0.06">1</text>
<line x1="548.45" y1="93.3" x2="548.45" y2="94.6" stroke="#333333" stroke-width="0.4" />
<line x1="548.45" y1="99" x2="548.45" y2="100.3" stroke="#333333" stroke-width="0.4" />
<text x="548.45" y="98.6" font-size="3.9" text-anchor="middle" font-weight="normal" fill="#111"   stroke="#111" stroke-width="0.06">2</text>
<line x1="558.8" y1="93.3" x2="558.8" y2="94.6" stroke="#333333" stroke-width="0.4" />
<line x1="558.8" y1="99" x2="558.8" y2="100.3" stroke="#333333" stroke-width="0.4" />
<text x="558.8" y="98.6" font-size="3.9" text-anchor="middle" font-weight="normal" fill="#111"   stroke="#111" stroke-width="0.06">3</text>
<line x1="568.6" y1="93.3" x2="568.6" y2="94.6" stroke="#333333" stroke-width="0.4" />
<line x1="568.6" y1="99" x2="568.6" y2="100.3" stroke="#333333" stroke-width="0.4" />
<text x="568.6" y="98.6" font-size="3.9" text-anchor="middle" font-weight="normal" fill="#111"   stroke="#111" stroke-width="0.06">4</text>
<line x1="577.6" y1="93.3" x2="577.6" y2="94.6" stroke="#333333" stroke-width="0.4" />
<line x1="577.6" y1="99" x2="577.6" y2="100.3" stroke="#333333" stroke-width="0.4" />
<text x="577.6" y="98.6" font-size="3.9" text-anchor="middle" font-weight="normal" fill="#111"   stroke="#111" stroke-width="0.06">5</text>
<line x1="586.3" y1="93.3" x2="586.3" y2="94.6" stroke="#333333" stroke-width="0.4" />
<line x1="586.3" y1="99" x2="586.3" y2="100.3" stroke="#333333" stroke-width="0.4" />
<text x="586.3" y="98.6" font-size="3.9" text-anchor="middle" font-weight="normal" fill="#111"   stroke="#111" stroke-width="0.06">6</text>
<line x1="594.7" y1="93.3" x2="594.7" y2="94.6" stroke="#333333" stroke-width="0.4" />
<line x1="594.7" y1="99" x2="594.7" y2="100.3" stroke="#333333" stroke-width="0.4" />
<text x="594.7" y="98.6" font-size="3.9" text-anchor="middle" font-weight="normal" fill="#111"   stroke="#111" stroke-width="0.06">7</text>
<line x1="601.95" y1="93.3" x2="601.95" y2="94.6" stroke="#333333" stroke-width="0.4" />
<line x1="601.95" y1="99" x2="601.95" y2="100.3" stroke="#333333" stroke-width="0.4" />
<text x="601.95" y="98.6" font-size="3.9" text-anchor="middle" font-weight="normal" fill="#111"   stroke="#111" stroke-width="0.06">8</text>
<line x1="608.8" y1="93.3" x2="608.8" y2="94.6" stroke="#333333" stroke-width="0.4" />
<line x1="608.8" y1="99" x2="608.8" y2="100.3" stroke="#333333" stroke-width="0.4" />
<text x="608.8" y="98.6" font-size="3.9" text-anchor="middle" font-weight="normal" fill="#111"   stroke="#111" stroke-width="0.06">9</text>
<line x1="614.8" y1="93.3" x2="614.8" y2="94.6" stroke="#333333" stroke-width="0.4" />
<line x1="614.8" y1="99" x2="614.8" y2="100.3" stroke="#333333" stroke-width="0.4" />
<text x="614.8" y="98.6" font-size="3.9" text-anchor="middle" font-weight="normal" fill="#111"   stroke="#111" stroke-width="0.06">10</text>
<line x1="621" y1="93.3" x2="621" y2="94.6" stroke="#333333" stroke-width="0.4" />
<line x1="621" y1="99" x2="621" y2="100.3" stroke="#333333" stroke-width="0.4" />
<text x="621" y="98.6" font-size="3.9" text-anchor="middle" font-weight="normal" fill="#111"   stroke="#111" stroke-width="0.06">11</text>
<line x1="627.1" y1="93.3" x2="627.1" y2="94.6" stroke="#333333" stroke-width="0.4" />
<line x1="627.1" y1="99" x2="627.1" y2="100.3" stroke="#333333" stroke-width="0.4" />
<text x="627.1" y="98.6" font-size="3.9" text-anchor="middle" font-weight="normal" fill="#111"   stroke="#111" stroke-width="0.06">12</text>
<line x1="632.7" y1="93.3" x2="632.7" y2="94.6" stroke="#333333" stroke-width="0.4" />
<line x1="632.7" y1="99" x2="632.7" y2="100.3" stroke="#333333" stroke-width="0.4" />
<text x="632.7" y="98.6" font-size="3.9" text-anchor="middle" font-weight="normal" fill="#111"   stroke="#111" stroke-width="0.06">13</text>
<line x1="637.8" y1="93.3" x2="637.8" y2="94.6" stroke="#333333" stroke-width="0.4" />
<line x1="637.8" y1="99" x2="637.8" y2="100.3" stroke="#333333" stroke-width="0.4" />
<text x="637.8" y="98.6" font-size="3.9" text-anchor="middle" font-weight="normal" fill="#111"   stroke="#111" stroke-width="0.06">14</text>
<line x1="646.5" y1="93.3" x2="646.5" y2="94.6" stroke="#333333" stroke-width="0.4" />
<line x1="646.5" y1="99" x2="646.5" y2="100.3" stroke="#333333" stroke-width="0.4" />
<text x="646.5" y="98.6" font-size="3.9" text-anchor="middle" font-weight="normal" fill="#111"   stroke="#111" stroke-width="0.06">16</text>
<line x1="654.7" y1="93.3" x2="654.7" y2="94.6" stroke="#333333" stroke-width="0.4" />
<line x1="654.7" y1="99" x2="654.7" y2="100.3" stroke="#333333" stroke-width="0.4" />
<text x="654.7" y="98.6" font-size="3.9" text-anchor="middle" font-weight="normal" fill="#111"   stroke="#111" stroke-width="0.06">18</text>
<line x1="660.3" y1="93.3" x2="660.3" y2="94.6" stroke="#333333" stroke-width="0.4" />
<line x1="660.3" y1="99" x2="660.3" y2="100.3" stroke="#333333" stroke-width="0.4" />
<text x="660.3" y="98.6" font-size="3.9" text-anchor="middle" font-weight="normal" fill="#111"   stroke="#111" stroke-width="0.06">20</text>
<line x1="664.1" y1="93.3" x2="664.1" y2="94.6" stroke="#333333" stroke-width="0.4" />
<line x1="664.1" y1="99" x2="664.1" y2="100.3" stroke="#333333" stroke-width="0.4" />
<text x="664.1" y="98.6" font-size="3.9" text-anchor="middle" font-weight="normal" fill="#111"   stroke="#111" stroke-width="0.06">22</text>
<line x1="524.6" y1="20" x2="525.8" y2="20" stroke="#6e6e6e" stroke-width="0.5" />
<text x="524.1" y="22" font-size="5.6" text-anchor="end" font-weight="normal" fill="#222"   stroke="#222" stroke-width="0.1">100</text>
<line x1="524.6" y1="37" x2="525.8" y2="37" stroke="#6e6e6e" stroke-width="0.5" />
<text x="524.1" y="39" font-size="5.6" text-anchor="end" font-weight="normal" fill="#222"   stroke="#222" stroke-width="0.1">50</text>
<line x1="524.6" y1="49" x2="525.8" y2="49" stroke="#6e6e6e" stroke-width="0.5" />
<text x="524.1" y="51" font-size="5.6" text-anchor="end" font-weight="normal" fill="#222"   stroke="#222" stroke-width="0.1">15</text>
<line x1="524.6" y1="65" x2="525.8" y2="65" stroke="#6e6e6e" stroke-width="0.5" />
<text x="524.1" y="67" font-size="5.6" text-anchor="end" font-weight="normal" fill="#222"   stroke="#222" stroke-width="0.1">10</text>
<line x1="524.6" y1="80.6" x2="525.8" y2="80.6" stroke="#6e6e6e" stroke-width="0.5" />
<text x="524.1" y="82.6" font-size="5.6" text-anchor="end" font-weight="normal" fill="#222"   stroke="#222" stroke-width="0.1">5</text>
<line x1="524.6" y1="113.5" x2="525.8" y2="113.5" stroke="#6e6e6e" stroke-width="0.5" />
<text x="524.1" y="115.5" font-size="5.6" text-anchor="end" font-weight="normal" fill="#222"   stroke="#222" stroke-width="0.1">5</text>
<line x1="524.6" y1="130.4" x2="525.8" y2="130.4" stroke="#6e6e6e" stroke-width="0.5" />
<text x="524.1" y="132.4" font-size="5.6" text-anchor="end" font-weight="normal" fill="#222"   stroke="#222" stroke-width="0.1">10</text>
<line x1="524.6" y1="147" x2="525.8" y2="147" stroke="#6e6e6e" stroke-width="0.5" />
<text x="524.1" y="149" font-size="5.6" text-anchor="end" font-weight="normal" fill="#222"   stroke="#222" stroke-width="0.1">15</text>
<line x1="524.6" y1="169.75" x2="525.8" y2="169.75" stroke="#6e6e6e" stroke-width="0.5" />
<text x="524.1" y="171.75" font-size="5.6" text-anchor="end" font-weight="normal" fill="#222"   stroke="#222" stroke-width="0.1">100</text>
<text x="5.9" y="4.7" font-size="7.6" text-anchor="start" font-weight="bold" fill="#000"  >a</text>
<text x="6" y="211.8" font-size="7.4" text-anchor="start" font-weight="bold" fill="#000"  >b</text>
<text x="543.9" y="211.8" font-size="7.4" text-anchor="start" font-weight="bold" fill="#000"  >c</text>
<text transform="translate(6.3,90.8) rotate(-90)" font-size="8.5" text-anchor="middle" stroke="#000" stroke-width="0.15">&#8722;<tspan dx="1.0">log</tspan><tspan font-size="5.4" dy="1.4">10</tspan><tspan dy="-1.4" font-style="italic">P</tspan></text>
<text transform="translate(676.0,55) rotate(90)" font-size="7.7" text-anchor="middle" stroke="#000" stroke-width="0.15">Testing for &#946;<tspan font-size="5.3" dy="1.3">g</tspan><tspan dy="-1.3"> = 0</tspan></text>
<text transform="translate(676.0,141) rotate(90)" font-size="7.7" text-anchor="middle" stroke="#000" stroke-width="0.15">Testing for &#964;<tspan font-size="5.3" dy="1.3">g</tspan><tspan dy="-1.3"> = 0</tspan></text>
<text x="77.33" y="217.2" font-size="7.8" font-weight="bold" text-anchor="middle">SPA<tspan font-size="5.4" dy="1.1">GRM</tspan></text>
<line x1="25.9" y1="242.5" x2="128.75" y2="242.5" stroke="#c8c8c8" stroke-width="0.5" stroke-dasharray="1.6,1.6" />
<line x1="25.9" y1="276.5" x2="128.75" y2="276.5" stroke="#ff3b3b" stroke-width="0.8" stroke-dasharray="1.9,1.25" />
<line x1="25.5" y1="222.3" x2="25.5" y2="312.5" stroke="#6e6e6e" stroke-width="0.9" />
<line x1="25.9" y1="312.5" x2="128.75" y2="312.5" stroke="#6e6e6e" stroke-width="0.9" />
<line x1="24.7" y1="227.75" x2="25.9" y2="227.75" stroke="#6e6e6e" stroke-width="0.5" />
<text x="24.2" y="229.75" font-size="5.6" text-anchor="end" font-weight="normal" fill="#222"   stroke="#222" stroke-width="0.1">100</text>
<line x1="24.7" y1="236.5" x2="25.9" y2="236.5" stroke="#6e6e6e" stroke-width="0.5" />
<text x="24.2" y="238.5" font-size="5.6" text-anchor="end" font-weight="normal" fill="#222"   stroke="#222" stroke-width="0.1">50</text>
<line x1="24.7" y1="242.5" x2="25.9" y2="242.5" stroke="#6e6e6e" stroke-width="0.5" />
<text x="24.2" y="244.5" font-size="5.6" text-anchor="end" font-weight="normal" fill="#222"   stroke="#222" stroke-width="0.1">15</text>
<line x1="24.7" y1="264.75" x2="25.9" y2="264.75" stroke="#6e6e6e" stroke-width="0.5" />
<text x="24.2" y="266.75" font-size="5.6" text-anchor="end" font-weight="normal" fill="#222"   stroke="#222" stroke-width="0.1">10</text>
<line x1="24.7" y1="286.5" x2="25.9" y2="286.5" stroke="#6e6e6e" stroke-width="0.5" />
<text x="24.2" y="288.5" font-size="5.6" text-anchor="end" font-weight="normal" fill="#222"   stroke="#222" stroke-width="0.1">5</text>
<line x1="30.4" y1="312.5" x2="30.4" y2="313.7" stroke="#6e6e6e" stroke-width="0.5" />
<text x="30.4" y="318.9" font-size="5.6" text-anchor="middle" font-weight="normal" fill="#222"   stroke="#222" stroke-width="0.1">0</text>
<line x1="57.76" y1="312.5" x2="57.76" y2="313.7" stroke="#6e6e6e" stroke-width="0.5" />
<text x="57.76" y="318.9" font-size="5.6" text-anchor="middle" font-weight="normal" fill="#222"   stroke="#222" stroke-width="0.1">2</text>
<line x1="85.12" y1="312.5" x2="85.12" y2="313.7" stroke="#6e6e6e" stroke-width="0.5" />
<text x="85.12" y="318.9" font-size="5.6" text-anchor="middle" font-weight="normal" fill="#222"   stroke="#222" stroke-width="0.1">4</text>
<line x1="112.48" y1="312.5" x2="112.48" y2="313.7" stroke="#6e6e6e" stroke-width="0.5" />
<text x="112.48" y="318.9" font-size="5.6" text-anchor="middle" font-weight="normal" fill="#222"   stroke="#222" stroke-width="0.1">6</text>
<line x1="27.3" y1="309.9" x2="128.6" y2="276.5" stroke="#000" stroke-width="0.6" />
<polyline points="27.5,309.9 85,293.6 116.6,284.8" fill="none" stroke="#d9a322" stroke-width="2.0" stroke-linejoin="round" stroke-linecap="round"/>
<polyline points="27.5,309.6 85,291.9 114,283" fill="none" stroke="#25c979" stroke-width="2.0" stroke-linejoin="round" stroke-linecap="round"/>
<polyline points="27.5,309.4 93.75,287.4 97,284.5 99,280.4" fill="none" stroke="#1fadf5" stroke-width="2.0" stroke-linejoin="round" stroke-linecap="round"/>
<polyline points="99,280.4 101,275.2 103.1,268 105.2,264.8 111.5,262.7" fill="none" stroke="#1fadf5" stroke-width="1.7" stroke-dasharray="1.8,0.9" stroke-linejoin="round"/>
<polyline points="27.5,309.4 60,294.8 64.6,292.5 69.8,286.7 74,276.25 79.2,269 82.3,258.5 84.4,245 86.5,240.8 95.8,238.75 107.3,235.6 112.5,231.5 117.7,230.4" fill="none" stroke="#ff6fd2" stroke-width="2.0" stroke-linejoin="round" stroke-linecap="round"/>
<circle cx="114.2" cy="252.9" r="0.9" fill="#1fadf5"/>
<circle cx="118.1" cy="245.6" r="0.9" fill="#1fadf5"/>
<circle cx="124" cy="230.4" r="0.9" fill="#ff6fd2"/>
<circle cx="115.3" cy="283.3" r="0.9" fill="#25c979"/>
<circle cx="119.9" cy="282.8" r="0.9" fill="#25c979"/>
<circle cx="118.6" cy="285" r="0.9" fill="#d9a322"/>
<circle cx="122.5" cy="284.4" r="0.9" fill="#d9a322"/>
<line x1="27.3" y1="309.9" x2="128.6" y2="276.5" stroke="#000" stroke-width="0.6" />
<line x1="25.9" y1="356.5" x2="128.75" y2="356.5" stroke="#c8c8c8" stroke-width="0.5" stroke-dasharray="1.6,1.6" />
<line x1="25.9" y1="388.1" x2="128.75" y2="388.1" stroke="#ff3b3b" stroke-width="0.8" stroke-dasharray="1.9,1.25" />
<line x1="25.5" y1="332.5" x2="25.5" y2="421.9" stroke="#6e6e6e" stroke-width="0.9" />
<line x1="25.9" y1="421.9" x2="128.75" y2="421.9" stroke="#6e6e6e" stroke-width="0.9" />
<line x1="24.7" y1="334.4" x2="25.9" y2="334.4" stroke="#6e6e6e" stroke-width="0.5" />
<text x="24.2" y="336.4" font-size="5.6" text-anchor="end" font-weight="normal" fill="#222"   stroke="#222" stroke-width="0.1">150</text>
<line x1="24.7" y1="342.5" x2="25.9" y2="342.5" stroke="#6e6e6e" stroke-width="0.5" />
<text x="24.2" y="344.5" font-size="5.6" text-anchor="end" font-weight="normal" fill="#222"   stroke="#222" stroke-width="0.1">100</text>
<line x1="24.7" y1="351" x2="25.9" y2="351" stroke="#6e6e6e" stroke-width="0.5" />
<text x="24.2" y="353" font-size="5.6" text-anchor="end" font-weight="normal" fill="#222"   stroke="#222" stroke-width="0.1">50</text>
<line x1="24.7" y1="356.5" x2="25.9" y2="356.5" stroke="#6e6e6e" stroke-width="0.5" />
<text x="24.2" y="358.5" font-size="5.6" text-anchor="end" font-weight="normal" fill="#222"   stroke="#222" stroke-width="0.1">15</text>
<line x1="24.7" y1="377.25" x2="25.9" y2="377.25" stroke="#6e6e6e" stroke-width="0.5" />
<text x="24.2" y="379.25" font-size="5.6" text-anchor="end" font-weight="normal" fill="#222"   stroke="#222" stroke-width="0.1">10</text>
<line x1="24.7" y1="397.5" x2="25.9" y2="397.5" stroke="#6e6e6e" stroke-width="0.5" />
<text x="24.2" y="399.5" font-size="5.6" text-anchor="end" font-weight="normal" fill="#222"   stroke="#222" stroke-width="0.1">5</text>
<line x1="30.4" y1="421.9" x2="30.4" y2="423.1" stroke="#6e6e6e" stroke-width="0.5" />
<text x="30.4" y="428.3" font-size="5.6" text-anchor="middle" font-weight="normal" fill="#222"   stroke="#222" stroke-width="0.1">0</text>
<line x1="57.76" y1="421.9" x2="57.76" y2="423.1" stroke="#6e6e6e" stroke-width="0.5" />
<text x="57.76" y="428.3" font-size="5.6" text-anchor="middle" font-weight="normal" fill="#222"   stroke="#222" stroke-width="0.1">2</text>
<line x1="85.12" y1="421.9" x2="85.12" y2="423.1" stroke="#6e6e6e" stroke-width="0.5" />
<text x="85.12" y="428.3" font-size="5.6" text-anchor="middle" font-weight="normal" fill="#222"   stroke="#222" stroke-width="0.1">4</text>
<line x1="112.48" y1="421.9" x2="112.48" y2="423.1" stroke="#6e6e6e" stroke-width="0.5" />
<text x="112.48" y="428.3" font-size="5.6" text-anchor="middle" font-weight="normal" fill="#222"   stroke="#222" stroke-width="0.1">6</text>
<line x1="27.3" y1="419.5" x2="128.6" y2="388.47" stroke="#000" stroke-width="0.6" />
<polyline points="27.5,419.5 40,417.5 48,415.6 58.7,412.6 63.3,409.3 75,406.5 86.3,403.4 94,401.8 97,398.5 98.6,396.5 106.3,394.2 115.5,393.4" fill="none" stroke="#d9a322" stroke-width="2.0" stroke-linejoin="round" stroke-linecap="round"/>
<polyline points="27.5,419.3 90,401.5 116,396.8" fill="none" stroke="#25c979" stroke-width="2.0" stroke-linejoin="round" stroke-linecap="round"/>
<polyline points="27.5,419 92.5,399.5 117,394.9" fill="none" stroke="#1fadf5" stroke-width="2.0" stroke-linejoin="round" stroke-linecap="round"/>
<polyline points="27.5,419 80.2,401.8 86.3,398 90.2,393.4 91,387.3 91.7,380 92.7,375.8 97.9,373.75 99,367.5 103.1,362.3 107.3,362.3 108.3,356.7 118.75,356.5" fill="none" stroke="#ff6fd2" stroke-width="2.0" stroke-linejoin="round" stroke-linecap="round"/>
<circle cx="124" cy="356.5" r="0.9" fill="#ff6fd2"/>
<circle cx="119.8" cy="396.2" r="0.9" fill="#1fadf5"/>
<circle cx="122.4" cy="393.7" r="0.9" fill="#d9a322"/>
<circle cx="118.5" cy="396.5" r="0.9" fill="#25c979"/>
<line x1="27.3" y1="419.5" x2="128.6" y2="388.47" stroke="#000" stroke-width="0.6" />
<text x="203.02" y="217.2" font-size="7.8" font-weight="bold" text-anchor="middle">SPA<tspan font-size="5.4" dy="1.1" letter-spacing="0.3">GRM(CCT)</tspan></text>
<line x1="151.6" y1="242.5" x2="254.45" y2="242.5" stroke="#c8c8c8" stroke-width="0.5" stroke-dasharray="1.6,1.6" />
<line x1="151.6" y1="276.5" x2="254.45" y2="276.5" stroke="#ff3b3b" stroke-width="0.8" stroke-dasharray="1.9,1.25" />
<line x1="151.5" y1="222.3" x2="151.5" y2="312.5" stroke="#6e6e6e" stroke-width="0.9" />
<line x1="151.6" y1="312.5" x2="254.45" y2="312.5" stroke="#6e6e6e" stroke-width="0.9" />
<line x1="150.4" y1="227.75" x2="151.6" y2="227.75" stroke="#6e6e6e" stroke-width="0.5" />
<text x="149.9" y="229.75" font-size="5.6" text-anchor="end" font-weight="normal" fill="#222"   stroke="#222" stroke-width="0.1">100</text>
<line x1="150.4" y1="236.5" x2="151.6" y2="236.5" stroke="#6e6e6e" stroke-width="0.5" />
<text x="149.9" y="238.5" font-size="5.6" text-anchor="end" font-weight="normal" fill="#222"   stroke="#222" stroke-width="0.1">50</text>
<line x1="150.4" y1="242.5" x2="151.6" y2="242.5" stroke="#6e6e6e" stroke-width="0.5" />
<text x="149.9" y="244.5" font-size="5.6" text-anchor="end" font-weight="normal" fill="#222"   stroke="#222" stroke-width="0.1">15</text>
<line x1="150.4" y1="264.75" x2="151.6" y2="264.75" stroke="#6e6e6e" stroke-width="0.5" />
<text x="149.9" y="266.75" font-size="5.6" text-anchor="end" font-weight="normal" fill="#222"   stroke="#222" stroke-width="0.1">10</text>
<line x1="150.4" y1="286.5" x2="151.6" y2="286.5" stroke="#6e6e6e" stroke-width="0.5" />
<text x="149.9" y="288.5" font-size="5.6" text-anchor="end" font-weight="normal" fill="#222"   stroke="#222" stroke-width="0.1">5</text>
<line x1="156.1" y1="312.5" x2="156.1" y2="313.7" stroke="#6e6e6e" stroke-width="0.5" />
<text x="156.1" y="318.9" font-size="5.6" text-anchor="middle" font-weight="normal" fill="#222"   stroke="#222" stroke-width="0.1">0</text>
<line x1="183.46" y1="312.5" x2="183.46" y2="313.7" stroke="#6e6e6e" stroke-width="0.5" />
<text x="183.46" y="318.9" font-size="5.6" text-anchor="middle" font-weight="normal" fill="#222"   stroke="#222" stroke-width="0.1">2</text>
<line x1="210.82" y1="312.5" x2="210.82" y2="313.7" stroke="#6e6e6e" stroke-width="0.5" />
<text x="210.82" y="318.9" font-size="5.6" text-anchor="middle" font-weight="normal" fill="#222"   stroke="#222" stroke-width="0.1">4</text>
<line x1="238.18" y1="312.5" x2="238.18" y2="313.7" stroke="#6e6e6e" stroke-width="0.5" />
<text x="238.18" y="318.9" font-size="5.6" text-anchor="middle" font-weight="normal" fill="#222"   stroke="#222" stroke-width="0.1">6</text>
<line x1="153" y1="309.9" x2="254.3" y2="276.5" stroke="#000" stroke-width="0.6" />
<polyline points="153.2,309.9 210.7,293.8 242.3,285.2" fill="none" stroke="#d9a322" stroke-width="2.0" stroke-linejoin="round" stroke-linecap="round"/>
<polyline points="153.2,309.6 210.7,292.1 239.7,283.3" fill="none" stroke="#25c979" stroke-width="2.0" stroke-linejoin="round" stroke-linecap="round"/>
<polyline points="153.2,309.4 216.7,287.7 221.9,281.5 225,279.4" fill="none" stroke="#1fadf5" stroke-width="2.0" stroke-linejoin="round" stroke-linecap="round"/>
<polyline points="225,279.4 226,272 227.1,261.7 228.1,251.25 229.2,242.9" fill="none" stroke="#1fadf5" stroke-width="1.7" stroke-dasharray="1.8,0.9" stroke-linejoin="round"/>
<polyline points="229.2,242.9 231.2,241.5 239.6,241.5" fill="none" stroke="#1fadf5" stroke-width="2.0" stroke-linejoin="round" stroke-linecap="round"/>
<polyline points="153.2,309.4 189.6,294 194.8,288.75 197.9,280.4 200,270 203.1,265.8 205.2,259.6 206.2,253.3 209.4,251.25 211.5,241.9 218.7,239.8 228.1,237.7 233.3,235.6 237.5,231.5 243.7,230.4" fill="none" stroke="#ff6fd2" stroke-width="2.0" stroke-linejoin="round" stroke-linecap="round"/>
<circle cx="249.6" cy="230.4" r="0.9" fill="#ff6fd2"/>
<circle cx="244.8" cy="241.5" r="0.9" fill="#1fadf5"/>
<circle cx="241.7" cy="283.5" r="0.9" fill="#25c979"/>
<circle cx="246.2" cy="283" r="0.9" fill="#25c979"/>
<circle cx="244.3" cy="285.5" r="0.9" fill="#d9a322"/>
<circle cx="248.7" cy="285.5" r="0.9" fill="#d9a322"/>
<line x1="153" y1="309.9" x2="254.3" y2="276.5" stroke="#000" stroke-width="0.6" />
<line x1="151.6" y1="356.5" x2="254.45" y2="356.5" stroke="#c8c8c8" stroke-width="0.5" stroke-dasharray="1.6,1.6" />
<line x1="151.6" y1="388.1" x2="254.45" y2="388.1" stroke="#ff3b3b" stroke-width="0.8" stroke-dasharray="1.9,1.25" />
<line x1="151.5" y1="332.5" x2="151.5" y2="421.9" stroke="#6e6e6e" stroke-width="0.9" />
<line x1="151.6" y1="421.9" x2="254.45" y2="421.9" stroke="#6e6e6e" stroke-width="0.9" />
<line x1="150.4" y1="334.4" x2="151.6" y2="334.4" stroke="#6e6e6e" stroke-width="0.5" />
<text x="149.9" y="336.4" font-size="5.6" text-anchor="end" font-weight="normal" fill="#222"   stroke="#222" stroke-width="0.1">150</text>
<line x1="150.4" y1="342.5" x2="151.6" y2="342.5" stroke="#6e6e6e" stroke-width="0.5" />
<text x="149.9" y="344.5" font-size="5.6" text-anchor="end" font-weight="normal" fill="#222"   stroke="#222" stroke-width="0.1">100</text>
<line x1="150.4" y1="351" x2="151.6" y2="351" stroke="#6e6e6e" stroke-width="0.5" />
<text x="149.9" y="353" font-size="5.6" text-anchor="end" font-weight="normal" fill="#222"   stroke="#222" stroke-width="0.1">50</text>
<line x1="150.4" y1="356.5" x2="151.6" y2="356.5" stroke="#6e6e6e" stroke-width="0.5" />
<text x="149.9" y="358.5" font-size="5.6" text-anchor="end" font-weight="normal" fill="#222"   stroke="#222" stroke-width="0.1">15</text>
<line x1="150.4" y1="377.25" x2="151.6" y2="377.25" stroke="#6e6e6e" stroke-width="0.5" />
<text x="149.9" y="379.25" font-size="5.6" text-anchor="end" font-weight="normal" fill="#222"   stroke="#222" stroke-width="0.1">10</text>
<line x1="150.4" y1="397.5" x2="151.6" y2="397.5" stroke="#6e6e6e" stroke-width="0.5" />
<text x="149.9" y="399.5" font-size="5.6" text-anchor="end" font-weight="normal" fill="#222"   stroke="#222" stroke-width="0.1">5</text>
<line x1="156.1" y1="421.9" x2="156.1" y2="423.1" stroke="#6e6e6e" stroke-width="0.5" />
<text x="156.1" y="428.3" font-size="5.6" text-anchor="middle" font-weight="normal" fill="#222"   stroke="#222" stroke-width="0.1">0</text>
<line x1="183.46" y1="421.9" x2="183.46" y2="423.1" stroke="#6e6e6e" stroke-width="0.5" />
<text x="183.46" y="428.3" font-size="5.6" text-anchor="middle" font-weight="normal" fill="#222"   stroke="#222" stroke-width="0.1">2</text>
<line x1="210.82" y1="421.9" x2="210.82" y2="423.1" stroke="#6e6e6e" stroke-width="0.5" />
<text x="210.82" y="428.3" font-size="5.6" text-anchor="middle" font-weight="normal" fill="#222"   stroke="#222" stroke-width="0.1">4</text>
<line x1="238.18" y1="421.9" x2="238.18" y2="423.1" stroke="#6e6e6e" stroke-width="0.5" />
<text x="238.18" y="428.3" font-size="5.6" text-anchor="middle" font-weight="normal" fill="#222"   stroke="#222" stroke-width="0.1">6</text>
<line x1="153" y1="419.5" x2="254.3" y2="388.47" stroke="#000" stroke-width="0.6" />
<polyline points="153.2,419.5 165.3,416.4 196,407.2 217.5,401.8 225.2,397.2 235.9,394.6" fill="none" stroke="#d9a322" stroke-width="2.0" stroke-linejoin="round" stroke-linecap="round"/>
<polyline points="153.2,419.5 220.7,401 239.7,397.5" fill="none" stroke="#25c979" stroke-width="2.0" stroke-linejoin="round" stroke-linecap="round"/>
<polyline points="153.2,419.3 220.7,400 242,396.5" fill="none" stroke="#1fadf5" stroke-width="2.0" stroke-linejoin="round" stroke-linecap="round"/>
<polyline points="153.2,419 199.1,402.6 205.2,396.5 209,394.2 211.3,388.8 214.4,379.6 217.5,375 221.9,364.4 224,362.3 225,356 228.1,354.6 237.5,352.9" fill="none" stroke="#ff6fd2" stroke-width="2.0" stroke-linejoin="round" stroke-linecap="round"/>
<circle cx="249.6" cy="352.9" r="0.9" fill="#ff6fd2"/>
<circle cx="244.3" cy="390.3" r="0.9" fill="#1fadf5"/>
<circle cx="248.2" cy="394.6" r="0.9" fill="#d9a322"/>
<circle cx="242.7" cy="397.5" r="0.9" fill="#25c979"/>
<line x1="153" y1="419.5" x2="254.3" y2="388.47" stroke="#000" stroke-width="0.6" />
<text x="328.73" y="217.2" font-size="7.8" font-weight="bold" text-anchor="middle">Norm<tspan font-size="5.4" dy="1.1">GRM</tspan></text>
<line x1="277.3" y1="242.5" x2="380.15" y2="242.5" stroke="#c8c8c8" stroke-width="0.5" stroke-dasharray="1.6,1.6" />
<line x1="277.3" y1="276.5" x2="380.15" y2="276.5" stroke="#ff3b3b" stroke-width="0.8" stroke-dasharray="1.9,1.25" />
<line x1="277.5" y1="222.3" x2="277.5" y2="312.5" stroke="#6e6e6e" stroke-width="0.9" />
<line x1="277.3" y1="312.5" x2="380.15" y2="312.5" stroke="#6e6e6e" stroke-width="0.9" />
<line x1="276.1" y1="227.75" x2="277.3" y2="227.75" stroke="#6e6e6e" stroke-width="0.5" />
<text x="275.6" y="229.75" font-size="5.6" text-anchor="end" font-weight="normal" fill="#222"   stroke="#222" stroke-width="0.1">100</text>
<line x1="276.1" y1="236.5" x2="277.3" y2="236.5" stroke="#6e6e6e" stroke-width="0.5" />
<text x="275.6" y="238.5" font-size="5.6" text-anchor="end" font-weight="normal" fill="#222"   stroke="#222" stroke-width="0.1">50</text>
<line x1="276.1" y1="242.5" x2="277.3" y2="242.5" stroke="#6e6e6e" stroke-width="0.5" />
<text x="275.6" y="244.5" font-size="5.6" text-anchor="end" font-weight="normal" fill="#222"   stroke="#222" stroke-width="0.1">15</text>
<line x1="276.1" y1="264.75" x2="277.3" y2="264.75" stroke="#6e6e6e" stroke-width="0.5" />
<text x="275.6" y="266.75" font-size="5.6" text-anchor="end" font-weight="normal" fill="#222"   stroke="#222" stroke-width="0.1">10</text>
<line x1="276.1" y1="286.5" x2="277.3" y2="286.5" stroke="#6e6e6e" stroke-width="0.5" />
<text x="275.6" y="288.5" font-size="5.6" text-anchor="end" font-weight="normal" fill="#222"   stroke="#222" stroke-width="0.1">5</text>
<line x1="281.8" y1="312.5" x2="281.8" y2="313.7" stroke="#6e6e6e" stroke-width="0.5" />
<text x="281.8" y="318.9" font-size="5.6" text-anchor="middle" font-weight="normal" fill="#222"   stroke="#222" stroke-width="0.1">0</text>
<line x1="309.16" y1="312.5" x2="309.16" y2="313.7" stroke="#6e6e6e" stroke-width="0.5" />
<text x="309.16" y="318.9" font-size="5.6" text-anchor="middle" font-weight="normal" fill="#222"   stroke="#222" stroke-width="0.1">2</text>
<line x1="336.52" y1="312.5" x2="336.52" y2="313.7" stroke="#6e6e6e" stroke-width="0.5" />
<text x="336.52" y="318.9" font-size="5.6" text-anchor="middle" font-weight="normal" fill="#222"   stroke="#222" stroke-width="0.1">4</text>
<line x1="363.88" y1="312.5" x2="363.88" y2="313.7" stroke="#6e6e6e" stroke-width="0.5" />
<text x="363.88" y="318.9" font-size="5.6" text-anchor="middle" font-weight="normal" fill="#222"   stroke="#222" stroke-width="0.1">6</text>
<line x1="278.7" y1="309.9" x2="380" y2="276.5" stroke="#000" stroke-width="0.6" />
<polyline points="278.9,309.9 306.7,300.6 315.9,296 326.6,290.6 337.3,285.3 345,279.9 352.7,272.2 360.4,269.2 365,266.1 368,265.3" fill="none" stroke="#d9a322" stroke-width="2.0" stroke-linejoin="round" stroke-linecap="round"/>
<polyline points="278.9,309.6 314.3,297.5 329.7,292.2 345,286 354.2,279.9 361.9,275.3 366.5,273.8" fill="none" stroke="#25c979" stroke-width="2.0" stroke-linejoin="round" stroke-linecap="round"/>
<polyline points="278.9,309.4 314.3,297 329.7,291.5 348.1,283 351.2,277.6" fill="none" stroke="#1fadf5" stroke-width="2.0" stroke-linejoin="round" stroke-linecap="round"/>
<polyline points="351.2,277.6 352.7,269.9 355,262.3 359.6,256.9 363.4,254.6" fill="none" stroke="#1fadf5" stroke-width="1.7" stroke-dasharray="1.8,0.9" stroke-linejoin="round"/>
<polyline points="278.9,309.4 315.9,296 320.5,289.9 323.5,280.7 327.4,273.8 332,269.2 333.5,265.3 335,256.1 335.8,250 337.5,240.8 343.75,239.8 354.2,235.6 360.4,233.5 363.5,228.3 369.8,226.9" fill="none" stroke="#ff6fd2" stroke-width="2.0" stroke-linejoin="round" stroke-linecap="round"/>
<circle cx="375.4" cy="226.25" r="0.9" fill="#ff6fd2"/>
<circle cx="365.6" cy="242.3" r="0.9" fill="#1fadf5"/>
<circle cx="369.8" cy="241.9" r="0.9" fill="#1fadf5"/>
<circle cx="369.9" cy="263.8" r="0.9" fill="#d9a322"/>
<circle cx="374.2" cy="254.6" r="0.9" fill="#d9a322"/>
<circle cx="371.1" cy="273" r="0.9" fill="#25c979"/>
<line x1="278.7" y1="309.9" x2="380" y2="276.5" stroke="#000" stroke-width="0.6" />
<line x1="277.3" y1="356.5" x2="380.15" y2="356.5" stroke="#c8c8c8" stroke-width="0.5" stroke-dasharray="1.6,1.6" />
<line x1="277.3" y1="388.1" x2="380.15" y2="388.1" stroke="#ff3b3b" stroke-width="0.8" stroke-dasharray="1.9,1.25" />
<line x1="277.5" y1="332.5" x2="277.5" y2="421.9" stroke="#6e6e6e" stroke-width="0.9" />
<line x1="277.3" y1="421.9" x2="380.15" y2="421.9" stroke="#6e6e6e" stroke-width="0.9" />
<line x1="276.1" y1="334.4" x2="277.3" y2="334.4" stroke="#6e6e6e" stroke-width="0.5" />
<text x="275.6" y="336.4" font-size="5.6" text-anchor="end" font-weight="normal" fill="#222"   stroke="#222" stroke-width="0.1">150</text>
<line x1="276.1" y1="342.5" x2="277.3" y2="342.5" stroke="#6e6e6e" stroke-width="0.5" />
<text x="275.6" y="344.5" font-size="5.6" text-anchor="end" font-weight="normal" fill="#222"   stroke="#222" stroke-width="0.1">100</text>
<line x1="276.1" y1="351" x2="277.3" y2="351" stroke="#6e6e6e" stroke-width="0.5" />
<text x="275.6" y="353" font-size="5.6" text-anchor="end" font-weight="normal" fill="#222"   stroke="#222" stroke-width="0.1">50</text>
<line x1="276.1" y1="356.5" x2="277.3" y2="356.5" stroke="#6e6e6e" stroke-width="0.5" />
<text x="275.6" y="358.5" font-size="5.6" text-anchor="end" font-weight="normal" fill="#222"   stroke="#222" stroke-width="0.1">15</text>
<line x1="276.1" y1="377.25" x2="277.3" y2="377.25" stroke="#6e6e6e" stroke-width="0.5" />
<text x="275.6" y="379.25" font-size="5.6" text-anchor="end" font-weight="normal" fill="#222"   stroke="#222" stroke-width="0.1">10</text>
<line x1="276.1" y1="397.5" x2="277.3" y2="397.5" stroke="#6e6e6e" stroke-width="0.5" />
<text x="275.6" y="399.5" font-size="5.6" text-anchor="end" font-weight="normal" fill="#222"   stroke="#222" stroke-width="0.1">5</text>
<line x1="281.8" y1="421.9" x2="281.8" y2="423.1" stroke="#6e6e6e" stroke-width="0.5" />
<text x="281.8" y="428.3" font-size="5.6" text-anchor="middle" font-weight="normal" fill="#222"   stroke="#222" stroke-width="0.1">0</text>
<line x1="309.16" y1="421.9" x2="309.16" y2="423.1" stroke="#6e6e6e" stroke-width="0.5" />
<text x="309.16" y="428.3" font-size="5.6" text-anchor="middle" font-weight="normal" fill="#222"   stroke="#222" stroke-width="0.1">2</text>
<line x1="336.52" y1="421.9" x2="336.52" y2="423.1" stroke="#6e6e6e" stroke-width="0.5" />
<text x="336.52" y="428.3" font-size="5.6" text-anchor="middle" font-weight="normal" fill="#222"   stroke="#222" stroke-width="0.1">4</text>
<line x1="363.88" y1="421.9" x2="363.88" y2="423.1" stroke="#6e6e6e" stroke-width="0.5" />
<text x="363.88" y="428.3" font-size="5.6" text-anchor="middle" font-weight="normal" fill="#222"   stroke="#222" stroke-width="0.1">6</text>
<line x1="278.7" y1="419.5" x2="380" y2="388.47" stroke="#000" stroke-width="0.6" />
<polyline points="278.9,419.2 291.4,418 302.1,413.5 306.25,411.2 311.5,400.8 314.6,386.25 319.8,356 329.2,354 350,349.2 352.1,345.6 354.2,340.4 360.4,336.9 366.7,335.8" fill="none" stroke="#d9a322" stroke-width="2.0" stroke-linejoin="round" stroke-linecap="round"/>
<polyline points="278.9,419 302.1,412.3 310.4,404.5 319.8,389.4 331.25,374.8 335.4,367.5 339.6,356 354.2,354.6 366.7,353.3" fill="none" stroke="#25c979" stroke-width="2.0" stroke-linejoin="round" stroke-linecap="round"/>
<polyline points="278.9,419 306.25,410.2 320.8,400.8 335.4,388.3 346.9,376.9 350,373.75 354.2,372.7 358.3,368.5 362.5,366.5" fill="none" stroke="#1fadf5" stroke-width="2.0" stroke-linejoin="round" stroke-linecap="round"/>
<polyline points="278.9,419 327.1,401.9 334.4,395.6 338.5,391.5 341.7,385.2 345.8,375.8 349,370.6 354.2,367.5 358.3,358.1 362.5,354.6 369.8,354.6" fill="none" stroke="#ff6fd2" stroke-width="2.0" stroke-linejoin="round" stroke-linecap="round"/>
<circle cx="374" cy="335.8" r="0.9" fill="#d9a322"/>
<circle cx="371.25" cy="352.9" r="0.9" fill="#25c979"/>
<circle cx="369.8" cy="363.3" r="0.9" fill="#1fadf5"/>
<circle cx="375.4" cy="355" r="0.9" fill="#ff6fd2"/>
<line x1="278.7" y1="419.5" x2="380" y2="388.47" stroke="#000" stroke-width="0.6" />
<text x="454.43" y="217.2" font-size="7.8" text-anchor="middle" font-weight="bold" fill="#000"  >TrajGWAS</text>
<line x1="403" y1="242.5" x2="505.85" y2="242.5" stroke="#c8c8c8" stroke-width="0.5" stroke-dasharray="1.6,1.6" />
<line x1="403" y1="276.5" x2="505.85" y2="276.5" stroke="#ff3b3b" stroke-width="0.8" stroke-dasharray="1.9,1.25" />
<line x1="403.5" y1="222.3" x2="403.5" y2="312.5" stroke="#6e6e6e" stroke-width="0.9" />
<line x1="403" y1="312.5" x2="505.85" y2="312.5" stroke="#6e6e6e" stroke-width="0.9" />
<line x1="401.8" y1="227.75" x2="403" y2="227.75" stroke="#6e6e6e" stroke-width="0.5" />
<text x="401.3" y="229.75" font-size="5.6" text-anchor="end" font-weight="normal" fill="#222"   stroke="#222" stroke-width="0.1">100</text>
<line x1="401.8" y1="236.5" x2="403" y2="236.5" stroke="#6e6e6e" stroke-width="0.5" />
<text x="401.3" y="238.5" font-size="5.6" text-anchor="end" font-weight="normal" fill="#222"   stroke="#222" stroke-width="0.1">50</text>
<line x1="401.8" y1="242.5" x2="403" y2="242.5" stroke="#6e6e6e" stroke-width="0.5" />
<text x="401.3" y="244.5" font-size="5.6" text-anchor="end" font-weight="normal" fill="#222"   stroke="#222" stroke-width="0.1">15</text>
<line x1="401.8" y1="264.75" x2="403" y2="264.75" stroke="#6e6e6e" stroke-width="0.5" />
<text x="401.3" y="266.75" font-size="5.6" text-anchor="end" font-weight="normal" fill="#222"   stroke="#222" stroke-width="0.1">10</text>
<line x1="401.8" y1="286.5" x2="403" y2="286.5" stroke="#6e6e6e" stroke-width="0.5" />
<text x="401.3" y="288.5" font-size="5.6" text-anchor="end" font-weight="normal" fill="#222"   stroke="#222" stroke-width="0.1">5</text>
<line x1="407.5" y1="312.5" x2="407.5" y2="313.7" stroke="#6e6e6e" stroke-width="0.5" />
<text x="407.5" y="318.9" font-size="5.6" text-anchor="middle" font-weight="normal" fill="#222"   stroke="#222" stroke-width="0.1">0</text>
<line x1="434.86" y1="312.5" x2="434.86" y2="313.7" stroke="#6e6e6e" stroke-width="0.5" />
<text x="434.86" y="318.9" font-size="5.6" text-anchor="middle" font-weight="normal" fill="#222"   stroke="#222" stroke-width="0.1">2</text>
<line x1="462.22" y1="312.5" x2="462.22" y2="313.7" stroke="#6e6e6e" stroke-width="0.5" />
<text x="462.22" y="318.9" font-size="5.6" text-anchor="middle" font-weight="normal" fill="#222"   stroke="#222" stroke-width="0.1">4</text>
<line x1="489.58" y1="312.5" x2="489.58" y2="313.7" stroke="#6e6e6e" stroke-width="0.5" />
<text x="489.58" y="318.9" font-size="5.6" text-anchor="middle" font-weight="normal" fill="#222"   stroke="#222" stroke-width="0.1">6</text>
<line x1="404.4" y1="309.9" x2="505.7" y2="276.5" stroke="#000" stroke-width="0.6" />
<polyline points="404.6,309.6 471,286.5 477.2,283 483.3,279.9 489.4,279.1 492.6,279.6" fill="none" stroke="#25c979" stroke-width="2.0" stroke-linejoin="round" stroke-linecap="round"/>
<polyline points="404.6,309.4 471,286 477.2,282.2" fill="none" stroke="#1fadf5" stroke-width="2.0" stroke-linejoin="round" stroke-linecap="round"/>
<polyline points="477.2,282.2 479.5,276.8 481.8,272.2 485.6,268.4 491.7,265.3" fill="none" stroke="#1fadf5" stroke-width="1.7" stroke-dasharray="1.8,0.9" stroke-linejoin="round"/>
<polyline points="404.6,309.4 443.4,293 448,288.3 454.1,279.1 458.7,269.9 461.8,259.2 463.3,250 464.5,241.9 470.7,240.8 483.2,238.3 489.5,235.6 495.7,234.6" fill="none" stroke="#ff6fd2" stroke-width="2.0" stroke-linejoin="round" stroke-linecap="round"/>
<polyline points="404.6,309.9 406.6,308.3 417.3,302.1 425,299.1 440.3,294.5 455.7,291.4 468,288.3 478.7,286 487.9,283 494,280.7" fill="none" stroke="#d9a322" stroke-width="2.0" stroke-linejoin="round" stroke-linecap="round"/>
<circle cx="500.9" cy="234.2" r="0.9" fill="#ff6fd2"/>
<circle cx="495.6" cy="257.7" r="0.9" fill="#1fadf5"/>
<circle cx="497.9" cy="277.5" r="0.9" fill="#25c979"/>
<line x1="404.4" y1="309.9" x2="505.7" y2="276.5" stroke="#000" stroke-width="0.6" />
<line x1="403" y1="356.5" x2="505.85" y2="356.5" stroke="#c8c8c8" stroke-width="0.5" stroke-dasharray="1.6,1.6" />
<line x1="403" y1="388.1" x2="505.85" y2="388.1" stroke="#ff3b3b" stroke-width="0.8" stroke-dasharray="1.9,1.25" />
<line x1="403.5" y1="332.5" x2="403.5" y2="421.9" stroke="#6e6e6e" stroke-width="0.9" />
<line x1="403" y1="421.9" x2="505.85" y2="421.9" stroke="#6e6e6e" stroke-width="0.9" />
<line x1="401.8" y1="334.4" x2="403" y2="334.4" stroke="#6e6e6e" stroke-width="0.5" />
<text x="401.3" y="336.4" font-size="5.6" text-anchor="end" font-weight="normal" fill="#222"   stroke="#222" stroke-width="0.1">150</text>
<line x1="401.8" y1="342.5" x2="403" y2="342.5" stroke="#6e6e6e" stroke-width="0.5" />
<text x="401.3" y="344.5" font-size="5.6" text-anchor="end" font-weight="normal" fill="#222"   stroke="#222" stroke-width="0.1">100</text>
<line x1="401.8" y1="351" x2="403" y2="351" stroke="#6e6e6e" stroke-width="0.5" />
<text x="401.3" y="353" font-size="5.6" text-anchor="end" font-weight="normal" fill="#222"   stroke="#222" stroke-width="0.1">50</text>
<line x1="401.8" y1="356.5" x2="403" y2="356.5" stroke="#6e6e6e" stroke-width="0.5" />
<text x="401.3" y="358.5" font-size="5.6" text-anchor="end" font-weight="normal" fill="#222"   stroke="#222" stroke-width="0.1">15</text>
<line x1="401.8" y1="377.25" x2="403" y2="377.25" stroke="#6e6e6e" stroke-width="0.5" />
<text x="401.3" y="379.25" font-size="5.6" text-anchor="end" font-weight="normal" fill="#222"   stroke="#222" stroke-width="0.1">10</text>
<line x1="401.8" y1="397.5" x2="403" y2="397.5" stroke="#6e6e6e" stroke-width="0.5" />
<text x="401.3" y="399.5" font-size="5.6" text-anchor="end" font-weight="normal" fill="#222"   stroke="#222" stroke-width="0.1">5</text>
<line x1="407.5" y1="421.9" x2="407.5" y2="423.1" stroke="#6e6e6e" stroke-width="0.5" />
<text x="407.5" y="428.3" font-size="5.6" text-anchor="middle" font-weight="normal" fill="#222"   stroke="#222" stroke-width="0.1">0</text>
<line x1="434.86" y1="421.9" x2="434.86" y2="423.1" stroke="#6e6e6e" stroke-width="0.5" />
<text x="434.86" y="428.3" font-size="5.6" text-anchor="middle" font-weight="normal" fill="#222"   stroke="#222" stroke-width="0.1">2</text>
<line x1="462.22" y1="421.9" x2="462.22" y2="423.1" stroke="#6e6e6e" stroke-width="0.5" />
<text x="462.22" y="428.3" font-size="5.6" text-anchor="middle" font-weight="normal" fill="#222"   stroke="#222" stroke-width="0.1">4</text>
<line x1="489.58" y1="421.9" x2="489.58" y2="423.1" stroke="#6e6e6e" stroke-width="0.5" />
<text x="489.58" y="428.3" font-size="5.6" text-anchor="middle" font-weight="normal" fill="#222"   stroke="#222" stroke-width="0.1">6</text>
<line x1="404.4" y1="419.5" x2="505.7" y2="388.47" stroke="#000" stroke-width="0.6" />
<polyline points="404.6,419.2 412.1,414.2 422.3,404 435.8,394 452.6,382.2 469.5,372.9 484.7,364.4 492.3,359.4" fill="none" stroke="#d9a322" stroke-width="2.0" stroke-linejoin="round" stroke-linecap="round"/>
<polyline points="404.6,419 412.1,415.1 418.9,412.5 435.8,395.7 452.6,378.8 464.4,368.7 479.6,356.8 491.5,356.5" fill="none" stroke="#25c979" stroke-width="2.0" stroke-linejoin="round" stroke-linecap="round"/>
<polyline points="404.6,419 418.9,413.3 435.8,407.4 452.6,399 461,393.9 472.9,389.8 481.3,384.7 484.7,381.3" fill="none" stroke="#1fadf5" stroke-width="2.0" stroke-linejoin="round" stroke-linecap="round"/>
<polyline points="404.6,419 466.2,400.8 468.8,395.7 469.6,391.5 473,389.8 476.4,386.4 483.1,383 489.9,380.5 494.2,380.5" fill="none" stroke="#ff6fd2" stroke-width="2.0" stroke-linejoin="round" stroke-linecap="round"/>
<circle cx="497.5" cy="380.5" r="0.9" fill="#ff6fd2"/>
<circle cx="501.7" cy="379.7" r="0.9" fill="#ff6fd2"/>
<circle cx="486.4" cy="377.2" r="0.9" fill="#1fadf5"/>
<circle cx="489.1" cy="376" r="0.9" fill="#1fadf5"/>
<circle cx="493.4" cy="369.6" r="0.9" fill="#1fadf5"/>
<circle cx="496.1" cy="356.3" r="0.9" fill="#25c979"/>
<circle cx="499.9" cy="356.5" r="0.9" fill="#25c979"/>
<circle cx="497.1" cy="356.5" r="0.9" fill="#d9a322"/>
<circle cx="502.1" cy="356.6" r="0.9" fill="#d9a322"/>
<line x1="404.4" y1="419.5" x2="505.7" y2="388.47" stroke="#000" stroke-width="0.6" />
<text transform="translate(9.1,319.6) rotate(-90)" font-size="7.7" text-anchor="middle" stroke="#000" stroke-width="0.15">Observed<tspan dx="2.0">&#8722;</tspan><tspan dx="0.2">log</tspan><tspan font-size="5.2" dy="1.3">10</tspan><tspan dy="-1.3" font-style="italic">P</tspan></text>
<text x="266.1" y="436.4" font-size="7.6" text-anchor="middle" stroke="#000" stroke-width="0.15">Expected<tspan dx="2.6">&#8722;</tspan><tspan dx="0.6">log</tspan><tspan font-size="5.3" dy="1.3">10</tspan><tspan dy="-1.3" font-style="italic">P</tspan></text>
<text transform="translate(510.7,267.5) rotate(90)" font-size="7.7" text-anchor="middle" stroke="#000" stroke-width="0.15">Testing for &#946;<tspan font-size="5.3" dy="1.3">g</tspan><tspan dy="-1.3"> = 0</tspan></text>
<text transform="translate(510.7,377) rotate(90)" font-size="7.7" text-anchor="middle" stroke="#000" stroke-width="0.15">Testing for &#964;<tspan font-size="5.3" dy="1.3">g</tspan><tspan dy="-1.3"> = 0</tspan></text>
<circle cx="118.6" cy="450.2" r="2.4" fill="#ff6fd2"/>
<text x="124.2" y="453.3" font-size="7.8" text-anchor="start" font-weight="normal" fill="#000"  stroke="#000" stroke-width="0.18">Common Variants</text>
<circle cx="191.7" cy="450.2" r="2.4" fill="#1fadf5"/>
<text x="197.3" y="453.3" font-size="7.8" text-anchor="start" font-weight="normal" fill="#000"  stroke="#000" stroke-width="0.18">Low&#8722;frequency Variants</text>
<circle cx="286.7" cy="450.2" r="2.4" fill="#25c979"/>
<text x="292.3" y="453.3" font-size="7.8" text-anchor="start" font-weight="normal" fill="#000"  stroke="#000" stroke-width="0.18">Rare Variants</text>
<circle cx="345.5" cy="450.2" r="2.4" fill="#d9a322"/>
<text x="351.1" y="453.3" font-size="7.8" text-anchor="start" font-weight="normal" fill="#000"  stroke="#000" stroke-width="0.18">Ultra&#8722;rare Variants</text>
<text x="617.5" y="216.8" font-size="7.9" font-weight="bold" text-anchor="middle">SPA<tspan font-size="5.5" dy="1.0">GRM</tspan><tspan dy="-1.0"> &amp; SPA</tspan><tspan font-size="5.5" dy="1.0" letter-spacing="0.25">GRM(CCT)</tspan></text>
<polygon points="565.2,306.8 566.2,303.7 569.2,298.6 572.3,295.5 577.4,293 581.5,291.4 586.6,287.9 591.7,283.3 596.8,281.7 600.9,280.7 604,282.3 601.9,285.3 596.8,288.4 589.7,292.5 583.5,297.6 578.4,301.7 571.3,306.8 567.2,308.3" fill="#f8766d"/>
<path fill="#f8766d" d="M599.47 282h0.9v0.9h-0.9zM575.85 293.86h0.9v0.9h-0.9zM588.2 288.56h0.9v0.9h-0.9zM585.84 290.3h0.9v0.9h-0.9zM576.38 295.93h0.9v0.9h-0.9zM583.62 289.54h0.9v0.9h-0.9zM585 291.08h0.9v0.9h-0.9zM588.59 286.25h0.9v0.9h-0.9zM597.83 283.11h0.9v0.9h-0.9zM582.58 289.81h0.9v0.9h-0.9zM583.29 291.67h0.9v0.9h-0.9zM591.67 284.97h0.9v0.9h-0.9zM590.84 287.07h0.9v0.9h-0.9zM582.87 290.48h0.9v0.9h-0.9zM577.61 294.1h0.9v0.9h-0.9zM579.94 290.96h0.9v0.9h-0.9zM582.31 291.46h0.9v0.9h-0.9zM582.37 290.16h0.9v0.9h-0.9zM582.24 292.91h0.9v0.9h-0.9zM592.54 285.07h0.9v0.9h-0.9zM589.24 287.32h0.9v0.9h-0.9zM599.4 284.44h0.9v0.9h-0.9zM575.78 294.87h0.9v0.9h-0.9zM593.86 281.97h0.9v0.9h-0.9zM595.74 283.93h0.9v0.9h-0.9zM599.25 280.89h0.9v0.9h-0.9zM598.49 282.32h0.9v0.9h-0.9zM575.86 294.61h0.9v0.9h-0.9zM598.49 282.29h0.9v0.9h-0.9zM576.6 294h0.9v0.9h-0.9zM588.41 287.3h0.9v0.9h-0.9zM585.89 289.08h0.9v0.9h-0.9zM584.41 289.72h0.9v0.9h-0.9zM596.58 282.16h0.9v0.9h-0.9zM592.49 284.72h0.9v0.9h-0.9zM580.25 293.1h0.9v0.9h-0.9zM592.78 284.35h0.9v0.9h-0.9zM596.2 284.78h0.9v0.9h-0.9zM581.27 290.27h0.9v0.9h-0.9zM581.11 291.96h0.9v0.9h-0.9zM587.96 287.51h0.9v0.9h-0.9zM587.6 287.88h0.9v0.9h-0.9zM593.39 285.51h0.9v0.9h-0.9zM595.33 285.96h0.9v0.9h-0.9zM579.41 292.2h0.9v0.9h-0.9zM585.45 289.43h0.9v0.9h-0.9zM590.68 285.93h0.9v0.9h-0.9zM587 287.62h0.9v0.9h-0.9zM582.3 291.15h0.9v0.9h-0.9zM597.16 282.48h0.9v0.9h-0.9zM593.41 283.59h0.9v0.9h-0.9zM581.49 292.22h0.9v0.9h-0.9zM582.9 291.11h0.9v0.9h-0.9zM582.79 290.93h0.9v0.9h-0.9zM585.84 288.63h0.9v0.9h-0.9zM582.04 291.99h0.9v0.9h-0.9zM581.78 291h0.9v0.9h-0.9zM576.87 294.11h0.9v0.9h-0.9zM587.04 288.26h0.9v0.9h-0.9zM581.43 291.37h0.9v0.9h-0.9zM617.49 269.97h1v1h-1zM615.16 272.71h1v1h-1zM606.58 277.94h1v1h-1zM613.29 273.37h1v1h-1zM610.12 277.8h1v1h-1zM614.43 275.5h1v1h-1zM616.78 271.02h1v1h-1zM613.59 274.89h1v1h-1zM610.43 274.02h1v1h-1zM615.34 271.12h1v1h-1zM612.16 274.39h1v1h-1zM606.03 278.32h1v1h-1zM609.65 276.71h1v1h-1zM612.21 273.78h1v1h-1zM608.42 274.98h1v1h-1zM616.18 272.46h1v1h-1zM618.12 270.13h1v1h-1zM609.79 274.33h1v1h-1zM603.79 280.2h1v1h-1zM614.03 272.21h1v1h-1zM610.62 276.04h1v1h-1zM610.7 274.48h1v1h-1zM610.01 276.46h1v1h-1zM612.93 273.38h1v1h-1zM613.4 270.65h1v1h-1zM610.96 273.83h1v1h-1zM614.83 272.56h1v1h-1zM613.03 273.43h1v1h-1zM615.06 272.11h1v1h-1zM606.05 279.34h1v1h-1zM617.48 268.83h1v1h-1zM613.35 273.76h1v1h-1zM613.64 274.32h1v1h-1zM610.9 274.59h1v1h-1zM604.81 279.13h1v1h-1zM612.6 274.64h1v1h-1zM613.66 271.74h1v1h-1zM605.64 279.82h1v1h-1zM607.8 278.12h1v1h-1zM611.96 273.68h1v1h-1zM618.97 270.58h1v1h-1zM612.51 273.87h1v1h-1zM614.97 272.58h1v1h-1zM608.01 277.48h1v1h-1zM606.07 278.3h1v1h-1zM605.9 277.53h1v1h-1zM616.59 269.62h1v1h-1zM605.55 275.82h1v1h-1zM613.55 273.01h1v1h-1zM614.28 272.23h1v1h-1zM615.75 272.31h1v1h-1zM604.97 278.68h1v1h-1zM619.21 270.24h1v1h-1zM613.59 271.84h1v1h-1zM614.85 271.59h1v1h-1zM614.43 272.92h1v1h-1zM612.08 274.2h1v1h-1zM616.62 271.82h1v1h-1zM612.16 272.1h1v1h-1zM607.74 276.17h1v1h-1zM607.09 279.23h1v1h-1zM616.85 269.61h1v1h-1zM611.64 273.77h1v1h-1zM609.91 273.34h1v1h-1zM615.58 271.34h1v1h-1zM613.14 272.59h1v1h-1zM617.65 270.23h1v1h-1zM610.88 275.25h1v1h-1zM612.69 274.68h1v1h-1zM605.75 279.6h1v1h-1zM615.84 271.25h1v1h-1zM611.83 274.61h1v1h-1zM613.96 273.86h1v1h-1zM615 273.51h1v1h-1zM613.05 272.54h1v1h-1zM605.76 278.87h1v1h-1zM612.84 272.89h1v1h-1zM609.75 276.95h1v1h-1zM611.12 274.16h1v1h-1zM612.35 274.26h1v1h-1zM608.33 276.53h1v1h-1zM605.7 278.26h1v1h-1zM614.91 273.88h1v1h-1zM613.19 270.56h1v1h-1zM615.82 268.99h1v1h-1zM606.01 279.36h1v1h-1zM612.68 274.26h1v1h-1zM611.22 272.17h1v1h-1zM609.72 274.6h1v1h-1zM609.56 276.24h1v1h-1zM622.02 265.88h1v1h-1zM622.32 264.86h1v1h-1zM632.28 258.16h1v1h-1zM631.12 260.41h1v1h-1zM629.07 264.04h1v1h-1zM627.27 262.18h1v1h-1zM622.32 263.72h1v1h-1zM627.16 262.61h1v1h-1zM632.07 260.67h1v1h-1zM623.67 262.89h1v1h-1zM629.38 261.64h1v1h-1zM628.65 261.36h1v1h-1zM625.61 264.4h1v1h-1zM623.94 264.73h1v1h-1zM621.86 265.28h1v1h-1zM627.11 263.86h1v1h-1zM624.45 262.56h1v1h-1zM626.96 261.18h1v1h-1zM631.39 258h1v1h-1zM629.92 261.64h1v1h-1zM630.72 259.01h1v1h-1zM631.66 258.99h1v1h-1zM630.01 261.54h1v1h-1zM631.43 259.82h1v1h-1zM627.15 264.39h1v1h-1zM629.29 261.39h1v1h-1zM631.14 259.57h1v1h-1zM631.4 258.27h1v1h-1zM630.73 261.31h1v1h-1zM623.38 263.59h1v1h-1zM631.05 260.73h1v1h-1zM627.28 262.87h1v1h-1zM632.78 258.81h1v1h-1zM631.14 260.72h1v1h-1zM628.83 261.86h1v1h-1zM623.46 265.29h1v1h-1zM632.96 259.85h1v1h-1zM624.52 263.89h1v1h-1zM626.18 262.75h1v1h-1zM626.14 263.63h1v1h-1zM630.48 262.21h1v1h-1zM625.2 263.12h1v1h-1zM623.42 265.06h1v1h-1zM625.15 264.03h1v1h-1zM630.21 259.75h1v1h-1zM627.74 261.84h1v1h-1zM622.72 264.92h1v1h-1zM626.37 260.88h1v1h-1zM621.67 265.75h1v1h-1zM629.87 261.96h1v1h-1zM631.08 258.87h1v1h-1zM631.99 258.65h1v1h-1zM628.78 263.07h1v1h-1zM630.92 259.24h1v1h-1zM631.98 258.61h1v1h-1zM630.66 261.01h1v1h-1zM633.51 260.21h1v1h-1zM625.23 262.2h1v1h-1zM631.85 260h1v1h-1zM627.83 263.01h1v1h-1zM624.44 265.23h1v1h-1zM622.75 265.86h1v1h-1zM623.96 262.88h1v1h-1zM622.83 264.57h1v1h-1zM631.34 261.26h1v1h-1zM632.06 259.97h1v1h-1zM626.87 261.95h1v1h-1zM625.15 263.46h1v1h-1zM632.87 259.18h1v1h-1zM630.52 260.81h1v1h-1zM628 262.55h1v1h-1zM624.11 263.55h1v1h-1zM627.06 261.14h1v1h-1zM624.78 262.67h1v1h-1zM629.78 260.52h1v1h-1zM621.84 265.16h1v1h-1zM632.93 258.82h1v1h-1zM631.66 258.73h1v1h-1zM628.57 262.62h1v1h-1zM621.56 264.79h1v1h-1zM619.4 265.5h1v1h-1zM620.5 268h1v1h-1zM639.5 252.8h1v1h-1zM641 249.1h1v1h-1zM642.5 248.5h1v1h-1zM645.5 246.5h1v1h-1zM653.7 239.4h1v1h-1zM658.2 235.7h1v1h-1zM659.5 234h1v1h-1zM662.6 231.2h1v1h-1zM664 230.5h1v1h-1zM667.1 227.2h1v1h-1zM668.3 226.1h1v1h-1zM600.7 287.2h1v1h-1zM603 286.5h1v1h-1zM605.9 285.7h1v1h-1zM584.5 298h1v1h-1zM589.5 295h1v1h-1zM596.5 290h1v1h-1z"/>
<path fill="#f8766d" d="M597.6 280.52h0.8v0.8h-0.8zM576.8 292.32h0.8v0.8h-0.8zM573.05 294.55h0.8v0.8h-0.8zM582.83 288.49h0.8v0.8h-0.8zM578.49 291.48h0.8v0.8h-0.8zM587.27 286.51h0.8v0.8h-0.8zM581.96 289.97h0.8v0.8h-0.8zM579.21 292.81h0.8v0.8h-0.8zM581.61 288.97h0.8v0.8h-0.8zM576.35 292.17h0.8v0.8h-0.8zM580.89 290.94h0.8v0.8h-0.8zM586.14 288.3h0.8v0.8h-0.8zM595.79 281.95h0.8v0.8h-0.8zM584.53 289.88h0.8v0.8h-0.8zM588.59 284.42h0.8v0.8h-0.8zM577.21 292.48h0.8v0.8h-0.8zM589.87 283.21h0.8v0.8h-0.8zM589.28 285.69h0.8v0.8h-0.8zM583.83 289.7h0.8v0.8h-0.8zM572.4 294.81h0.8v0.8h-0.8zM575.57 293.17h0.8v0.8h-0.8zM593.33 281.86h0.8v0.8h-0.8zM574.56 293.46h0.8v0.8h-0.8zM572.6 295.82h0.8v0.8h-0.8zM584.55 290h0.8v0.8h-0.8zM583.29 289.57h0.8v0.8h-0.8zM598.34 279.4h0.8v0.8h-0.8zM581.97 289.86h0.8v0.8h-0.8zM583.07 289.31h0.8v0.8h-0.8zM592.09 281.29h0.8v0.8h-0.8zM576.36 292.29h0.8v0.8h-0.8zM578.71 292.22h0.8v0.8h-0.8zM575.37 293.39h0.8v0.8h-0.8zM582.26 289.84h0.8v0.8h-0.8zM572.54 294.47h0.8v0.8h-0.8zM574.27 292.86h0.8v0.8h-0.8zM599.55 281.76h0.8v0.8h-0.8zM595.37 281.51h0.8v0.8h-0.8zM592.4 283.11h0.8v0.8h-0.8zM578.87 291.92h0.8v0.8h-0.8zM572.63 294.05h0.8v0.8h-0.8zM582.5 289.29h0.8v0.8h-0.8zM593.7 282.14h0.8v0.8h-0.8zM575.34 294.06h0.8v0.8h-0.8zM578.82 292.39h0.8v0.8h-0.8zM593.36 281.43h0.8v0.8h-0.8zM597.17 280.63h0.8v0.8h-0.8zM600.05 279.65h0.8v0.8h-0.8zM574.32 292.49h0.8v0.8h-0.8zM591.78 283.54h0.8v0.8h-0.8zM582.26 290.91h0.8v0.8h-0.8zM592.98 281.11h0.8v0.8h-0.8zM579.73 290.99h0.8v0.8h-0.8zM596.36 280.18h0.8v0.8h-0.8zM586.87 288.21h0.8v0.8h-0.8zM578.08 291.59h0.8v0.8h-0.8zM588.77 285.71h0.8v0.8h-0.8zM581.44 291.87h0.8v0.8h-0.8zM600.94 279.33h0.8v0.8h-0.8zM596.24 282.46h0.8v0.8h-0.8zM596.8 290.5h0.9v0.9h-0.9zM600.9 288.5h0.9v0.9h-0.9zM606 286.5h0.9v0.9h-0.9zM586 296h0.9v0.9h-0.9zM592 293.5h0.9v0.9h-0.9zM581 298.5h0.9v0.9h-0.9z"/>
<path fill="#ffffff" d="M586.22 289.84h0.6v0.6h-0.6zM583.12 291.54h0.6v0.6h-0.6zM587.66 288.86h0.6v0.6h-0.6zM589.18 286.39h0.6v0.6h-0.6zM592.28 284.65h0.6v0.6h-0.6zM589.55 286.63h0.6v0.6h-0.6zM597.07 283.44h0.6v0.6h-0.6zM592.56 284.53h0.6v0.6h-0.6zM586.84 289.04h0.6v0.6h-0.6zM592.93 284.29h0.6v0.6h-0.6zM579.53 293.11h0.6v0.6h-0.6zM579.18 292.9h0.6v0.6h-0.6zM585.9 289.63h0.6v0.6h-0.6zM588.04 287.5h0.6v0.6h-0.6zM583.13 291.68h0.6v0.6h-0.6zM584.39 290.44h0.6v0.6h-0.6zM588.82 287.93h0.6v0.6h-0.6zM579.34 292.77h0.6v0.6h-0.6zM587.85 289.06h0.6v0.6h-0.6zM591.9 284.47h0.6v0.6h-0.6zM599.4 282.92h0.6v0.6h-0.6zM596.16 284.09h0.6v0.6h-0.6zM578.85 293.32h0.6v0.6h-0.6zM595.4 283.42h0.6v0.6h-0.6zM597.81 282.1h0.6v0.6h-0.6zM598.63 282.99h0.6v0.6h-0.6zM587.05 289.65h0.6v0.6h-0.6zM589.78 286.45h0.6v0.6h-0.6zM582.05 293.09h0.6v0.6h-0.6zM581.22 292.61h0.6v0.6h-0.6zM579.94 292.54h0.6v0.6h-0.6zM584.54 289.91h0.6v0.6h-0.6zM588.32 287.54h0.6v0.6h-0.6zM578.4 294.04h0.6v0.6h-0.6zM584.3 290.44h0.6v0.6h-0.6zM589.91 286.08h0.6v0.6h-0.6zM579.2 294.66h0.6v0.6h-0.6zM599.38 282.05h0.6v0.6h-0.6zM592.5 284.72h0.6v0.6h-0.6zM583.47 291.63h0.6v0.6h-0.6z"/>
<path fill="#1dbf74" d="M565.7 306.88h2.2l-1.1 -1.76z"/>
<line x1="577.4" y1="222" x2="577.4" y2="311" stroke="#ff3b3b" stroke-width="0.8" stroke-dasharray="1.9,1.25" />
<line x1="561" y1="300.3" x2="673.75" y2="300.3" stroke="#ff3b3b" stroke-width="0.8" stroke-dasharray="1.9,1.25" />
<line x1="561.1" y1="310.2" x2="673.6" y2="243.3" stroke="#000" stroke-width="0.6" />
<line x1="560.5" y1="222.3" x2="560.5" y2="311.25" stroke="#6e6e6e" stroke-width="0.9" />
<line x1="560.5" y1="311.25" x2="673.75" y2="311.25" stroke="#6e6e6e" stroke-width="0.9" />
<line x1="559.3" y1="229.75" x2="560.5" y2="229.75" stroke="#6e6e6e" stroke-width="0.5" />
<text x="558.8" y="231.75" font-size="5.6" text-anchor="end" font-weight="normal" fill="#222"   stroke="#222" stroke-width="0.1">80</text>
<line x1="559.3" y1="249.4" x2="560.5" y2="249.4" stroke="#6e6e6e" stroke-width="0.5" />
<text x="558.8" y="251.4" font-size="5.6" text-anchor="end" font-weight="normal" fill="#222"   stroke="#222" stroke-width="0.1">60</text>
<line x1="559.3" y1="268.5" x2="560.5" y2="268.5" stroke="#6e6e6e" stroke-width="0.5" />
<text x="558.8" y="270.5" font-size="5.6" text-anchor="end" font-weight="normal" fill="#222"   stroke="#222" stroke-width="0.1">40</text>
<line x1="559.3" y1="288.1" x2="560.5" y2="288.1" stroke="#6e6e6e" stroke-width="0.5" />
<text x="558.8" y="290.1" font-size="5.6" text-anchor="end" font-weight="normal" fill="#222"   stroke="#222" stroke-width="0.1">20</text>
<line x1="559.3" y1="307.6" x2="560.5" y2="307.6" stroke="#6e6e6e" stroke-width="0.5" />
<text x="558.8" y="309.6" font-size="5.6" text-anchor="end" font-weight="normal" fill="#222"   stroke="#222" stroke-width="0.1">0</text>
<line x1="565.6" y1="311.25" x2="565.6" y2="312.5" stroke="#6e6e6e" stroke-width="0.5" />
<text x="565.6" y="317.6" font-size="5.6" text-anchor="middle" font-weight="normal" fill="#222"   stroke="#222" stroke-width="0.1">0</text>
<line x1="598.5" y1="311.25" x2="598.5" y2="312.5" stroke="#6e6e6e" stroke-width="0.5" />
<text x="598.5" y="317.6" font-size="5.6" text-anchor="middle" font-weight="normal" fill="#222"   stroke="#222" stroke-width="0.1">20</text>
<line x1="631.4" y1="311.25" x2="631.4" y2="312.5" stroke="#6e6e6e" stroke-width="0.5" />
<text x="631.4" y="317.6" font-size="5.6" text-anchor="middle" font-weight="normal" fill="#222"   stroke="#222" stroke-width="0.1">40</text>
<line x1="664.3" y1="311.25" x2="664.3" y2="312.5" stroke="#6e6e6e" stroke-width="0.5" />
<text x="664.3" y="317.6" font-size="5.6" text-anchor="middle" font-weight="normal" fill="#222"   stroke="#222" stroke-width="0.1">60</text>
<polygon points="564.9,401.3 580,401.2 592,400.8 600,400 610,398.8 619.5,398.5 622.5,399 622,404 619.8,409.5 608,413.5 601,416.1 564.9,416.1" fill="#f8766d"/>
<path fill="#f8766d" d="M565 400.88h0.6v0.72h-0.6zM565.6 400.86h0.6v0.74h-0.6zM566.2 400.57h0.6v1.03h-0.6zM566.8 401.23h0.6v0.37h-0.6zM567.4 400.93h0.6v0.67h-0.6zM568 399.73h0.6v1.87h-0.6zM568.6 400.07h0.6v1.53h-0.6zM569.2 400.77h0.6v0.83h-0.6zM569.8 399.71h0.6v1.89h-0.6zM570.4 400.77h0.6v0.83h-0.6zM571 399.94h0.6v1.66h-0.6zM571.6 400.78h0.6v0.82h-0.6zM572.2 399.87h0.6v1.73h-0.6zM572.8 400.58h0.6v1.02h-0.6zM573.4 399.91h0.6v1.69h-0.6zM574 401.08h0.6v0.52h-0.6zM574.6 400.67h0.6v0.93h-0.6zM575.2 400.75h0.6v0.85h-0.6zM575.8 400.05h0.6v1.55h-0.6zM576.4 399.92h0.6v1.68h-0.6zM577 401.08h0.6v0.52h-0.6zM577.6 400.64h0.6v0.96h-0.6zM578.2 401.02h0.6v0.58h-0.6zM578.8 401.19h0.6v0.41h-0.6zM579.4 401.09h0.6v0.51h-0.6zM580 401.18h0.6v0.42h-0.6zM580.6 400.8h0.6v0.8h-0.6zM581.2 400.57h0.6v1.03h-0.6zM581.8 399.74h0.6v1.86h-0.6zM582.4 400.15h0.6v1.45h-0.6zM583 399.92h0.6v1.68h-0.6zM583.6 400.69h0.6v0.91h-0.6zM584.2 400.69h0.6v0.91h-0.6zM584.8 400.5h0.6v1.1h-0.6zM585.4 400.84h0.6v0.76h-0.6zM586 401.26h0.6v0.34h-0.6zM586.6 400.73h0.6v0.87h-0.6zM587.2 399.34h0.6v2.26h-0.6zM587.8 401.19h0.6v0.41h-0.6zM588.4 400.19h0.6v1.41h-0.6zM589 400.78h0.6v0.82h-0.6zM589.6 399.56h0.6v2.04h-0.6zM590.2 401.21h0.6v0.39h-0.6zM590.8 400.09h0.6v1.51h-0.6zM591.4 399.55h0.6v2.05h-0.6zM592 400.16h0.6v1.44h-0.6zM592.6 400.89h0.6v0.66h-0.6zM593.2 398.93h0.6v2.56h-0.6zM593.8 401.08h0.6v0.35h-0.6zM594.4 398.64h0.6v2.74h-0.6zM595 398.83h0.6v2.49h-0.6zM595.6 398.56h0.6v2.7h-0.6zM596.2 398.52h0.6v2.69h-0.6zM596.8 399.82h0.6v1.34h-0.6zM597.4 399.02h0.6v2.08h-0.6zM598 399.38h0.6v1.66h-0.6zM598.6 398.97h0.6v2.01h-0.6zM599.2 399.5h0.6v1.43h-0.6zM599.8 398h0.6v2.88h-0.6zM600.4 399.57h0.6v1.24h-0.6zM601 398.72h0.6v2.04h-0.6zM601.6 400.19h0.6v0.51h-0.6zM602.2 400.16h0.6v0.49h-0.6zM602.8 397.43h0.6v3.16h-0.6zM603.4 399.07h0.6v1.47h-0.6zM604 398.94h0.6v1.54h-0.6zM604.6 396.82h0.6v3.61h-0.6zM605.2 397.61h0.6v2.76h-0.6zM605.8 399.48h0.6v0.84h-0.6zM606.4 398.06h0.6v2.19h-0.6zM607 398.2h0.6v2h-0.6zM607.6 397.68h0.6v2.46h-0.6zM608.2 398.8h0.6v1.29h-0.6zM608.8 398.72h0.6v1.31h-0.6zM609.4 396.18h0.6v3.8h-0.6zM610 397.39h0.6v2.53h-0.6zM610.6 397.48h0.6v2.39h-0.6zM611.2 396.86h0.6v2.95h-0.6zM611.8 396.54h0.6v3.21h-0.6zM612.4 398.7h0.6v1h-0.6zM613 396.24h0.6v3.4h-0.6zM613.6 397.35h0.6v2.23h-0.6zM614.2 398.62h0.6v0.91h-0.6zM614.8 397.88h0.6v1.59h-0.6zM615.4 395.03h0.6v4.39h-0.6zM616 395.53h0.6v3.83h-0.6zM616.6 395.2h0.6v4.11h-0.6zM617.2 396.82h0.6v2.43h-0.6zM617.8 396.16h0.6v3.04h-0.6zM618.4 397.12h0.6v2.02h-0.6zM619 395.56h0.6v3.52h-0.6zM619.6 396.35h0.6v2.67h-0.6zM620.2 397.07h0.6v1.9h-0.6zM620.8 394.2h0.6v4.71h-0.6zM621.4 396.27h0.6v2.58h-0.6zM567.3 399.64h1.1v1.1h-1.1zM570.47 400.72h1.1v1.1h-1.1zM590.82 400.52h1.1v1.1h-1.1zM590.61 399.84h1.1v1.1h-1.1zM595.22 398.33h1.1v1.1h-1.1zM604.07 400.8h1.1v1.1h-1.1zM578.52 400.86h1.1v1.1h-1.1zM583.97 400.13h1.1v1.1h-1.1zM613.55 400.92h1.1v1.1h-1.1zM611.18 400.12h1.1v1.1h-1.1zM607.22 392.67h1.1v1.1h-1.1zM621.21 394.5h1.1v1.1h-1.1zM568.16 400.72h1.1v1.1h-1.1zM589.84 398.84h1.1v1.1h-1.1zM620.21 385.68h1.1v1.1h-1.1zM568.6 400.89h1.1v1.1h-1.1zM602.14 400.18h1.1v1.1h-1.1zM598.26 398.91h1.1v1.1h-1.1zM596.06 399.87h1.1v1.1h-1.1zM616.89 398.74h1.1v1.1h-1.1zM585.57 400.73h1.1v1.1h-1.1zM581.52 400.82h1.1v1.1h-1.1zM601.44 400.93h1.1v1.1h-1.1zM578.83 399.17h1.1v1.1h-1.1zM613.56 398.63h1.1v1.1h-1.1zM606.88 393.77h1.1v1.1h-1.1zM602.06 397.59h1.1v1.1h-1.1zM607.97 399.24h1.1v1.1h-1.1zM583.87 400.58h1.1v1.1h-1.1zM578.16 400.22h1.1v1.1h-1.1zM595.74 400.45h1.1v1.1h-1.1zM569.86 400.98h1.1v1.1h-1.1zM577.15 400.82h1.1v1.1h-1.1zM600.4 395.57h1.1v1.1h-1.1zM595.46 398.35h1.1v1.1h-1.1zM589.01 400.86h1.1v1.1h-1.1zM607.59 394.49h1.1v1.1h-1.1zM573.42 400.66h1.1v1.1h-1.1zM603.91 396.33h1.1v1.1h-1.1zM574.35 400.54h1.1v1.1h-1.1zM586.98 399.69h1.1v1.1h-1.1zM611.75 400.16h1.1v1.1h-1.1zM586.43 396.87h1.1v1.1h-1.1zM575.12 400.81h1.1v1.1h-1.1zM609.8 396.19h1.1v1.1h-1.1zM592.13 399.67h1.1v1.1h-1.1zM568.55 400.16h1.1v1.1h-1.1zM580.07 400.32h1.1v1.1h-1.1zM617.94 396.38h1.1v1.1h-1.1zM587.5 400.26h1.1v1.1h-1.1zM581.23 399.81h1.1v1.1h-1.1zM605.83 400.49h1.1v1.1h-1.1zM565.25 400.6h1.1v1.1h-1.1zM574.43 400.15h1.1v1.1h-1.1zM574.17 400.35h1.1v1.1h-1.1zM592.05 393.19h1.1v1.1h-1.1zM583.25 400.58h1.1v1.1h-1.1zM584.24 399.45h1.1v1.1h-1.1zM578.7 400.69h1.1v1.1h-1.1zM605.54 397.9h1.1v1.1h-1.1zM569.07 399.46h1.1v1.1h-1.1zM572.23 400.69h1.1v1.1h-1.1zM596.13 399.38h1.1v1.1h-1.1zM608.65 400.25h1.1v1.1h-1.1zM602.32 400.3h1.1v1.1h-1.1zM571.63 399.97h1.1v1.1h-1.1zM609.23 400.45h1.1v1.1h-1.1zM566.9 400.82h1.1v1.1h-1.1zM597.76 400.91h1.1v1.1h-1.1zM619.18 400.87h1.1v1.1h-1.1zM607.3 393.76h1.1v1.1h-1.1zM586.9 398.21h1.1v1.1h-1.1zM575 399.58h1.1v1.1h-1.1zM597.76 395.53h1.1v1.1h-1.1zM610.26 393.25h1.1v1.1h-1.1zM614.24 399.28h1.1v1.1h-1.1zM566.79 400.85h1.1v1.1h-1.1zM607.6 397.73h1.1v1.1h-1.1zM593.13 399.54h1.1v1.1h-1.1zM566.43 398.91h1.1v1.1h-1.1zM597.43 398.51h1.1v1.1h-1.1zM593.18 396.06h1.1v1.1h-1.1zM591.94 399.34h1.1v1.1h-1.1zM610.51 400.19h1.1v1.1h-1.1zM612.07 395.72h1.1v1.1h-1.1zM583.95 400.77h1.1v1.1h-1.1zM594.36 400.16h1.1v1.1h-1.1zM565.11 399.61h1.1v1.1h-1.1zM607.63 390.67h1.1v1.1h-1.1zM608.46 398.58h1.1v1.1h-1.1zM617.1 399.2h1.1v1.1h-1.1zM579.69 400.27h1.1v1.1h-1.1zM603.63 400.61h1.1v1.1h-1.1zM568.28 398.82h1.1v1.1h-1.1zM565.79 399.91h1.1v1.1h-1.1zM591.74 394.17h1.1v1.1h-1.1zM613.97 397.37h1.1v1.1h-1.1zM596.17 397.83h1.1v1.1h-1.1zM579.9 400.98h1.1v1.1h-1.1zM621.49 394.99h1.1v1.1h-1.1zM610.6 397.07h1.1v1.1h-1.1zM569.33 400.91h1.1v1.1h-1.1zM578.38 397.34h1.1v1.1h-1.1zM611.5 399.17h1.1v1.1h-1.1zM590.44 394.15h1.1v1.1h-1.1zM593.81 400.1h1.1v1.1h-1.1zM595.14 400.53h1.1v1.1h-1.1zM597.46 400.79h1.1v1.1h-1.1zM594.66 400.71h1.1v1.1h-1.1zM567.24 399.87h1.1v1.1h-1.1zM593.79 400.59h1.1v1.1h-1.1zM587.73 397.23h1.1v1.1h-1.1zM585.58 400.51h1.1v1.1h-1.1zM592.37 396.05h1.1v1.1h-1.1zM600.11 398.94h1.1v1.1h-1.1zM600.78 399.56h1.1v1.1h-1.1zM618.27 398.83h1.1v1.1h-1.1zM577.46 400.3h1.1v1.1h-1.1zM610.65 393.46h1.1v1.1h-1.1zM602.65 400.99h1.1v1.1h-1.1zM610.56 388.68h1.1v1.1h-1.1zM572.17 400.81h1.1v1.1h-1.1zM577.45 400.85h1.1v1.1h-1.1zM573.3 400.37h1.1v1.1h-1.1zM604.6 398.54h1.1v1.1h-1.1zM595.8 397.97h1.1v1.1h-1.1zM612.02 381.61h1.1v1.1h-1.1zM605.25 398.21h1.1v1.1h-1.1zM568.21 400.72h1.1v1.1h-1.1zM575.98 397.84h1.1v1.1h-1.1zM606.48 400.41h1.1v1.1h-1.1zM584.27 400.21h1.1v1.1h-1.1zM600.81 388.87h1.1v1.1h-1.1zM583.98 399.29h1.1v1.1h-1.1zM588.53 396.78h1.1v1.1h-1.1zM593.56 397.61h1.1v1.1h-1.1zM598.24 397.26h1.1v1.1h-1.1zM608.03 398.74h1.1v1.1h-1.1zM590.44 399.07h1.1v1.1h-1.1zM605.73 397.28h1.1v1.1h-1.1zM585.49 399.97h1.1v1.1h-1.1zM594.05 399.85h1.1v1.1h-1.1zM583.31 400.91h1.1v1.1h-1.1zM568.79 400.86h1.1v1.1h-1.1zM569.98 400.61h1.1v1.1h-1.1zM620.24 397.25h1.1v1.1h-1.1zM617.01 393.39h1.1v1.1h-1.1zM618.05 393.85h1.1v1.1h-1.1zM619.58 389.3h1.1v1.1h-1.1zM569.51 401h1.1v1.1h-1.1zM619.79 397.99h1.1v1.1h-1.1zM602.29 390.11h1.1v1.1h-1.1zM621.24 395.35h1.1v1.1h-1.1zM583.73 399.75h1.1v1.1h-1.1zM604.73 400.61h1.1v1.1h-1.1zM610.79 400.98h1.1v1.1h-1.1zM587.11 397.9h1.1v1.1h-1.1zM615.57 388.77h1.1v1.1h-1.1zM614.3 397.43h1.1v1.1h-1.1zM589.21 399.79h1.1v1.1h-1.1zM594.46 400.4h1.1v1.1h-1.1zM586.17 399.96h1.1v1.1h-1.1zM566.07 400.32h1.1v1.1h-1.1zM568.68 400.33h1.1v1.1h-1.1zM568.38 400.83h1.1v1.1h-1.1zM591.11 398.07h1.1v1.1h-1.1zM621.34 389.94h1.1v1.1h-1.1zM611.64 397.97h1.1v1.1h-1.1zM594.51 399.07h1.1v1.1h-1.1zM620.24 387.18h1.1v1.1h-1.1zM600.23 395.44h1.1v1.1h-1.1zM612.95 397.74h1.1v1.1h-1.1zM616.74 392.06h1.1v1.1h-1.1zM607.46 390.21h1.1v1.1h-1.1zM603.46 397.6h1.1v1.1h-1.1zM613.36 397.05h1.1v1.1h-1.1zM605.82 396.28h1.1v1.1h-1.1zM600.29 393.23h1.1v1.1h-1.1zM605.62 390.95h1.1v1.1h-1.1zM617.8 387.54h1.1v1.1h-1.1zM617.19 395.19h1.1v1.1h-1.1zM617.88 392.16h1.1v1.1h-1.1zM616.19 393.84h1.1v1.1h-1.1zM610.37 394.72h1.1v1.1h-1.1zM604.71 394.46h1.1v1.1h-1.1zM603.16 387.87h1.1v1.1h-1.1zM612.98 387.81h1.1v1.1h-1.1zM616.58 390.11h1.1v1.1h-1.1zM616.4 391.04h1.1v1.1h-1.1zM612.88 391.39h1.1v1.1h-1.1zM612.5 389.58h1.1v1.1h-1.1zM604.11 390.57h1.1v1.1h-1.1zM617.68 397.87h1.1v1.1h-1.1zM606.96 398.51h1.1v1.1h-1.1zM616.83 389.14h1.1v1.1h-1.1zM611.14 389.94h1.1v1.1h-1.1zM606.2 391h1.1v1.1h-1.1zM604.03 394.25h1.1v1.1h-1.1zM603.91 391.32h1.1v1.1h-1.1zM602.54 390.57h1.1v1.1h-1.1zM613.94 390.8h1.1v1.1h-1.1zM617.45 388.77h1.1v1.1h-1.1zM600.5 390.36h1.1v1.1h-1.1zM609.27 391.07h1.1v1.1h-1.1zM607.2 396.1h1.1v1.1h-1.1zM611.93 390.27h1.1v1.1h-1.1zM615.83 391.65h1.1v1.1h-1.1zM610.28 391.64h1.1v1.1h-1.1zM613.62 394.15h1.1v1.1h-1.1zM608.97 389.48h1.1v1.1h-1.1zM601.39 390.5h1.1v1.1h-1.1zM615.3 398.14h1.1v1.1h-1.1zM607.3 388.33h1.1v1.1h-1.1zM603.58 398.26h1.1v1.1h-1.1zM602.31 392.29h1.1v1.1h-1.1zM601.3 393.21h1.1v1.1h-1.1zM606.2 398.81h1.1v1.1h-1.1zM617.7 393.29h1.1v1.1h-1.1zM615.04 395.25h1.1v1.1h-1.1zM608.33 396.36h1.1v1.1h-1.1zM600.62 389.43h1.1v1.1h-1.1zM614.85 393.45h1.1v1.1h-1.1zM612.3 394.46h1.1v1.1h-1.1zM615.15 390.39h1.1v1.1h-1.1zM603.19 390.83h1.1v1.1h-1.1zM615.62 393.3h1.1v1.1h-1.1zM613.74 396.38h1.1v1.1h-1.1zM606.17 395.98h1.1v1.1h-1.1zM614.17 393.36h1.1v1.1h-1.1zM609.47 392.91h1.1v1.1h-1.1zM608.19 389.92h1.1v1.1h-1.1zM610.33 397.35h1.1v1.1h-1.1zM604.58 392.3h1.1v1.1h-1.1zM606.72 390.91h1.1v1.1h-1.1zM616.67 395.87h1.1v1.1h-1.1zM601.56 393.44h1.1v1.1h-1.1zM606.29 391.7h1.1v1.1h-1.1zM601.99 394.43h1.1v1.1h-1.1zM606.47 395.29h1.1v1.1h-1.1zM602.16 393.45h1.1v1.1h-1.1zM565.8 392.4h1.2v1.2h-1.2zM569.4 397.9h1.2v1.2h-1.2zM567.4 398.4h1.2v1.2h-1.2zM572.4 397.9h1.2v1.2h-1.2zM582.4 392.9h1.2v1.2h-1.2zM586.4 394.4h1.2v1.2h-1.2zM589.4 388.4h1.2v1.2h-1.2zM592.4 389.4h1.2v1.2h-1.2zM595.4 383.9h1.2v1.2h-1.2zM599.4 385.4h1.2v1.2h-1.2zM602 373.2h1.2v1.2h-1.2zM604.4 372.9h1.2v1.2h-1.2zM607.4 377.6h1.2v1.2h-1.2zM609.9 382.9h1.2v1.2h-1.2zM612.9 361.9h1.2v1.2h-1.2zM615.2 361.9h1.2v1.2h-1.2zM620.4 360.1h1.2v1.2h-1.2zM621.4 364.4h1.2v1.2h-1.2zM616.9 369.8h1.2v1.2h-1.2zM617.8 374.7h1.2v1.2h-1.2zM602.9 373.3h1.2v1.2h-1.2zM607.3 377.6h1.2v1.2h-1.2zM636.2 383.8h1.2v1.2h-1.2zM631 404h1.2v1.2h-1.2zM652.9 340.8h1.2v1.2h-1.2zM658.2 337.3h1.2v1.2h-1.2zM660.8 339.9h1.2v1.2h-1.2zM663.4 333.8h1.2v1.2h-1.2zM663.9 335.4h1.2v1.2h-1.2zM659.9 342.6h1.2v1.2h-1.2zM661.7 352.2h1.2v1.2h-1.2zM659.9 357.4h1.2v1.2h-1.2zM663.4 358.4h1.2v1.2h-1.2zM603.9 391.4h1.2v1.2h-1.2zM602.4 375.4h1.2v1.2h-1.2zM614.4 379.4h1.2v1.2h-1.2zM602.4 373.4h1.2v1.2h-1.2zM612.4 373.4h1.2v1.2h-1.2zM628.89 356.05h1v1h-1zM633.14 355.89h1v1h-1zM625.42 356.31h1v1h-1zM630.72 356.52h1v1h-1zM636.06 356.07h1v1h-1zM623.22 356.64h1v1h-1zM623.29 355.37h1v1h-1zM624.37 355.62h1v1h-1zM625.85 356.87h1v1h-1zM623.05 356.01h1v1h-1zM635.21 356.3h1v1h-1zM629.5 356.24h1v1h-1zM631.57 356.69h1v1h-1zM625.35 356.44h1v1h-1zM630.29 360.65h1v1h-1zM632.89 359.93h1v1h-1zM635.98 358.46h1v1h-1zM629.98 360.01h1v1h-1zM632.34 359.29h1v1h-1zM631.63 359.54h1v1h-1zM633.57 359.23h1v1h-1zM631.99 359.55h1v1h-1zM631.09 360.83h1v1h-1zM633.78 359.6h1v1h-1zM629.31 392.1h1.2v1.2h-1.2zM639.61 388.31h1.2v1.2h-1.2zM631.96 389.99h1.2v1.2h-1.2zM628.34 391.92h1.2v1.2h-1.2zM630.86 389.67h1.2v1.2h-1.2zM634.18 390.1h1.2v1.2h-1.2zM631.42 390.44h1.2v1.2h-1.2zM633.42 389.79h1.2v1.2h-1.2zM628.8 392.36h1.2v1.2h-1.2zM630.12 391.13h1.2v1.2h-1.2zM629.84 392.04h1.2v1.2h-1.2zM637.84 387.91h1.2v1.2h-1.2zM628.54 392.52h1.2v1.2h-1.2zM628.23 391.93h1.2v1.2h-1.2zM636.46 388.31h1.2v1.2h-1.2zM639.41 388.63h1.2v1.2h-1.2zM631.11 392.16h1.2v1.2h-1.2zM635.07 389.37h1.2v1.2h-1.2zM633.34 389.99h1.2v1.2h-1.2zM634.2 390.34h1.2v1.2h-1.2zM633.21 389.16h1.2v1.2h-1.2zM627.7 391.79h1.2v1.2h-1.2zM633.77 391.36h1.2v1.2h-1.2zM630.71 391.7h1.2v1.2h-1.2zM639.96 387.75h1.2v1.2h-1.2zM630.73 392.14h1.2v1.2h-1.2zM628.5 393h1.2v1.2h-1.2zM628.38 390.82h1.2v1.2h-1.2zM634.13 388.94h1.2v1.2h-1.2zM640.87 387.66h1.2v1.2h-1.2zM649.75 384.23h1.2v1.2h-1.2zM647.48 385.29h1.2v1.2h-1.2zM651.23 384.62h1.2v1.2h-1.2zM649.77 385.5h1.2v1.2h-1.2zM646.32 386.1h1.2v1.2h-1.2zM647.01 385.64h1.2v1.2h-1.2zM649.39 383.99h1.2v1.2h-1.2zM648.57 385.98h1.2v1.2h-1.2zM649.64 384.24h1.2v1.2h-1.2zM644.57 386.69h1.2v1.2h-1.2zM647.55 384.41h1.2v1.2h-1.2zM647.16 385.79h1.2v1.2h-1.2zM650.68 385.09h1.2v1.2h-1.2zM647.32 385.89h1.2v1.2h-1.2zM664.29 380.77h1.2v1.2h-1.2zM661.25 382.16h1.2v1.2h-1.2zM666.21 379.81h1.2v1.2h-1.2zM663.23 381.42h1.2v1.2h-1.2zM665.39 380.1h1.2v1.2h-1.2zM660.9 382.63h1.2v1.2h-1.2zM666.08 380.42h1.2v1.2h-1.2zM665.97 379.47h1.2v1.2h-1.2zM661.95 380.92h1.2v1.2h-1.2zM660.01 380.4h1.2v1.2h-1.2zM663.36 380h1.2v1.2h-1.2zM660.5 380.54h1.2v1.2h-1.2zM667.64 380.3h1.2v1.2h-1.2zM662.31 379.64h1.2v1.2h-1.2zM667.99 378.76h1.2v1.2h-1.2zM658.7 381.75h1.2v1.2h-1.2zM664.22 380.31h1.2v1.2h-1.2zM667.04 378.85h1.2v1.2h-1.2zM619.88 393.85h1.2v1.2h-1.2zM619.72 391.61h1.2v1.2h-1.2zM622.87 394.42h1.2v1.2h-1.2zM619.36 391.95h1.2v1.2h-1.2zM616.78 394.65h1.2v1.2h-1.2zM627.27 390.35h1.2v1.2h-1.2zM626.38 391.3h1.2v1.2h-1.2zM618.15 391.01h1.2v1.2h-1.2zM625.57 392.06h1.2v1.2h-1.2zM623.77 393.21h1.2v1.2h-1.2zM622.11 391.85h1.2v1.2h-1.2zM617.05 392.13h1.2v1.2h-1.2zM616.43 393.47h1.2v1.2h-1.2zM618.83 395.01h1.2v1.2h-1.2zM621.31 391.46h1.2v1.2h-1.2zM625.16 390.93h1.2v1.2h-1.2zM625.07 392.2h1.2v1.2h-1.2zM625.07 390.35h1.2v1.2h-1.2zM620.56 390.48h1.2v1.2h-1.2zM619.18 389.97h1.2v1.2h-1.2zM617.1 392.72h1.2v1.2h-1.2zM623.34 389.84h1.2v1.2h-1.2zM622.03 392.94h1.2v1.2h-1.2zM620.62 392.35h1.2v1.2h-1.2zM611.08 385.48h1.2v1.2h-1.2zM610.9 386.73h1.2v1.2h-1.2zM605.27 392.15h1.2v1.2h-1.2zM613.58 384.75h1.2v1.2h-1.2zM607.46 390.48h1.2v1.2h-1.2zM601.09 390.05h1.2v1.2h-1.2zM605.08 391.03h1.2v1.2h-1.2zM601.71 394.25h1.2v1.2h-1.2zM610.6 389.93h1.2v1.2h-1.2zM609.61 387.38h1.2v1.2h-1.2zM611.91 389.31h1.2v1.2h-1.2zM603.63 395.9h1.2v1.2h-1.2zM608.78 388.85h1.2v1.2h-1.2zM615.74 387.78h1.2v1.2h-1.2zM612.07 386.02h1.2v1.2h-1.2zM607.01 389.43h1.2v1.2h-1.2zM617.3 390.51h1.2v1.2h-1.2zM613.75 387.9h1.2v1.2h-1.2zM604.63 390.35h1.2v1.2h-1.2zM603.39 390.78h1.2v1.2h-1.2zM602.87 394.29h1.2v1.2h-1.2zM606.09 393.07h1.2v1.2h-1.2zM607.42 394.41h1.2v1.2h-1.2zM607.55 389.64h1.2v1.2h-1.2zM616.32 390.01h1.2v1.2h-1.2zM602.09 394.93h1.2v1.2h-1.2zM609.73 389.69h1.2v1.2h-1.2zM615.28 386.96h1.2v1.2h-1.2zM613.7 391.21h1.2v1.2h-1.2zM602.96 390.26h1.2v1.2h-1.2zM612.92 388.95h1.2v1.2h-1.2zM605.21 389h1.2v1.2h-1.2zM606.49 388.27h1.2v1.2h-1.2zM611.68 389.42h1.2v1.2h-1.2zM615.67 388.75h1.2v1.2h-1.2zM609.52 387.04h1.2v1.2h-1.2zM611.48 387.65h1.2v1.2h-1.2zM604.78 391.21h1.2v1.2h-1.2zM601.68 393.58h1.2v1.2h-1.2zM612.76 390.75h1.2v1.2h-1.2zM614.31 389.24h1.2v1.2h-1.2zM601.76 388.12h1.2v1.2h-1.2zM601.41 392.21h1.2v1.2h-1.2zM617.03 386h1.2v1.2h-1.2zM603.38 392.15h1.2v1.2h-1.2zM599.98 393.64h1.2v1.2h-1.2zM611.01 388.95h1.2v1.2h-1.2zM614.62 386.43h1.2v1.2h-1.2zM611.63 389.56h1.2v1.2h-1.2zM612.69 391.61h1.2v1.2h-1.2zM606.4 388.62h1.2v1.2h-1.2zM613.57 391.82h1.2v1.2h-1.2zM610.46 390.83h1.2v1.2h-1.2zM601.58 390.77h1.2v1.2h-1.2zM615.25 387.96h1.2v1.2h-1.2zM612.65 385.14h1.2v1.2h-1.2zM599.31 393.25h1.2v1.2h-1.2zM603.24 389.22h1.2v1.2h-1.2zM600.88 391.47h1.2v1.2h-1.2zM608.73 386.76h1.2v1.2h-1.2z"/>
<path fill="#1dbf74" d="M654.6 385.48h2l-1 -1.6zM666.53 381.88h2l-1 -1.6zM659.05 384.21h2l-1 -1.6zM656.48 384.51h2l-1 -1.6zM630.93 393.77h2l-1 -1.6zM659.27 383.77h2l-1 -1.6zM654.83 385.67h2l-1 -1.6zM623.25 397.91h2l-1 -1.6zM623.62 397.24h2l-1 -1.6zM625.04 396.4h2l-1 -1.6zM655.41 385.65h2l-1 -1.6zM622.83 397.21h2l-1 -1.6zM653.22 386.24h2l-1 -1.6zM618.81 399.02h2l-1 -1.6zM633.92 393.38h2l-1 -1.6zM619.23 399.11h2l-1 -1.6zM647.55 389.32h2l-1 -1.6zM659.52 385.3h2l-1 -1.6zM651.17 387.39h2l-1 -1.6zM636.39 391.32h2l-1 -1.6zM626.17 395.99h2l-1 -1.6zM617.24 399.5h2l-1 -1.6zM645.33 388.85h2l-1 -1.6zM620.81 399.09h2l-1 -1.6zM653.7 387.06h2l-1 -1.6zM660.41 383.36h2l-1 -1.6zM617.57 400.77h2l-1 -1.6zM658.93 384.44h2l-1 -1.6zM662.54 384.14h2l-1 -1.6zM656.51 385.41h2l-1 -1.6zM659.16 384.08h2l-1 -1.6zM616.39 399.02h2l-1 -1.6zM625.49 396.55h2l-1 -1.6zM628.88 396.45h2l-1 -1.6zM655.4 385.21h2l-1 -1.6zM648.36 388.24h2l-1 -1.6zM649.76 387.8h2l-1 -1.6zM666.7 381.62h2l-1 -1.6zM637.03 394.49h2l-1 -1.6zM619.91 399.26h2l-1 -1.6zM645.19 388.43h2l-1 -1.6zM643.64 389.47h2l-1 -1.6zM621.02 398.29h2l-1 -1.6zM665.47 381.25h2l-1 -1.6zM657.5 384.87h2l-1 -1.6zM618.17 399.86h2l-1 -1.6zM620.31 399.68h2l-1 -1.6zM637 391.78h2l-1 -1.6zM627.1 396.17h2l-1 -1.6zM661.26 383.71h2l-1 -1.6zM571.57 413.19h2l-1 -1.6zM568 413.6h2l-1 -1.6zM569.9 413.95h2l-1 -1.6zM572.97 413.69h2l-1 -1.6zM577.23 413.59h2l-1 -1.6zM572.97 414.15h2l-1 -1.6zM575.32 414.99h2l-1 -1.6zM577.99 412.06h2l-1 -1.6zM579.43 413h2l-1 -1.6zM575.18 412.58h2l-1 -1.6zM569.88 413.81h2l-1 -1.6zM575.91 413.66h2l-1 -1.6zM574.98 412.93h2l-1 -1.6zM567.05 412.63h2l-1 -1.6zM573.58 412.83h2l-1 -1.6zM570.62 413.94h2l-1 -1.6zM577.37 412.32h2l-1 -1.6zM572.76 413.32h2l-1 -1.6zM567.26 414.39h2l-1 -1.6zM578.97 412.97h2l-1 -1.6zM570.62 412.6h2l-1 -1.6zM573 413.59h2l-1 -1.6zM575.97 414.61h2l-1 -1.6zM579.11 412.67h2l-1 -1.6zM574.66 413.67h2l-1 -1.6zM569.82 414.27h2l-1 -1.6zM603.3 414.1h2l-1 -1.6zM612 402.6h2l-1 -1.6zM616.4 408.1h2l-1 -1.6zM618.6 409.8h2l-1 -1.6zM617.5 408.8h2l-1 -1.6zM625.3 404.5h2l-1 -1.6zM636.7 396.6h2l-1 -1.6zM641 395.8h2l-1 -1.6zM611.3 402.8h2l-1 -1.6zM616.5 408h2l-1 -1.6zM613.5 401.3h2l-1 -1.6zM615 398.8h2l-1 -1.6zM619 397.8h2l-1 -1.6z"/>
<line x1="645.5" y1="330.4" x2="645.5" y2="419" stroke="#ff3b3b" stroke-width="0.8" stroke-dasharray="1.9,1.25" />
<line x1="561" y1="398.9" x2="673.75" y2="398.9" stroke="#ff3b3b" stroke-width="0.8" stroke-dasharray="1.9,1.25" />
<line x1="561.1" y1="415.8" x2="673.6" y2="392.5" stroke="#000" stroke-width="0.6" />
<line x1="560.5" y1="330.4" x2="560.5" y2="419" stroke="#6e6e6e" stroke-width="0.9" />
<line x1="560.5" y1="419" x2="673.75" y2="419" stroke="#6e6e6e" stroke-width="0.9" />
<line x1="559.3" y1="348.75" x2="560.5" y2="348.75" stroke="#6e6e6e" stroke-width="0.5" />
<text x="558.8" y="350.75" font-size="5.6" text-anchor="end" font-weight="normal" fill="#222"   stroke="#222" stroke-width="0.1">30</text>
<line x1="559.3" y1="371" x2="560.5" y2="371" stroke="#6e6e6e" stroke-width="0.5" />
<text x="558.8" y="373" font-size="5.6" text-anchor="end" font-weight="normal" fill="#222"   stroke="#222" stroke-width="0.1">20</text>
<line x1="559.3" y1="393.1" x2="560.5" y2="393.1" stroke="#6e6e6e" stroke-width="0.5" />
<text x="558.8" y="395.1" font-size="5.6" text-anchor="end" font-weight="normal" fill="#222"   stroke="#222" stroke-width="0.1">10</text>
<line x1="559.3" y1="415.25" x2="560.5" y2="415.25" stroke="#6e6e6e" stroke-width="0.5" />
<text x="558.8" y="417.25" font-size="5.6" text-anchor="end" font-weight="normal" fill="#222"   stroke="#222" stroke-width="0.1">0</text>
<line x1="565.9" y1="419" x2="565.9" y2="420.3" stroke="#6e6e6e" stroke-width="0.5" />
<text x="565.9" y="425.4" font-size="5.6" text-anchor="middle" font-weight="normal" fill="#222"   stroke="#222" stroke-width="0.1">0.0</text>
<line x1="593.1" y1="419" x2="593.1" y2="420.3" stroke="#6e6e6e" stroke-width="0.5" />
<text x="593.1" y="425.4" font-size="5.6" text-anchor="middle" font-weight="normal" fill="#222"   stroke="#222" stroke-width="0.1">2.5</text>
<line x1="620.4" y1="419" x2="620.4" y2="420.3" stroke="#6e6e6e" stroke-width="0.5" />
<text x="620.4" y="425.4" font-size="5.6" text-anchor="middle" font-weight="normal" fill="#222"   stroke="#222" stroke-width="0.1">5.0</text>
<line x1="647.6" y1="419" x2="647.6" y2="420.3" stroke="#6e6e6e" stroke-width="0.5" />
<text x="647.6" y="425.4" font-size="5.6" text-anchor="middle" font-weight="normal" fill="#222"   stroke="#222" stroke-width="0.1">7.5</text>
<text transform="translate(547.9,320.3) rotate(-90)" font-size="8.5" text-anchor="middle" stroke="#000" stroke-width="0.15">&#8722;<tspan dx="1.0">log</tspan><tspan font-size="5.4" dy="1.4">10</tspan><tspan dy="-1.4" font-style="italic">P</tspan></text>
<text x="617.8" y="433.4" font-size="7.6" text-anchor="middle" stroke="#000" stroke-width="0.15">TrajGWAS<tspan dx="2.6">&#8722;</tspan><tspan dx="0.6">log</tspan><tspan font-size="5.3" dy="1.3">10</tspan><tspan dy="-1.3" font-style="italic">P</tspan></text>
<text transform="translate(678.6,268) rotate(90)" font-size="7.7" text-anchor="middle" stroke="#000" stroke-width="0.15">Testing for &#946;<tspan font-size="5.3" dy="1.3">g</tspan><tspan dy="-1.3"> = 0</tspan></text>
<text transform="translate(678.6,377) rotate(90)" font-size="7.7" text-anchor="middle" stroke="#000" stroke-width="0.15">Testing for &#964;<tspan font-size="5.3" dy="1.3">g</tspan><tspan dy="-1.3"> = 0</tspan></text>
<circle cx="574.2" cy="448.4" r="2.3" fill="#f8766d"/>
<text x="579.5" y="451.4" font-size="7.6" stroke="#000" stroke-width="0.15">SPA<tspan font-size="5.6" dy="1.3">GRM</tspan></text>
<polygon points="610.3,451 617.7,451 614,445" fill="#1dbf74"/>
<text x="619.2" y="451.4" font-size="7.6" stroke="#000" stroke-width="0.15">SPA<tspan font-size="5.6" dy="1.3" letter-spacing="0.3">GRM(CCT)</tspan></text>
</svg></body></html>
